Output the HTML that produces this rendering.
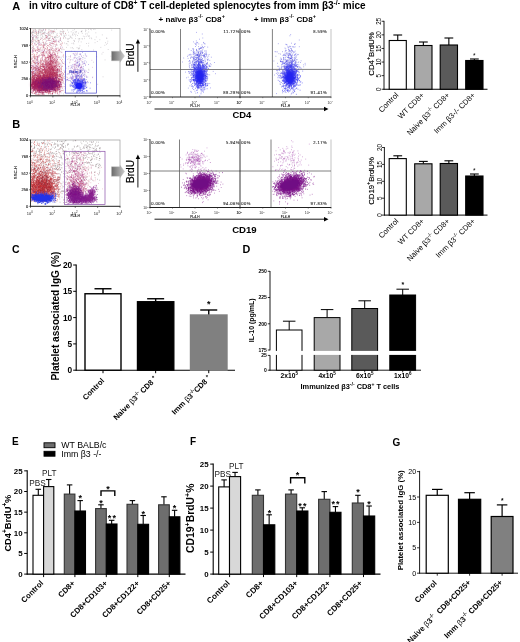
<!DOCTYPE html><html><head><meta charset="utf-8"><title>Figure</title>
<style>html,body{margin:0;padding:0;background:#fff}svg{display:block}text{font-family:'Liberation Sans', Arial, sans-serif}</style></head><body>
<svg width="520" height="642" viewBox="0 0 520 642">
<defs><linearGradient id="ag" x1="0" x2="1" y1="0" y2="0"><stop offset="0" stop-color="#6a6a6a"/><stop offset="1" stop-color="#c8c8c8"/></linearGradient>
<filter id="b1" x="-20%" y="-20%" width="140%" height="140%"><feGaussianBlur stdDeviation="0.4"/></filter>
<filter id="b3" x="-50%" y="-50%" width="200%" height="200%"><feGaussianBlur stdDeviation="0.9"/></filter><filter id="b2" x="-50%" y="-50%" width="200%" height="200%"><feGaussianBlur stdDeviation="1.6"/></filter>
</defs>
<rect width="520" height="642" fill="#fff"/>
<text x="12.20" y="9.60" font-size="11" font-weight="bold" fill="#000">A</text>
<text x="29.00" y="8.80" font-size="10" font-weight="bold" fill="#000">in vitro culture of CD8<tspan font-size="0.68em" dy="-0.62em">+</tspan><tspan dy="0.422em">&#8203;</tspan> T cell-depleted splenocytes from imm β3<tspan font-size="0.68em" dy="-0.62em">-/-</tspan><tspan dy="0.422em">&#8203;</tspan> mice</text>
<text x="158.60" y="21.80" font-size="8.1" font-weight="bold" fill="#000">+ naïve β3<tspan font-size="0.68em" dy="-0.62em">-/-</tspan><tspan dy="0.422em">&#8203;</tspan> CD8<tspan font-size="0.68em" dy="-0.62em">+</tspan><tspan dy="0.422em">&#8203;</tspan></text>
<text x="253.70" y="21.70" font-size="8.1" font-weight="bold" fill="#000">+ imm β3<tspan font-size="0.68em" dy="-0.62em">-/-</tspan><tspan dy="0.422em">&#8203;</tspan> CD8<tspan font-size="0.68em" dy="-0.62em">+</tspan><tspan dy="0.422em">&#8203;</tspan></text>
<text x="12.30" y="127.80" font-size="11" font-weight="bold" fill="#000">B</text>
<text x="12.00" y="253.40" font-size="10.5" font-weight="bold" fill="#000">C</text>
<text x="242.60" y="253.30" font-size="10.8" font-weight="bold" fill="#000">D</text>
<text x="12.00" y="444.60" font-size="10" font-weight="bold" fill="#000">E</text>
<text x="190.00" y="444.60" font-size="10" font-weight="bold" fill="#000">F</text>
<text x="392.50" y="445.60" font-size="10" font-weight="bold" fill="#000">G</text>
<rect x="30.50" y="28.50" width="89.50" height="67.30" fill="#fff" stroke="#9a9a9a" stroke-width="0.7"/>
<line x1="30.50" y1="28.20" x2="30.50" y2="96.10" stroke="#222" stroke-width="0.9"/>
<line x1="30.20" y1="95.80" x2="120.30" y2="95.80" stroke="#222" stroke-width="0.9"/>
<ellipse cx="45" cy="84.5" rx="14" ry="5.5" fill="#a82860" opacity="0.55" filter="url(#b2)"/>
<ellipse cx="48.5" cy="84" rx="7" ry="3.8" fill="#841878" opacity="0.65" filter="url(#b2)"/>
<ellipse cx="50.5" cy="68" rx="5" ry="13" fill="#c04060" opacity="0.25" filter="url(#b2)"/>
<g filter="url(#b1)">
<path transform="scale(.1)" d="m334 291h7m222 1h7m-222 0h7m546 1h7m-514 0h7m28 0h7m511 0h7m-74 1h7m-266 1h7m306 0h7m-201 1h7m163 2h7m-376 1h7m-140 0h7m-32 0h7m464 0h7m-380 0h7m4 0h7m-152 0h7m99 1h7m-31 0h7m-33 1h7m24 0h7m231 0h7m435 0h7m-774 1h7m372 1h7m-407 0h7m178 1h7m338 1h7m-443 2h7m-18 1h7m401 0h7m-461 1h7m148 0h7m0 0h7m-150 1h7m235 1h7m-1 0h7m-39 0h7m32 2h7m168 1h7m-274 0h7m-205 1h7m173 0h7m-147 0h7m25 0h7m-44 1h7m372 0h7m-156 0h7m234 0h7m-52 1h7m-1 0h7m-220 0h7m100 1h7m33 0h7m-402 1h7m165 0h7m-209 1h7m110 0h7m-46 0h7m-91 0h7m560 0h7m-514 1h7m-64 0h7m354 1h7m-362 0h7m71 0h7m40 0h7m23 0h7m-153 0h7m65 1h7m314 1h7m-109 0h7m-199 1h7m106 0h7m-217 1h7m141 1h7m-49 0h7m-122 0h7m421 0h7m-372 0h7m132 0h7m418 1h7m-525 1h7m-123 1h7m52 0h7m243 1h7m-10 0h7m-214 0h7m83 0h7m-201 0h7m57 1h7m-22 0h7m223 0h7m181 0h7m77 1h7m-221 0h7m-54 0h7m206 0h7m-258 1h7m-45 2h7m-104 0h7m-62 0h7m341 0h7m-317 1h7m93 0h7m-32 1h7m-25 0h7m-167 0h7m45 0h7m108 0h7m-42 1h7m-74 0h7m245 0h7m215 1h7m-495 1h7m371 1h7m7 2h7m-198 0h7m40 1h7m-204 1h7m-6 1h7m299 0h7m-251 1h7m-160 0h7m149 1h7m531 0h7m-157 1h7m-373 0h7m-17 1h7m159 0h7m60 1h7m-86 0h7m31 1h7m-308 0h7m220 0h7m-137 1h7m-34 1h7m310 0h7m-405 0h7m74 2h7m-42 0h7m-79 1h7m98 0h7m-59 0h7m-89 0h7m24 0h7m10 0h7m186 0h7m-118 1h7m296 0h7m-117 0h7m241 0h7m-265 0h7m-301 1h7m249 1h7m105 0h7m174 1h7m-14 0h7m-57 0h7m-362 1h7m377 1h7m-223 1h7m-225 1h7m120 1h7m-200 0h7m475 1h7m-346 0h7m38 0h7m145 1h7m-121 0h7m368 1h7m-407 1h7m-188 0h7m41 0h7m269 1h7m-377 0h7m205 0h7m-8 1h7m-8 1h7m-25 0h7m118 0h7m-160 2h7m211 0h7m-399 0h7m120 0h7m113 0h7m-250 1h7m216 1h7m-177 1h7m-14 0h7m25 0h7m497 0h7m149 0h7m-741 2h7m-4 0h7m128 0h7m4 0h7m-163 1h7m563 0h7m-245 1h7m-342 0h7m390 1h7m-33 0h7m-66 1h7m426 0h7m-232 1h7m-95 0h7m32 1h7m-116 0h7m-209 0h7m-120 0h7m118 0h7m317 0h7m91 0h7m-500 1h7m242 0h7m118 0h7m-23 0h7m-463 0h7m157 0h7m327 1h7m-473 0h7m236 0h7m-2 1h7m-83 0h7m-88 1h7m-123 0h7m31 2h7m25 1h7m-87 1h7m9 0h7m603 1h7m42 1h7m-325 0h7m-125 2h7m-56 1h7m270 1h7m-316 0h7m-101 1h7m-81 1h7m285 0h7m-258 0h7m377 1h7m-356 3h7m-13 0h7m-74 1h7m420 0h7m-365 0h7m70 0h7m68 2h7m534 2h7m-495 0h7m-267 1h7m277 1h7m-300 0h7m418 1h7m219 0h7m-302 0h7m-166 0h7m-172 1h7m5 0h7m16 0h7m291 0h7m93 2h7m18 1h7m-505 1h7m274 2h7m-262 1h7m44 1h7m25 1h7m627 2h7m-746 0h7m177 0h7m442 0h7m-457 1h7m229 2h7m-368 0h7m264 0h7m-202 1h7m616 1h7m-194 1h7m-441 0h7m259 1h7m137 1h7m-491 1h7m224 0h7m45 1h7m-234 0h7m227 0h7m62 2h7m-303 3h7m86 0h7m523 1h7m-616 0h7m-103 3h7m191 1h7m10 4h7m97 0h7m362 2h7m-256 5h7m78 1h7m-372 3h7m-195 1h7m218 1h7m-142 5h7m94 2h7m137 3h7m335 0h7m-409 2h7m157 0h7m-53 0h7m-294 0h7m265 2h7m78 1h7m-474 0h7m233 2h7m209 1h7m-473 1h7m407 3h7m53 1h7m-456 1h7m433 1h7m-174 0h7m-121 0h7m10 2h7m-124 1h7m12 1h7m-96 0h7m302 2h7m-261 0h7m688 0h7m-270 1h7m-207 1h7m-123 2h7m424 1h7m-565 2h7m62 4h7m49 3h7m-173 2h7m51 1h7m313 0h7m-165 1h7m-171 1h7m350 0h7m-150 4h7m-204 3h7m156 1h7m453 2h7m-18 16h7m-257 3h7m61 14h7m-91 0h7m-233 5h7m576 0h7m-772 2h7m337 2h7m271 1h7m-465 1h7m149 0h7m-282 2h7m238 2h7m-300 0h7m484 5h7m-230 5h7m-264 6h7m442 3h7m-132 3h7m25 1h7m334 4h7m-682 9h7m-50 0h7m477 2h7m-124 11h7m227 1h7m-316 5h7m-269 4h7m-21 2h7m126 13h7m-48 35h7m67 3h7m366 9h7m-536 1h7m524 7h7m-333 17h7m-2 3h7m69 3h7m-1 24h7m-85 7h7m-46 5h7m105 6h7m378 2h7m-625 8h7m285 64h7m266 3h7m-651 51h7m46 4h7m242 41h7" stroke="#8a8088" stroke-width="7" fill="none" opacity="0.6"/>
<path transform="scale(.1)" d="m316 291h7m131 3h7m-110 6h7m35 2h7m102 2h7m-178 3h7m78 0h7m-88 7h7m197 1h7m81 1h7m-141 2h7m-19 2h7m-125 2h7m12 0h7m-29 2h7m-55 4h7m37 3h7m113 0h7m-137 2h7m297 3h7m-233 1h7m177 0h7m-181 0h7m-41 3h7m196 3h7m-249 4h7m-48 2h7m170 3h7m-9 1h7m70 3h7m-254 1h7m128 0h7m-8 0h7m48 7h7m3 1h7m-173 4h7m-1 0h7m259 7h7m-283 0h7m-41 1h7m128 4h7m-19 7h7m5 3h7m-141 1h7m156 2h7m-58 1h7m-36 0h7m188 4h7m-278 3h7m252 0h7m-268 1h7m13 1h7m31 0h7m103 1h7m-130 1h7m42 1h7m123 5h7m-190 1h7m13 1h7m-69 2h7m201 0h7m40 2h7m-133 5h7m-82 3h7m233 0h7m-237 0h7m35 1h7m101 2h7m-224 2h7m185 3h7m101 2h7m-282 0h7m-35 0h7m81 5h7m19 2h7m-129 1h7m227 1h7m-59 1h7m-7 0h7m98 0h7m-220 1h7m-2 1h7m15 0h7m-101 1h7m90 1h7m-64 0h7m39 1h7m-63 1h7m67 1h7m5 1h7m-8 0h7m5 0h7m159 1h7m-146 0h7m-82 0h7m68 1h7m-33 0h7m-127 3h7m95 2h7m95 0h7m-168 5h7m86 1h7m-36 1h7m51 0h7m-67 1h7m-58 1h7m119 2h7m-183 1h7m98 1h7m-120 1h7m78 1h7m89 3h7m59 3h7m-149 0h7m146 0h7m-256 3h7m33 0h7m-2 0h7m88 0h7m-77 2h7m152 0h7m-117 2h7m-18 1h7m-100 0h7m273 1h7m-167 1h7m-93 2h7m-8 0h7m-66 2h7m41 0h7m-18 2h7m120 1h7m-64 0h7m99 1h7m-135 1h7m-45 0h7m-39 0h7m168 1h7m-195 1h7m194 0h7m-181 0h7m-21 2h7m30 0h7m-25 1h7m166 0h7m18 0h7m-210 2h7m27 0h7m82 2h7m-14 3h7m-124 1h7m30 1h7m39 1h7m-115 0h7m-13 1h7m138 3h7m-33 0h7m171 2h7m-194 0h7m-8 2h7m112 1h7m-191 0h7m44 0h7m125 3h7m-92 1h7m-28 1h7m131 0h7m-79 1h7m-88 0h7m-58 1h7m26 5h7m-78 1h7m139 1h7m-72 0h7m-57 0h7m-48 3h7m179 0h7m-85 1h7m-122 1h7m40 2h7m-29 0h7m284 1h7m-229 1h7m9 0h7m-17 1h7m-108 0h7m66 1h7m19 1h7m9 1h7m-92 0h7m81 0h7m45 0h7m-75 0h7m107 0h7m-197 1h7m226 1h7m-70 1h7m-39 0h7m142 0h7m-231 0h7m99 1h7m-76 1h7m-66 1h7m43 0h7m57 0h7m-59 0h7m57 0h7m-182 1h7m133 1h7m-88 0h7m-34 0h7m105 1h7m15 0h7m-85 1h7m123 1h7m-19 0h7m-101 0h7m-81 1h7m248 0h7m-291 0h7m8 1h7m4 1h7m-5 0h7m154 1h7m-208 1h7m18 0h7m-8 1h7m-40 0h7m17 1h7m143 1h7m-166 1h7m78 0h7m-13 2h7m82 2h7m-171 0h7m114 1h7m-93 0h7m123 1h7m68 0h7m-145 1h7m56 1h7m32 0h7m-133 0h7m-57 2h7m40 0h7m-74 0h7m125 0h7m-34 1h7m-147 1h7m130 0h7m-142 2h7m46 0h7m27 1h7m-67 0h7m66 1h7m-84 1h7m117 2h7m-160 1h7m85 4h7m214 0h7m-60 0h7m-262 0h7m42 0h7m2 0h7m-6 0h7m62 2h7m50 1h7m-99 1h7m142 2h7m-26 1h7m-183 0h7m-44 0h7m212 1h7m-142 1h7m-60 0h7m39 0h7m-72 1h7m94 0h7m-41 1h7m141 0h7m-108 1h7m-82 1h7m25 0h7m85 1h7m62 0h7m-149 0h7m18 0h7m-126 0h7m150 1h7m-173 1h7m217 0h7m-212 0h7m111 0h7m-36 1h7m65 0h7m68 0h7m-236 1h7m22 0h7m-70 1h7m179 0h7m-2 1h7m-21 0h7m-100 1h7m-73 1h7m128 1h7m-98 1h7m94 0h7m-75 0h7m18 1h7m74 1h7m51 0h7m-253 1h7m217 0h7m34 0h7m-269 1h7m235 1h7m-50 2h7m-103 1h7m14 0h7m-121 0h7m20 0h7m-29 0h7m131 0h7m-97 1h7m-90 0h7m-2 1h7m228 0h7m6 1h7m-20 0h7m-77 0h7m-134 1h7m44 0h7m43 1h7m-109 1h7m15 0h7m-35 1h7m95 0h7m141 0h7m-173 0h7m111 0h7m-132 1h7m-121 1h7m88 0h7m16 1h7m41 0h7m-51 2h7m-113 0h7m64 0h7m241 0h7m-308 1h7m50 0h7m-27 0h7m-37 0h7m224 1h7m-111 0h7m-16 1h7m-58 0h7m-20 1h7m-28 1h7m258 0h7m-244 0h7m-3 1h7m70 0h7m1 1h7m16 2h7m-110 0h7m136 0h7m-86 1h7m53 0h7m-115 0h7m-20 0h7m36 1h7m-76 0h7m137 1h7m-66 0h7m-58 1h7m8 1h7m-132 0h7m130 1h7m-84 0h7m2 1h7m-45 0h7m57 1h7m-57 0h7m-12 1h7m280 0h7m-299 0h7m-16 0h7m44 1h7m-74 1h7m143 2h7m21 0h7m92 0h7m-212 0h7m204 0h7m-213 1h7m17 0h7m-5 1h7m75 0h7m-32 0h7m-129 1h7m212 1h7m-277 0h7m138 0h7m28 2h7m-117 0h7m144 1h7m-214 0h7m3 0h7m-18 1h7m-21 2h7m20 1h7m4 0h7m28 2h7m-70 0h7m42 1h7m119 0h7m29 0h7m-18 1h7m22 0h7m-46 1h7m20 0h7m-179 0h7m-42 1h7m21 1h7m152 1h7m-217 0h7m183 0h7m-138 1h7m7 0h7m-63 2h7m7 0h7m34 0h7m-24 0h7m164 1h7m-84 0h7m-110 2h7m54 0h7m-15 1h7m85 0h7m-152 0h7m-34 1h7m260 0h7m-198 0h7m-71 1h7m118 0h7m-91 1h7m117 0h7m-27 1h7m-150 0h7m104 0h7m85 1h7m-169 0h7m-85 1h7m241 0h7m-233 0h7m17 1h7m11 0h7m137 2h7m-21 0h7m33 0h7m-74 1h7m-168 0h7m153 1h7m55 0h7m-29 1h7m-167 0h7m-5 0h7m66 0h7m-51 0h7m201 1h7m-149 0h7m-82 2h7m65 0h7m112 0h7m31 0h7m-95 0h7m-176 1h7m47 2h7m35 1h7m-36 1h7m-50 0h7m-13 0h7m5 1h7m14 0h7m141 0h7m-160 1h7m189 0h7m-12 0h7m-94 1h7m-120 0h7m94 0h7m-100 0h7m19 0h7m-105 1h7m30 0h7m-19 0h7m-26 0h7m137 0h7m-80 1h7m87 0h7m67 0h7m19 1h7m-208 0h7m-77 0h7m-12 0h7m84 1h7m-81 0h7m123 1h7m37 0h7m-102 1h7m41 0h7m-86 1h7m-78 0h7m239 0h7m-189 0h7m255 0h7m-158 0h7m153 1h7m-251 0h7m-46 0h7m47 0h7m-59 0h7m0 1h7m120 1h7m-157 0h7m291 0h7m-206 0h7m-69 0h7m112 0h7m-152 1h7m27 0h7m49 0h7m-145 0h7m72 1h7m21 1h7m-54 0h7m55 0h7m-127 1h7m268 0h7m-132 0h7m11 1h7m9 0h7m-77 0h7m-47 0h7m-47 1h7m12 0h7m-53 0h7m231 1h7m-72 0h7m-150 0h7m71 0h7m79 1h7m126 2h7m-193 0h7m-145 0h7m62 0h7m151 1h7m-239 0h7m46 0h7m13 0h7m107 1h7m6 0h7m-27 1h7m-82 0h7m-42 0h7m-77 2h7m51 0h7m119 1h7m-25 0h7m57 0h7m-218 1h7m285 0h7m-221 0h7m-88 0h7m92 2h7m37 1h7m-80 0h7m-19 0h7m-38 0h7m2 1h7m-40 0h7m-26 1h7m99 0h7m193 0h7m-274 2h7m24 0h7m78 2h7m28 0h7m-82 0h7m114 0h7m-143 1h7m-4 0h7m177 1h7m-290 0h7m142 0h7m-160 0h7m285 0h7m-182 1h7m-100 0h7m99 1h7m-138 0h7m-7 0h7m-6 1h7m23 0h7m67 0h7m-10 1h7m-103 0h7m23 0h7m100 1h7m-40 1h7m-62 1h7m-13 0h7m-38 0h7m107 1h7m49 0h7m-30 1h7m-112 0h7m261 1h7m-255 0h7m146 2h7m-185 0h7m13 0h7m-91 0h7m22 0h7m-27 0h7m22 1h7m-2 0h7m101 0h7m126 0h7m-189 0h7m14 0h7m36 0h7m-81 0h7m-8 1h7m38 0h7m-85 0h7m53 0h7m-96 0h7m1 1h7m20 0h7m180 0h7m-105 0h7m79 0h7m-228 0h7m-12 1h7m134 0h7m-130 0h7m239 1h7m-124 0h7m-155 0h7m-8 0h7m65 1h7m82 0h7m33 1h7m2 0h7m-34 0h7m-143 1h7m22 0h7m184 0h7m-160 0h7m187 1h7m-69 0h7m-215 1h7m290 0h7m-318 0h7m29 0h7m107 1h7m69 0h7m47 0h7m-295 1h7m-18 0h7m-21 1h7m100 0h7m-36 0h7m-26 1h7m46 0h7m-76 0h7m119 0h7m-39 0h7m-61 0h7m53 1h7m-107 0h7m254 0h7m-158 1h7m-111 0h7m179 2h7m-162 0h7m156 0h7m-90 0h7m-60 0h7m41 0h7m-114 1h7m242 0h7m-276 0h7m51 1h7m76 0h7m-69 1h7m-104 0h7m86 0h7m119 0h7m89 0h7m-318 1h7m10 0h7m247 1h7m-75 1h7m-166 0h7m168 0h7m-116 1h7m-102 0h7m180 1h7m-104 0h7m-108 0h7m20 1h7m-50 0h7m81 0h7m-56 0h7m178 1h7m-92 0h7m-108 0h7m58 0h7m194 1h7m-129 1h7m-32 1h7m-167 0h7m-1 0h7m9 1h7m30 0h7m-59 0h7m112 0h7m128 0h7m-235 0h7m74 1h7m151 0h7m-275 0h7m24 0h7m121 0h7m-119 1h7m48 0h7m72 0h7m-13 0h7m31 0h7m-205 0h7m-6 1h7m-20 0h7m135 0h7m-71 0h7m-10 0h7m-26 1h7m140 1h7m-14 0h7m-97 1h7m-40 0h7m-78 1h7m58 0h7m53 0h7m-129 0h7m65 0h7m-80 0h7m184 1h7m-44 1h7m-130 0h7m-34 0h7m28 0h7m-41 1h7m57 0h7m59 0h7m-43 1h7m-63 1h7m47 0h7m83 0h7m-109 1h7m67 0h7m-172 0h7m22 0h7m178 0h7m-116 1h7m-76 0h7m83 1h7m-94 0h7m191 0h7m-89 0h7m-135 0h7m108 1h7m36 0h7m83 0h7m-136 0h7m-16 0h7m-37 0h7m-80 1h7m8 0h7m83 0h7m81 0h7m-4 0h7m-123 1h7m67 1h7m-87 2h7m80 1h7m-58 1h7m160 0h7m-210 0h7m-100 1h7m-17 0h7m82 2h7m13 0h7m-117 0h7m-12 0h7m81 0h7m-86 1h7m5 0h7m144 0h7m-121 1h7m32 0h7m111 0h7m-209 0h7m8 0h7m76 0h7m39 1h7m21 0h7m-187 0h7m69 1h7m-27 0h7m-55 0h7m78 0h7m230 0h7m-76 0h7m-229 1h7m212 0h7m-186 0h7m117 0h7m-94 0h7m-120 1h7m206 0h7m-142 0h7m2 0h7m-37 1h7m-68 0h7m60 0h7m-36 0h7m145 0h7m-9 0h7m-116 1h7m-16 0h7m-80 0h7m153 0h7m-83 1h7m-87 0h7m304 0h7m-247 1h7m59 0h7m-122 0h7m66 0h7m-73 1h7m-5 0h7m-24 0h7m-4 1h7m19 0h7m71 0h7m116 0h7m-27 1h7m-92 0h7m-153 0h7m146 1h7m-48 0h7m16 1h7m29 0h7m16 0h7m-122 1h7m-39 1h7m-29 0h7m45 0h7m-58 0h7m107 0h7m125 1h7m-93 0h7m-111 1h7m50 0h7m-105 2h7m92 0h7m-99 1h7m-17 0h7m21 0h7m50 0h7m88 0h7m-164 0h7m-70 1h7m214 0h7m-24 0h7m-51 0h7m-96 1h7m34 0h7m57 0h7m-149 1h7m89 0h7m-8 0h7m-85 0h7m192 0h7m-198 1h7m233 0h7m-233 0h7m93 1h7m-92 0h7m22 0h7m132 0h7m-228 1h7m11 0h7m-42 0h7m126 0h7m53 1h7m-3 0h7m-147 0h7m60 0h7m-151 1h7m17 0h7m215 1h7m-235 0h7m25 0h7m58 1h7m41 0h7m-50 0h7m-102 1h7m175 0h7m-208 0h7m85 1h7m-93 0h7m44 0h7m52 0h7m36 0h7m-77 1h7m29 0h7m-14 0h7m96 0h7m-4 1h7m-133 0h7m69 0h7m-28 0h7m87 0h7m-98 1h7m-129 0h7m183 1h7m-191 0h7m23 0h7m-4 0h7m-34 0h7m16 0h7m-75 1h7m59 1h7m105 0h7m-56 0h7m-8 1h7m5 0h7m-94 0h7m126 1h7m-53 0h7m-8 0h7m-86 1h7m107 0h7m-184 0h7m213 1h7m-95 0h7m-27 0h7m-109 0h7m147 0h7m-45 0h7m-86 1h7m-54 0h7m113 0h7m65 0h7m-124 0h7m-45 0h7m13 1h7m267 0h7m-227 0h7m142 0h7m-101 1h7m-140 0h7m-22 0h7m79 0h7m-73 1h7m228 0h7m-277 0h7m144 0h7m-99 1h7m188 0h7m-162 1h7m-82 0h7m219 0h7m-25 0h7m-241 1h7m251 0h7m-54 1h7m-190 1h7m84 0h7m-62 1h7m109 0h7m-110 0h7m64 0h7m-68 0h7m167 0h7m-267 1h7m135 0h7m132 0h7m-231 0h7m173 1h7m-209 0h7m-3 0h7m75 1h7m150 0h7m-129 1h7m-119 0h7m155 0h7m-81 0h7m46 1h7m-175 0h7m99 0h7m60 0h7m-177 0h7m250 0h7m-158 1h7m-77 0h7m-68 1h7m201 0h7m-45 1h7m-172 0h7m10 0h7m12 0h7m22 1h7m-25 1h7m-41 0h7m136 1h7m-131 0h7m-6 0h7m119 0h7m3 1h7m-15 0h7m50 0h7m3 0h7m68 1h7m-263 1h7m115 0h7m63 0h7m-156 1h7m-89 0h7m41 0h7m40 1h7m-97 1h7m206 0h7m-195 0h7m-32 1h7m128 0h7m88 1h7m-47 0h7m-192 1h7m-28 0h7m268 0h7m-128 0h7m-93 1h7m155 0h7m-27 0h7m-163 0h7m199 1h7m-270 0h7m127 0h7m-77 0h7m89 0h7m25 1h7m8 0h7m-190 0h7m144 0h7m-26 0h7m-80 1h7m-3 0h7m-38 0h7m93 1h7m-29 0h7m-43 0h7m-72 0h7m37 0h7m-9 1h7m199 0h7m-178 1h7m35 0h7m-88 0h7m-52 0h7m152 0h7m51 1h7m18 1h7m-161 0h7m-77 0h7m-41 0h7m24 2h7m125 0h7m-85 1h7m-82 0h7m225 0h7m53 0h7m-60 1h7m-243 0h7m105 1h7m173 0h7m-319 1h7m52 1h7m144 1h7m-56 0h7m75 1h7m-148 0h7m18 0h7m-64 1h7m50 0h7m46 1h7m2 2h7m-28 1h7m-153 0h7m50 0h7m128 1h7m-172 1h7m163 0h7m-115 1h7m22 0h7m-108 0h7m46 2h7m67 1h7m-124 0h7m229 1h7m-215 0h7m59 0h7m-140 1h7m314 0h7m-106 0h7m-115 0h7m34 1h7m-130 0h7m64 1h7m-50 0h7m-32 0h7m180 1h7m-151 0h7m53 2h7m20 0h7m-151 4h7m154 2h7" stroke="#c84858" stroke-width="7" fill="none" opacity="0.6"/>
<path transform="scale(.1)" d="m428 298h7m16 5h7m-103 11h7m18 6h7m122 1h7m-17 8h7m-46 6h7m-22 6h7m-126 7h7m12 11h7m123 2h7m-170 5h7m15 2h7m23 4h7m-51 2h7m38 5h7m175 11h7m-24 4h7m-215 3h7m233 6h7m30 2h7m-56 0h7m-163 3h7m59 4h7m55 1h7m49 1h7m-2 3h7m-273 1h7m32 4h7m160 4h7m-34 1h7m-112 4h7m7 1h7m-69 2h7m30 1h7m-43 6h7m34 1h7m65 2h7m-68 0h7m-43 1h7m134 4h7m-67 2h7m-67 3h7m41 6h7m-107 2h7m212 1h7m48 4h7m6 2h7m-253 0h7m-12 3h7m1 3h7m242 2h7m-231 0h7m-86 2h7m225 2h7m-223 7h7m45 1h7m49 5h7m46 1h7m76 5h7m-263 1h7m165 0h7m-183 2h7m260 0h7m-178 4h7m-65 1h7m104 0h7m-51 1h7m-35 1h7m-52 0h7m28 1h7m50 0h7m-119 1h7m94 1h7m155 4h7m-272 1h7m115 0h7m-42 2h7m10 0h7m-118 1h7m43 3h7m-6 0h7m235 0h7m-304 1h7m169 2h7m-46 11h7m46 6h7m31 1h7m-38 1h7m-96 2h7m112 1h7m-130 1h7m84 2h7m-127 0h7m20 2h7m83 3h7m-136 1h7m40 4h7m63 0h7m-128 3h7m116 1h7m79 2h7m-169 0h7m-100 2h7m40 0h7m-71 2h7m286 0h7m-40 2h7m-213 0h7m80 1h7m39 2h7m-9 1h7m-140 3h7m193 1h7m-221 0h7m-37 1h7m93 7h7m-61 0h7m-15 3h7m134 0h7m-153 2h7m59 1h7m49 1h7m-38 0h7m-77 1h7m186 0h7m-77 1h7m-181 2h7m39 5h7m161 1h7m-51 0h7m66 1h7m-250 2h7m62 2h7m3 1h7m-45 0h7m62 4h7m204 2h7m-184 3h7m10 0h7m-116 0h7m-25 1h7m0 1h7m170 0h7m-180 2h7m-25 0h7m35 1h7m93 1h7m54 0h7m-135 2h7m188 0h7m-266 1h7m28 2h7m68 3h7m-30 4h7m-109 2h7m141 0h7m105 1h7m-246 2h7m110 1h7m-67 1h7m116 0h7m33 1h7m-257 3h7m255 0h7m-249 0h7m75 1h7m4 0h7m-131 0h7m108 4h7m-136 0h7m-3 0h7m239 0h7m26 4h7m-232 1h7m-60 0h7m37 1h7m-44 0h7m77 1h7m-87 1h7m32 0h7m0 1h7m43 1h7m20 0h7m-41 1h7m-72 0h7m101 1h7m-5 2h7m120 1h7m-138 0h7m-128 2h7m180 0h7m-4 1h7m-40 0h7m-124 1h7m-49 1h7m213 0h7m-178 1h7m-38 2h7m8 1h7m-32 1h7m13 1h7m287 0h7m-299 2h7m6 1h7m18 0h7m-86 3h7m154 1h7m-172 0h7m115 1h7m-52 0h7m74 1h7m-96 2h7m39 0h7m-67 0h7m183 0h7m-125 1h7m-19 3h7m-113 0h7m16 0h7m0 0h7m-28 0h7m75 1h7m-50 0h7m-11 1h7m8 0h7m181 0h7m-131 1h7m-78 1h7m36 1h7m37 1h7m160 1h7m-67 0h7m-260 0h7m55 1h7m-39 0h7m-13 0h7m10 0h7m-26 0h7m124 0h7m-67 2h7m-80 1h7m31 0h7m261 1h7m-156 0h7m-192 0h7m2 1h7m113 0h7m123 1h7m-23 0h7m-169 2h7m90 0h7m98 0h7m-295 1h7m284 0h7m-31 1h7m-274 0h7m191 1h7m-203 0h7m135 1h7m-52 0h7m-25 0h7m-59 1h7m186 0h7m-143 0h7m167 0h7m-113 1h7m29 2h7m-26 1h7m-102 2h7m210 0h7m-267 0h7m-36 0h7m194 1h7m-35 2h7m-59 1h7m24 1h7m-21 0h7m-133 0h7m5 2h7m7 1h7m132 1h7m-49 1h7m-113 0h7m-17 1h7m124 1h7m-160 0h7m9 0h7m186 0h7m-150 1h7m-37 1h7m3 1h7m-1 2h7m115 0h7m101 2h7m-279 1h7m171 1h7m94 2h7m-117 3h7m45 0h7m-106 0h7m-127 1h7m-16 1h7m45 0h7m200 1h7m45 0h7m-231 0h7m14 1h7m-71 0h7m131 0h7m-183 0h7m265 1h7m-220 0h7m-11 0h7m-66 1h7m144 0h7m-93 0h7m58 1h7m-115 0h7m-4 0h7m33 0h7m-23 0h7m-41 1h7m42 0h7m9 1h7m168 1h7m-121 0h7m-91 2h7m11 0h7m-43 1h7m-7 0h7m15 1h7m11 0h7m56 0h7m-46 0h7m-43 0h7m40 1h7m-1 0h7m16 1h7m84 2h7m-36 0h7m-186 1h7m-12 1h7m140 3h7m-21 0h7m-71 0h7m-43 1h7m8 0h7m-46 1h7m-10 0h7m-32 0h7m-4 0h7m81 0h7m-105 1h7m220 0h7m-216 3h7m8 1h7m66 0h7m-9 0h7m-83 1h7m172 0h7m-163 0h7m10 0h7m-55 2h7m131 0h7m-83 1h7m-71 0h7m186 0h7m-64 0h7m-102 2h7m106 0h7m140 2h7m1 0h7m-315 0h7m0 1h7m12 1h7m67 0h7m-44 1h7m199 1h7m-137 0h7m-159 0h7m164 2h7m-146 2h7m100 1h7m-149 0h7m83 0h7m4 0h7m-80 1h7m54 0h7m76 0h7m53 1h7m-108 1h7m205 0h7m-162 0h7m-155 0h7m116 1h7m-160 0h7m126 0h7m-152 3h7m69 1h7m38 1h7m-28 1h7m-17 0h7m80 0h7m-183 0h7m25 1h7m279 0h7m-219 0h7m-97 1h7m320 0h7m-144 1h7m-104 1h7m1 2h7m141 0h7m-178 1h7m123 0h7m-70 2h7m-146 2h7m196 0h7m-79 0h7m-153 2h7m257 0h7m-282 0h7m184 1h7m33 0h7m70 0h7m-149 1h7m-139 0h7m26 0h7m119 1h7m-184 1h7m31 0h7m-60 0h7m63 1h7m92 2h7m-120 1h7m55 1h7m-110 0h7m-16 1h7m140 0h7m-148 0h7m6 1h7m120 0h7m-57 1h7m-32 0h7m35 0h7m-10 0h7m-70 1h7m83 0h7m76 1h7m-217 0h7m14 1h7m281 0h7m-248 0h7m116 1h7m-116 0h7m146 1h7m-216 0h7m193 2h7m-125 1h7m-95 0h7m-13 0h7m134 1h7m-84 1h7m-40 0h7m-38 0h7m74 1h7m-55 0h7m60 0h7m-129 1h7m33 1h7m280 1h7m-303 0h7m132 0h7m118 0h7m-214 0h7m-48 1h7m-6 1h7m-11 0h7m77 0h7m-59 0h7m181 1h7m-247 0h7m74 1h7m166 0h7m48 0h7m-263 0h7m-45 1h7m-5 0h7m12 1h7m111 0h7m-10 3h7m-63 1h7m41 0h7m71 1h7m17 0h7m-268 1h7m32 0h7m14 1h7m1 0h7m111 0h7m-176 1h7m93 1h7m2 0h7m-93 0h7m47 1h7m-106 0h7m92 1h7m129 1h7m-144 1h7m-34 0h7m-12 0h7m241 0h7m-301 0h7m123 1h7m-123 0h7m-41 1h7m264 0h7m-229 1h7m123 0h7m83 0h7m-128 2h7m21 0h7m-86 2h7m-97 1h7m-21 1h7m201 0h7m-15 1h7m-65 0h7m185 1h7m-265 0h7m7 0h7m170 0h7m-195 1h7m152 0h7m38 0h7m19 0h7m-219 1h7m117 0h7m44 0h7m-236 2h7m151 0h7m-113 1h7m-71 0h7m-20 1h7m-12 0h7m48 0h7m144 0h7m-161 1h7m214 1h7m-172 0h7m-59 1h7m257 0h7m-268 1h7m-44 0h7m7 0h7m63 1h7m-58 1h7m18 0h7m22 1h7m-27 0h7m14 1h7m-117 1h7m248 0h7m-103 1h7m-104 0h7m33 0h7m4 0h7m-60 0h7m-55 0h7m-11 2h7m57 0h7m113 0h7m-214 0h7m30 1h7m99 0h7m-36 0h7m-51 0h7m93 1h7m-18 0h7m-122 0h7m125 1h7m91 0h7m-202 0h7m127 0h7m-33 0h7m-72 1h7m-64 1h7m25 0h7m-11 0h7m-29 0h7m41 0h7m-72 1h7m35 1h7m218 0h7m-287 1h7m-26 2h7m146 1h7m-138 0h7m20 0h7m172 1h7m-182 2h7m79 0h7m-94 0h7m75 2h7m-105 0h7m67 0h7m-119 1h7m33 1h7m40 1h7m-75 1h7m-34 0h7m259 0h7m-203 1h7m-23 0h7m-18 3h7m-19 0h7m-46 1h7m54 1h7m-71 1h7m70 1h7m94 4h7m37 2h7m-180 0h7m59 0h7m172 1h7m-256 0h7m76 1h7m-91 2h7m-46 2h7m28 1h7m213 2h7" stroke="#9040a0" stroke-width="7" fill="none" opacity="0.5"/>
<path transform="scale(.1)" d="m431 532h8m34 44h8m43 10h8m-190 2h8m181 8h8m-116 4h8m179 7h8m-165 0h8m-35 0h8m133 9h8m-168 1h8m53 1h8m-27 4h8m23 2h8m-90 1h8m-64 1h8m25 3h8m196 0h8m-132 0h8m76 1h8m0 1h8m-87 1h8m-56 2h8m201 1h8m-256 0h8m104 0h8m89 3h8m-216 0h8m62 3h8m-88 1h8m82 2h8m95 0h8m-120 0h8m-24 0h8m49 1h8m-88 3h8m36 1h8m-41 1h8m23 2h8m89 1h8m-250 0h8m233 5h8m21 1h8m-102 1h8m-95 0h8m91 0h8m-142 2h8m27 0h8m45 0h8m8 0h8m68 2h8m-84 1h8m-40 0h8m-18 0h8m-12 0h8m71 0h8m-81 1h8m-28 0h8m136 0h8m-33 0h8m-149 1h8m83 0h8m33 1h8m42 0h8m-62 0h8m69 0h8m-183 0h8m-26 0h8m-92 2h8m186 0h8m-78 0h8m46 1h8m-59 1h8m67 0h8m-169 1h8m158 1h8m-100 0h8m-11 1h8m-123 0h8m80 0h8m-23 1h8m-41 0h8m-50 1h8m168 0h8m-66 0h8m52 0h8m-39 1h8m-123 1h8m167 0h8m-78 0h8m-78 1h8m17 0h8m62 1h8m130 0h8m-176 0h8m-140 0h8m123 3h8m107 0h8m-210 0h8m44 0h8m-83 3h8m63 0h8m38 1h8m-42 0h8m-62 1h8m136 1h8m-130 1h8m182 1h8m-204 0h8m59 0h8m-100 0h8m146 0h8m-56 1h8m5 0h8m-157 0h8m137 1h8m12 0h8m118 0h8m-235 0h8m-11 0h8m80 1h8m-53 0h8m113 0h8m-159 1h8m84 0h8m30 0h8m-139 1h8m44 0h8m66 1h8m-27 0h8m-73 0h8m13 1h8m-46 0h8m-21 0h8m104 0h8m9 1h8m-59 0h8m96 0h8m-170 0h8m12 0h8m-64 1h8m16 1h8m76 1h8m40 0h8m-125 1h8m59 0h8m54 1h8m-93 0h8m-63 0h8m101 0h8m-161 0h8m66 1h8m106 0h8m-110 1h8m-70 0h8m62 1h8m28 0h8m-48 0h8m-116 0h8m97 0h8m-16 1h8m-18 0h8m-6 0h8m6 1h8m-11 0h8m65 0h8m-104 1h8m34 0h8m-37 0h8m-79 0h8m-18 0h8m155 0h8m-12 1h8m78 1h8m-94 1h8m-114 0h8m55 1h8m-87 0h8m73 0h8m15 2h8m-113 1h8m-73 0h8m113 0h8m-75 0h8m-8 0h8m89 0h8m-163 0h8m108 1h8m-43 0h8m-10 0h8m125 0h8m-100 0h8m-38 1h8m179 0h8m-159 1h8m-88 0h8m-61 0h8m-7 0h8m108 0h8m0 0h8m44 0h8m-134 1h8m63 0h8m-28 1h8m10 0h8m18 0h8m-66 1h8m52 0h8m16 0h8m-140 1h8m94 0h8m-30 0h8m-128 1h8m68 0h8m128 0h8m-9 1h8m-29 0h8m-109 0h8m149 1h8m-49 0h8m-118 0h8m-111 0h8m124 0h8m84 1h8m-43 0h8m-87 1h8m33 0h8m-66 0h8m85 0h8m-163 0h8m135 1h8m75 0h8m-268 0h8m90 0h8m-43 0h8m67 1h8m78 0h8m-171 0h8m136 0h8m-106 0h8m6 1h8m-60 0h8m130 0h8m-79 0h8m-7 0h8m-41 1h8m109 0h8m-70 1h8m-155 0h8m26 0h8m28 0h8m96 0h8m-119 0h8m148 1h8m-68 0h8m-30 0h8m0 0h8m-16 0h8m-145 1h8m58 1h8m99 0h8m-13 0h8m-54 0h8m-25 0h8m-42 0h8m-5 1h8m127 0h8m-60 0h8m-101 0h8m19 0h8m-51 0h8m-38 0h8m277 1h8m-288 0h8m33 0h8m37 1h8m151 0h8m-105 0h8m97 0h8m-84 0h8m-27 1h8m-5 0h8m-86 0h8m16 0h8m123 1h8m-107 0h8m-141 0h8m231 0h8m-72 0h8m-67 0h8m-130 0h8m40 1h8m-24 0h8m163 0h8m-42 0h8m-57 0h8m1 0h8m-5 0h8m-46 0h8m86 0h8m-165 1h8m45 0h8m-95 1h8m-42 0h8m174 0h8m58 0h8m-113 0h8m-88 0h8m82 1h8m36 0h8m22 0h8m-117 0h8m69 1h8m4 0h8m-157 0h8m166 1h8m-119 0h8m-54 0h8m40 0h8m-10 0h8m-52 0h8m-54 0h8m90 1h8m-2 0h8m-2 0h8m56 0h8m-175 0h8m181 0h8m-12 0h8m-213 0h8m72 0h8m64 1h8m44 0h8m-175 0h8m116 0h8m-144 0h8m38 0h8m60 1h8m-130 0h8m121 0h8m-23 0h8m102 0h8m-24 0h8m-135 0h8m22 0h8m64 0h8m6 0h8m45 1h8m-162 0h8m69 0h8m-42 1h8m59 0h8m-174 0h8m179 0h8m-205 0h8m158 1h8m-189 0h8m2 0h8m66 0h8m-26 0h8m-29 0h8m56 1h8m-48 0h8m-116 0h8m57 1h8m51 0h8m-123 0h8m-5 0h8m119 0h8m36 0h8m105 0h8m-110 0h8m-56 0h8m-2 0h8m76 1h8m27 0h8m-126 0h8m-19 0h8m88 0h8m-26 0h8m-213 1h8m124 0h8m-28 0h8m-11 0h8m-25 1h8m64 0h8m-77 0h8m-41 0h8m99 0h8m-26 0h8m-8 1h8m-142 0h8m59 0h8m-51 0h8m78 0h8m-67 0h8m81 0h8m81 1h8m-131 0h8m-47 0h8m-30 0h8m52 1h8m148 0h8m-221 0h8m131 1h8m-50 0h8m22 0h8m-22 0h8m-106 0h8m26 0h8m-29 0h8m163 1h8m-238 0h8m-63 0h8m175 0h8m-72 0h8m-5 0h8m-48 0h8m130 1h8m-218 0h8m103 0h8m35 0h8m-93 0h8m195 0h8m-229 0h8m9 1h8m60 0h8m105 0h8m-154 0h8m-106 0h8m146 0h8m-13 0h8m-38 0h8m42 1h8m-65 0h8m-63 0h8m-18 0h8m24 0h8m-90 0h8m96 0h8m24 0h8m-101 0h8m-1 0h8m81 0h8m6 1h8m-68 0h8m-24 0h8m97 0h8m-39 1h8m-165 0h8m69 0h8m85 0h8m86 0h8m-234 0h8m75 1h8m-137 0h8m158 0h8m69 0h8m-180 0h8m91 0h8m-103 1h8m136 0h8m-150 0h8m29 0h8m0 0h8m32 0h8m-154 1h8m236 0h8m-146 0h8m-1 0h8m-63 0h8m-49 0h8m119 1h8m-82 0h8m-65 0h8m-31 0h8m-8 0h8m91 1h8m-44 0h8m138 0h8m-174 0h8m50 0h8m15 0h8m-2 0h8m-98 0h8m137 1h8m-168 0h8m139 0h8m-93 0h8m95 0h8m38 0h8m-82 0h8m120 1h8m-131 0h8m74 0h8m30 0h8m-249 0h8m71 0h8m39 0h8m1 0h8m-66 0h8m0 0h8m-36 1h8m-20 0h8m33 0h8m-76 0h8m128 0h8m-120 0h8m63 0h8m-54 1h8m-107 0h8m68 0h8m195 0h8m-124 0h8m-47 0h8m-72 0h8m153 0h8m-46 1h8m-133 0h8m-61 0h8m142 0h8m-78 0h8m-37 0h8m31 0h8m-122 0h8m160 0h8m-26 1h8m40 0h8m-135 0h8m-63 0h8m119 0h8m-15 0h8m-63 0h8m77 0h8m-115 0h8m238 1h8m-233 0h8m-13 0h8m15 0h8m34 0h8m-29 0h8m55 0h8m-25 0h8m-103 1h8m17 0h8m47 0h8m-106 0h8m182 0h8m-172 0h8m-37 0h8m52 1h8m88 0h8m-71 0h8m-143 0h8m108 0h8m-56 0h8m-37 1h8m117 0h8m-43 0h8m29 0h8m32 0h8m-64 1h8m5 0h8m1 0h8m-129 0h8m103 0h8m-40 0h8m-48 0h8m-45 1h8m-9 0h8m-47 0h8m211 0h8m-5 0h8m-138 0h8m-59 0h8m95 1h8m-128 0h8m158 0h8m5 0h8m-26 0h8m-42 0h8m-68 0h8m-105 0h8m130 0h8m-52 0h8m-96 1h8m84 0h8m-37 0h8m-69 0h8m37 0h8m-22 0h8m44 1h8m-32 0h8m37 0h8m-54 0h8m-3 0h8m68 0h8m-67 0h8m80 0h8m-172 0h8m30 0h8m52 1h8m53 0h8m-102 0h8m25 0h8m-87 0h8m35 0h8m98 1h8m-99 0h8m-48 0h8m17 0h8m202 0h8m-108 0h8m-209 0h8m144 0h8m-115 0h8m5 0h8m132 0h8m63 1h8m-171 0h8m-10 0h8m14 0h8m65 0h8m26 0h8m-133 1h8m58 0h8m101 0h8m-97 0h8m-102 0h8m-32 0h8m-82 0h8m215 0h8m-118 1h8m61 0h8m-67 0h8m95 0h8m-110 0h8m92 0h8m-147 0h8m87 1h8m-152 0h8m50 0h8m94 0h8m13 1h8m77 0h8m-285 0h8m102 0h8m49 0h8m79 0h8m-154 1h8m34 0h8m-37 0h8m-106 0h8m229 0h8m-156 1h8m-27 0h8m57 0h8m-74 0h8m-125 0h8m100 0h8m-9 0h8m75 0h8m98 0h8m-297 0h8m116 0h8m28 0h8m-112 0h8m-12 1h8m184 0h8m-134 0h8m84 0h8m-51 0h8m113 0h8m-211 0h8m184 0h8m-246 0h8m98 0h8m-10 0h8m-45 0h8m-41 0h8m-42 1h8m118 1h8m73 0h8m-101 0h8m-83 0h8m64 0h8m111 0h8m-75 0h8m-81 0h8m20 1h8m-168 0h8m65 0h8m69 0h8m-113 0h8m29 1h8m97 0h8m-181 0h8m132 0h8m100 0h8m-215 0h8m13 0h8m-23 0h8m128 0h8m34 0h8m-135 0h8m64 0h8m-146 1h8m-39 0h8m127 0h8m83 1h8m49 0h8m-89 0h8m-130 0h8m120 0h8m-220 0h8m92 0h8m57 1h8m-156 0h8m52 0h8m-93 0h8m102 0h8m7 0h8m-114 0h8m49 1h8m120 0h8m-144 0h8m-86 1h8m41 0h8m-37 0h8m180 0h8m-108 0h8m-28 0h8m54 0h8m22 0h8m-85 0h8m9 0h8m115 1h8m-57 0h8m-149 0h8m-50 0h8m49 0h8m37 0h8m-48 1h8m-73 0h8m97 0h8m108 0h8m-27 0h8m-124 0h8m95 0h8m29 0h8m-114 1h8m-62 0h8m89 0h8m6 0h8m-79 0h8m-18 0h8m33 0h8m-136 0h8m21 0h8m212 0h8m-193 1h8m89 0h8m-145 0h8m80 0h8m125 0h8m-126 0h8m124 0h8m-147 0h8m-101 0h8m65 0h8m64 0h8m-73 1h8m88 0h8m-106 0h8m-91 0h8m154 0h8m-171 0h8m154 0h8m-200 0h8m129 0h8m137 1h8m-270 0h8m69 0h8m37 0h8m104 0h8m-61 0h8m-163 0h8m159 0h8m-56 0h8m49 0h8m-2 0h8m-55 1h8m19 0h8m-197 0h8m160 0h8m-35 0h8m76 0h8m-13 0h8m-53 0h8m-33 0h8m38 1h8m-212 0h8m97 0h8m125 0h8m-101 0h8m-70 0h8m180 0h8m-178 0h8m-53 0h8m78 1h8m36 0h8m-207 0h8m248 0h8m-66 0h8m-152 0h8m127 1h8m-162 0h8m221 0h8m-183 0h8m48 0h8m54 0h8m-204 1h8m276 0h8m-90 0h8m41 0h8m-153 1h8m-24 0h8m-93 0h8m105 0h8m-128 0h8m46 0h8m78 1h8m131 0h8m-183 0h8m25 0h8m-103 0h8m2 1h8m81 0h8m-37 0h8m19 0h8m85 0h8m-27 0h8m-87 0h8m-5 0h8m-157 0h8m97 0h8m39 1h8m19 0h8m-163 0h8m139 0h8m-88 0h8m99 0h8m-9 1h8m-135 0h8m160 0h8m-16 0h8m-52 1h8m-53 0h8m15 1h8m-115 0h8m16 1h8m122 0h8m-154 0h8m26 0h8m9 1h8m-52 0h8m222 0h8m-172 0h8m-41 1h8m67 0h8m1 0h8m-6 0h8m-170 0h8m213 0h8m-152 0h8m-49 1h8m82 0h8m104 0h8m-233 0h8m161 0h8m-56 0h8m-39 0h8m-74 0h8m130 1h8m-151 0h8m176 0h8m-189 0h8m64 0h8m-127 0h8m-22 0h8m205 1h8m-87 0h8m-138 0h8m186 0h8m-112 0h8m31 0h8m55 0h8m-12 1h8m-169 0h8m78 0h8m79 0h8m-123 0h8m-76 0h8m102 0h8m33 1h8m63 0h8m-145 0h8m123 1h8m-223 0h8m46 0h8m-62 0h8m175 0h8m-153 0h8m85 1h8m16 0h8m-156 0h8m68 0h8m-96 0h8m145 0h8m-93 0h8m-52 1h8m154 0h8m-80 0h8m34 1h8m-41 0h8m-41 0h8m-68 0h8m24 0h8m114 0h8m47 1h8m-175 0h8m108 0h8m-29 0h8m-16 0h8m-21 0h8m-125 0h8m196 1h8m-208 0h8m114 0h8m-185 0h8m156 0h8m-156 1h8m129 0h8m-21 0h8m-31 0h8m-99 0h8m157 0h8m-171 0h8m45 0h8m93 1h8m-175 0h8m71 0h8m-102 0h8m123 0h8m-38 1h8m34 0h8m-78 0h8m60 0h8m-74 0h8m98 0h8m-93 0h8m89 0h8m-115 1h8m143 0h8m-45 0h8m-166 0h8m106 0h8m-144 0h8m56 0h8m10 0h8m39 0h8m-146 0h8m65 1h8m65 0h8m-4 1h8m-23 0h8m89 0h8m34 0h8m-175 0h8m103 1h8m-91 0h8m-16 0h8m19 0h8m-12 0h8m-96 0h8m164 0h8m-94 0h8m-165 1h8m110 0h8m96 0h8m-161 0h8m-51 1h8m18 0h8m-54 0h8m181 0h8m-132 0h8m58 0h8m-119 0h8m-7 0h8m32 0h8m117 1h8m22 0h8m-153 0h8m-20 1h8m140 0h8m-80 0h8m74 0h8m-55 0h8m-18 0h8m-122 0h8m-47 0h8m-13 0h8m222 0h8m-1 1h8m-181 0h8m87 0h8m14 0h8m-144 1h8m-23 0h8m9 0h8m184 0h8m-220 0h8m89 0h8m7 1h8m-54 0h8m-25 0h8m-92 0h8m185 0h8m37 0h8m-201 1h8m59 0h8m31 0h8m-107 0h8m127 0h8m45 0h8m-99 0h8m-40 0h8m15 0h8m-19 0h8m-44 0h8m47 1h8m-12 0h8m52 0h8m-2 0h8m-141 0h8m161 1h8m-66 0h8m-147 1h8m160 0h8m-76 0h8m-82 0h8m24 1h8m-53 0h8m69 0h8m-69 1h8m100 0h8m-106 0h8m-5 1h8m123 0h8m-199 1h8m32 0h8m158 0h8m-29 0h8m-51 0h8m-10 0h8m35 0h8m-7 1h8m-156 0h8m126 0h8m-182 0h8m30 1h8m31 0h8m-5 0h8m-100 0h8m123 0h8m-34 0h8m173 1h8m-221 0h8m106 0h8m-208 1h8m180 0h8m51 0h8m-240 0h8m186 1h8m-220 0h8m104 0h8m26 0h8m0 0h8m-24 0h8m86 0h8m-123 0h8m41 0h8m122 0h8m-290 1h8m18 0h8m49 0h8m-75 1h8m234 0h8m-200 0h8m116 1h8m-134 0h8m108 0h8m-53 0h8m-46 0h8m100 1h8m-51 0h8m-25 0h8m51 0h8m-74 0h8m38 0h8m-169 1h8m-12 0h8m53 0h8m82 1h8m-9 0h8m-169 0h8m65 0h8m-21 1h8m-2 0h8m179 0h8m-199 0h8m30 0h8m58 0h8m-157 0h8m164 0h8m-41 1h8m15 0h8m-110 0h8m-95 0h8m242 0h8m-160 0h8m5 1h8m-6 0h8m-16 1h8m-74 0h8m31 0h8m123 0h8m-45 1h8m52 0h8m-49 0h8m19 0h8m-217 0h8m196 0h8m-17 0h8m-129 1h8m189 0h8m-251 0h8m-17 0h8m122 1h8m21 0h8m-63 0h8m-53 1h8m-7 0h8m58 0h8m-41 0h8m-68 0h8m-46 1h8m52 0h8m139 0h8m-49 0h8m-4 0h8m3 0h8m-59 1h8m-97 0h8m-47 0h8m122 1h8m-33 0h8m-16 0h8m-33 0h8m49 1h8m-86 0h8m148 0h8m-56 1h8m-5 0h8m-184 0h8m123 0h8m-36 0h8m9 0h8m5 2h8m-35 0h8m-112 0h8m120 0h8m-10 0h8m-21 1h8m-94 0h8m30 1h8m89 1h8m60 2h8m-92 0h8m-25 1h8m-16 0h8m-122 0h8m234 0h8m-40 0h8m-46 0h8m-76 0h8m-8 1h8m-3 1h8m-38 1h8m-66 0h8m120 0h8m40 0h8m-216 0h8m112 0h8m-65 0h8m164 0h8m-151 1h8m19 0h8m-9 0h8m51 0h8m-151 1h8m16 0h8m-74 0h8m91 0h8m-42 1h8m-54 0h8m48 0h8m18 0h8m-35 0h8m-33 1h8m78 0h8m67 0h8m-176 0h8m161 0h8m-7 0h8m-87 0h8m-13 1h8m-126 0h8m54 0h8m57 1h8m-103 0h8m63 0h8m-16 0h8m-38 1h8m-27 0h8m-13 0h8m101 1h8m-97 0h8m-35 1h8m96 0h8m-9 0h8m-65 0h8m185 0h8m-151 0h8m-49 1h8m-64 0h8m80 0h8m-105 0h8m202 1h8m-103 0h8m7 1h8m-47 0h8m-73 1h8m-18 1h8m210 0h8m-39 0h8m-241 1h8m150 1h8m51 0h8m-64 0h8m-133 0h8m174 1h8m8 1h8m-159 0h8m58 0h8m-135 1h8m159 1h8m-36 0h8m-30 1h8m-21 0h8m-15 0h8m70 0h8m-82 1h8m35 0h8m-10 0h8m-19 2h8m57 0h8m-183 1h8m77 1h8m-38 0h8m-123 1h8m247 0h8m-224 1h8m64 0h8m-49 1h8m80 0h8m-85 1h8m-55 3h8m63 0h8m-109 0h8m194 0h8m26 0h8m-134 0h8m-98 1h8m-7 0h8m138 0h8m-8 4h8m28 0h8m41 1h8m-157 1h8m54 1h8m-80 0h8m81 0h8m-129 1h8m133 0h8m-12 1h8m-120 0h8m8 2h8m-73 2h8m4 1h8m4 0h8m3 1h8m39 0h8m141 1h8" stroke="#b83050" stroke-width="8" fill="none" opacity="0.7"/>
<path transform="scale(.1)" d="m530 312h8m-32 4h8m10 5h8m-66 45h8m-14 9h8m-1 4h8m127 1h8m-197 2h8m73 1h8m21 2h8m-2 6h8m0 12h8m-49 2h8m-27 0h8m48 10h8m0 2h8m9 1h8m-18 1h8m-127 3h8m76 10h8m7 3h8m-71 2h8m49 0h8m-32 2h8m100 3h8m-52 0h8m-132 1h8m111 10h8m-59 2h8m-33 3h8m-54 14h8m29 4h8m36 3h8m-76 5h8m69 1h8m66 0h8m-58 5h8m-90 2h8m36 1h8m41 1h8m20 1h8m-104 1h8m-109 1h8m145 3h8m-71 2h8m99 0h8m-155 0h8m140 1h8m-18 2h8m-41 5h8m-27 0h8m-41 1h8m-7 1h8m61 1h8m4 5h8m-99 1h8m-63 1h8m91 1h8m-80 1h8m21 4h8m4 0h8m-84 1h8m96 0h8m-43 5h8m-32 0h8m46 1h8m-35 3h8m43 1h8m17 1h8m-78 3h8m39 0h8m-117 1h8m29 2h8m52 0h8m-38 1h8m25 2h8m-46 1h8m13 0h8m23 0h8m-57 1h8m6 4h8m27 0h8m-118 1h8m115 1h8m-68 1h8m11 3h8m-40 1h8m-7 1h8m-25 0h8m29 1h8m-15 2h8m-27 1h8m4 0h8m-13 0h8m56 0h8m0 2h8m11 2h8m-93 1h8m50 3h8m-46 0h8m-6 0h8m-14 0h8m-45 0h8m44 1h8m-87 0h8m12 0h8m-4 1h8m103 1h8m-101 1h8m-129 1h8m172 1h8m-80 1h8m10 1h8m-45 0h8m28 3h8m35 1h8m-31 1h8m38 3h8m-74 1h8m1 2h8m-33 0h8m-38 0h8m67 1h8m36 1h8m-26 0h8m-114 0h8m87 1h8m48 1h8m-124 2h8m15 4h8m-11 2h8m-42 1h8m86 0h8m-65 0h8m4 0h8m0 1h8m10 1h8m-38 2h8m-60 1h8m42 0h8m-4 1h8m5 1h8m-96 0h8m51 0h8m48 2h8m-51 0h8m-24 1h8m27 0h8m22 1h8m-51 0h8m-69 1h8m151 1h8m-79 1h8m-74 1h8m30 0h8m5 1h8m-89 1h8m66 1h8m-15 0h8m0 0h8m-8 0h8m-34 1h8m-4 0h8m45 2h8m-7 0h8m-99 1h8m30 2h8m-94 2h8m84 0h8m46 0h8m-93 1h8m13 0h8m-39 1h8m49 0h8m-16 1h8m-64 0h8m60 1h8m-29 1h8m7 2h8m-36 0h8m-25 0h8m6 1h8m2 0h8m63 1h8m-22 0h8m13 2h8m-85 0h8m-8 0h8m-26 0h8m5 0h8m-70 1h8m47 0h8m-43 1h8m42 1h8m-25 1h8m14 1h8m-30 1h8m16 0h8m-50 0h8m57 1h8m-80 0h8m-49 1h8m89 1h8m-32 0h8m55 2h8m-38 0h8m-30 0h8m-3 0h8m-38 1h8m6 0h8m61 1h8m-103 1h8m38 1h8m-49 2h8m-55 0h8m65 1h8m32 0h8m24 0h8m-67 0h8m-64 0h8m80 2h8m-27 1h8m83 0h8m-162 0h8m74 1h8m-17 1h8m-112 1h8m147 0h8m-51 0h8m-43 0h8m-79 1h8m42 1h8m58 0h8m-83 2h8m10 0h8m-18 1h8m42 0h8m-26 0h8m32 1h8m-35 0h8m20 0h8m-104 1h8m18 2h8m-37 0h8m48 0h8m-46 1h8m-36 0h8m38 1h8m45 1h8m-80 0h8m119 0h8m-74 1h8m-25 0h8m-44 1h8m25 0h8m-49 0h8m24 1h8m-44 1h8m100 0h8m-82 0h8m0 0h8m-7 0h8m-20 0h8m-29 1h8m0 0h8m-10 0h8m-10 0h8m6 0h8m6 1h8m6 0h8m-56 1h8m-50 0h8m123 0h8m-30 1h8m-21 0h8m50 1h8m-145 1h8m28 0h8m9 0h8m-74 0h8m74 1h8m-31 1h8m20 0h8m-25 0h8m45 0h8m-44 1h8m-76 0h8m28 1h8m22 0h8m38 1h8m-14 0h8m-69 0h8m2 1h8m-98 0h8m4 0h8m46 0h8m34 1h8m-89 0h8m126 0h8m-38 0h8m-50 0h8m-32 0h8m72 1h8m-48 0h8m31 0h8m-56 0h8m-110 0h8m9 1h8m-17 0h8m72 0h8m63 2h8m-58 1h8m32 1h8m-76 0h8m-21 0h8m-53 1h8m61 0h8m46 0h8m-42 0h8m10 1h8m-75 0h8m5 0h8m33 1h8m-65 0h8m63 0h8m-29 1h8m29 1h8m-76 0h8m24 1h8m-30 0h8m71 0h8m-77 1h8m-56 1h8m46 0h8m-14 0h8m16 1h8m23 0h8m-100 0h8m42 1h8m-51 0h8m88 0h8m-70 0h8m-66 1h8m-32 1h8m58 1h8m14 1h8m19 1h8m-75 0h8m4 1h8m-45 0h8m-32 0h8m53 2h8m59 0h8m-118 1h8m81 0h8m21 0h8m-65 1h8m-129 0h8m74 0h8m-40 0h8m43 1h8m37 0h8m5 0h8m-83 1h8m43 0h8m-32 0h8m28 1h8m-70 0h8m-26 0h8m6 0h8m10 1h8m8 0h8m-4 0h8m19 1h8m-69 0h8m-30 0h8m61 1h8m33 0h8m-86 0h8m61 0h8m48 1h8m-56 0h8m-140 1h8m85 0h8m-17 0h8m26 1h8m-33 0h8m7 1h8m6 0h8m-8 1h8m-66 0h8m8 0h8m27 0h8m-53 0h8m-29 0h8m40 0h8m-22 1h8m9 0h8m-12 0h8m14 0h8m-13 0h8m-74 2h8m48 0h8m-81 0h8m131 0h8m-76 1h8m-9 0h8m-69 0h8m23 2h8m0 0h8m28 0h8m-58 1h8m1 0h8m-27 1h8m61 0h8m-77 0h8m-58 0h8m70 0h8m41 1h8m-25 1h8m-13 0h8m-100 0h8m34 0h8m-14 0h8m49 0h8m-119 1h8m63 0h8m8 1h8m1 0h8m-72 0h8m113 1h8m-82 0h8m-14 0h8m5 1h8m-37 0h8m54 0h8m-53 0h8m42 0h8m-2 0h8m-3 0h8m-86 0h8m58 0h8m-4 1h8m-65 0h8m14 0h8m-26 1h8m-55 1h8m27 0h8m-19 0h8m18 0h8m78 1h8m-94 1h8m4 0h8m42 1h8m-86 0h8m-79 0h8m64 1h8m51 0h8m-15 1h8m-23 0h8m-56 0h8m-45 2h8m0 1h8m104 0h8m-104 0h8m37 1h8m0 0h8m13 0h8m-39 0h8m-10 1h8m-61 0h8m67 0h8m-82 0h8m-61 0h8m80 1h8m16 0h8m-90 1h8m77 0h8m-66 0h8m86 1h8m-8 0h8m-86 0h8m54 0h8m38 1h8m-87 0h8m22 0h8m31 1h8m-86 0h8m51 0h8m-56 1h8m-22 0h8m-10 1h8m22 0h8m-43 0h8m3 0h8m13 1h8m-89 1h8m31 0h8m-10 1h8m-67 0h8m112 0h8m-57 1h8m19 0h8m36 0h8m-89 0h8m53 1h8m-32 0h8m20 1h8m-60 1h8m-31 0h8m-13 0h8m20 1h8m-38 0h8m-21 0h8m57 0h8m-2 0h8m-16 1h8m-82 0h8m98 0h8m-76 0h8m54 1h8m-49 0h8m53 0h8m-119 0h8m-12 0h8m-40 0h8m54 0h8m-16 1h8m118 0h8m-121 1h8m-34 1h8m35 1h8m36 0h8m12 0h8m-48 0h8m31 1h8m-49 0h8m-39 0h8m-1 0h8m-11 1h8m46 0h8m-128 0h8m67 0h8m-1 1h8m52 0h8m-132 0h8m10 0h8m25 0h8m-19 1h8m-25 0h8m-5 0h8m15 0h8m-5 1h8m7 0h8m0 1h8m-83 0h8m-22 0h8m140 1h8m-59 1h8m-15 1h8m-47 0h8m4 1h8m83 1h8m-21 1h8m-93 0h8m8 0h8m-18 2h8m-27 0h8m55 0h8m-46 0h8m2 1h8m16 0h8m38 0h8m-127 0h8m-24 1h8m2 0h8m73 0h8m0 1h8m-57 1h8m56 0h8m-49 0h8m25 0h8m-61 1h8m3 1h8m-46 0h8m6 0h8m-14 0h8m17 0h8m-71 0h8m167 0h8m-131 1h8m113 0h8m-86 1h8m-1 0h8m-20 1h8m-28 0h8m-45 1h8m-49 0h8m72 0h8m29 0h8m20 1h8m-96 0h8m19 1h8m-105 1h8m5 3h8m-4 0h8m50 2h8m-6 0h8m0 1h8m-27 0h8m-48 1h8m3 1h8m34 0h8m-3 1h8m5 0h8m-20 0h8m-19 1h8m-21 0h8m25 0h8m-133 0h8m86 3h8m-48 0h8m7 1h8m44 1h8m-7 0h8m-43 1h8m30 1h8m-77 0h8m22 1h8m3 0h8m17 0h8m-69 1h8m5 0h8m31 1h8m-55 0h8m95 1h8m3 0h8m-53 1h8m-58 1h8m36 0h8m48 1h8m-105 1h8m2 4h8m-8 2h8" stroke="#b02c58" stroke-width="8" fill="none" opacity="0.7"/>
<path transform="scale(.1)" d="m417 733h8m82 11h8m-26 4h8m-29 1h8m-18 2h8m50 2h8m-124 1h8m-15 0h8m-38 1h8m57 0h8m-92 1h8m199 1h8m37 2h8m-204 1h8m148 3h8m-178 2h8m33 1h8m-62 1h8m61 2h8m-38 2h8m44 0h8m-2 0h8m-36 2h8m43 0h8m-55 1h8m-6 1h8m17 1h8m-79 0h8m-30 0h8m86 0h8m77 1h8m-84 0h8m-48 0h8m24 1h8m-10 1h8m-20 0h8m-44 1h8m-5 0h8m69 0h8m-63 1h8m-101 0h8m82 1h8m-40 0h8m-44 0h8m118 1h8m6 0h8m-36 0h8m-28 0h8m-13 0h8m-85 1h8m34 0h8m-125 0h8m97 0h8m-58 1h8m205 0h8m-47 0h8m-141 1h8m118 0h8m-129 0h8m-89 1h8m79 0h8m84 0h8m-20 0h8m14 0h8m-43 0h8m-62 1h8m-66 0h8m-23 1h8m154 0h8m-135 0h8m73 0h8m73 1h8m-183 0h8m-50 0h8m83 0h8m31 1h8m-11 0h8m-79 0h8m125 0h8m-160 1h8m-2 1h8m117 0h8m-20 0h8m-35 1h8m-64 0h8m-28 1h8m36 0h8m68 0h8m-64 0h8m-139 0h8m-6 0h8m140 1h8m-116 0h8m150 0h8m-179 0h8m14 0h8m-42 0h8m24 1h8m128 0h8m-98 1h8m41 0h8m-83 0h8m85 0h8m-65 0h8m-5 0h8m2 0h8m-11 1h8m141 0h8m-233 0h8m8 0h8m41 0h8m-24 0h8m21 1h8m44 0h8m-61 0h8m28 0h8m-95 0h8m80 1h8m-63 0h8m-22 0h8m143 0h8m-218 0h8m164 0h8m13 0h8m-80 0h8m-124 0h8m19 0h8m91 1h8m35 0h8m-12 0h8m-24 0h8m-1 0h8m36 0h8m-197 0h8m85 0h8m-59 1h8m-50 0h8m65 0h8m23 0h8m-117 0h8m158 0h8m-84 1h8m-28 0h8m-6 0h8m-116 0h8m39 1h8m23 0h8m44 0h8m-81 0h8m19 0h8m59 0h8m14 0h8m10 1h8m-120 0h8m-40 0h8m75 0h8m-75 0h8m142 0h8m-91 0h8m-79 0h8m-33 0h8m-4 0h8m71 0h8m43 1h8m-146 0h8m184 0h8m-208 0h8m75 0h8m-28 0h8m6 0h8m7 0h8m86 0h8m-83 0h8m-47 1h8m-13 0h8m20 0h8m-9 0h8m132 0h8m-137 0h8m-86 0h8m20 0h8m-56 0h8m96 0h8m-41 1h8m-69 0h8m-19 0h8m80 0h8m22 0h8m-119 0h8m141 0h8m-51 0h8m-33 0h8m-108 0h8m44 0h8m73 0h8m-24 1h8m-114 0h8m132 0h8m-125 0h8m123 0h8m-26 0h8m-68 0h8m-4 0h8m-6 1h8m-113 0h8m97 0h8m-24 0h8m102 0h8m-98 0h8m78 0h8m-157 0h8m7 0h8m122 0h8m-104 0h8m23 0h8m123 0h8m-123 1h8m5 0h8m22 0h8m-138 0h8m22 0h8m13 0h8m45 0h8m-2 0h8m-27 0h8m-80 0h8m-77 0h8m11 0h8m69 0h8m-33 0h8m46 0h8m-22 1h8m83 0h8m-162 0h8m11 0h8m83 0h8m-67 0h8m-71 0h8m53 0h8m25 0h8m-125 1h8m159 0h8m26 0h8m-143 0h8m2 0h8m-54 0h8m89 0h8m-120 0h8m68 0h8m131 0h8m-105 0h8m-36 0h8m-52 0h8m29 1h8m-109 0h8m203 0h8m-67 0h8m2 0h8m-42 0h8m72 0h8m-173 0h8m164 0h8m21 0h8m-172 1h8m-36 0h8m71 0h8m-2 0h8m9 0h8m-125 0h8m98 0h8m72 0h8m-70 1h8m-113 0h8m-78 0h8m86 0h8m41 0h8m74 0h8m-103 0h8m-107 0h8m-42 0h8m179 0h8m-89 0h8m-32 0h8m40 0h8m-2 0h8m-113 0h8m116 0h8m-66 1h8m-91 0h8m134 0h8m-25 0h8m24 0h8m-181 0h8m96 0h8m-17 0h8m-13 0h8m77 0h8m-17 0h8m-61 0h8m24 0h8m-58 0h8m101 0h8m-86 1h8m-148 0h8m117 0h8m-8 0h8m-59 0h8m-47 0h8m56 0h8m-45 0h8m95 0h8m-71 0h8m34 0h8m-42 0h8m80 0h8m30 0h8m-123 0h8m71 1h8m-84 0h8m23 0h8m-146 0h8m6 0h8m47 0h8m89 0h8m-55 0h8m-23 0h8m2 0h8m-60 0h8m-35 0h8m-13 0h8m21 0h8m83 1h8m-83 0h8m17 0h8m148 0h8m-155 0h8m-5 0h8m119 0h8m-44 0h8m-138 0h8m93 0h8m-146 0h8m110 0h8m-143 0h8m107 0h8m60 0h8m-93 0h8m-108 1h8m31 0h8m-24 0h8m107 0h8m90 0h8m-156 0h8m-36 0h8m-6 0h8m12 0h8m6 0h8m3 0h8m19 0h8m71 0h8m-49 0h8m42 0h8m-71 0h8m-43 1h8m-3 0h8m70 0h8m-87 0h8m-32 0h8m37 0h8m61 0h8m-186 0h8m49 0h8m-17 0h8m19 0h8m-86 0h8m113 0h8m-56 0h8m-103 0h8m41 0h8m-67 1h8m61 0h8m32 0h8m53 0h8m-90 0h8m1 0h8m10 0h8m-8 0h8m-40 0h8m-8 0h8m92 0h8m-214 0h8m134 0h8m41 1h8m-19 0h8m-77 0h8m53 0h8m-107 0h8m52 0h8m89 0h8m-99 0h8m124 0h8m-275 0h8m117 0h8m-55 0h8m65 0h8m-105 0h8m81 0h8m-65 0h8m7 0h8m26 0h8m-25 0h8m40 0h8m-99 1h8m-21 0h8m53 0h8m80 0h8m-99 0h8m-112 0h8m155 0h8m-7 0h8m-75 0h8m40 0h8m-85 0h8m66 0h8m-91 1h8m-18 0h8m-79 0h8m106 0h8m80 0h8m-84 0h8m-55 0h8m-25 0h8m96 0h8m-90 0h8m132 0h8m9 0h8m-59 0h8m-133 0h8m79 0h8m-126 1h8m67 0h8m-61 0h8m-47 0h8m105 0h8m-54 0h8m72 0h8m-44 0h8m-22 0h8m-84 0h8m134 0h8m-1 0h8m-116 0h8m-67 0h8m61 0h8m-41 0h8m156 1h8m-163 0h8m-4 0h8m62 0h8m51 0h8m-59 0h8m39 0h8m-183 0h8m117 0h8m79 0h8m-78 0h8m-2 0h8m-19 0h8m-169 0h8m102 0h8m-9 0h8m104 0h8m-94 0h8m-27 0h8m-98 0h8m207 0h8m-216 0h8m91 1h8m-75 0h8m119 0h8m-145 0h8m138 0h8m-60 0h8m57 0h8m-82 0h8m-95 0h8m150 0h8m-61 0h8m13 0h8m-87 0h8m-7 1h8m42 0h8m-91 0h8m139 0h8m-213 0h8m147 0h8m-50 0h8m-82 0h8m96 0h8m-79 0h8m22 0h8m-45 0h8m-5 0h8m-20 0h8m-4 0h8m85 0h8m7 0h8m-100 0h8m6 0h8m20 1h8m-43 0h8m-37 0h8m-39 0h8m21 0h8m-70 0h8m74 0h8m-4 0h8m30 0h8m-112 0h8m107 0h8m36 0h8m-35 0h8m-125 0h8m31 0h8m74 0h8m-115 0h8m-1 0h8m78 0h8m-137 0h8m64 0h8m109 1h8m-53 0h8m-38 0h8m53 0h8m-161 0h8m238 0h8m-259 0h8m-34 0h8m153 0h8m-152 0h8m160 0h8m23 0h8m-25 0h8m-84 0h8m70 0h8m-132 0h8m-62 0h8m113 0h8m-52 0h8m102 0h8m-162 0h8m69 1h8m-151 0h8m111 0h8m72 0h8m-35 0h8m-126 0h8m48 0h8m31 0h8m-74 0h8m122 0h8m-41 0h8m-110 0h8m61 0h8m61 0h8m19 0h8m-164 0h8m99 0h8m6 0h8m15 0h8m-78 1h8m-8 0h8m-48 0h8m-76 0h8m79 0h8m-29 0h8m-95 0h8m186 0h8m-138 0h8m-99 0h8m43 0h8m136 0h8m-160 0h8m136 0h8m-170 0h8m96 0h8m59 0h8m-156 0h8m-52 0h8m137 0h8m50 0h8m-106 0h8m-41 0h8m87 1h8m-53 0h8m-9 0h8m-80 0h8m138 0h8m6 0h8m-18 0h8m-146 0h8m107 0h8m-167 0h8m48 0h8m17 0h8m-45 0h8m113 0h8m-27 0h8m-76 1h8m24 0h8m-23 0h8m64 0h8m-93 0h8m128 0h8m-173 0h8m22 0h8m-28 0h8m-14 0h8m-40 0h8m-11 0h8m-30 0h8m59 0h8m97 0h8m-100 0h8m-59 0h8m8 0h8m-16 0h8m66 0h8m-14 0h8m58 1h8m-129 0h8m22 0h8m100 0h8m-181 0h8m-42 0h8m111 0h8m49 0h8m-133 0h8m-11 0h8m79 0h8m-62 0h8m18 0h8m16 0h8m-124 0h8m142 0h8m-87 0h8m26 0h8m-85 0h8m109 0h8m-53 0h8m40 0h8m-15 0h8m5 0h8m-54 0h8m32 0h8m-130 0h8m64 0h8m50 0h8m-32 0h8m-40 0h8m14 0h8m-111 1h8m80 0h8m-38 0h8m-44 0h8m-39 0h8m121 0h8m-36 0h8m-113 0h8m254 0h8m-146 0h8m-130 0h8m75 0h8m104 0h8m-152 0h8m88 0h8m28 0h8m-83 0h8m-20 0h8m-9 1h8m99 0h8m-95 0h8m52 0h8m-166 0h8m-58 0h8m76 0h8m-53 0h8m61 0h8m152 0h8m-58 0h8m1 0h8m-85 0h8m11 0h8m-96 0h8m171 0h8m-212 0h8m50 0h8m-44 0h8m70 0h8m-65 0h8m-59 0h8m63 0h8m5 0h8m-12 0h8m101 0h8m-8 1h8m18 0h8m-31 0h8m-225 0h8m79 0h8m-87 0h8m-1 0h8m52 0h8m-87 0h8m194 0h8m-148 0h8m19 0h8m38 0h8m-38 0h8m-63 0h8m15 0h8m64 0h8m4 0h8m-58 0h8m26 0h8m-49 0h8m47 0h8m-23 0h8m41 0h8m-174 0h8m105 0h8m12 0h8m-37 0h8m-24 0h8m-69 1h8m97 0h8m75 0h8m-98 0h8m-132 0h8m122 0h8m-59 0h8m86 0h8m-185 0h8m116 0h8m-134 0h8m113 0h8m129 0h8m-135 0h8m-113 0h8m19 0h8m123 0h8m-131 1h8m46 0h8m-101 0h8m104 0h8m-61 0h8m-65 0h8m-43 0h8m163 0h8m24 0h8m-108 0h8m42 0h8m26 0h8m-147 0h8m37 0h8m147 0h8m-42 0h8m-92 0h8m-80 0h8m136 0h8m-116 1h8m150 0h8m-137 0h8m125 0h8m-212 0h8m109 0h8m-54 0h8m1 0h8m-106 0h8m137 0h8m-51 0h8m-161 0h8m27 0h8m113 0h8m20 0h8m-6 0h8m-41 0h8m17 0h8m-71 0h8m-47 0h8m52 0h8m-1 0h8m49 0h8m-214 0h8m197 0h8m-119 1h8m19 0h8m-23 0h8m47 0h8m18 0h8m-16 0h8m-34 0h8m26 0h8m-63 0h8m-6 0h8m32 0h8m-10 0h8m-78 0h8m27 0h8m-46 0h8m-12 0h8m56 0h8m-48 0h8m-32 1h8m2 0h8m75 0h8m-156 0h8m89 0h8m-5 0h8m-149 0h8m160 0h8m-107 0h8m37 0h8m-48 0h8m112 0h8m-55 0h8m-36 0h8m19 0h8m-158 0h8m168 0h8m-150 0h8m38 0h8m73 0h8m-66 0h8m103 0h8m-178 0h8m86 0h8m11 0h8m-81 0h8m48 0h8m-138 0h8m78 0h8m46 1h8m-47 0h8m-33 0h8m66 0h8m-53 0h8m131 0h8m-172 0h8m81 0h8m-71 0h8m-56 0h8m28 0h8m-32 0h8m77 0h8m67 0h8m-74 0h8m-133 0h8m43 0h8m17 1h8m52 0h8m-86 0h8m17 0h8m-33 0h8m-111 0h8m86 0h8m39 0h8m9 0h8m-21 0h8m106 0h8m-172 0h8m47 0h8m-95 0h8m128 0h8m-130 0h8m79 0h8m-33 0h8m98 0h8m-167 0h8m186 0h8m-132 0h8m5 0h8m-67 0h8m59 0h8m0 0h8m-185 1h8m76 0h8m-20 0h8m91 0h8m-133 0h8m85 0h8m-15 0h8m-55 0h8m-71 0h8m143 0h8m-119 0h8m-34 0h8m144 0h8m-24 0h8m-44 0h8m-73 0h8m125 0h8m-222 0h8m131 0h8m26 0h8m9 1h8m-73 0h8m18 0h8m-93 0h8m-76 0h8m151 0h8m36 0h8m-50 0h8m-125 0h8m116 0h8m-55 0h8m95 0h8m-231 0h8m156 0h8m-50 0h8m59 0h8m-42 0h8m-33 0h8m-24 0h8m34 0h8m-39 1h8m54 0h8m99 0h8m-120 0h8m37 0h8m-162 0h8m-6 0h8m110 0h8m-131 0h8m33 0h8m19 0h8m134 0h8m-218 0h8m130 0h8m-189 0h8m209 0h8m-131 0h8m55 0h8m-62 0h8m-106 0h8m103 0h8m-4 0h8m46 0h8m-33 0h8m-58 0h8m18 1h8m-63 0h8m-49 0h8m134 0h8m-17 0h8m-1 0h8m92 0h8m-111 0h8m-82 0h8m-21 0h8m-2 0h8m24 0h8m3 0h8m16 0h8m-63 0h8m15 0h8m-23 0h8m-6 0h8m-47 0h8m10 1h8m42 0h8m2 0h8m-115 0h8m57 0h8m28 0h8m-50 0h8m28 0h8m-24 0h8m-49 0h8m-56 0h8m139 0h8m-159 0h8m162 0h8m-46 0h8m-16 0h8m-155 0h8m21 0h8m82 0h8m42 1h8m-5 0h8m-115 0h8m-2 0h8m-28 0h8m45 0h8m42 0h8m-11 0h8m-108 0h8m23 0h8m91 0h8m-181 0h8m158 0h8m-113 0h8m-21 0h8m95 0h8m-59 0h8m38 0h8m49 0h8m-146 0h8m126 0h8m-111 0h8m31 1h8m99 0h8m-197 0h8m-13 0h8m39 0h8m-102 0h8m-46 0h8m24 0h8m139 0h8m-102 0h8m189 0h8m-287 0h8m100 0h8m-81 0h8m186 0h8m-176 0h8m46 0h8m-46 0h8m17 0h8m100 0h8m-109 0h8m-91 0h8m-7 1h8m185 0h8m-168 0h8m82 0h8m4 0h8m-64 0h8m152 0h8m-210 0h8m12 0h8m-60 0h8m174 0h8m-116 0h8m36 0h8m-73 0h8m101 0h8m-121 0h8m-38 0h8m125 0h8m2 0h8m2 0h8m6 1h8m-185 0h8m172 0h8m-29 0h8m-85 0h8m-11 0h8m-31 0h8m-29 0h8m129 0h8m-148 0h8m41 0h8m133 0h8m-208 0h8m146 0h8m-81 0h8m-59 0h8m-49 1h8m38 0h8m28 0h8m-28 0h8m63 0h8m-7 0h8m-145 0h8m37 0h8m176 0h8m-159 0h8m64 0h8m-169 0h8m13 1h8m73 0h8m-46 0h8m130 0h8m-161 0h8m105 0h8m-178 0h8m81 0h8m-15 0h8m11 0h8m60 0h8m-58 0h8m67 0h8m-74 0h8m-55 0h8m14 0h8m-66 0h8m-19 1h8m46 0h8m130 0h8m-62 0h8m-56 0h8m-141 0h8m120 0h8m-76 0h8m122 0h8m-98 0h8m105 0h8m-63 0h8m4 0h8m-23 0h8m-77 0h8m-63 0h8m160 0h8m-117 1h8m-2 0h8m-11 0h8m-66 0h8m178 0h8m-121 0h8m-65 0h8m11 0h8m15 0h8m153 0h8m-116 0h8m-64 0h8m-8 0h8m-23 0h8m118 0h8m-162 0h8m149 0h8m-90 0h8m1 0h8m-31 0h8m107 1h8m-177 0h8m-51 0h8m148 0h8m-149 0h8m100 0h8m4 0h8m77 0h8m-204 0h8m65 0h8m-47 0h8m39 0h8m44 0h8m-38 0h8m-57 0h8m-68 0h8m178 1h8m-94 0h8m-104 0h8m129 0h8m34 0h8m-42 0h8m-18 0h8m-131 0h8m97 0h8m-72 0h8m-80 0h8m168 0h8m-120 0h8m-64 0h8m58 0h8m17 0h8m-99 0h8m-56 0h8m18 1h8m207 0h8m-183 0h8m21 0h8m-25 0h8m-19 0h8m-41 0h8m145 0h8m-67 0h8m-45 0h8m0 0h8m189 0h8m-63 0h8m12 0h8m-153 0h8m-1 1h8m60 0h8m1 0h8m-192 0h8m116 0h8m-3 0h8m-50 0h8m80 0h8m-3 0h8m-90 0h8m114 0h8m-126 0h8m91 0h8m-99 0h8m-79 0h8m52 0h8m-43 0h8m186 1h8m-2 0h8m-107 0h8m-129 0h8m35 0h8m61 0h8m114 0h8m-153 0h8m-9 0h8m-28 0h8m3 0h8m140 0h8m-113 1h8m-26 0h8m16 0h8m-75 0h8m-117 0h8m55 0h8m-76 0h8m116 0h8m16 0h8m-83 0h8m168 0h8m-149 0h8m29 0h8m-54 0h8m-38 0h8m-14 0h8m93 0h8m-150 0h8m250 1h8m-128 0h8m-11 0h8m-20 0h8m5 0h8m17 0h8m-100 0h8m-44 0h8m131 0h8m-44 0h8m-140 0h8m147 0h8m-139 1h8m46 0h8m54 0h8m-133 0h8m89 0h8m-128 0h8m-11 0h8m100 0h8m-30 0h8m87 0h8m-167 0h8m36 1h8m123 0h8m-105 0h8m-26 0h8m-70 0h8m177 0h8m-28 0h8m-128 0h8m116 0h8m-66 0h8m43 0h8m-72 0h8m-73 0h8m105 0h8m-35 0h8m-37 0h8m52 0h8m-48 1h8m95 0h8m-164 0h8m-40 0h8m112 0h8m-80 0h8m90 0h8m-174 0h8m23 0h8m90 0h8m-138 1h8m166 0h8m-93 0h8m51 0h8m-35 0h8m100 0h8m-159 0h8m2 0h8m-58 0h8m-22 0h8m-24 0h8m164 0h8m-45 0h8m-161 0h8m-15 0h8m101 0h8m81 0h8m-219 1h8m110 0h8m48 0h8m-133 0h8m100 0h8m-165 0h8m51 0h8m131 0h8m-192 0h8m223 0h8m-233 0h8m-22 0h8m44 0h8m18 0h8m1 0h8m-48 0h8m88 0h8m94 0h8m-169 0h8m77 0h8m-69 1h8m74 0h8m-29 0h8m11 0h8m-144 0h8m37 0h8m67 0h8m19 0h8m-47 0h8m-41 0h8m34 0h8m-152 0h8m104 0h8m-113 0h8m141 0h8m-86 0h8m100 0h8m-4 0h8m-82 0h8m-60 0h8m31 0h8m-63 0h8m-40 1h8m91 0h8m-58 0h8m72 0h8m-79 0h8m52 0h8m-111 0h8m16 0h8m14 0h8m5 0h8m20 1h8m0 0h8m-48 0h8m87 0h8m3 0h8m-75 0h8m4 0h8m-113 0h8m-27 0h8m-50 1h8m69 0h8m16 0h8m120 0h8m-128 0h8m-2 0h8m-46 0h8m29 0h8m59 0h8m17 0h8m-147 0h8m57 0h8m14 1h8m-26 0h8m49 0h8m-119 0h8m39 0h8m-66 0h8m54 0h8m12 0h8m44 0h8m-100 0h8m-66 0h8m32 0h8m36 0h8m66 0h8m-88 0h8m-30 0h8m-44 0h8m67 1h8m32 0h8m-153 0h8m60 0h8m51 0h8m-123 0h8m113 0h8m-41 0h8m102 0h8m-116 0h8m46 1h8m-79 0h8m18 0h8m19 0h8m-72 0h8m8 0h8m16 0h8m-48 0h8m59 0h8m-69 1h8m-123 0h8m20 0h8m198 0h8m-231 0h8m60 0h8m-5 0h8m15 0h8m-125 0h8m-17 0h8m104 0h8m-27 0h8m46 0h8m-101 1h8m95 0h8m-158 0h8m48 0h8m106 0h8m-93 0h8m-12 0h8m-72 0h8m60 0h8m-21 0h8m-4 0h8m-66 0h8m116 0h8m-25 0h8m-62 0h8m16 0h8m9 0h8m-6 0h8m-132 1h8m130 0h8m-8 0h8m-77 0h8m42 1h8m-33 0h8m153 0h8m-155 0h8m-9 0h8m-3 0h8m41 0h8m105 0h8m-156 1h8m15 0h8m-116 1h8m-45 0h8m60 0h8m59 0h8m70 1h8m-95 0h8m2 0h8m-32 0h8m-12 0h8m-68 0h8m144 0h8m-58 0h8m-18 0h8m-28 0h8m-87 1h8m39 0h8m-71 0h8m6 0h8m-20 1h8m185 0h8m-108 0h8m-67 0h8m65 0h8m-143 0h8m223 0h8m-118 0h8m9 0h8m-5 0h8m-80 0h8m38 0h8m-65 1h8m-17 0h8m45 0h8m-11 0h8m-2 0h8m144 0h8m-190 0h8m114 0h8m-179 0h8m63 1h8m39 0h8m22 0h8m-31 0h8m-38 0h8m90 0h8m-210 0h8m223 0h8m8 0h8m-184 1h8m111 0h8m-119 0h8m123 0h8m-45 0h8m-152 0h8m56 0h8m-24 1h8m-28 0h8m-54 0h8m149 0h8m-24 0h8m99 0h8m-178 0h8m-54 1h8m107 0h8m-59 0h8m82 0h8m-123 1h8m31 0h8m-9 0h8m59 1h8m-54 0h8m-47 0h8m-27 0h8m87 0h8m-111 0h8m-16 1h8m113 0h8m-142 0h8m44 0h8m103 0h8m-149 1h8m12 1h8m12 0h8m-112 0h8m26 0h8m164 0h8m-124 0h8m-32 1h8m112 0h8m64 0h8m-154 0h8m93 0h8m-161 0h8m171 0h8m-59 0h8m-148 0h8m91 0h8m-34 0h8m-1 1h8m-54 0h8m-65 0h8m74 0h8m-8 0h8m-68 0h8m172 0h8m-149 0h8m4 0h8m-53 1h8m2 0h8m29 0h8m36 0h8m-104 0h8m149 1h8m-126 0h8m31 0h8m-84 0h8m62 0h8m-135 0h8m127 1h8m-25 0h8m-65 1h8m62 0h8m-92 0h8m97 0h8m52 1h8m-7 0h8m-144 0h8m-35 1h8m55 0h8m-63 0h8m23 1h8m109 0h8m-108 0h8m-55 1h8m-54 0h8m71 0h8m-46 0h8m-23 0h8m92 0h8m-83 1h8m-94 0h8m124 0h8m0 2h8m-50 1h8m81 0h8m-60 0h8m140 1h8m-216 1h8m112 0h8m-31 1h8m92 1h8m-97 2h8m-102 2h8m41 0h8m-76 1h8m44 0h8m-44 3h8m12 0h8m-20 1h8m-30 1h8m32 2h8m152 0h8m-176 0h8m91 4h8m-99 9h8" stroke="#a02060" stroke-width="8" fill="none" opacity="0.8"/>
<path transform="scale(.1)" d="m442 754h8m42 6h8m16 3h8m-8 9h8m-65 4h8m-34 0h8m117 1h8m-71 0h8m47 1h8m-4 1h8m-67 0h8m31 0h8m-18 2h8m-52 0h8m-6 0h8m4 0h8m32 2h8m45 2h8m-113 1h8m-1 0h8m-54 1h8m46 0h8m-6 0h8m-46 1h8m66 0h8m-121 0h8m-6 1h8m72 0h8m45 0h8m-59 0h8m11 1h8m3 0h8m-52 0h8m6 2h8m7 0h8m-5 0h8m-83 1h8m7 0h8m60 0h8m-51 0h8m64 1h8m-56 0h8m-71 1h8m48 0h8m-109 1h8m9 0h8m91 0h8m-46 0h8m13 0h8m8 1h8m-98 0h8m31 0h8m1 0h8m21 1h8m-69 0h8m35 0h8m-40 0h8m2 0h8m18 1h8m-27 0h8m-13 0h8m17 0h8m-50 1h8m43 0h8m-4 0h8m-21 0h8m-34 0h8m-2 0h8m-21 0h8m-29 0h8m36 1h8m-1 0h8m-28 0h8m-17 1h8m-27 0h8m30 0h8m-12 1h8m22 0h8m21 0h8m-65 0h8m34 1h8m-60 1h8m-53 0h8m100 0h8m9 0h8m-47 0h8m-2 1h8m37 0h8m-44 1h8m-24 0h8m-39 0h8m-48 0h8m75 0h8m-23 1h8m8 0h8m-7 0h8m-75 0h8m40 0h8m20 0h8m-68 0h8m89 0h8m-177 1h8m17 0h8m60 0h8m-36 0h8m11 0h8m0 0h8m12 1h8m-76 0h8m20 0h8m-62 0h8m104 0h8m-59 1h8m-26 0h8m100 0h8m-113 0h8m44 0h8m5 0h8m7 0h8m23 0h8m-137 0h8m7 0h8m26 1h8m6 0h8m-91 0h8m84 0h8m15 0h8m-13 1h8m-41 0h8m-37 0h8m40 0h8m-98 0h8m15 0h8m83 0h8m-101 0h8m53 0h8m-67 0h8m15 1h8m14 0h8m-63 0h8m-51 0h8m103 0h8m31 0h8m-55 0h8m11 0h8m-17 1h8m-69 0h8m76 0h8m-40 0h8m-45 0h8m102 0h8m-107 0h8m-56 0h8m92 0h8m-1 0h8m-192 0h8m141 0h8m-10 0h8m-64 0h8m63 0h8m33 0h8m-101 0h8m33 0h8m-24 1h8m40 0h8m-111 0h8m92 0h8m-1 0h8m43 0h8m-87 0h8m-80 0h8m3 1h8m82 0h8m-52 0h8m-15 0h8m31 0h8m-93 0h8m34 0h8m-21 0h8m-24 0h8m-33 1h8m1 0h8m56 0h8m30 0h8m-107 0h8m61 0h8m-43 0h8m94 0h8m-90 0h8m35 0h8m-51 0h8m-8 1h8m-41 0h8m14 0h8m39 0h8m-73 0h8m-2 0h8m39 0h8m-22 0h8m5 0h8m21 0h8m-15 0h8m-70 0h8m-7 0h8m-14 0h8m-2 0h8m45 1h8m-90 0h8m33 0h8m14 0h8m9 0h8m-36 0h8m-61 0h8m33 1h8m-127 0h8m149 0h8m-159 0h8m91 0h8m16 0h8m-35 0h8m4 0h8m79 0h8m-171 0h8m33 0h8m108 0h8m-58 0h8m-44 0h8m22 1h8m-65 0h8m-65 0h8m93 0h8m-34 0h8m-19 0h8m33 0h8m-63 0h8m7 0h8m42 0h8m37 0h8m-94 0h8m52 0h8m-13 1h8m-96 0h8m64 0h8m-73 0h8m-1 0h8m61 0h8m4 0h8m-49 0h8m-24 0h8m50 0h8m-25 1h8m28 0h8m-37 0h8m-50 0h8m18 0h8m1 0h8m-33 0h8m29 0h8m-7 0h8m-7 0h8m-86 0h8m-46 0h8m106 0h8m-91 0h8m62 1h8m-19 0h8m12 0h8m-64 0h8m62 0h8m-79 0h8m54 0h8m-94 0h8m-38 0h8m7 0h8m62 1h8m-58 0h8m74 0h8m-29 0h8m-31 0h8m51 0h8m-49 0h8m10 0h8m-8 0h8m-61 0h8m-8 0h8m-39 0h8m151 0h8m-135 0h8m-2 0h8m-54 0h8m67 0h8m-93 0h8m-6 0h8m5 0h8m134 0h8m-98 0h8m0 1h8m-51 0h8m-12 0h8m34 0h8m-11 0h8m36 0h8m-99 0h8m76 0h8m-17 0h8m8 1h8m-46 0h8m-25 0h8m77 0h8m-196 0h8m-4 0h8m57 0h8m10 0h8m21 0h8m-119 0h8m84 0h8m-28 0h8m7 0h8m37 0h8m-57 1h8m-21 0h8m-18 0h8m4 0h8m78 0h8m-17 0h8m-42 0h8m-58 0h8m-1 0h8m-6 0h8m24 0h8m-28 0h8m74 0h8m-63 0h8m-60 1h8m-27 0h8m-37 0h8m19 0h8m65 0h8m23 0h8m-18 0h8m-89 0h8m18 0h8m-10 0h8m39 0h8m-1 0h8m-43 0h8m-27 1h8m44 0h8m-60 0h8m15 0h8m13 0h8m-18 0h8m2 0h8m-85 0h8m46 0h8m-21 0h8m-55 0h8m96 0h8m-58 0h8m109 0h8m-83 0h8m-107 0h8m115 0h8m-60 1h8m-69 0h8m61 0h8m-28 0h8m56 0h8m-54 0h8m-37 0h8m-5 0h8m-24 0h8m0 0h8m47 0h8m-95 1h8m5 0h8m60 0h8m-21 0h8m-42 0h8m60 0h8m-73 0h8m-9 0h8m-29 0h8m-13 0h8m58 0h8m-17 0h8m-78 0h8m8 1h8m64 0h8m-71 0h8m14 0h8m-41 0h8m-33 0h8m11 0h8m28 0h8m-18 0h8m-23 0h8m31 1h8m51 0h8m-41 0h8m56 0h8m-55 0h8m-48 0h8m-6 0h8m-32 0h8m-18 0h8m33 0h8m-42 0h8m33 1h8m-3 0h8m-33 0h8m-28 0h8m13 0h8m5 0h8m34 0h8m-21 0h8m-72 0h8m-11 0h8m16 0h8m32 0h8m-102 0h8m38 0h8m-2 0h8m-39 0h8m-11 0h8m45 0h8m-39 0h8m-81 0h8m50 0h8m5 0h8m83 0h8m-109 0h8m-48 0h8m25 1h8m-15 0h8m86 0h8m-74 0h8m-9 0h8m27 0h8m-14 0h8m11 0h8m-44 0h8m36 0h8m7 0h8m-10 0h8m10 0h8m-51 0h8m-53 0h8m48 1h8m-41 0h8m-20 0h8m-35 0h8m65 0h8m-50 0h8m-15 0h8m-48 0h8m68 0h8m-64 0h8m-24 0h8m-33 0h8m175 1h8m-174 0h8m93 0h8m-77 0h8m-23 0h8m19 0h8m-10 0h8m13 0h8m-85 0h8m-16 0h8m27 0h8m95 0h8m-94 0h8m16 0h8m-62 0h8m68 0h8m-76 1h8m27 0h8m17 0h8m-3 0h8m-44 0h8m34 0h8m-7 0h8m61 0h8m-163 0h8m126 0h8m-31 0h8m-133 0h8m42 0h8m34 0h8m-46 0h8m25 0h8m45 0h8m-66 1h8m10 0h8m-14 0h8m-9 0h8m-50 0h8m-41 0h8m61 0h8m-83 0h8m72 0h8m-101 0h8m127 0h8m-44 0h8m-29 1h8m-7 0h8m6 0h8m-1 0h8m-33 0h8m-30 0h8m64 1h8m-100 0h8m16 0h8m-24 0h8m-36 0h8m42 0h8m-58 1h8m11 0h8m13 0h8m47 0h8m-35 0h8m37 0h8m-120 0h8m36 0h8m-19 0h8m40 0h8m-67 1h8m16 0h8m-16 0h8m75 0h8m-128 0h8m39 0h8m17 0h8m-84 0h8m29 0h8m36 0h8m3 0h8m-10 0h8m-69 0h8m29 0h8m-19 0h8m1 0h8m13 1h8m-87 0h8m20 0h8m-23 0h8m-14 0h8m37 0h8m-12 0h8m23 0h8m-12 0h8m-13 0h8m-53 0h8m34 0h8m11 0h8m2 0h8m-165 1h8m115 0h8m-56 0h8m14 0h8m-28 0h8m54 0h8m-18 0h8m-1 0h8m-20 0h8m-100 0h8m4 0h8m59 1h8m25 0h8m-48 0h8m67 0h8m-64 0h8m-88 0h8m68 0h8m2 0h8m78 0h8m-115 0h8m-12 0h8m37 0h8m-97 0h8m54 0h8m9 0h8m-49 1h8m-13 0h8m-27 0h8m110 0h8m-57 0h8m-53 0h8m52 0h8m-60 0h8m10 0h8m-42 0h8m15 1h8m-60 0h8m42 0h8m24 0h8m-67 0h8m86 0h8m-27 0h8m-89 0h8m-20 0h8m116 1h8m-88 0h8m-9 0h8m-38 0h8m26 0h8m-66 0h8m112 0h8m-63 0h8m-72 0h8m60 0h8m45 1h8m-71 0h8m-50 0h8m11 0h8m46 0h8m-76 0h8m51 0h8m-61 0h8m17 0h8m70 1h8m-50 0h8m-70 0h8m29 0h8m-25 0h8m-17 0h8m115 0h8m-72 0h8m-10 1h8m-81 0h8m48 0h8m-37 0h8m82 0h8m-95 0h8m16 1h8m-32 0h8m-53 0h8m7 0h8m35 1h8m-7 0h8m73 0h8m-60 0h8m-74 0h8m-1 0h8m55 0h8m-52 0h8m-40 0h8m-38 0h8m53 0h8m48 0h8m1 0h8m-114 1h8m72 0h8m-32 0h8m-62 0h8m107 0h8m-80 0h8m-2 0h8m-30 0h8m45 0h8m-46 0h8m66 0h8m11 1h8m-114 0h8m21 0h8m-50 0h8m31 0h8m16 0h8m-5 0h8m-45 0h8m-8 0h8m-10 0h8m30 1h8m-64 0h8m-84 0h8m45 0h8m37 0h8m-28 0h8m69 0h8m-10 0h8m-118 0h8m31 0h8m-78 0h8m47 0h8m37 0h8m-54 0h8m-52 0h8m86 1h8m-116 0h8m111 0h8m-22 0h8m-70 0h8m11 0h8m-9 0h8m-22 0h8m29 0h8m-37 0h8m62 0h8m4 1h8m-58 0h8m2 0h8m-3 0h8m47 0h8m-79 0h8m1 0h8m-61 0h8m34 0h8m5 0h8m-8 0h8m28 0h8m2 1h8m-74 0h8m-9 0h8m48 0h8m-52 0h8m-11 0h8m18 0h8m-129 0h8m115 0h8m-106 0h8m120 0h8m19 0h8m-108 1h8m-9 0h8m-65 0h8m99 0h8m40 0h8m-105 0h8m71 0h8m4 1h8m-154 0h8m65 0h8m9 0h8m-61 0h8m-12 0h8m-45 1h8m57 0h8m81 0h8m-96 0h8m4 0h8m-55 1h8m45 0h8m-47 0h8m35 0h8m-14 0h8m15 0h8m6 1h8m34 0h8m-140 0h8m-11 0h8m24 0h8m34 1h8m-3 0h8m16 0h8m-59 0h8m21 0h8m-57 0h8m24 0h8m0 0h8m-9 0h8m-12 0h8m-26 0h8m-27 1h8m58 0h8m-50 0h8m57 0h8m-29 0h8m-98 0h8m16 0h8m5 1h8m33 0h8m-62 0h8m-12 1h8m-32 0h8m38 0h8m46 0h8m-114 0h8m110 0h8m-40 0h8m-87 0h8m10 0h8m39 0h8m63 1h8m-81 0h8m2 0h8m-69 0h8m73 0h8m-34 0h8m-34 0h8m26 1h8m10 0h8m-32 0h8m-37 0h8m34 0h8m-69 0h8m47 0h8m-35 1h8m-53 0h8m64 0h8m-22 0h8m-25 0h8m-59 0h8m14 0h8m-25 1h8m-60 0h8m107 0h8m-59 0h8m77 0h8m-77 0h8m2 0h8m-85 1h8m84 0h8m17 0h8m-24 0h8m-43 0h8m7 0h8m-59 0h8m84 1h8m-18 0h8m-106 0h8m42 0h8m-24 0h8m70 0h8m-75 1h8m39 0h8m-37 0h8m25 0h8m-84 1h8m-14 0h8m90 0h8m-84 1h8m-14 0h8m64 0h8m-51 0h8m8 0h8m15 0h8m-49 0h8m61 1h8m-116 0h8m54 0h8m-10 0h8m-30 1h8m-21 0h8m14 0h8m70 0h8m-48 1h8m4 0h8m-30 0h8m-32 0h8m-5 0h8m-48 0h8m27 0h8m-3 0h8m-98 1h8m124 0h8m-15 0h8m-64 1h8m20 0h8m0 1h8m-87 0h8m41 0h8m-23 0h8m19 0h8m88 0h8m-107 0h8m-21 0h8m6 1h8m25 0h8m-7 1h8m-15 2h8m-8 0h8m29 1h8m-96 0h8m-26 1h8m65 0h8m3 0h8m-61 0h8m68 1h8m-122 1h8m84 0h8m-44 1h8m14 0h8m-76 1h8m59 1h8m-52 1h8m29 0h8m-38 1h8m-54 1h8m112 1h8m-112 0h8m85 0h8m-79 2h8m48 1h8m-110 2h8m74 5h8m-35 5h8" stroke="#801878" stroke-width="8" fill="none" opacity="0.85"/>
<path transform="scale(.1)" d="m821 525h8m-59 6h8m70 7h8m-53 0h8m-78 0h8m54 4h8m-3 4h8m-64 2h8m13 1h8m79 1h8m-116 8h8m-52 0h8m155 3h8m-60 2h8m-32 2h8m-41 11h8m59 0h8m-54 2h8m-46 3h8m43 1h8m50 0h8m-92 4h8m35 0h8m-18 2h8m-30 9h8m11 1h8m-75 1h8m113 8h8m-98 3h8m6 0h8m12 3h8m23 4h8m-48 2h8m72 1h8m-29 1h8m-30 2h8m-55 0h8m-7 4h8m-11 1h8m-20 2h8m-1 1h8m3 0h8m8 1h8m44 2h8m-16 1h8m2 2h8m-26 2h8m-43 0h8m-4 3h8m-51 1h8m-21 0h8m45 1h8m80 1h8m-166 2h8m52 2h8m0 3h8m-9 0h8m-33 0h8m-13 2h8m82 0h8m-64 1h8m-95 1h8m69 2h8m-66 1h8m49 3h8m39 2h8m-25 3h8m-141 0h8m29 0h8m41 1h8m10 0h8m-13 3h8m25 3h8m-106 0h8m21 2h8m75 5h8m-118 0h8m-26 1h8m91 1h8m1 5h8m17 1h8m-92 1h8m67 0h8m-65 5h8m-19 1h8m20 0h8m3 2h8m2 0h8m-65 1h8m78 1h8m-30 1h8m26 0h8m-118 0h8m-4 0h8m-40 1h8m86 2h8m-91 2h8m95 0h8m16 1h8m-139 3h8m62 1h8m67 0h8m-76 0h8m-98 2h8m48 0h8m12 1h8m-32 0h8m45 1h8m-16 0h8m5 1h8m24 1h8m-142 0h8m16 3h8m-31 0h8m20 1h8m98 0h8m-64 1h8m-23 1h8m-24 1h8m-35 1h8m142 0h8m-61 2h8m-82 2h8m17 1h8m-4 1h8m-22 1h8m-4 1h8m-69 0h8m12 1h8m30 2h8m46 0h8m-138 2h8m92 0h8m-122 2h8m55 1h8m67 0h8m-33 0h8m-77 0h8m115 0h8m-185 1h8m160 0h8m-85 1h8m44 2h8m-108 0h8m30 4h8m81 0h8m-52 1h8m-49 0h8m17 2h8m-6 1h8m-13 0h8m43 1h8m-4 0h8m-69 1h8m-1 0h8m-18 0h8m39 1h8m-63 0h8m11 2h8m19 0h8m-90 0h8m25 1h8m-37 0h8m21 0h8m38 2h8m-66 0h8m-47 1h8m149 0h8m-108 0h8m4 1h8m15 1h8m0 1h8m-58 1h8m-1 1h8m0 0h8m65 0h8m-84 1h8m12 0h8m-6 0h8m17 0h8m-69 0h8m56 1h8m-37 0h8m-31 1h8m101 1h8m42 1h8m-201 2h8m124 0h8m-111 0h8m-55 2h8m90 2h8m-70 0h8m35 1h8m-31 1h8m23 0h8m-43 0h8m38 0h8m-51 1h8m-14 1h8m33 1h8m-97 2h8m112 2h8m-127 0h8m7 1h8m104 1h8m-88 0h8m74 0h8m-78 1h8m-63 1h8m27 1h8m61 1h8m-157 1h8m136 0h8m11 0h8m-48 1h8m58 0h8m-100 0h8m-62 0h8m52 1h8m-112 0h8m71 0h8m62 0h8m7 0h8m-36 0h8m-152 1h8m59 1h8m79 1h8m3 0h8m-63 1h8m-113 0h8m128 0h8m26 1h8m-103 1h8m79 0h8m-61 0h8m-7 0h8m-18 1h8m61 1h8m-157 1h8m132 0h8m-46 0h8m-4 0h8m21 1h8m-149 0h8m67 1h8m25 0h8m-52 0h8m-16 1h8m89 0h8m-84 2h8m33 2h8m-15 1h8m71 3h8m-85 1h8m-56 1h8m74 1h8m-41 0h8m-55 0h8m85 0h8m-140 0h8m59 1h8m17 0h8m39 1h8m-91 1h8m6 0h8m63 0h8m-45 0h8m39 0h8m-47 1h8m-46 0h8m7 1h8m13 0h8m0 0h8m14 1h8m-24 0h8m-73 1h8m60 1h8m-8 0h8m-117 1h8m110 2h8m-109 0h8m28 0h8m-20 1h8m14 0h8m25 0h8m-73 0h8m44 2h8m-44 1h8m-24 1h8m43 0h8m-49 1h8m75 0h8m-97 0h8m-56 1h8m49 1h8m-50 1h8m47 0h8m-1 0h8m43 0h8m11 1h8m-62 1h8m-71 1h8m58 2h8m-18 0h8m-58 3h8m-9 2h8m48 1h8m-5 1h8m-64 1h8m-7 1h8m5 1h8m82 3h8" stroke="#7a60d0" stroke-width="8" fill="none" opacity="0.65"/>
<path transform="scale(.1)" d="m755 531h7m-35 5h7m23 1h7m-25 3h7m46 2h7m10 17h7m42 3h7m-166 6h7m-5 1h7m35 7h7m-12 4h7m53 1h7m-119 6h7m108 5h7m-18 3h7m28 1h7m-50 3h7m-86 1h7m-13 1h7m49 2h7m155 0h7m-118 0h7m-70 12h7m3 1h7m74 4h7m-74 3h7m-79 5h7m51 13h7m62 1h7m-87 2h7m-13 0h7m111 2h7m-113 2h7m24 2h7m25 1h7m-42 3h7m-29 1h7m-16 1h7m18 5h7m-89 1h7m88 0h7m-45 2h7m-15 1h7m72 0h7m-23 5h7m-53 0h7m-48 1h7m43 0h7m38 2h7m107 1h7m-111 0h7m-10 1h7m-17 1h7m-7 0h7m-8 1h7m-71 1h7m17 0h7m-46 7h7m15 3h7m17 1h7m-97 0h7m61 0h7m16 3h7m-41 1h7m64 0h7m-44 3h7m40 4h7m-85 1h7m-9 2h7m-11 2h7m34 0h7m27 6h7m-18 3h7m40 0h7m-117 5h7m5 1h7m-7 3h7m121 1h7m-192 2h7m88 0h7m58 0h7m-37 1h7m-65 2h7m-50 0h7m58 4h7m-61 1h7m7 0h7m50 1h7m-73 1h7m-63 0h7m62 3h7m17 1h7m69 13h7m-94 0h7m27 5h7m56 5h7m-130 2h7m79 2h7m-75 1h7m-27 1h7m-16 3h7m-59 2h7m22 0h7m10 1h7m99 1h7m-122 1h7m207 0h7m-177 0h7m52 4h7m-25 1h7m19 2h7m-40 1h7m-66 1h7m74 1h7m-137 0h7m89 1h7m-75 0h7m72 4h7m-52 1h7m-32 3h7m20 8h7m83 3h7m-118 5h7m142 1h7m-84 8h7m-55 3h7m-10 8h7m52 3h7" stroke="#b050a0" stroke-width="7" fill="none" opacity="0.55"/>
<path transform="scale(.1)" d="m769 740h8m32 11h8m-33 7h8m22 5h8m-103 4h8m32 4h8m29 8h8m-108 2h8m18 0h8m53 3h8m-35 3h8m64 1h8m-75 0h8m69 1h8m-90 3h8m18 2h8m57 0h8m-75 1h8m47 0h8m-103 0h8m2 0h8m29 2h8m13 0h8m-42 1h8m-41 0h8m7 1h8m38 2h8m-5 0h8m-31 1h8m5 0h8m-70 0h8m29 0h8m-6 0h8m-32 0h8m12 1h8m-26 0h8m-7 0h8m56 0h8m-57 2h8m44 0h8m-49 0h8m41 0h8m-110 0h8m114 1h8m-67 1h8m-65 1h8m2 0h8m35 0h8m-7 1h8m23 0h8m-50 0h8m33 1h8m-90 0h8m8 0h8m-54 0h8m80 0h8m-54 1h8m43 0h8m-20 0h8m-11 0h8m32 1h8m-9 0h8m-32 0h8m17 0h8m-56 1h8m69 0h8m-100 1h8m55 0h8m-97 1h8m74 0h8m-50 1h8m26 0h8m-11 1h8m33 0h8m-97 1h8m-16 0h8m65 0h8m2 1h8m-25 0h8m-90 0h8m29 0h8m-14 0h8m3 1h8m15 0h8m-58 1h8m60 0h8m-69 1h8m59 0h8m21 0h8m-58 1h8m-55 0h8m-17 0h8m44 1h8m44 0h8m-91 0h8m-12 1h8m59 0h8m-30 0h8m3 0h8m-1 0h8m-62 0h8m-1 0h8m74 1h8m-126 0h8m129 0h8m-87 0h8m-83 0h8m96 0h8m-77 0h8m-8 0h8m-14 1h8m-50 0h8m100 0h8m-39 0h8m-64 0h8m-20 0h8m104 0h8m-78 1h8m134 0h8m-99 0h8m32 0h8m-96 1h8m-26 0h8m99 0h8m-66 0h8m-35 0h8m44 1h8m-1 1h8m-66 0h8m-31 0h8m72 0h8m-62 0h8m-30 1h8m87 0h8m-30 0h8m-24 0h8m-73 1h8m6 0h8m-8 0h8m-13 0h8m20 1h8m-64 0h8m69 0h8m-55 0h8m70 1h8m-55 0h8m-26 0h8m37 1h8m-19 0h8m-3 0h8m-91 0h8m90 0h8m-41 0h8m9 1h8m40 0h8m-14 0h8m-33 1h8m-81 0h8m24 1h8m29 1h8m-32 0h8m-58 0h8m-31 0h8m64 1h8m-12 0h8m7 0h8m-9 0h8m-4 1h8m-4 0h8m-4 0h8m-60 0h8m13 0h8m-35 1h8m51 0h8m-14 0h8m-35 0h8m14 0h8m-1 0h8m19 1h8m-100 0h8m2 1h8m45 0h8m20 0h8m-36 1h8m-76 0h8m72 0h8m-34 0h8m1 1h8m39 0h8m-111 0h8m15 0h8m36 0h8m-28 1h8m-42 0h8m40 0h8m-28 0h8m16 0h8m-40 0h8m34 0h8m-23 0h8m-23 0h8m24 1h8m-5 0h8m-57 0h8m-40 0h8m-57 0h8m82 0h8m-43 0h8m14 0h8m-6 1h8m17 0h8m25 1h8m-58 0h8m-58 0h8m41 0h8m-29 0h8m31 0h8m-31 0h8m-75 1h8m63 0h8m20 0h8m-3 1h8m-46 0h8m-8 0h8m-4 1h8m-6 0h8m-69 0h8m74 0h8m-79 0h8m37 1h8m-6 0h8m-15 0h8m-34 0h8m52 0h8m-79 0h8m22 0h8m21 1h8m19 0h8m-55 0h8m-33 0h8m9 0h8m58 0h8m-54 0h8m-31 1h8m76 0h8m-80 0h8m-71 1h8m83 0h8m-54 0h8m26 0h8m38 0h8m-43 1h8m-54 0h8m64 0h8m-71 0h8m18 1h8m-8 0h8m-98 0h8m-13 0h8m134 0h8m-51 0h8m-23 0h8m24 1h8m-18 0h8m31 0h8m-64 0h8m27 1h8m-59 0h8m-52 0h8m98 0h8m-12 0h8m-78 0h8m49 1h8m-32 0h8m12 0h8m-34 1h8m29 1h8m-63 0h8m78 0h8m-46 0h8m-83 0h8m56 0h8m-10 0h8m-87 0h8m65 0h8m-5 1h8m10 0h8m-57 0h8m3 1h8m-12 0h8m-46 0h8m52 0h8m17 0h8m-66 1h8m61 0h8m-115 0h8m100 0h8m-50 1h8m-2 0h8m14 0h8m-16 0h8m-22 0h8m-56 1h8m1 0h8m27 0h8m-43 0h8m-33 0h8m37 1h8m-21 0h8m-20 1h8m103 0h8m-143 0h8m102 0h8m-104 1h8m57 1h8m6 0h8m-60 0h8m25 0h8m-39 0h8m-9 1h8m81 0h8m-69 1h8m-60 1h8m76 0h8m-50 0h8m60 1h8m-41 0h8m-95 1h8m19 0h8m-5 0h8m27 0h8m-3 0h8m9 0h8m-87 0h8m-5 1h8m24 0h8m41 0h8m-55 1h8m-2 0h8m-28 0h8m28 1h8m-55 0h8m52 0h8m-21 0h8m-31 0h8m107 0h8m-99 0h8m-1 0h8m10 0h8m9 1h8m-103 0h8m30 1h8m-40 0h8m28 0h8m-52 0h8m81 0h8m-102 1h8m72 0h8m-32 0h8m-54 1h8m42 0h8m15 1h8m-54 0h8m9 0h8m-14 1h8m40 1h8m-64 0h8m30 0h8m-39 1h8m-22 1h8m13 0h8m-20 0h8m-42 0h8m70 0h8m-38 1h8m-22 0h8m-1 1h8m30 1h8m-107 1h8m2 0h8m64 1h8m-108 1h8m48 1h8m17 1h8m-28 1h8m-48 1h8m74 0h8m-35 0h8m15 1h8m-6 1h8m38 2h8m-78 1h8m-24 0h8m14 1h8m0 0h8m-99 1h8m55 0h8m33 0h8m37 0h8m-87 1h8m7 1h8m-35 0h8m21 1h8m-81 1h8m128 0h8m-113 0h8m67 2h8m-69 2h8m42 1h8m4 1h8m-53 3h8m18 3h8m-61 1h8m-7 1h8" stroke="#4040f0" stroke-width="8" fill="none" opacity="0.8"/>
</g>
<ellipse cx="78.8" cy="85.8" rx="3.4" ry="3.1" fill="#1c1cf8" filter="url(#b1)"/>
<rect x="65.50" y="51.30" width="30.90" height="41.80" fill="none" stroke="#4a4ac8" stroke-width="0.7"/>
<text x="68.80" y="73.40" font-size="4.2" font-weight="bold" fill="#2828b8">Gate 2</text>
<text x="28.30" y="29.90" font-size="4.0" text-anchor="end" fill="#222" stroke="#222" stroke-width="0.12">1024</text>
<line x1="29.10" y1="28.50" x2="30.50" y2="28.50" stroke="#222" stroke-width="0.6"/>
<text x="28.30" y="46.73" font-size="4.0" text-anchor="end" fill="#222" stroke="#222" stroke-width="0.12">768</text>
<line x1="29.10" y1="45.33" x2="30.50" y2="45.33" stroke="#222" stroke-width="0.6"/>
<text x="28.30" y="63.55" font-size="4.0" text-anchor="end" fill="#222" stroke="#222" stroke-width="0.12">512</text>
<line x1="29.10" y1="62.15" x2="30.50" y2="62.15" stroke="#222" stroke-width="0.6"/>
<text x="28.30" y="80.38" font-size="4.0" text-anchor="end" fill="#222" stroke="#222" stroke-width="0.12">256</text>
<line x1="29.10" y1="78.97" x2="30.50" y2="78.97" stroke="#222" stroke-width="0.6"/>
<text x="28.30" y="97.20" font-size="4.0" text-anchor="end" fill="#222" stroke="#222" stroke-width="0.12">0</text>
<line x1="29.10" y1="95.80" x2="30.50" y2="95.80" stroke="#222" stroke-width="0.6"/>
<text x="29.70" y="104.00" font-size="4.0" text-anchor="middle" fill="#222">10<tspan font-size="0.7em" dy="-0.5em">0</tspan><tspan dy="0.350em">&#8203;</tspan></text>
<line x1="30.50" y1="95.80" x2="30.50" y2="97.40" stroke="#222" stroke-width="0.6"/>
<text x="52.08" y="104.00" font-size="4.0" text-anchor="middle" fill="#222">10<tspan font-size="0.7em" dy="-0.5em">1</tspan><tspan dy="0.350em">&#8203;</tspan></text>
<line x1="52.88" y1="95.80" x2="52.88" y2="97.40" stroke="#222" stroke-width="0.6"/>
<text x="74.45" y="104.00" font-size="4.0" text-anchor="middle" fill="#222">10<tspan font-size="0.7em" dy="-0.5em">2</tspan><tspan dy="0.350em">&#8203;</tspan></text>
<line x1="75.25" y1="95.80" x2="75.25" y2="97.40" stroke="#222" stroke-width="0.6"/>
<text x="96.83" y="104.00" font-size="4.0" text-anchor="middle" fill="#222">10<tspan font-size="0.7em" dy="-0.5em">3</tspan><tspan dy="0.350em">&#8203;</tspan></text>
<line x1="97.62" y1="95.80" x2="97.62" y2="97.40" stroke="#222" stroke-width="0.6"/>
<text x="119.20" y="104.00" font-size="4.0" text-anchor="middle" fill="#222">10<tspan font-size="0.7em" dy="-0.5em">4</tspan><tspan dy="0.350em">&#8203;</tspan></text>
<line x1="120.00" y1="95.80" x2="120.00" y2="97.40" stroke="#222" stroke-width="0.6"/>
<text x="75.25" y="106.40" font-size="3.4" font-weight="bold" text-anchor="middle" fill="#222">FL1-H</text>
<text transform="translate(17.30,61.65) rotate(-90)" font-size="4.2" text-anchor="middle" fill="#222" stroke="#222" stroke-width="0.12">SSC-H</text>
<rect x="30.50" y="140.00" width="89.50" height="66.30" fill="#fff" stroke="#9a9a9a" stroke-width="0.7"/>
<line x1="30.50" y1="139.70" x2="30.50" y2="206.60" stroke="#222" stroke-width="0.9"/>
<line x1="30.20" y1="206.30" x2="120.30" y2="206.30" stroke="#222" stroke-width="0.9"/>
<ellipse cx="43" cy="190" rx="11" ry="9" fill="#c03030" opacity="0.35" filter="url(#b2)"/>
<ellipse cx="76" cy="195" rx="7" ry="6" fill="#801880" opacity="0.45" filter="url(#b2)"/>
<ellipse cx="83" cy="198.5" rx="9" ry="3" fill="#801880" opacity="0.4" filter="url(#b2)"/>
<g filter="url(#b1)">
<path transform="scale(.1)" d="m351 1405h7m78 1h7m305 0h7m-106 1h7m0 0h7m91 0h7m-187 2h7m147 1h7m-292 0h7m382 3h7m-223 1h7m-27 1h7m11 0h7m293 1h7m-64 0h7m68 0h7m-369 0h7m319 1h7m-262 2h7m-22 0h7m173 2h7m151 0h7m11 1h7m-620 0h7m-51 0h7m594 2h7m-23 1h7m-399 0h7m-215 2h7m96 0h7m17 0h7m-28 1h7m58 2h7m52 0h7m325 1h7m-411 0h7m-47 0h7m5 2h7m-58 1h7m236 1h7m-92 1h7m80 1h7m-146 0h7m313 0h7m131 2h7m-282 1h7m-64 0h7m-72 1h7m109 1h7m-106 1h7m99 0h7m236 1h7m-384 0h7m50 0h7m287 1h7m-434 0h7m139 1h7m-86 1h7m304 1h7m33 0h7m-309 0h7m-151 1h7m25 1h7m379 1h7m40 0h7m-404 0h7m157 2h7m-57 0h7m352 0h7m-417 2h7m-194 0h7m561 1h7m-598 0h7m404 0h7m-168 1h7m-108 1h7m132 0h7m211 0h7m-559 1h7m259 0h7m385 0h7m-136 0h7m-66 1h7m87 1h7m79 1h7m-356 0h7m-313 0h7m256 1h7m158 0h7m-352 0h7m56 1h7m306 1h7m93 1h7m-251 0h7m-291 1h7m543 1h7m-346 0h7m387 0h7m-191 0h7m-141 1h7m-2 0h7m192 1h7m-390 1h7m285 0h7m112 0h7m-215 1h7m-214 0h7m73 0h7m100 1h7m-89 0h7m277 0h7m-502 0h7m-3 0h7m508 1h7m34 0h7m-302 2h7m255 0h7m20 0h7m-299 1h7m188 0h7m191 1h7m-4 0h7m-87 2h7m-589 2h7m499 0h7m-309 1h7m-140 0h7m-74 0h7m261 0h7m322 0h7m-569 1h7m548 1h7m57 0h7m-174 0h7m126 0h7m-345 2h7m239 1h7m-365 1h7m479 0h7m-275 0h7m-50 1h7m107 1h7m-212 1h7m117 0h7m170 0h7m-482 0h7m78 1h7m444 1h7m-156 1h7m-190 2h7m-235 0h7m96 0h7m76 0h7m-22 0h7m-183 2h7m559 0h7m-650 1h7m563 2h7m48 0h7m8 1h7m-541 1h7m-105 0h7m632 1h7m-485 0h7m156 1h7m94 3h7m-365 0h7m481 0h7m-562 0h7m33 0h7m355 1h7m194 0h7m-274 1h7m327 0h7m-124 1h7m60 0h7m-555 0h7m568 2h7m-593 0h7m542 0h7m-163 1h7m-156 0h7m-228 1h7m61 0h7m-160 0h7m-15 1h7m461 0h7m-431 0h7m423 2h7m-53 1h7m-356 0h7m352 1h7m-177 0h7m68 1h7m-300 0h7m627 0h7m-505 1h7m298 0h7m-92 1h7m-33 1h7m183 0h7m-158 1h7m198 0h7m-352 0h7m-198 0h7m111 1h7m394 0h7m-401 3h7m-17 0h7m-193 1h7m11 1h7m442 0h7m-316 0h7m391 0h7m-122 1h7m-37 0h7m-204 0h7m82 1h7m258 0h7m-173 0h7m106 1h7m63 1h7m-294 0h7m110 1h7m-191 0h7m-59 0h7m370 0h7m-549 0h7m114 1h7m58 1h7m239 0h7m-341 0h7m35 0h7m204 1h7m221 0h7m49 1h7m-5 2h7m-596 1h7m545 0h7m-457 1h7m368 0h7m-239 1h7m-238 2h7m-4 0h7m20 0h7m220 2h7m22 0h7m268 1h7m-140 1h7m93 2h7m-206 1h7m105 0h7m-524 0h7m11 1h7m71 0h7m172 1h7m250 1h7m-512 0h7m-49 1h7m172 2h7m-103 1h7m155 0h7m-116 0h7m474 1h7m53 0h7m-54 1h7m-414 1h7m-128 0h7m486 1h7m-379 2h7m61 0h7m-149 2h7m175 3h7m149 1h7m22 0h7m128 1h7m-365 0h7m-89 0h7m56 1h7m288 0h7m67 1h7m-590 0h7m471 0h7m-253 2h7m94 1h7m201 1h7m-92 0h7m-104 0h7m107 1h7m137 2h7m-273 0h7m47 1h7m207 0h7m-491 1h7m481 0h7m-169 0h7m-376 1h7m169 3h7m22 0h7m266 0h7m-159 0h7m-241 1h7m96 0h7m-261 1h7m549 0h7m-637 0h7m375 1h7m195 1h7m-55 0h7m-112 0h7m139 1h7m-514 0h7m-34 1h7m67 0h7m217 2h7m107 0h7m-322 0h7m171 1h7m248 0h7m-263 0h7m32 0h7m205 5h7m79 0h7m-501 1h7m405 1h7m-334 1h7m-48 0h7m-161 0h7m-18 1h7m210 3h7m-101 1h7m262 2h7m-285 5h7m-28 1h7m-49 1h7m4 0h7m381 1h7m-339 0h7m380 1h7m-552 1h7m513 1h7m-541 0h7m13 0h7m235 0h7m323 0h7m-79 1h7m-512 1h7m554 1h7m-28 1h7m-264 0h7m64 0h7m197 0h7m-22 1h7m-17 0h7m-81 2h7m174 6h7m-271 0h7m-12 1h7m-295 0h7m15 0h7m541 1h7m-320 1h7m-226 0h7m164 0h7m121 1h7m202 1h7m-133 0h7m-389 1h7m495 1h7m27 1h7m-409 0h7m303 1h7m-427 0h7m216 1h7m-186 1h7m387 1h7m-209 1h7m46 2h7m-166 0h7m384 0h7m-451 0h7m363 0h7m22 1h7m-568 1h7m194 1h7m-172 1h7m545 0h7m-675 1h7m218 0h7m-68 0h7m-161 1h7m424 2h7m-216 0h7m265 0h7m170 1h7m-46 1h7m-8 3h7m-185 2h7m43 4h7m-473 0h7m147 0h7m49 2h7m-239 0h7m634 1h7m-659 1h7m380 1h7m-114 1h7m363 1h7m-151 0h7m-316 1h7m268 2h7m-247 2h7m204 1h7m-439 1h7m411 1h7m76 1h7m-45 1h7m-363 2h7m312 3h7m111 0h7m-319 1h7m-54 2h7m49 1h7m-251 2h7m415 1h7m-52 4h7m-27 1h7m-320 0h7m264 1h7m87 1h7m242 2h7m-54 9h7m-42 2h7m23 3h7m-256 0h7m-275 1h7m255 0h7m31 0h7m260 1h7m-545 0h7m-75 3h7m49 2h7m184 5h7m349 2h7m-652 1h7m112 1h7m130 4h7m-91 3h7m457 1h7m-577 4h7m528 2h7m-417 1h7m-80 3h7m168 10h7m211 2h7m4 1h7m-90 1h7m-81 4h7m-186 0h7m270 1h7m-362 4h7m373 9h7m-2 1h7m126 2h7m-388 0h7m-226 2h7m213 0h7m75 0h7m182 1h7m-118 1h7m-190 1h7m322 1h7m-81 2h7m165 1h7m-77 0h7m-534 3h7m423 2h7m-521 1h7m44 11h7m334 0h7m42 1h7m-333 4h7m-40 1h7m413 3h7m-378 1h7m410 3h7m-137 3h7m-123 1h7m-61 3h7m3 16h7m143 7h7m-44 4h7m151 0h7m-98 1h7m210 13h7m-456 10h7m-24 0h7m18 5h7m443 0h7m-21 2h7m-132 3h7m-515 1h7m12 6h7m612 6h7m-57 2h7m-313 1h7m-174 9h7m165 11h7m296 14h7m-332 10h7m15 12h7m258 10h7m82 13h7" stroke="#5a4a50" stroke-width="7" fill="none" opacity="0.65"/>
<path transform="scale(.1)" d="m633 1507h7m-13 2h7m-78 7h7m66 4h7m-69 18h7m-22 6h7m17 22h7m28 3h7m-73 13h7m64 6h7m-38 42h7m66 6h7m-114 1h7m-15 2h7m48 6h7m-22 3h7m-39 8h7m12 0h7m2 7h7m-16 2h7m79 1h7m-108 0h7m-10 13h7m57 0h7m-63 1h7m-6 7h7m19 1h7m-49 1h7m23 6h7m16 0h7m-2 0h7m-59 0h7m38 9h7m31 8h7m16 5h7m-49 1h7m-11 4h7m39 13h7m-97 0h7m17 3h7m46 6h7m-51 14h7m-12 6h7m52 5h7m-77 9h7m-8 18h7m-16 5h7m47 19h7m24 1h7m-13 2h7m-15 17h7m-69 6h7m18 4h7m-74 5h7m72 6h7m-79 4h7m76 2h7m-55 2h7m28 10h7m-30 13h7m-17 3h7m-51 0h7m32 5h7m28 7h7m5 1h7m-13 4h7m2 0h7m1 0h7m-48 3h7m23 1h7m16 0h7m-109 3h7m25 2h7m-37 14h7m9 3h7m12 6h7m-15 2h7m-33 18h7m-15 5h7m39 4h7m46 3h7m-55 14h7m37 3h7m-6 4h7m-16 4h7m-77 7h7m30 14h7m-50 2h7m92 1h7m-27 1h7" stroke="#6a4050" stroke-width="7" fill="none" opacity="0.6"/>
<path transform="scale(.1)" d="m474 1408h8m12 0h8m-162 8h8m-7 9h8m80 1h8m-12 7h8m-100 1h8m80 3h8m-54 2h8m69 0h8m-90 1h8m118 1h8m-162 5h8m160 1h8m-127 2h8m-55 1h8m26 4h8m93 12h8m-75 0h8m-109 2h8m120 3h8m-48 12h8m-80 3h8m261 2h8m-196 2h8m68 0h8m-59 0h8m-65 1h8m74 0h8m-144 9h8m75 4h8m45 4h8m-44 1h8m12 1h8m-117 0h8m-25 5h8m-14 1h8m-1 1h8m178 2h8m-167 1h8m58 5h8m24 1h8m-59 5h8m70 4h8m-127 3h8m239 1h8m-168 1h8m2 7h8m-82 0h8m25 2h8m-69 0h8m-19 1h8m175 2h8m-85 0h8m-60 2h8m135 1h8m-191 0h8m29 2h8m-81 2h8m51 5h8m29 1h8m18 0h8m26 0h8m42 2h8m-185 2h8m173 0h8m3 1h8m-54 1h8m-47 1h8m-120 0h8m31 1h8m-18 2h8m24 0h8m71 1h8m-67 1h8m64 1h8m-61 2h8m-43 3h8m-1 4h8m-43 2h8m-65 0h8m94 2h8m-17 0h8m-25 0h8m31 2h8m-39 1h8m-6 1h8m79 2h8m-33 0h8m-88 1h8m75 1h8m-17 1h8m-67 1h8m110 1h8m-173 1h8m-18 1h8m133 0h8m-179 0h8m272 1h8m-174 2h8m91 0h8m-168 2h8m47 0h8m30 2h8m9 3h8m-26 1h8m-42 0h8m-72 1h8m168 0h8m-162 1h8m42 1h8m-123 1h8m-13 2h8m268 0h8m-183 1h8m19 1h8m-60 0h8m-27 1h8m74 1h8m-8 1h8m-139 0h8m34 2h8m173 0h8m-223 1h8m238 0h8m-235 2h8m62 0h8m-73 1h8m72 0h8m62 1h8m-108 1h8m-88 1h8m15 0h8m-14 1h8m139 1h8m-179 4h8m161 2h8m1 0h8m-125 1h8m-57 1h8m31 2h8m201 0h8m-243 0h8m133 0h8m-143 1h8m38 0h8m-88 1h8m19 1h8m65 0h8m38 1h8m-74 2h8m129 1h8m-175 1h8m62 1h8m-60 1h8m17 0h8m-96 1h8m20 0h8m-26 0h8m9 1h8m8 1h8m102 0h8m50 1h8m-197 1h8m168 0h8m-168 1h8m-5 1h8m-10 0h8m34 2h8m100 2h8m-130 4h8m-70 1h8m133 1h8m-2 2h8m-165 1h8m117 2h8m-97 0h8m-16 0h8m38 1h8m8 0h8m22 1h8m-37 0h8m-27 2h8m57 1h8m-145 1h8m224 1h8m33 0h8m-215 1h8m-43 1h8m104 1h8m-36 1h8m-92 0h8m-5 0h8m-7 1h8m57 0h8m-40 1h8m-45 0h8m20 1h8m-63 0h8m102 2h8m-43 1h8m-31 0h8m125 0h8m-193 1h8m-9 0h8m11 1h8m95 0h8m21 2h8m-41 0h8m-38 1h8m74 1h8m-148 1h8m123 0h8m-133 0h8m130 1h8m-140 1h8m45 1h8m11 1h8m-106 0h8m18 0h8m-8 2h8m-16 1h8m-41 1h8m68 1h8m7 0h8m-103 0h8m35 1h8m126 0h8m-159 2h8m131 0h8m-82 0h8m-77 1h8m61 0h8m5 1h8m-93 0h8m20 0h8m13 3h8m51 0h8m-39 1h8m-58 1h8m105 0h8m-131 2h8m67 0h8m47 0h8m20 0h8m-100 0h8m-71 0h8m-8 2h8m-15 2h8m-12 0h8m134 1h8m-97 1h8m-64 0h8m79 1h8m-65 0h8m121 0h8m-63 0h8m-51 1h8m-20 0h8m128 0h8m-190 0h8m106 1h8m7 1h8m-22 1h8m-53 1h8m-90 0h8m-8 1h8m-18 0h8m136 0h8m-42 0h8m-22 0h8m-50 1h8m16 1h8m-58 0h8m-29 0h8m148 0h8m-55 0h8m-99 1h8m66 0h8m-47 0h8m8 1h8m53 1h8m-65 1h8m47 0h8m-90 2h8m-55 1h8m74 0h8m-11 0h8m10 3h8m-26 1h8m43 0h8m-137 0h8m83 0h8m-2 1h8m-101 0h8m19 1h8m86 1h8m-103 0h8m167 0h8m-79 1h8m-58 1h8m-12 1h8m-14 0h8m-66 1h8m-1 0h8m102 1h8m-6 0h8m-72 0h8m82 1h8m-42 0h8m-75 0h8m-79 0h8m33 1h8m81 0h8m-30 0h8m-25 1h8m2 1h8m67 0h8m-183 0h8m16 1h8m48 0h8m-74 1h8m184 0h8m-137 1h8m92 0h8m-132 1h8m-51 1h8m61 0h8m-61 1h8m26 0h8m37 1h8m-85 0h8m-29 0h8m-16 1h8m148 0h8m-4 1h8m-104 0h8m73 0h8m-155 1h8m100 0h8m-8 1h8m-89 0h8m131 1h8m94 0h8m-188 1h8m-65 0h8m-16 1h8m63 0h8m-32 1h8m60 1h8m-121 0h8m71 1h8m-76 0h8m-35 1h8m171 0h8m-91 1h8m19 0h8m43 1h8m-174 1h8m26 2h8m132 0h8m-104 1h8m-78 0h8m-25 1h8m32 0h8m165 1h8m-84 0h8m36 0h8m68 1h8m-250 0h8m43 0h8m-69 0h8m108 0h8m-60 0h8m-75 1h8m119 1h8m-87 0h8m-53 0h8m169 1h8m-137 0h8m-70 1h8m125 0h8m102 1h8m-242 0h8m38 0h8m47 0h8m114 1h8m-12 0h8m-169 0h8m-16 1h8m44 0h8m-62 0h8m123 1h8m-49 0h8m-140 0h8m110 1h8m9 0h8m-138 0h8m106 0h8m-50 0h8m-88 1h8m49 1h8m-25 1h8m117 0h8m17 0h8m-208 1h8m67 0h8m-39 0h8m-20 0h8m13 0h8m132 0h8m-34 1h8m-19 1h8m-95 0h8m89 1h8m-99 0h8m44 0h8m117 1h8m-111 0h8m-114 0h8m46 0h8m28 0h8m-60 0h8m-33 1h8m-59 0h8m-1 1h8m154 1h8m-134 1h8m-10 0h8m46 0h8m108 0h8m33 1h8m-151 0h8m4 0h8m-88 1h8m-5 0h8m51 1h8m-15 0h8m-107 0h8m174 2h8m-46 0h8m-35 0h8m-80 1h8m89 0h8m-74 0h8m-37 0h8m173 0h8m-85 1h8m-123 0h8m19 0h8m-54 0h8m77 1h8m-114 0h8m40 1h8m126 0h8m-65 0h8m-97 2h8m-25 1h8m-7 0h8m52 0h8m-27 0h8m-62 0h8m7 0h8m8 1h8m28 0h8m-77 1h8m21 0h8m-40 1h8m40 0h8m188 1h8m-100 0h8m-69 0h8m178 0h8m-165 1h8m-118 0h8m49 0h8m-45 1h8m60 0h8m-41 1h8m-72 0h8m29 1h8m28 0h8m64 0h8m-155 1h8m138 0h8m73 0h8m-183 0h8m-23 0h8m60 1h8m-64 1h8m-30 0h8m93 0h8m25 0h8m-131 0h8m-32 0h8m68 0h8m10 2h8m-47 0h8m-18 1h8m117 0h8m-164 1h8m177 0h8m-199 1h8m64 0h8m-44 0h8m38 0h8m20 1h8m-118 0h8m77 0h8m19 1h8m-79 0h8m-49 0h8m43 0h8m-44 1h8m70 0h8m44 0h8m-105 1h8m-6 1h8m-6 0h8m-81 0h8m24 0h8m155 0h8m-71 0h8m-1 1h8m20 0h8m-174 0h8m86 1h8m-76 0h8m-7 0h8m15 0h8m-54 0h8m242 0h8m-67 1h8m-152 0h8m-54 2h8m98 0h8m-102 0h8m27 0h8m-35 1h8m93 0h8m-47 1h8m81 0h8m51 1h8m-138 0h8m-95 0h8m96 0h8m-95 0h8m-25 0h8m-28 1h8m45 0h8m37 0h8m45 1h8m-66 0h8m-92 0h8m76 0h8m-17 0h8m-38 1h8m-48 0h8m186 0h8m-87 0h8m-1 0h8m-22 0h8m-123 0h8m7 0h8m37 0h8m-40 1h8m43 1h8m-91 0h8m246 1h8m-257 0h8m74 0h8m-31 1h8m60 0h8m-141 0h8m81 0h8m37 0h8m-53 0h8m-61 0h8m-23 1h8m2 0h8m158 0h8m-145 0h8m34 1h8m-84 0h8m139 0h8m-34 0h8m-126 0h8m223 1h8m-127 0h8m-114 0h8m54 0h8m-57 1h8m-49 0h8m73 1h8m-6 0h8m27 0h8m65 1h8m-135 0h8m-53 1h8m7 0h8m-15 0h8m-38 0h8m85 1h8m72 0h8m-66 0h8m-125 0h8m-11 1h8m108 0h8m-49 0h8m-84 1h8m23 0h8m149 0h8m-184 0h8m63 0h8m75 0h8m-145 1h8m-12 0h8m189 0h8m-206 1h8m-20 0h8m156 0h8m-97 1h8m-83 0h8m116 1h8m-101 1h8m33 0h8m-48 0h8m85 0h8m-19 1h8m84 0h8m-110 0h8m-103 1h8m130 0h8m-86 1h8m26 0h8m10 0h8m21 0h8m-127 0h8m-9 0h8m41 1h8m95 0h8m-123 0h8m-77 1h8m55 0h8m-60 0h8m223 0h8m-191 1h8m52 0h8m-90 1h8m-20 0h8m89 0h8m83 0h8m-207 0h8m3 0h8m142 0h8m-5 0h8m-92 0h8m42 0h8m-143 0h8m75 1h8m150 1h8m-243 0h8m76 0h8m-115 0h8m23 0h8m76 1h8m104 1h8m-42 1h8m-199 0h8m253 0h8m-215 0h8m-11 1h8m-37 1h8m14 0h8m102 1h8m21 0h8m-103 1h8m-97 1h8m62 0h8m-67 0h8m84 1h8m50 0h8m-25 0h8m-51 1h8m-109 0h8m71 0h8m-7 0h8m-57 1h8m-20 0h8m79 0h8m69 0h8m-145 1h8m22 0h8m-10 1h8m157 0h8m-133 0h8m6 1h8m18 0h8m-151 1h8m102 0h8m-131 0h8m84 0h8m-28 0h8m134 1h8m-85 0h8m-71 0h8m-82 1h8m28 0h8m183 1h8m-174 1h8m-39 0h8m-14 0h8m74 0h8m-104 0h8m186 0h8m-48 1h8m-154 0h8m75 0h8m66 0h8m-105 1h8m73 0h8m-45 0h8m-29 1h8m-73 0h8m83 0h8m27 0h8m-75 0h8m6 1h8m-107 0h8m107 0h8m25 0h8m-101 1h8m103 0h8m-100 0h8m-39 1h8m-43 0h8m73 1h8m75 0h8m-143 0h8m-30 0h8m109 1h8m-89 0h8m-23 0h8m-28 0h8m45 0h8m66 1h8m68 1h8m-167 0h8m-18 0h8m-57 1h8m-2 0h8m61 0h8m-20 0h8m-50 1h8m-39 0h8m85 1h8m-87 0h8m1 0h8m172 0h8m-69 0h8m74 0h8m-232 0h8m168 0h8m-116 1h8m-37 0h8m67 0h8m-2 0h8m-95 1h8m46 1h8m-64 0h8m85 0h8m-80 0h8m-42 0h8m190 0h8m-217 0h8m139 1h8m-127 0h8m2 1h8m144 0h8m-124 0h8m40 0h8m-101 0h8m71 0h8m-102 1h8m80 0h8m102 0h8m-50 1h8m-57 0h8m-19 0h8m-97 0h8m11 0h8m-29 1h8m20 0h8m50 0h8m62 0h8m-120 0h8m24 0h8m-41 0h8m-53 0h8m-7 1h8m6 0h8m184 0h8m-152 0h8m-31 0h8m73 1h8m-71 0h8m-68 0h8m-21 0h8m9 0h8m62 0h8m-50 1h8m22 0h8m3 0h8m91 0h8m-124 0h8m119 0h8m-200 1h8m189 0h8m-129 0h8m-17 0h8m-87 1h8m66 0h8m202 0h8m-207 0h8m-77 0h8m135 0h8m-17 1h8m-159 1h8m25 0h8m59 0h8m-23 0h8m-52 1h8m18 0h8m-24 0h8m-10 0h8m-19 1h8m2 0h8m57 1h8m-113 0h8m111 0h8m101 0h8m-245 1h8m105 0h8m0 0h8m-28 0h8m153 0h8m-138 0h8m-30 0h8m-3 1h8m-123 0h8m35 0h8m47 0h8m-32 1h8m-18 0h8m-16 0h8m69 0h8m-84 0h8m83 0h8m10 1h8m-115 0h8m-5 0h8m-1 1h8m151 1h8m-216 0h8m12 0h8m12 0h8m4 1h8m-36 0h8m49 0h8m-107 0h8m106 1h8m-113 0h8m-10 0h8m131 2h8m-9 0h8m-128 0h8m244 0h8m-270 1h8m132 0h8m-131 1h8m194 1h8m-114 0h8m-82 0h8m9 0h8m-74 0h8m231 0h8m-136 0h8m-7 1h8m-73 0h8m214 0h8m-110 1h8m-138 0h8m82 0h8m-15 0h8m-136 1h8m96 0h8m-63 0h8m60 0h8m13 1h8m-101 1h8m23 0h8m-31 0h8m35 0h8m-67 0h8m57 1h8m-51 0h8m69 0h8m77 0h8m-180 0h8m-2 0h8m73 0h8m-3 1h8m17 0h8m61 0h8m-226 1h8m33 0h8m75 0h8m-68 0h8m-40 1h8m174 0h8m-139 0h8m-76 0h8m16 0h8m1 0h8m-27 2h8m-47 0h8m145 0h8m-61 0h8m34 0h8m-153 1h8m131 0h8m-27 0h8m16 0h8m-134 1h8m239 0h8m-254 0h8m169 0h8m-52 0h8m-130 0h8m102 0h8m-68 1h8m95 0h8m-193 0h8m85 0h8m-26 1h8m-78 0h8m26 0h8m55 0h8m-39 0h8m1 0h8m-68 1h8m-18 0h8m-2 0h8m250 1h8m-247 0h8m30 0h8m-64 0h8m72 0h8m-88 1h8m30 0h8m69 0h8m-139 1h8m45 0h8m-15 0h8m115 0h8m-68 1h8m-85 0h8m95 0h8m33 0h8m-56 1h8m-135 0h8m83 1h8m13 0h8m-71 1h8m47 0h8m-90 0h8m72 0h8m-48 0h8m-56 0h8m61 0h8m117 0h8m8 1h8m-116 1h8m143 0h8m-274 0h8m223 0h8m-116 1h8m-133 0h8m108 1h8m-123 0h8m-6 1h8m19 0h8m-30 2h8m35 0h8m-23 0h8m-45 0h8m40 0h8m-10 0h8m133 2h8m-59 1h8m-65 0h8m-57 1h8m88 0h8m-4 0h8m-60 1h8m13 0h8m-75 0h8m54 0h8m57 0h8m-156 0h8m17 0h8m31 1h8m-5 0h8m-37 1h8m101 0h8m-41 0h8m-117 1h8m12 1h8m-36 0h8m226 1h8m-204 0h8m174 0h8m-226 0h8m16 1h8m51 0h8m-61 0h8m141 0h8m-118 1h8m151 0h8m-213 0h8m153 0h8m-121 0h8m-30 1h8m64 0h8m-136 1h8m83 0h8m-96 0h8m-1 1h8m-9 0h8m-16 0h8m29 0h8m94 0h8m-86 0h8m47 2h8m-35 0h8m-91 0h8m-12 1h8m159 0h8m-176 0h8m8 0h8m66 1h8m-54 0h8m-13 0h8m206 0h8m-264 1h8m45 0h8m-19 0h8m68 1h8m-82 0h8m-31 0h8m-15 0h8m133 1h8m-38 0h8m11 1h8m-72 0h8m-37 1h8m-35 0h8m109 0h8m-108 1h8m69 0h8m57 1h8m-77 0h8m-55 1h8m-14 0h8m-47 1h8m209 0h8m-182 1h8m-50 0h8m99 0h8m-13 1h8m41 0h8m-103 0h8m-23 1h8m-40 0h8m25 0h8m-72 1h8m104 0h8m51 1h8m-96 0h8m34 0h8m-71 0h8m-6 1h8m180 0h8m-198 1h8m28 1h8m119 0h8m-18 0h8m-181 0h8m71 1h8m-132 0h8m88 0h8m-87 0h8m93 1h8m1 1h8m55 1h8m-37 3h8m-53 0h8m-51 2h8m-45 0h8" stroke="#c83838" stroke-width="8" fill="none" opacity="0.65"/>
<path transform="scale(.1)" d="m480 1531h8m46 107h8m50 4h8m-204 2h8m95 6h8m-68 13h8m-25 6h8m-60 1h8m63 3h8m18 1h8m-73 1h8m-33 10h8m55 3h8m72 1h8m-199 6h8m156 1h8m-89 2h8m-62 1h8m80 1h8m45 0h8m-164 0h8m217 0h8m-141 1h8m34 1h8m-119 2h8m-57 2h8m134 0h8m53 1h8m-158 0h8m63 4h8m76 2h8m-78 1h8m66 0h8m-139 1h8m1 4h8m133 0h8m-38 1h8m-36 2h8m-45 1h8m-41 1h8m119 1h8m-51 1h8m-60 0h8m2 1h8m-33 0h8m93 3h8m-68 1h8m45 1h8m-15 0h8m-8 0h8m-158 1h8m157 0h8m-33 0h8m-37 1h8m-162 1h8m213 0h8m-2 1h8m-184 0h8m-79 1h8m184 1h8m-117 1h8m172 1h8m-242 1h8m129 1h8m-19 2h8m-56 1h8m-37 1h8m112 0h8m4 0h8m5 1h8m-62 0h8m27 0h8m-137 1h8m-9 1h8m69 0h8m-25 1h8m-17 0h8m-99 1h8m87 1h8m22 2h8m67 0h8m-102 0h8m-23 1h8m-1 1h8m15 1h8m-144 1h8m131 0h8m-34 1h8m31 1h8m-146 0h8m152 2h8m-126 0h8m-15 1h8m-50 1h8m120 0h8m-76 0h8m58 0h8m-50 0h8m-59 1h8m-50 1h8m98 0h8m25 0h8m-25 2h8m-79 1h8m43 0h8m-1 0h8m105 0h8m-168 0h8m180 1h8m-154 0h8m136 0h8m-235 0h8m110 0h8m27 0h8m-133 1h8m-61 0h8m122 0h8m-109 0h8m56 1h8m-7 0h8m-56 0h8m-63 0h8m250 1h8m-213 1h8m-8 0h8m-7 0h8m159 0h8m-120 1h8m0 0h8m34 0h8m65 0h8m-181 0h8m102 1h8m-11 0h8m-88 1h8m104 0h8m-127 0h8m13 1h8m172 0h8m-165 0h8m-78 0h8m101 1h8m-17 0h8m-107 1h8m-48 0h8m89 0h8m-73 1h8m127 0h8m-119 0h8m28 0h8m34 0h8m-59 1h8m-6 1h8m87 0h8m6 0h8m-55 1h8m111 0h8m-286 1h8m89 0h8m-32 1h8m57 0h8m108 0h8m-119 0h8m42 1h8m-137 1h8m-35 0h8m43 0h8m43 0h8m50 0h8m-82 0h8m11 1h8m-29 1h8m-11 0h8m-117 0h8m169 0h8m5 0h8m-18 0h8m-82 1h8m79 0h8m-21 0h8m-96 0h8m-64 1h8m136 1h8m-21 1h8m-88 0h8m86 0h8m-125 1h8m21 0h8m-117 0h8m54 1h8m93 0h8m-43 0h8m18 1h8m-28 0h8m142 0h8m-209 1h8m149 0h8m-52 1h8m-88 0h8m32 0h8m-55 0h8m99 0h8m-83 0h8m124 1h8m-85 0h8m-118 0h8m-10 0h8m164 0h8m-18 1h8m17 0h8m-130 0h8m-32 0h8m-112 0h8m195 0h8m-122 1h8m50 0h8m-48 0h8m3 0h8m22 1h8m-111 0h8m69 0h8m-32 0h8m16 1h8m-2 0h8m23 1h8m-115 0h8m-50 0h8m-32 0h8m62 0h8m28 1h8m-22 0h8m62 0h8m-49 0h8m32 1h8m-69 0h8m102 0h8m-30 0h8m-158 0h8m16 0h8m107 1h8m-85 0h8m-43 0h8m36 0h8m-63 0h8m-5 0h8m28 1h8m-44 0h8m45 0h8m57 0h8m-92 0h8m46 1h8m-12 0h8m-86 0h8m-12 0h8m106 0h8m-174 0h8m46 1h8m141 0h8m-103 0h8m-95 0h8m132 1h8m-42 0h8m95 0h8m-97 0h8m32 0h8m-24 0h8m-8 1h8m-85 0h8m110 0h8m-110 0h8m77 0h8m-22 1h8m-53 0h8m102 0h8m-157 0h8m-91 1h8m45 0h8m-58 0h8m90 1h8m-45 0h8m11 0h8m19 0h8m14 0h8m-96 0h8m-73 0h8m146 0h8m116 1h8m-186 0h8m-43 0h8m104 1h8m3 0h8m-99 0h8m-14 0h8m72 1h8m-61 0h8m-70 1h8m67 0h8m-61 0h8m35 0h8m9 1h8m-7 0h8m78 0h8m-164 0h8m90 0h8m-98 0h8m-1 0h8m18 1h8m25 0h8m-22 0h8m54 0h8m-86 0h8m-106 1h8m20 0h8m94 0h8m25 0h8m-91 0h8m-40 0h8m99 0h8m-126 1h8m138 0h8m-183 0h8m117 0h8m-84 0h8m57 1h8m-24 0h8m10 0h8m-16 0h8m129 0h8m-63 1h8m-38 0h8m-177 0h8m179 0h8m-130 0h8m-30 0h8m76 0h8m58 0h8m-89 0h8m51 1h8m-168 0h8m53 0h8m-43 0h8m12 0h8m53 1h8m-64 0h8m8 1h8m40 0h8m-149 1h8m162 0h8m-100 0h8m145 0h8m-158 0h8m7 1h8m80 0h8m-109 0h8m-21 0h8m112 0h8m-156 0h8m45 0h8m162 0h8m-96 0h8m-125 0h8m122 0h8m15 0h8m-76 1h8m136 0h8m-185 0h8m17 0h8m80 1h8m-59 0h8m-84 0h8m-31 0h8m33 0h8m-14 0h8m-4 0h8m-31 0h8m-32 0h8m86 0h8m-39 0h8m62 0h8m-71 0h8m58 0h8m-121 1h8m71 1h8m3 0h8m-100 0h8m67 0h8m33 0h8m-135 0h8m135 0h8m-74 0h8m39 1h8m29 0h8m-211 0h8m211 0h8m-158 1h8m-16 0h8m110 1h8m-83 0h8m3 0h8m11 0h8m-159 0h8m204 1h8m-101 0h8m18 0h8m-120 0h8m210 0h8m-138 0h8m-100 0h8m-37 0h8m-23 0h8m136 1h8m60 0h8m-222 0h8m209 0h8m-114 0h8m-52 1h8m-53 0h8m111 0h8m-46 0h8m48 0h8m-20 0h8m25 0h8m-8 1h8m-28 0h8m-69 0h8m-105 0h8m176 0h8m-122 0h8m22 0h8m73 1h8m-82 0h8m3 0h8m-51 0h8m165 0h8m-85 1h8m27 0h8m-81 0h8m58 0h8m-62 0h8m-102 0h8m61 0h8m32 1h8m-157 0h8m129 0h8m2 0h8m-137 0h8m-24 0h8m240 1h8m-88 0h8m-117 0h8m-33 0h8m119 0h8m-122 0h8m55 0h8m72 1h8m-166 0h8m-24 0h8m60 0h8m-62 0h8m74 1h8m52 0h8m-169 0h8m58 0h8m58 0h8m-6 0h8m-69 0h8m-9 0h8m-79 0h8m65 1h8m132 0h8m-163 0h8m-64 0h8m92 0h8m57 1h8m-57 0h8m-59 0h8m-24 0h8m42 1h8m-37 0h8m-98 0h8m129 0h8m1 0h8m13 0h8m-47 1h8m-54 0h8m-17 0h8m21 0h8m-65 0h8m119 0h8m-168 0h8m157 0h8m-131 0h8m60 1h8m-52 0h8m-33 1h8m89 0h8m76 0h8m-80 1h8m-45 0h8m-51 0h8m-19 0h8m-3 0h8m158 0h8m-112 0h8m-39 0h8m83 0h8m-194 1h8m119 0h8m39 0h8m-158 0h8m95 1h8m-43 0h8m-24 0h8m27 0h8m-1 0h8m-71 0h8m175 1h8m-141 0h8m127 0h8m-97 0h8m60 0h8m-121 0h8m1 0h8m-27 0h8m70 0h8m-145 1h8m-32 0h8m-5 0h8m63 0h8m-76 1h8m-45 0h8m115 0h8m56 0h8m7 0h8m-99 0h8m-3 0h8m-91 1h8m130 0h8m-73 0h8m-43 0h8m-44 0h8m158 0h8m-123 0h8m-43 1h8m44 0h8m6 0h8m105 0h8m-166 0h8m69 0h8m-147 0h8m105 0h8m-57 1h8m167 0h8m-112 0h8m-146 0h8m49 1h8m29 0h8m130 0h8m-2 0h8m-245 0h8m174 0h8m-84 0h8m24 0h8m51 0h8m-37 0h8m20 0h8m-59 1h8m-70 0h8m102 0h8m-88 0h8m-35 0h8m119 0h8m-140 0h8m20 1h8m-101 0h8m164 0h8m-47 0h8m-116 0h8m20 0h8m20 0h8m52 0h8m-151 0h8m140 1h8m0 0h8m97 0h8m-124 0h8m-61 0h8m-73 0h8m39 0h8m17 0h8m2 1h8m16 0h8m-161 0h8m125 0h8m-10 0h8m-25 0h8m52 0h8m-118 0h8m-7 0h8m-12 0h8m64 0h8m-60 1h8m29 0h8m15 0h8m-11 0h8m-142 0h8m69 0h8m20 0h8m82 0h8m-40 1h8m-3 0h8m-18 0h8m-103 0h8m-6 0h8m115 1h8m-20 0h8m76 0h8m-176 0h8m37 0h8m23 1h8m-113 0h8m92 0h8m5 0h8m64 0h8m-211 0h8m33 1h8m66 0h8m18 0h8m-75 0h8m29 0h8m-165 0h8m129 0h8m-112 0h8m-44 0h8m47 1h8m71 0h8m-81 0h8m9 0h8m-19 0h8m139 1h8m-70 0h8m-93 0h8m127 0h8m-163 0h8m103 1h8m-26 0h8m26 0h8m-37 0h8m31 0h8m-126 0h8m41 0h8m-78 0h8m74 0h8m53 0h8m-158 1h8m59 0h8m-5 0h8m10 0h8m-102 0h8m142 1h8m62 0h8m-86 0h8m-14 0h8m30 0h8m-5 0h8m-35 0h8m-114 0h8m-17 0h8m120 0h8m-90 1h8m19 0h8m-69 0h8m34 0h8m-40 1h8m34 0h8m48 0h8m-48 0h8m-36 0h8m47 1h8m-19 0h8m-59 0h8m-83 0h8m-20 0h8m52 0h8m16 1h8m-9 0h8m-30 0h8m76 0h8m-30 0h8m-74 0h8m15 1h8m-18 0h8m83 0h8m-83 0h8m9 0h8m-14 0h8m-28 0h8m91 0h8m-147 1h8m44 0h8m71 0h8m-144 0h8m108 0h8m-184 0h8m236 0h8m-107 0h8m-46 0h8m97 1h8m-120 0h8m4 0h8m-101 0h8m119 0h8m-47 1h8m-30 0h8m134 0h8m-71 0h8m39 1h8m-205 0h8m-8 0h8m83 0h8m43 0h8m-164 1h8m95 0h8m51 0h8m-102 0h8m175 0h8m22 1h8m-106 0h8m-24 0h8m-96 0h8m8 1h8m-99 0h8m25 0h8m191 0h8m-117 0h8m-2 0h8m17 1h8m77 0h8m-56 0h8m-48 0h8m106 0h8m-196 0h8m172 1h8m-123 0h8m-90 0h8m-63 0h8m171 0h8m2 0h8m-184 0h8m12 1h8m69 0h8m61 0h8m-157 0h8m84 0h8m44 1h8m-192 0h8m101 0h8m-89 0h8m94 0h8m31 1h8m-128 0h8m54 0h8m-24 0h8m0 0h8m-44 0h8m89 0h8m-145 0h8m191 1h8m-145 0h8m-8 0h8m-14 0h8m106 0h8m-84 0h8m103 0h8m-52 0h8m-138 1h8m-13 0h8m17 0h8m99 0h8m-140 0h8m13 0h8m128 1h8m-94 0h8m37 0h8m96 0h8m-154 0h8m-125 0h8m143 0h8m-64 0h8m-67 1h8m110 0h8m-134 0h8m203 0h8m-94 0h8m48 0h8m-49 1h8m-60 0h8m-6 0h8m-61 0h8m12 2h8m-51 0h8m120 0h8m-79 0h8m-16 0h8m-27 0h8m20 1h8m-29 0h8m-83 0h8m202 1h8m-44 0h8m-101 0h8m-18 0h8m130 0h8m-44 0h8m-108 0h8m-72 1h8m96 0h8m-68 0h8m12 0h8m12 0h8m-32 0h8m12 0h8m70 1h8m-101 0h8m39 0h8m-135 0h8m104 0h8m66 0h8m-165 1h8m-45 0h8m124 0h8m-30 0h8m54 0h8m-33 0h8m-87 1h8m38 1h8m77 0h8m-143 0h8m-9 0h8m198 0h8m-167 0h8m-30 0h8m62 0h8m-45 0h8m-74 1h8m9 0h8m96 0h8m-119 0h8m63 1h8m-14 0h8m-117 0h8m167 1h8m-104 0h8m-7 1h8m-84 0h8m124 0h8m-24 0h8m55 0h8m4 0h8m-157 0h8m-44 1h8m161 0h8m54 0h8m-238 0h8m98 0h8m-4 0h8m34 1h8m18 0h8m-136 0h8m142 0h8m-132 1h8m54 0h8m-65 0h8m46 0h8m-22 0h8m57 0h8m-93 0h8m1 1h8m-47 0h8m10 0h8m-95 0h8m93 0h8m-91 0h8m106 1h8m-101 0h8m-49 0h8m86 0h8m36 1h8m-84 0h8m102 0h8m-124 0h8m-14 0h8m-69 0h8m95 1h8m-18 0h8m-98 1h8m11 0h8m114 0h8m-44 1h8m-19 0h8m72 0h8m-118 0h8m96 0h8m-108 0h8m-57 1h8m13 0h8m-28 0h8m104 0h8m-78 0h8m-62 0h8m32 0h8m186 0h8m-166 0h8m-6 0h8m15 0h8m-4 1h8m59 0h8m-144 0h8m33 1h8m73 0h8m27 0h8m-16 0h8m-113 0h8m-9 1h8m-10 0h8m-12 0h8m-60 0h8m70 0h8m74 0h8m-221 1h8m23 0h8m-23 0h8m135 1h8m-129 0h8m173 0h8m-197 0h8m84 1h8m-113 0h8m81 0h8m59 1h8m-16 0h8m-25 0h8m-93 0h8m65 1h8m-36 0h8m84 0h8m6 0h8m-99 1h8m94 0h8m-147 0h8m-28 0h8m58 1h8m-34 0h8m58 1h8m-33 0h8m-9 0h8m55 1h8m-137 0h8m120 0h8m-64 0h8m-91 1h8m43 0h8m-68 0h8m-68 0h8m47 1h8m-30 0h8m85 0h8m79 0h8m-89 0h8m-85 1h8m132 0h8m13 0h8m-167 1h8m112 1h8m-185 0h8m123 0h8m-100 1h8m65 0h8m-73 0h8m170 0h8m3 0h8m-42 1h8m-26 0h8m-103 0h8m-48 0h8m165 0h8m-75 1h8m95 0h8m-133 0h8m-88 0h8m107 0h8m-116 1h8m32 0h8m21 0h8m10 1h8m-13 0h8m39 0h8m2 0h8m-119 1h8m-2 0h8m-8 1h8m-27 0h8m100 0h8m-164 1h8m107 0h8m-119 0h8m169 0h8m-18 1h8m-204 0h8m69 1h8m46 0h8m-42 0h8m69 0h8m-98 1h8m-86 0h8m73 0h8m-55 0h8m53 1h8m19 0h8m-37 0h8m-44 1h8m27 0h8m55 0h8m-10 0h8m18 1h8m28 0h8m-130 0h8m26 0h8m12 1h8m21 0h8m-153 0h8m59 0h8m-48 0h8m-21 0h8m-36 1h8m2 0h8m61 1h8m-95 0h8m152 0h8m-19 0h8m-4 0h8m-59 0h8m-21 0h8m-92 1h8m116 0h8m-131 1h8m95 1h8m19 0h8m-15 0h8m-52 0h8m-45 1h8m-38 0h8m136 1h8m-34 0h8m-16 0h8m17 0h8m-69 1h8m48 0h8m-66 0h8m79 1h8m-78 0h8m-50 0h8m171 0h8m-129 1h8m79 0h8m-95 1h8m-53 1h8m121 0h8m-72 0h8m-52 0h8m47 0h8m-163 0h8m62 1h8m-74 0h8m122 1h8m-80 0h8m40 0h8m52 0h8m-19 0h8m-98 1h8m2 0h8" stroke="#c02c34" stroke-width="8" fill="none" opacity="0.7"/>
<path transform="scale(.1)" d="m460 1483h7m93 32h7m-70 23h7m-142 1h7m8 7h7m-50 10h7m157 3h7m53 2h7m-113 3h7m-42 1h7m-72 2h7m58 5h7m-36 19h7m17 3h7m113 2h7m-183 1h7m123 4h7m-166 0h7m191 0h7m-165 1h7m23 4h7m162 5h7m-68 0h7m-140 1h7m20 1h7m23 6h7m-61 0h7m29 7h7m-75 5h7m55 2h7m145 2h7m-82 1h7m29 0h7m-93 6h7m24 3h7m-89 4h7m-36 1h7m119 0h7m-70 2h7m-45 5h7m66 6h7m-28 0h7m-7 6h7m156 2h7m-235 0h7m45 1h7m170 2h7m-198 1h7m49 0h7m42 0h7m-130 1h7m27 2h7m50 1h7m-114 0h7m-21 1h7m120 0h7m-14 0h7m-103 0h7m39 0h7m3 1h7m-22 0h7m62 0h7m6 2h7m-169 0h7m8 2h7m166 0h7m-200 1h7m50 1h7m-59 2h7m49 0h7m-32 3h7m-3 1h7m-33 0h7m-24 0h7m-17 1h7m164 0h7m59 0h7m-29 4h7m-70 1h7m18 1h7m-69 1h7m70 1h7m-206 0h7m140 3h7m19 0h7m-27 1h7m-91 2h7m118 0h7m-156 2h7m82 0h7m-125 0h7m22 1h7m-12 0h7m44 1h7m13 1h7m44 1h7m-35 1h7m84 1h7m-89 0h7m-62 1h7m62 1h7m-63 0h7m-5 0h7m2 1h7m-2 1h7m-75 1h7m66 0h7m-87 1h7m159 0h7m-84 0h7m-65 2h7m-1 0h7m28 4h7m32 0h7m18 0h7m7 1h7m-192 0h7m187 3h7m-86 1h7m-52 1h7m-10 0h7m70 1h7m109 1h7m-119 1h7m33 0h7m-180 1h7m67 0h7m142 1h7m-151 2h7m-57 0h7m-9 1h7m79 0h7m-23 0h7m-57 0h7m62 2h7m-57 6h7m21 1h7m1 1h7m-49 1h7m-24 0h7m-32 0h7m41 1h7m8 2h7m-94 0h7m29 1h7m144 0h7m0 0h7m-170 1h7m140 2h7m-76 0h7m-29 1h7m112 1h7m-18 0h7m-148 1h7m67 0h7m-48 0h7m47 1h7m-28 0h7m-27 2h7m-94 1h7m114 1h7m14 0h7m-71 0h7m28 2h7m-2 0h7m-138 1h7m125 0h7m65 0h7m-205 1h7m243 0h7m-170 1h7m-113 1h7m272 0h7m-238 1h7m218 0h7m-139 1h7m6 0h7m-4 0h7m-39 1h7m52 0h7m-114 3h7m12 0h7m39 0h7m-88 0h7m-17 0h7m54 0h7m-15 1h7m-28 3h7m-2 0h7m-24 1h7m75 1h7m-30 1h7m-59 1h7m9 1h7m-77 0h7m80 0h7m-34 0h7m-65 0h7m74 0h7m127 1h7m-150 1h7m155 0h7m-112 1h7m-6 0h7m-60 0h7m-35 1h7m-37 1h7m89 0h7m29 1h7m66 1h7m3 1h7m-100 1h7m46 0h7m-42 1h7m-71 0h7m19 0h7m67 1h7m-206 0h7m-12 0h7m122 1h7m97 1h7m-106 2h7m-66 2h7m10 0h7m143 0h7m-118 1h7m-107 1h7m15 0h7m-62 1h7m157 0h7m33 0h7m-123 1h7m33 1h7m95 0h7m-30 0h7m-189 0h7m-38 1h7m183 0h7m-56 0h7m-2 1h7m-97 1h7m162 1h7m-160 1h7m6 2h7m3 0h7m-69 0h7m38 1h7m10 0h7m83 1h7m62 1h7m-166 0h7m36 0h7m50 0h7m-137 1h7m105 2h7m-99 0h7m-91 0h7m63 2h7m167 0h7m-4 1h7m-215 1h7m146 0h7m15 1h7m-43 0h7m-46 0h7m-28 2h7m-16 0h7m0 0h7m9 1h7m-34 0h7m-81 1h7m114 0h7m-98 1h7m95 0h7m-30 0h7m-2 0h7m-69 1h7m105 3h7m-115 1h7m-26 0h7m39 1h7m40 1h7m-120 2h7m-40 1h7m45 0h7m68 1h7m-29 0h7m-18 0h7m-31 0h7m-40 1h7m101 0h7m-64 1h7m-60 1h7m71 0h7m-39 3h7m73 1h7m-48 4h7m7 0h7m-32 1h7m38 1h7m-188 0h7m108 1h7m61 0h7m-175 0h7m128 0h7m42 1h7m-200 2h7m46 2h7m152 2h7m-214 1h7m225 1h7m-171 0h7m-46 0h7m24 1h7m5 0h7m140 0h7m-106 0h7m9 0h7m36 2h7m-8 0h7m-10 0h7m-140 0h7m99 0h7m11 2h7m-79 2h7m-5 1h7m29 1h7m74 0h7m-34 1h7m-112 0h7m-48 1h7m-20 0h7m123 0h7m-134 1h7m48 0h7m26 0h7m-118 0h7m190 1h7m-9 2h7m-73 1h7m-108 3h7m58 1h7m15 1h7m-40 0h7m44 1h7m-44 1h7m59 0h7m-27 4h7m-147 0h7m-25 2h7m105 1h7m38 0h7m-3 1h7m-63 0h7m-45 1h7m113 0h7m-77 0h7m28 1h7m-77 1h7m86 0h7m-12 0h7m-91 1h7m-28 3h7m20 2h7m58 0h7m-107 0h7m-7 2h7m60 0h7m98 0h7m-145 1h7m158 0h7m-183 1h7m-54 0h7m75 1h7m73 1h7m-56 0h7m-101 0h7m95 1h7m-160 1h7m162 1h7m-136 3h7m66 2h7m-78 1h7m139 1h7m-13 2h7m68 2h7m-58 1h7m33 1h7m-19 1h7m-152 4h7m84 0h7m-121 1h7m70 3h7m-66 1h7m138 1h7m-184 1h7m81 3h7m-117 2h7m140 0h7m-108 2h7m176 2h7m-204 0h7m81 1h7m-30 0h7m-139 3h7m196 2h7m-50 0h7m-79 3h7m-25 0h7m40 1h7m-73 1h7m85 0h7m-148 1h7m102 1h7m77 0h7m-84 4h7m79 1h7" stroke="#70283c" stroke-width="7" fill="none" opacity="0.55"/>
<path transform="scale(.1)" d="m332 1913h8m99 6h8m-32 1h8m37 1h8m-73 0h8m-40 0h8m164 1h8m-181 2h8m151 0h8m-144 3h8m73 2h8m-67 1h8m30 1h8m-6 1h8m-34 0h8m-76 4h8m83 0h8m-45 0h8m95 0h8m-161 1h8m40 0h8m87 0h8m-47 0h8m66 1h8m-90 0h8m91 0h8m-96 1h8m-32 0h8m-21 1h8m-56 0h8m85 2h8m-77 0h8m66 0h8m72 0h8m-252 0h8m104 0h8m-45 0h8m-37 0h8m34 1h8m-43 1h8m21 0h8m56 0h8m-11 1h8m-62 0h8m-12 0h8m-58 0h8m73 0h8m-18 0h8m-8 0h8m-81 1h8m65 0h8m-48 0h8m-61 0h8m79 1h8m-2 0h8m-50 0h8m62 0h8m-59 0h8m-77 1h8m143 0h8m-157 0h8m189 0h8m-210 0h8m17 1h8m59 0h8m100 0h8m-171 0h8m141 0h8m-90 1h8m-2 0h8m-61 0h8m5 0h8m-20 0h8m85 0h8m-62 0h8m-20 0h8m-34 1h8m125 0h8m-115 0h8m-95 0h8m47 0h8m-38 0h8m44 0h8m-93 0h8m126 0h8m-51 0h8m-31 0h8m43 0h8m-64 1h8m-67 0h8m103 0h8m-95 0h8m17 0h8m-7 0h8m-24 0h8m132 0h8m-120 1h8m-27 0h8m-25 0h8m104 0h8m-109 0h8m188 1h8m-71 0h8m-147 0h8m141 0h8m15 0h8m-168 0h8m82 0h8m-47 1h8m-7 0h8m2 0h8m1 0h8m-109 0h8m38 0h8m109 0h8m-119 0h8m105 0h8m24 0h8m-80 0h8m8 0h8m-22 0h8m-80 0h8m-18 1h8m50 0h8m-79 0h8m33 0h8m-46 0h8m41 0h8m-102 0h8m100 0h8m19 0h8m-123 1h8m43 0h8m-44 0h8m11 0h8m95 0h8m-140 0h8m66 0h8m-13 0h8m-35 0h8m31 0h8m85 0h8m-60 0h8m-46 0h8m-9 0h8m31 0h8m25 0h8m-158 1h8m-1 0h8m15 0h8m94 0h8m65 0h8m-144 0h8m-18 0h8m26 0h8m23 0h8m-24 0h8m-83 0h8m22 0h8m31 1h8m-44 0h8m84 0h8m-159 0h8m99 0h8m-70 0h8m-56 0h8m186 0h8m-31 1h8m-91 0h8m-113 0h8m133 0h8m-156 0h8m140 0h8m-12 0h8m-18 0h8m14 0h8m-155 0h8m44 0h8m52 0h8m67 0h8m-73 1h8m-55 0h8m-51 0h8m35 0h8m59 0h8m-163 0h8m181 0h8m-128 0h8m-50 0h8m-14 1h8m30 0h8m28 0h8m-41 0h8m-40 0h8m114 0h8m-54 0h8m-95 0h8m130 0h8m-8 0h8m-103 0h8m18 1h8m30 0h8m-117 0h8m100 0h8m97 0h8m-107 0h8m-49 0h8m-8 1h8m-101 0h8m69 0h8m-31 0h8m-21 0h8m-16 0h8m117 0h8m-131 0h8m108 0h8m-27 0h8m-25 0h8m61 0h8m-60 0h8m-8 0h8m56 0h8m-43 0h8m21 0h8m-124 0h8m-48 1h8m92 0h8m-50 0h8m104 0h8m-102 0h8m-7 0h8m-79 0h8m69 0h8m2 0h8m-59 0h8m-32 0h8m90 0h8m-47 0h8m-49 0h8m24 0h8m-15 0h8m85 0h8m-127 0h8m97 0h8m-12 0h8m-68 0h8m-62 0h8m30 0h8m48 1h8m13 0h8m-45 0h8m-17 0h8m-34 0h8m-4 0h8m25 0h8m49 0h8m-130 0h8m29 0h8m12 0h8m-20 0h8m68 0h8m-124 0h8m52 0h8m49 0h8m-32 0h8m-104 0h8m53 0h8m-65 0h8m-74 1h8m58 0h8m-65 0h8m9 0h8m38 0h8m-42 0h8m78 0h8m-64 0h8m-99 0h8m117 0h8m-126 0h8m119 0h8m20 0h8m-104 0h8m69 0h8m-78 1h8m-9 0h8m11 0h8m-40 0h8m49 0h8m-70 0h8m0 0h8m10 0h8m7 0h8m-28 0h8m3 1h8m-26 0h8m123 0h8m-108 0h8m-19 0h8m51 0h8m-48 0h8m46 0h8m-39 0h8m-113 0h8m57 0h8m46 0h8m-98 0h8m72 0h8m8 0h8m-88 0h8m28 0h8m-23 0h8m-12 0h8m90 0h8m-47 0h8m-83 0h8m-30 1h8m-46 0h8m168 0h8m-34 0h8m-17 0h8m-96 0h8m87 0h8m-45 0h8m-34 0h8m-29 0h8m-24 0h8m30 0h8m-62 0h8m-3 0h8m77 0h8m-37 0h8m55 1h8m-72 0h8m48 0h8m16 0h8m-129 0h8m93 0h8m-119 0h8m142 0h8m-201 0h8m124 0h8m-23 0h8m-88 0h8m-55 0h8m121 0h8m-6 0h8m10 0h8m66 0h8m-76 0h8m-103 0h8m36 0h8m6 0h8m-78 0h8m148 0h8m-102 1h8m17 0h8m-49 0h8m-47 0h8m40 0h8m-44 0h8m12 0h8m13 0h8m-78 0h8m66 0h8m-1 0h8m23 0h8m-52 0h8m32 0h8m-80 0h8m42 0h8m-47 0h8m113 0h8m-115 1h8m19 0h8m-41 0h8m-35 0h8m6 0h8m-6 0h8m38 0h8m15 0h8m-44 0h8m6 0h8m-71 0h8m85 1h8m-112 0h8m-34 0h8m2 0h8m22 0h8m161 0h8m-95 0h8m-18 0h8m-83 0h8m-17 0h8m139 0h8m-145 0h8m87 0h8m9 0h8m-93 0h8m-4 0h8m66 0h8m-97 0h8m53 0h8m-111 0h8m42 1h8m59 0h8m-91 0h8m116 0h8m-49 0h8m-41 0h8m-36 0h8m34 0h8m-41 0h8m-69 0h8m15 0h8m9 0h8m35 0h8m-86 0h8m47 0h8m-21 0h8m28 0h8m-117 0h8m102 0h8m-46 0h8m75 0h8m-102 0h8m50 0h8m2 0h8m12 0h8m0 1h8m-109 0h8m90 0h8m-13 0h8m-18 0h8m-161 0h8m64 0h8m23 0h8m32 0h8m-20 0h8m-119 0h8m69 0h8m-14 0h8m69 0h8m38 0h8m-82 0h8m-80 0h8m13 0h8m48 0h8m-97 0h8m36 0h8m-37 1h8m78 0h8m-63 0h8m-1 0h8m84 0h8m-147 0h8m75 0h8m1 0h8m-168 0h8m142 0h8m-45 0h8m-110 0h8m78 0h8m-85 0h8m69 0h8m5 0h8m83 0h8m-68 0h8m25 0h8m-1 0h8m-70 0h8m-12 0h8m-11 0h8m-62 0h8m43 0h8m-15 0h8m-33 0h8m101 1h8m-76 0h8m-72 0h8m-21 0h8m-17 0h8m60 0h8m-93 0h8m98 0h8m-19 0h8m-92 0h8m-14 0h8m52 0h8m32 0h8m-61 0h8m17 0h8m-40 0h8m27 0h8m-16 0h8m-3 0h8m-88 0h8m87 0h8m32 0h8m-59 0h8m13 1h8m48 0h8m-133 0h8m46 0h8m48 0h8m-55 0h8m-15 0h8m109 0h8m-135 0h8m42 0h8m-61 0h8m-28 0h8m37 0h8m-27 0h8m-54 0h8m-17 0h8m51 0h8m71 0h8m-121 0h8m-10 0h8m30 0h8m-30 0h8m-4 0h8m-91 0h8m209 0h8m-74 0h8m-123 0h8m132 1h8m-99 0h8m22 0h8m-40 0h8m62 0h8m-8 0h8m-92 0h8m-7 0h8m-1 0h8m48 0h8m-119 0h8m23 0h8m18 0h8m-28 0h8m87 0h8m-109 0h8m-32 0h8m100 0h8m-27 0h8m-59 0h8m79 0h8m-81 0h8m-4 0h8m19 1h8m-61 0h8m-38 0h8m54 0h8m-22 0h8m23 0h8m-45 0h8m-57 0h8m-9 0h8m165 0h8m-35 0h8m-52 0h8m-86 0h8m123 0h8m-27 0h8m-99 0h8m86 0h8m-85 0h8m114 0h8m-184 0h8m56 0h8m-61 0h8m-27 0h8m108 1h8m62 0h8m-116 0h8m23 0h8m-100 0h8m52 0h8m53 0h8m-85 0h8m91 0h8m-26 0h8m-87 0h8m31 0h8m8 0h8m-54 0h8m-44 0h8m50 1h8m-22 0h8m-20 0h8m137 0h8m-45 0h8m-180 0h8m105 0h8m-47 0h8m-96 0h8m180 0h8m-146 0h8m-4 0h8m-8 0h8m91 0h8m-164 0h8m101 0h8m11 0h8m-75 0h8m50 1h8m54 0h8m-109 0h8m33 0h8m-85 0h8m181 0h8m-164 0h8m20 0h8m13 0h8m-35 0h8m96 0h8m-152 0h8m35 0h8m53 0h8m-101 0h8m-58 0h8m82 0h8m9 0h8m-53 0h8m76 0h8m-112 0h8m45 1h8m-56 0h8m-14 0h8m8 0h8m13 0h8m-9 0h8m23 0h8m-122 0h8m104 0h8m40 0h8m-107 0h8m64 0h8m-15 0h8m-54 0h8m9 0h8m63 0h8m-125 0h8m4 0h8m5 0h8m8 0h8m8 1h8m-62 0h8m96 0h8m-41 0h8m-75 0h8m86 0h8m-53 0h8m-124 0h8m177 0h8m-184 0h8m53 0h8m55 0h8m11 0h8m-28 0h8m-38 0h8m28 0h8m13 1h8m-16 0h8m-153 0h8m0 0h8m50 0h8m-45 0h8m-38 0h8m129 0h8m-101 0h8m14 0h8m58 0h8m35 0h8m-45 0h8m-57 0h8m-9 0h8m-85 0h8m65 0h8m69 0h8m-95 0h8m-29 0h8m-3 0h8m43 0h8m-10 0h8m60 0h8m-42 0h8m-151 0h8m41 0h8m30 0h8m-72 1h8m126 0h8m-79 0h8m-75 0h8m9 0h8m-42 0h8m39 0h8m69 0h8m63 0h8m-27 0h8m-48 0h8m7 0h8m-87 0h8m-45 0h8m70 0h8m14 0h8m-48 0h8m7 0h8m-36 0h8m-24 0h8m34 0h8m89 0h8m-179 0h8m84 0h8m41 1h8m-131 0h8m58 0h8m-41 0h8m74 0h8m-103 0h8m-24 0h8m40 0h8m-98 0h8m33 0h8m21 0h8m1 0h8m80 0h8m-40 0h8m-177 0h8m44 0h8m-45 0h8m50 0h8m48 0h8m-45 0h8m-73 0h8m75 0h8m104 1h8m-178 0h8m-51 0h8m95 0h8m-11 0h8m92 0h8m-47 0h8m-19 0h8m-33 0h8m15 0h8m44 0h8m-147 0h8m14 0h8m140 0h8m-142 0h8m69 1h8m-32 0h8m-34 0h8m40 0h8m-34 0h8m-69 0h8m58 0h8m-52 0h8m-7 0h8m-21 0h8m1 0h8m-31 0h8m7 0h8m22 0h8m-33 0h8m-1 0h8m-4 0h8m-52 1h8m-54 0h8m102 0h8m-6 0h8m-76 0h8m15 0h8m57 0h8m-23 0h8m-149 0h8m89 0h8m-53 0h8m102 0h8m-148 0h8m-5 0h8m117 0h8m-55 0h8m29 0h8m-54 0h8m52 0h8m-79 0h8m53 0h8m-20 1h8m-58 0h8m-43 0h8m65 0h8m-71 0h8m-17 0h8m70 0h8m4 0h8m-44 0h8m23 1h8m15 0h8m27 0h8m-168 0h8m39 0h8m-23 0h8m-10 0h8m57 0h8m-114 0h8m134 0h8m-61 0h8m-84 0h8m95 0h8m-23 0h8m95 0h8m-187 0h8m41 0h8m-45 0h8m-41 0h8m36 0h8m72 0h8m-14 0h8m-109 1h8m-2 0h8m-15 0h8m110 0h8m-19 0h8m-93 0h8m98 0h8m-33 0h8m-102 0h8m33 0h8m-66 0h8m17 0h8m12 0h8m-40 1h8m-29 0h8m10 0h8m56 0h8m16 0h8m3 0h8m-49 0h8m-67 0h8m54 0h8m1 0h8m-44 0h8m48 0h8m41 0h8m-24 0h8m-22 0h8m-100 1h8m-5 0h8m72 0h8m-55 0h8m3 0h8m-36 0h8m73 0h8m-80 0h8m-38 0h8m53 0h8m-42 0h8m-81 0h8m111 1h8m-14 0h8m-42 0h8m-92 0h8m117 0h8m-14 0h8m74 0h8m-110 0h8m-7 0h8m-53 0h8m27 0h8m-77 0h8m116 1h8m-58 0h8m29 0h8m-10 0h8m-26 0h8m7 0h8m-45 0h8m-33 0h8m109 0h8m-31 0h8m3 1h8m-135 0h8m49 0h8m28 0h8m-70 0h8m-43 0h8m7 0h8m5 0h8m61 0h8m-44 0h8m-24 0h8m66 0h8m-153 0h8m56 0h8m93 1h8m-5 0h8m-41 0h8m-27 0h8m-16 0h8m58 0h8m-170 0h8m16 0h8m48 0h8m-25 0h8m53 0h8m-34 1h8m47 0h8m-145 0h8m60 0h8m27 0h8m-102 0h8m86 0h8m-61 0h8m-9 0h8m27 0h8m-116 0h8m146 1h8m-14 0h8m-90 0h8m35 0h8m-24 0h8m6 0h8m-9 0h8m1 0h8m54 0h8m-69 0h8m-126 0h8m12 1h8m54 0h8m-29 0h8m144 0h8m-70 0h8m-54 0h8m50 0h8m-69 0h8m-17 0h8m10 0h8m26 0h8m-8 1h8m-74 0h8m35 0h8m62 0h8m-94 0h8m52 0h8m-82 0h8m-48 0h8m62 1h8m-144 0h8m155 0h8m-38 0h8m-46 0h8m-114 0h8m143 1h8m-51 0h8m-20 0h8m-28 0h8m112 0h8m31 0h8m-140 0h8m-50 0h8m58 0h8m59 0h8m-129 0h8m16 0h8m-58 0h8m40 0h8m42 1h8m-3 0h8m22 0h8m-122 0h8m-37 1h8m152 0h8m-81 0h8m17 0h8m-83 1h8m149 0h8m-132 0h8m25 0h8m24 0h8m-42 0h8m-20 1h8m-28 0h8m-76 0h8m15 0h8m119 0h8m-98 0h8m-79 0h8m112 0h8m-77 1h8m-39 0h8m87 0h8m-23 0h8m-12 0h8m-42 0h8m55 1h8m-53 0h8m79 0h8m-22 0h8m-80 0h8m-54 0h8m-41 0h8m12 0h8m38 0h8m54 1h8m-78 0h8m-41 0h8m90 0h8m-126 0h8m51 1h8m-10 0h8m-14 0h8m45 1h8m-35 0h8m27 0h8m-37 0h8m20 1h8m0 0h8m-19 0h8m-80 1h8m95 1h8m-87 0h8m109 0h8m-50 0h8m-12 0h8m11 1h8m-91 0h8m-40 0h8m-12 1h8m16 0h8m-19 0h8m79 1h8m-15 0h8m-46 0h8m-73 1h8m17 0h8m73 0h8m-86 1h8m65 0h8m-86 0h8m139 0h8m-175 0h8m8 2h8m33 1h8m49 0h8m-72 1h8m-50 1h8m77 0h8m-58 4h8m-12 1h8m53 0h8m-26 1h8m-13 0h8m-82 2h8m73 4h8m-20 0h8m1 4h8" stroke="#2838e8" stroke-width="8" fill="none" opacity="0.9"/>
<path transform="scale(.1)" d="m756 1522h8m-6 2h8m44 0h8m18 1h8m-43 1h8m-2 4h8m-49 2h8m-16 1h8m13 1h8m68 5h8m-117 3h8m37 5h8m12 1h8m-52 5h8m3 2h8m-5 2h8m-33 0h8m73 2h8m-29 4h8m-101 3h8m29 3h8m0 0h8m89 2h8m-80 6h8m-25 1h8m-24 1h8m-92 3h8m61 0h8m-26 1h8m-21 0h8m-49 3h8m-3 1h8m75 3h8m31 0h8m-39 1h8m28 6h8m-93 2h8m-9 6h8m10 3h8m2 0h8m-37 4h8m-15 0h8m43 1h8m-47 0h8m-17 2h8m1 2h8m-37 1h8m-27 1h8m23 0h8m91 0h8m-77 1h8m-89 1h8m59 1h8m40 3h8m-65 2h8m101 0h8m-67 4h8m-96 0h8m141 3h8m-12 1h8m-121 0h8m38 0h8m-53 0h8m39 2h8m-16 1h8m-15 2h8m65 5h8m-17 1h8m-34 1h8m-26 0h8m-93 0h8m18 2h8m83 0h8m-54 3h8m-72 3h8m117 1h8m-37 2h8m-117 1h8m7 0h8m19 1h8m80 1h8m-62 1h8m18 1h8m-1 1h8m0 1h8m-90 1h8m9 0h8m-41 1h8m94 0h8m-104 4h8m23 0h8m176 1h8m-147 5h8m84 2h8m-122 0h8m0 0h8m-26 0h8m-62 1h8m3 4h8m17 1h8m21 0h8m40 0h8m-19 3h8m-22 3h8m-78 1h8m-7 3h8m7 0h8m44 1h8m54 0h8m-50 0h8m17 4h8m-130 3h8m62 1h8m-66 1h8m142 1h8m-132 0h8m2 0h8m-31 1h8m6 0h8m47 1h8m-38 1h8m-28 1h8m3 0h8m-25 1h8m-59 1h8m67 0h8m-8 0h8m-99 0h8m25 0h8m21 1h8m33 0h8m54 2h8m-105 0h8m-3 0h8m62 1h8m-70 1h8m-9 1h8m-12 0h8m-50 1h8m65 0h8m-63 1h8m50 0h8m34 1h8m-125 1h8m110 2h8m-82 3h8m38 1h8m27 0h8m-159 1h8m103 0h8m-15 2h8m-38 1h8m8 0h8m-99 1h8m73 3h8m-15 0h8m13 1h8m69 0h8m-49 1h8m12 0h8m41 0h8m-103 2h8m-35 3h8m35 0h8m20 0h8m-81 2h8m-9 0h8m78 1h8m-62 1h8m49 1h8m-76 0h8m43 0h8m-113 1h8m87 0h8m-19 1h8m-95 0h8m97 1h8m-95 0h8m25 0h8m32 1h8m14 0h8m-16 1h8m-99 0h8m91 0h8m-65 2h8m-108 0h8m121 0h8m-24 2h8m-21 3h8m34 1h8m-68 1h8m57 0h8m-110 0h8m31 1h8m-88 0h8m93 1h8m-1 0h8m-85 1h8m-28 0h8m128 1h8m7 0h8m-72 3h8m-63 0h8m95 0h8m-91 1h8m49 0h8m-62 0h8m88 2h8m-91 1h8m-48 0h8m118 1h8m-9 0h8m-148 0h8m33 0h8m-37 1h8m85 1h8m-95 0h8m-41 1h8m45 1h8m-36 1h8m-22 0h8m122 1h8m-168 0h8m113 0h8m61 2h8m-125 2h8m-71 0h8m45 1h8m64 0h8m-6 0h8m25 0h8m-64 2h8m-24 1h8m143 1h8m-145 0h8m-24 0h8m-13 3h8m97 0h8m-197 0h8m60 1h8m-10 0h8m43 0h8m-13 2h8m-15 0h8m23 1h8m-79 0h8m16 0h8m49 0h8m-127 0h8m138 1h8m-134 1h8m61 1h8m-125 0h8m30 1h8m-11 0h8m127 1h8m-132 0h8m89 0h8m-68 1h8m52 0h8m20 0h8m-40 0h8m-118 1h8m40 0h8m93 1h8m-42 1h8m-57 1h8m-55 0h8m87 1h8m-61 0h8m-7 0h8m-39 1h8m-7 0h8m74 0h8m-55 1h8m38 0h8m-59 1h8m27 1h8m-91 1h8m4 0h8m72 1h8m13 0h8m-93 1h8m-16 1h8m62 0h8m-102 0h8m46 0h8m-33 2h8m68 0h8m-27 1h8m-72 1h8m-21 0h8m42 1h8m26 0h8m-64 1h8m-4 1h8m12 0h8m-30 0h8m63 0h8m-28 1h8m-68 0h8m-10 0h8m-25 1h8m52 0h8m-45 0h8m23 1h8m-8 0h8m-88 0h8m129 0h8m-115 0h8m41 1h8m-102 1h8m114 1h8m-58 2h8m18 0h8m64 0h8m-38 1h8m-89 0h8m119 0h8m-70 0h8m-27 1h8m-66 0h8m76 1h8m-58 0h8m30 0h8m-50 1h8m18 0h8m-63 0h8m52 1h8m32 0h8m-147 0h8m73 0h8m-104 1h8m17 1h8m111 0h8m28 1h8m-70 0h8m-73 1h8m-1 0h8m-4 0h8m-28 1h8m-3 1h8m93 1h8m-89 1h8m83 0h8m-111 0h8m-82 0h8m15 1h8m173 0h8m-119 0h8m93 1h8m-126 0h8m-32 0h8m86 0h8m-16 1h8m-47 0h8m50 0h8m-99 0h8m0 1h8m20 0h8m83 1h8m-75 0h8m-68 0h8m-13 1h8m-57 0h8m50 1h8m100 0h8m-151 0h8m97 1h8m-18 0h8m-53 0h8m13 1h8m-1 1h8m-50 0h8m-4 0h8m50 0h8m42 0h8m-44 1h8m-17 0h8m7 2h8m-92 0h8m25 0h8m-81 0h8m42 0h8m7 1h8m-16 0h8m-4 0h8m3 1h8m-59 1h8m-13 0h8m52 0h8m-9 1h8m-19 0h8m15 0h8m-41 0h8m7 1h8m-13 0h8m-57 1h8m102 0h8m-85 2h8m-23 0h8m4 0h8m19 1h8m18 0h8m-13 1h8m-111 0h8m116 1h8m-55 0h8m-24 1h8m41 0h8m10 1h8m-105 0h8m70 0h8m-52 0h8m49 0h8m-48 0h8m-11 3h8m32 0h8m-37 1h8m-37 1h8m-11 0h8m41 0h8m-88 1h8m17 0h8m-20 1h8m41 0h8m-12 0h8m-34 1h8m98 0h8m-108 0h8m89 1h8m-116 0h8m44 0h8m-95 0h8m113 2h8m-93 1h8m-3 0h8m2 0h8m46 0h8m-61 1h8m-36 0h8m-9 0h8m82 1h8m-81 0h8m13 1h8m24 0h8m-35 1h8m12 0h8m-27 0h8m-96 0h8m113 0h8m35 0h8m-118 0h8m7 1h8m-2 0h8m7 1h8m-34 0h8m107 0h8m-130 0h8m126 1h8m-181 0h8m83 0h8m-12 0h8m-29 0h8m-64 1h8m92 1h8m4 0h8m-28 0h8m-78 1h8m100 0h8m-45 0h8m-53 0h8m3 0h8m-103 0h8m100 1h8m20 0h8m-114 0h8m33 0h8m-12 0h8m43 0h8m61 1h8m-144 0h8m-8 0h8m102 2h8m-41 0h8m-83 0h8m110 0h8m-102 1h8m-12 0h8m-20 0h8m21 0h8m-2 0h8m-8 0h8m-22 0h8m-22 1h8m3 1h8m-13 0h8m-18 1h8m9 0h8m37 0h8m-116 0h8m120 0h8m-16 0h8m-60 1h8m-100 1h8m77 0h8m-54 1h8m135 0h8m-123 0h8m50 1h8m-19 0h8m-69 0h8m12 0h8m38 1h8m-3 0h8m-57 1h8m68 0h8m-93 0h8m-10 0h8m69 3h8m9 0h8m-12 0h8m-9 0h8m5 0h8m-44 1h8m-48 1h8m2 0h8m-50 0h8m29 0h8m11 1h8m56 0h8m-145 0h8m30 1h8m-1 0h8m64 0h8m-115 1h8m53 0h8m-55 0h8m117 0h8m26 0h8m-149 1h8m0 0h8m-84 1h8m102 0h8m-25 2h8m20 0h8m10 0h8m-60 0h8m-56 0h8m91 1h8m-88 0h8m52 0h8m-72 1h8m23 1h8m-26 0h8m82 0h8m-115 0h8m55 0h8m7 0h8m-37 0h8m48 1h8m-52 0h8m-22 1h8m110 0h8m-113 0h8m-5 1h8m41 0h8m-120 0h8m91 0h8m-10 1h8m-32 0h8m-14 0h8m-47 0h8m5 1h8m-85 1h8m216 0h8m-177 0h8m-35 0h8m-5 1h8m-42 1h8m37 0h8m33 1h8m21 0h8m-48 1h8m35 0h8m-6 0h8m-31 1h8m-32 0h8m-85 0h8m70 0h8m-32 0h8m15 1h8m92 0h8m-105 0h8m-41 1h8m158 1h8m-132 0h8m76 2h8m-128 0h8m-46 0h8m75 0h8m-24 1h8m0 1h8m-8 0h8m-7 0h8m22 1h8m-92 1h8m102 0h8m-19 1h8m-100 0h8m27 0h8m-32 1h8m-12 0h8m-42 0h8m56 1h8m22 0h8m-42 0h8m29 1h8m-23 0h8m-68 1h8m-23 0h8m32 1h8m34 0h8m-59 0h8m-8 1h8m-72 0h8m-22 1h8m120 0h8m-34 0h8m-9 0h8m-108 0h8m132 0h8m-46 1h8m-61 0h8m-50 0h8m64 2h8m41 0h8m-69 1h8m-22 0h8m42 0h8m-22 0h8m6 1h8m-11 0h8m-68 3h8m98 0h8m-46 0h8m-57 2h8m50 0h8m61 0h8m-39 0h8m-73 1h8m59 0h8m-102 0h8m-9 1h8m30 1h8m-81 1h8m72 0h8m80 2h8m-146 0h8m78 1h8m69 1h8m-17 1h8m-67 0h8m-30 0h8m-22 1h8m16 0h8m-30 2h8m-49 0h8m-78 0h8m57 4h8m52 3h8" stroke="#a83880" stroke-width="8" fill="none" opacity="0.65"/>
<path transform="scale(.1)" d="m849 1527h7m-142 2h7m175 10h7m-185 1h7m109 1h7m-21 4h7m-95 7h7m5 1h7m80 0h7m-40 8h7m-137 1h7m50 1h7m-6 10h7m161 5h7m-79 2h7m95 4h7m-265 1h7m121 0h7m-2 2h7m27 9h7m-7 3h7m-31 3h7m3 0h7m-21 3h7m-46 1h7m59 2h7m24 8h7m-138 1h7m5 1h7m129 4h7m-137 2h7m73 3h7m22 1h7m-123 5h7m56 0h7m-61 3h7m31 4h7m-106 9h7m4 0h7m11 2h7m201 5h7m-27 0h7m-79 4h7m37 3h7m-38 2h7m-127 0h7m59 1h7m-71 3h7m103 2h7m-28 2h7m42 0h7m134 1h7m-221 1h7m-71 1h7m95 0h7m-63 3h7m19 0h7m42 1h7m37 0h7m-20 0h7m-67 1h7m164 0h7m-92 2h7m-214 3h7m-55 2h7m206 1h7m-62 1h7m26 4h7m-12 1h7m-74 1h7m-63 2h7m17 2h7m101 1h7m-33 1h7m24 0h7m17 1h7m-33 2h7m-14 1h7m-94 5h7m-27 0h7m71 6h7m-43 2h7m85 1h7m-22 0h7m46 2h7m-242 1h7m263 1h7m-287 1h7m107 0h7m103 4h7m-180 1h7m185 0h7m-153 1h7m-85 1h7m91 2h7m21 1h7m-28 1h7m173 0h7m-63 1h7m-54 4h7m-117 2h7m179 4h7m-240 2h7m70 1h7m-41 1h7m17 0h7m-26 0h7m-74 1h7m155 6h7m-124 0h7m145 2h7m15 2h7m-56 0h7m-159 2h7m124 0h7m-73 0h7m89 2h7m-144 1h7m55 1h7m-111 0h7m136 1h7m-25 1h7m-27 1h7m-37 1h7m137 1h7m-124 1h7m-80 0h7m130 0h7m84 1h7m-128 0h7m-62 4h7m-37 1h7m-50 0h7m-40 2h7m227 0h7m-104 0h7m-85 2h7m31 1h7m24 2h7m1 0h7m-23 2h7m-69 0h7m-7 1h7m221 1h7m-281 1h7m8 1h7m38 1h7m164 0h7m-182 7h7m141 1h7m-106 2h7m-86 1h7m164 1h7m-117 1h7m46 1h7m108 0h7m-125 0h7m125 0h7m-101 1h7m-157 0h7m87 1h7m-97 1h7m80 3h7m-59 0h7m41 0h7m21 2h7m8 0h7m42 2h7m-205 0h7m131 0h7m59 0h7m-131 1h7m-34 0h7m-35 4h7m150 2h7m-196 2h7m221 0h7m-135 0h7m-95 2h7m111 0h7m-134 0h7m-1 4h7m2 0h7m120 1h7m-23 0h7m57 1h7m-53 0h7m-26 0h7m171 0h7m-166 1h7m-47 0h7m-5 0h7m11 2h7m17 0h7m-45 1h7m41 0h7m1 0h7m-41 1h7m-4 0h7m59 1h7m-60 2h7m-40 1h7m-13 1h7m42 1h7m-153 3h7m92 0h7m71 1h7m-83 1h7m24 0h7m8 0h7m111 0h7m-165 1h7m-75 0h7m6 2h7m131 0h7m-70 1h7m10 0h7m-55 1h7m-67 1h7m89 2h7m-50 1h7m23 0h7m36 0h7m-10 1h7m-67 0h7m94 4h7m-109 2h7m14 0h7m1 1h7m-57 0h7m48 1h7m12 1h7m-100 1h7m116 1h7m-67 1h7m-59 4h7m18 0h7m36 1h7m8 3h7m-94 0h7m62 1h7m-24 0h7m-50 0h7m53 0h7m6 1h7m-142 1h7m49 1h7m89 1h7m-13 1h7m1 0h7m-188 2h7m40 0h7m289 0h7m-362 1h7m100 2h7m-112 1h7m90 2h7m11 0h7m-27 2h7m90 1h7m-140 0h7m42 1h7m49 0h7m92 1h7m-51 0h7m-163 0h7m94 0h7m-12 1h7m36 1h7m-121 0h7m103 1h7m26 0h7m-120 0h7m35 0h7m-69 0h7m33 2h7m97 1h7m-113 0h7m55 1h7m-160 0h7m111 2h7m-121 0h7m49 1h7m-93 0h7m210 1h7m-54 0h7m20 2h7m-99 4h7m-55 1h7m-46 1h7m66 2h7m45 2h7m29 2h7m-222 0h7m120 1h7m-40 4h7m23 0h7m132 1h7m-211 3h7m105 1h7m-3 1h7m70 0h7m-204 2h7m73 2h7m-53 0h7m116 4h7m78 6h7" stroke="#c84868" stroke-width="7" fill="none" opacity="0.55"/>
<path transform="scale(.1)" d="m829 1830h8m-105 5h8m-3 4h8m-5 1h8m27 3h8m-61 3h8m-6 2h8m-38 5h8m104 0h8m-64 5h8m-20 1h8m-10 3h8m26 1h8m-34 0h8m-46 1h8m-22 1h8m117 0h8m-60 0h8m-8 1h8m-32 0h8m-16 2h8m51 1h8m-75 1h8m44 0h8m-28 1h8m-71 3h8m17 0h8m55 0h8m-7 2h8m-34 0h8m-52 0h8m-15 0h8m-29 1h8m122 1h8m-72 0h8m-17 1h8m18 0h8m-102 2h8m17 0h8m11 0h8m37 1h8m20 0h8m-26 1h8m-18 0h8m-25 0h8m-15 1h8m10 1h8m9 0h8m2 2h8m-56 0h8m29 0h8m-2 0h8m16 1h8m-77 0h8m-22 0h8m-20 0h8m25 1h8m-12 0h8m14 0h8m21 0h8m-43 1h8m8 1h8m-59 0h8m52 1h8m17 0h8m-46 0h8m-58 0h8m53 0h8m-32 0h8m-41 0h8m3 1h8m49 1h8m-41 0h8m-23 1h8m6 1h8m-65 0h8m62 0h8m-3 0h8m-66 0h8m37 0h8m-65 1h8m75 0h8m-126 1h8m117 1h8m-51 0h8m-82 0h8m0 1h8m67 0h8m-1 0h8m33 1h8m-11 0h8m-58 0h8m-93 0h8m57 1h8m-17 0h8m4 0h8m-29 0h8m55 0h8m-66 0h8m23 1h8m8 0h8m-33 0h8m36 0h8m-57 0h8m-76 1h8m105 0h8m-122 0h8m20 0h8m95 1h8m1 0h8m-115 0h8m14 1h8m23 0h8m-63 0h8m0 1h8m1 0h8m27 0h8m-85 1h8m115 0h8m-79 0h8m1 0h8m40 0h8m-82 1h8m-26 0h8m23 0h8m-23 0h8m85 1h8m-46 0h8m-18 0h8m-4 0h8m-7 0h8m-36 1h8m-39 0h8m-2 0h8m-11 0h8m-34 0h8m109 0h8m-83 0h8m30 0h8m-66 1h8m71 0h8m-60 0h8m51 1h8m-47 0h8m3 0h8m-34 0h8m113 0h8m-97 0h8m3 0h8m4 0h8m-101 1h8m63 0h8m-4 0h8m-25 0h8m-13 0h8m2 1h8m4 0h8m-17 0h8m13 0h8m-26 1h8m-107 0h8m113 0h8m-69 0h8m-25 0h8m-6 0h8m28 0h8m-19 0h8m69 1h8m-48 0h8m-50 1h8m38 0h8m-60 0h8m-22 1h8m15 0h8m25 0h8m-34 1h8m2 0h8m-3 0h8m7 0h8m-15 1h8m-30 0h8m-28 0h8m48 0h8m-58 0h8m85 0h8m-34 0h8m-62 1h8m-8 0h8m-31 0h8m35 1h8m-20 0h8m44 0h8m-118 0h8m23 0h8m15 1h8m47 0h8m-123 0h8m62 0h8m51 0h8m-80 0h8m0 0h8m-47 1h8m-14 0h8m39 0h8m47 0h8m-73 0h8m-31 0h8m9 0h8m20 0h8m-46 0h8m37 0h8m6 1h8m-1 0h8m-8 0h8m-38 0h8m16 0h8m10 0h8m-57 0h8m3 0h8m-53 0h8m-27 0h8m40 1h8m9 0h8m-19 0h8m-17 0h8m-3 0h8m19 0h8m37 1h8m-2 0h8m-89 0h8m22 0h8m-71 0h8m15 0h8m-64 0h8m-6 1h8m6 0h8m79 0h8m-79 0h8m56 1h8m29 0h8m-60 0h8m-74 0h8m83 0h8m-22 0h8m-4 0h8m-68 1h8m80 0h8m-97 0h8m76 0h8m-104 0h8m80 0h8m-49 0h8m-51 0h8m29 0h8m-45 1h8m22 0h8m-23 0h8m-14 0h8m62 0h8m18 1h8m-79 0h8m1 0h8m10 0h8m13 0h8m-78 0h8m60 1h8m-94 0h8m3 0h8m-14 0h8m-9 0h8m-34 1h8m85 0h8m-48 0h8m43 0h8m-66 0h8m-55 0h8m102 1h8m-74 0h8m33 0h8m-40 0h8m1 0h8m-23 0h8m-25 1h8m-11 0h8m31 0h8m12 0h8m23 0h8m-82 0h8m138 0h8m-188 0h8m76 1h8m-26 0h8m-1 0h8m-47 0h8m58 0h8m-66 0h8m-18 0h8m55 0h8m-36 0h8m-6 0h8m-10 0h8m-42 1h8m-30 0h8m78 0h8m-129 0h8m12 0h8m76 0h8m-52 0h8m5 0h8m-44 0h8m-3 1h8m49 0h8m-29 0h8m-52 0h8m50 1h8m-24 0h8m-38 0h8m48 0h8m-13 0h8m-38 0h8m-55 0h8m58 0h8m19 1h8m-60 0h8m20 0h8m29 0h8m3 0h8m-60 0h8m-50 0h8m83 0h8m-129 1h8m12 0h8m94 0h8m25 0h8m-63 0h8m-39 0h8m-12 0h8m1 0h8m-13 0h8m52 1h8m-17 0h8m-16 0h8m-94 0h8m54 0h8m-76 0h8m46 0h8m-76 0h8m22 1h8m19 0h8m45 0h8m-19 0h8m-13 0h8m30 0h8m-50 0h8m-24 1h8m-40 0h8m55 0h8m-40 0h8m-12 0h8m29 0h8m-122 0h8m82 1h8m-17 0h8m-66 0h8m-3 0h8m77 0h8m-21 0h8m-69 0h8m-14 0h8m70 1h8m-106 0h8m11 0h8m88 0h8m-61 0h8m-15 0h8m-42 1h8m30 0h8m-18 0h8m15 0h8m-17 0h8m65 0h8m-76 0h8m-33 0h8m-1 1h8m-16 0h8m-1 0h8m-47 0h8m51 0h8m-47 0h8m7 1h8m-11 0h8m44 0h8m-115 0h8m66 0h8m-57 1h8m-12 0h8m-4 0h8m41 0h8m-38 0h8m-5 0h8m21 0h8m29 0h8m87 1h8m-166 0h8m32 0h8m10 0h8m4 0h8m-88 0h8m47 1h8m3 0h8m-73 0h8m17 0h8m-79 0h8m-2 0h8m88 1h8m-48 0h8m55 0h8m-60 0h8m-8 0h8m32 0h8m-42 0h8m-21 0h8m44 1h8m-111 0h8m92 0h8m-79 0h8m30 0h8m28 0h8m-7 0h8m-76 0h8m30 1h8m-30 0h8m-57 0h8m35 0h8m39 1h8m-56 0h8m-9 0h8m88 0h8m-60 1h8m-21 1h8m-69 0h8m-2 0h8m127 0h8m-69 0h8m-15 0h8m27 1h8m-58 0h8m-66 0h8m5 0h8m-36 0h8m23 0h8m33 0h8m-81 1h8m73 0h8m30 0h8m-65 0h8m4 0h8m1 0h8m-19 0h8m-12 0h8m-1 1h8m-41 0h8m-14 0h8m-29 0h8m44 0h8m-23 1h8m62 0h8m-36 0h8m-27 0h8m-18 0h8m35 0h8m-110 0h8m122 1h8m4 0h8m-116 0h8m-47 0h8m41 0h8m86 0h8m-30 0h8m-94 0h8m52 0h8m-3 0h8m-25 0h8m5 0h8m-15 0h8m-72 1h8m22 0h8m38 0h8m-20 0h8m-27 0h8m28 0h8m-61 0h8m-22 1h8m13 0h8m-49 0h8m23 1h8m-5 0h8m62 0h8m-47 0h8m-67 0h8m-8 0h8m56 1h8m-47 0h8m41 0h8m-109 0h8m52 0h8m-26 1h8m13 0h8m16 0h8m-74 0h8m-18 0h8m46 1h8m9 0h8m-40 0h8m45 0h8m-94 1h8m20 0h8m45 0h8m-36 1h8m-14 0h8m-17 0h8m-23 0h8m118 0h8m-107 0h8m16 0h8m-84 0h8m-17 1h8m26 0h8m16 0h8m-5 0h8m25 1h8m-18 0h8m7 0h8m-47 1h8m-27 0h8m32 0h8m-25 0h8m-46 0h8m27 0h8m2 0h8m-37 1h8m-5 0h8m-33 0h8m-8 0h8m107 0h8m-81 0h8m-8 0h8m12 0h8m-44 1h8m-35 0h8m-31 0h8m-12 0h8m-21 0h8m152 0h8m-68 0h8m-21 1h8m-16 0h8m-18 0h8m23 0h8m-37 0h8m29 1h8m2 0h8m-56 0h8m35 0h8m-16 0h8m-74 1h8m39 0h8m12 0h8m-36 0h8m-52 0h8m80 0h8m-5 0h8m-3 0h8m-28 0h8m-89 0h8m62 0h8m21 0h8m-95 0h8m8 1h8m-20 0h8m19 0h8m-61 0h8m54 0h8m-66 1h8m61 1h8m18 0h8m-48 0h8m75 0h8m-1 0h8m-92 0h8m3 0h8m-8 0h8m16 1h8m-49 0h8m31 0h8m37 0h8m-83 0h8m22 0h8m-109 0h8m82 0h8m-95 0h8m59 0h8m-8 1h8m22 0h8m-54 0h8m21 0h8m10 0h8m-72 0h8m-2 1h8m17 0h8m-30 0h8m39 0h8m-64 0h8m-5 0h8m17 0h8m88 0h8m-115 0h8m51 0h8m-3 0h8m-54 0h8m-21 1h8m1 0h8m7 2h8m-44 0h8m-37 0h8m37 0h8m-25 1h8m65 0h8m-38 0h8m26 1h8m-93 0h8m-28 0h8m3 0h8m86 0h8m-67 0h8m-37 1h8m60 0h8m-54 0h8m-19 0h8m11 0h8m-28 0h8m68 0h8m-7 0h8m-100 1h8m36 0h8m-22 0h8m-78 0h8m103 1h8m-26 0h8m-6 0h8m-47 0h8m-44 0h8m9 0h8m25 0h8m62 0h8m-80 1h8m15 0h8m-38 0h8m11 1h8m-67 0h8m77 0h8m-32 0h8m-8 0h8m-65 0h8m5 0h8m43 1h8m-5 1h8m54 0h8m-39 1h8m-43 0h8m-12 0h8m-26 1h8m45 0h8m-66 0h8m-31 0h8m11 0h8m16 0h8m-33 1h8m-41 0h8m15 0h8m21 0h8m-16 0h8m-1 0h8m-3 0h8m46 1h8m-12 0h8m-72 1h8m-27 0h8m8 0h8m68 0h8m-11 0h8m-84 1h8m-29 0h8m17 0h8m18 0h8m-10 1h8m11 0h8m-23 0h8m-5 0h8m-15 1h8m-37 0h8m6 0h8m-36 1h8m41 0h8m2 0h8m-101 1h8m39 0h8m-43 0h8m-13 0h8m32 1h8m-52 0h8m124 1h8m-59 0h8m-14 0h8m-22 1h8m58 0h8m-37 0h8m-88 0h8m12 0h8m-32 1h8m2 0h8m27 0h8m-44 1h8m79 0h8m-71 0h8m7 1h8m-15 0h8m-27 0h8m39 0h8m-32 0h8m10 1h8m14 0h8m-48 1h8m8 0h8m-34 0h8m2 0h8m37 0h8m-114 1h8m55 1h8m5 0h8m-42 0h8m39 1h8m-45 0h8m-30 0h8m-28 1h8m4 0h8m31 0h8m-14 1h8m-46 0h8m39 0h8m-18 1h8m9 0h8m-19 0h8m13 1h8m-8 0h8m-32 0h8m8 1h8m27 0h8m-64 1h8m6 0h8m23 1h8m-83 0h8m25 1h8m42 0h8m-19 0h8m-63 0h8m48 0h8m-57 1h8m-44 1h8m23 0h8m36 1h8m4 1h8m-20 1h8m-39 1h8m4 1h8m61 0h8m-68 4h8m-89 0h8" stroke="#801888" stroke-width="8" fill="none" opacity="0.85"/>
<path transform="scale(.1)" d="m909 1930h8m-10 3h8m6 1h8m-103 1h8m32 1h8m18 2h8m3 3h8m-92 1h8m-10 0h8m-21 3h8m158 0h8m-112 1h8m-76 1h8m50 0h8m-47 1h8m-19 0h8m93 0h8m-63 0h8m21 1h8m-100 1h8m93 0h8m-73 1h8m-89 0h8m12 1h8m-90 0h8m269 0h8m-174 0h8m-34 1h8m-6 0h8m-54 1h8m172 0h8m-46 0h8m-17 1h8m-12 0h8m-55 0h8m86 0h8m-141 1h8m50 0h8m3 0h8m31 0h8m19 1h8m-145 1h8m-20 0h8m100 0h8m48 1h8m-58 0h8m-60 0h8m-16 0h8m71 1h8m-45 0h8m-80 0h8m18 0h8m-32 0h8m36 1h8m-20 0h8m69 0h8m-106 0h8m109 0h8m-45 0h8m9 0h8m-131 1h8m82 0h8m-66 0h8m83 0h8m-95 0h8m11 0h8m-27 0h8m44 1h8m-3 0h8m-130 0h8m33 0h8m110 0h8m-142 1h8m90 0h8m-84 0h8m52 0h8m34 0h8m-142 1h8m148 0h8m-145 0h8m53 0h8m23 0h8m58 0h8m-122 0h8m57 1h8m-108 0h8m40 0h8m-17 0h8m-26 0h8m-111 1h8m84 0h8m91 0h8m-44 0h8m89 0h8m-162 1h8m49 0h8m67 0h8m-119 0h8m-9 0h8m-21 1h8m98 0h8m-6 0h8m-147 0h8m60 0h8m-6 1h8m-102 0h8m204 0h8m-129 0h8m-57 0h8m118 0h8m-56 0h8m-108 0h8m-9 0h8m71 0h8m69 0h8m-144 0h8m-40 0h8m180 0h8m-105 0h8m35 1h8m13 0h8m-157 0h8m194 0h8m-202 0h8m58 0h8m-85 0h8m-1 0h8m6 1h8m-46 0h8m-30 0h8m202 0h8m-114 0h8m13 0h8m-99 0h8m137 0h8m-57 0h8m-43 0h8m57 0h8m-47 0h8m-119 1h8m7 0h8m119 0h8m21 0h8m-37 0h8m-60 0h8m51 0h8m-62 1h8m79 0h8m39 0h8m-168 0h8m-8 0h8m55 0h8m-29 0h8m94 0h8m-134 0h8m12 0h8m71 0h8m-142 1h8m64 0h8m-104 0h8m54 0h8m38 0h8m-133 0h8m128 0h8m-35 0h8m-16 0h8m-81 1h8m8 0h8m178 0h8m-151 0h8m-74 0h8m62 0h8m-11 0h8m5 0h8m-35 1h8m-28 0h8m19 0h8m46 0h8m80 0h8m-128 0h8m13 0h8m-39 0h8m-24 0h8m86 0h8m-172 0h8m81 0h8m-139 0h8m79 0h8m79 0h8m-51 0h8m75 0h8m-21 0h8m-79 1h8m-5 0h8m7 0h8m-97 0h8m119 0h8m-47 0h8m50 0h8m-62 0h8m-47 0h8m135 1h8m-158 0h8m73 0h8m-85 0h8m-38 0h8m54 0h8m-46 0h8m45 0h8m69 0h8m-108 0h8m-12 0h8m19 0h8m-95 0h8m130 1h8m-67 0h8m69 0h8m-115 0h8m52 0h8m-101 0h8m131 0h8m-2 0h8m-145 0h8m-44 0h8m143 0h8m-100 0h8m0 0h8m-49 0h8m143 0h8m-6 0h8m-82 0h8m-153 0h8m9 0h8m141 0h8m-115 0h8m-21 0h8m170 0h8m-37 1h8m-129 0h8m124 0h8m-58 0h8m59 0h8m-26 0h8m-143 0h8m35 0h8m-20 0h8m17 0h8m-27 0h8m22 0h8m18 0h8m-75 0h8m70 0h8m-32 0h8m-58 0h8m-79 1h8m29 0h8m57 0h8m-58 0h8m21 0h8m-11 0h8m-65 0h8m-18 0h8m15 0h8m-15 0h8m88 0h8m-18 0h8m-26 0h8m-177 0h8m85 0h8m35 0h8m103 0h8m-109 0h8m-50 0h8m53 0h8m-152 0h8m146 0h8m23 1h8m-59 0h8m93 0h8m-161 0h8m73 0h8m-14 0h8m-52 0h8m6 0h8m-47 0h8m30 0h8m43 1h8m-27 0h8m-59 0h8m51 0h8m3 0h8m-11 0h8m-132 0h8m122 0h8m-51 0h8m84 0h8m14 0h8m-244 0h8m94 0h8m66 0h8m-31 1h8m-166 0h8m153 0h8m-35 0h8m-45 0h8m-56 0h8m32 0h8m-49 0h8m130 0h8m-66 0h8m71 0h8m-87 0h8m-36 0h8m-57 0h8m140 0h8m-80 0h8m45 1h8m-83 0h8m-35 0h8m-2 0h8m17 0h8m-39 0h8m86 0h8m-106 0h8m53 0h8m19 0h8m-74 0h8m-17 0h8m-25 0h8m-1 0h8m79 0h8m-100 0h8m136 1h8m-162 0h8m47 0h8m-17 0h8m-42 0h8m19 0h8m45 0h8m-7 0h8m18 0h8m-14 0h8m-17 0h8m-79 0h8m23 0h8m18 0h8m-59 0h8m-36 0h8m53 0h8m86 0h8m-119 1h8m-34 0h8m-41 0h8m17 0h8m29 0h8m-1 0h8m78 0h8m-116 0h8m67 0h8m-79 0h8m45 0h8m-72 0h8m-74 1h8m-27 0h8m231 0h8m-145 0h8m-83 0h8m105 0h8m50 0h8m27 0h8m-120 0h8m85 0h8m-134 0h8m21 0h8m0 0h8m40 0h8m42 0h8m-150 1h8m83 0h8m27 0h8m-57 0h8m-134 0h8m-31 0h8m188 0h8m-155 0h8m98 0h8m-110 0h8m-34 0h8m-53 0h8m88 0h8m-18 0h8m106 1h8m-17 0h8m-196 0h8m160 0h8m49 0h8m-185 0h8m149 0h8m-24 0h8m-195 0h8m45 0h8m109 0h8m-17 0h8m18 0h8m-80 1h8m-38 0h8m-4 0h8m35 0h8m15 0h8m-20 0h8m-89 0h8m105 0h8m-20 0h8m-110 0h8m-19 0h8m25 0h8m41 0h8m23 0h8m39 0h8m-267 0h8m118 0h8m4 0h8m23 1h8m44 0h8m44 0h8m-164 0h8m32 0h8m30 0h8m-102 0h8m-12 0h8m92 0h8m-101 1h8m23 0h8m43 0h8m-115 0h8m-24 0h8m18 0h8m135 0h8m-148 0h8m34 0h8m58 0h8m-115 0h8m65 0h8m-46 0h8m90 1h8m-16 0h8m-25 0h8m45 0h8m-5 0h8m-90 0h8m30 0h8m-11 0h8m-74 0h8m-23 0h8m97 0h8m-72 0h8m-30 1h8m125 0h8m-142 0h8m86 0h8m41 0h8m-136 0h8m85 0h8m-118 0h8m-18 0h8m-31 0h8m16 0h8m-45 0h8m83 0h8m-92 1h8m79 0h8m-48 0h8m29 0h8m-61 0h8m91 0h8m-160 0h8m16 0h8m18 0h8m151 0h8m-188 0h8m180 0h8m-129 0h8m35 0h8m-6 0h8m-27 0h8m24 0h8m-17 1h8m-55 0h8m15 0h8m-15 0h8m-59 0h8m4 0h8m-4 0h8m97 0h8m-51 0h8m-23 0h8m-37 0h8m6 0h8m-126 0h8m19 0h8m57 0h8m6 0h8m-102 0h8m159 0h8m-221 0h8m87 0h8m65 0h8m7 1h8m-127 0h8m57 0h8m-32 0h8m-82 0h8m72 0h8m-30 0h8m115 0h8m-25 0h8m-76 0h8m36 0h8m-97 0h8m84 0h8m-133 0h8m111 0h8m23 1h8m-39 0h8m-19 0h8m6 0h8m-34 0h8m-99 0h8m41 0h8m77 0h8m-65 0h8m-1 0h8m-58 0h8m54 0h8m-28 0h8m-86 0h8m93 0h8m-5 0h8m-152 0h8m182 0h8m-117 0h8m27 0h8m-103 0h8m93 1h8m-17 0h8m31 0h8m-94 0h8m-106 0h8m96 0h8m89 0h8m-45 0h8m20 0h8m-182 0h8m70 0h8m29 0h8m-11 1h8m37 0h8m25 0h8m-23 0h8m-91 0h8m135 0h8m-97 0h8m-50 1h8m-111 0h8m189 0h8m-223 0h8m170 0h8m75 0h8m-163 0h8m-8 0h8m82 0h8m-222 0h8m93 0h8m-28 1h8m147 0h8m-43 0h8m43 0h8m-90 0h8m23 0h8m61 0h8m-114 0h8m-95 0h8m-40 0h8m98 0h8m-111 0h8m137 0h8m-127 0h8m11 0h8m-66 1h8m59 0h8m105 0h8m0 0h8m-84 0h8m90 0h8m-60 0h8m54 0h8m-140 0h8m60 1h8m43 0h8m-101 0h8m60 0h8m-200 0h8m113 0h8m72 0h8m-54 0h8m28 0h8m-17 0h8m62 1h8m-78 0h8m-86 0h8m3 0h8m73 0h8m-52 0h8m-28 0h8m12 0h8m-52 1h8m53 0h8m-155 0h8m89 0h8m-75 0h8m82 0h8m6 0h8m-22 1h8m-39 0h8m-20 0h8m-52 0h8m44 0h8m-33 0h8m-126 0h8m164 0h8m1 1h8m-55 0h8m-48 0h8m200 0h8m-94 0h8m-105 0h8m137 1h8m-84 0h8m-34 0h8m0 0h8m-27 0h8m-53 0h8m35 0h8m117 0h8m-136 0h8m13 1h8m-117 0h8m134 0h8m10 0h8m-85 0h8m68 0h8m-51 0h8m-53 0h8m46 0h8m58 0h8m-84 0h8m-75 0h8m22 0h8m85 1h8m-74 0h8m-37 0h8m55 0h8m66 0h8m-86 1h8m-32 0h8m18 0h8m-13 1h8m8 0h8m-28 0h8m68 0h8m-148 1h8m6 0h8m-46 0h8m17 0h8m97 0h8m45 0h8m-145 0h8m10 1h8m31 0h8m-103 0h8m84 0h8m-72 1h8m3 0h8m87 0h8m-18 0h8m-170 1h8m171 0h8m-157 0h8m128 0h8m-72 0h8m-169 0h8m242 0h8m-121 0h8m-80 1h8m223 0h8m-116 0h8m7 0h8m-81 0h8m42 0h8m-20 0h8m2 1h8m46 0h8m-120 0h8m11 0h8m84 0h8m-96 1h8m-54 0h8m85 0h8m19 0h8m-60 0h8m-56 0h8m41 1h8m-78 0h8m128 1h8m-47 0h8m-208 0h8m124 0h8m19 1h8m80 0h8m-67 0h8m-82 1h8m29 0h8m111 0h8m-108 0h8m-49 1h8m72 0h8m-168 0h8m103 0h8m-98 3h8m97 0h8m2 0h8m27 1h8m-30 2h8m42 0h8m-50 2h8m-57 0h8m-41 1h8m6 0h8m3 1h8m-138 0h8m120 1h8" stroke="#842090" stroke-width="8" fill="none" opacity="0.8"/>
<path transform="scale(.1)" d="m960 1856h8m-22 2h8m-57 10h8m25 0h8m21 1h8m-34 1h8m-10 3h8m-33 1h8m24 1h8m5 1h8m-35 2h8m22 8h8m-48 1h8m7 0h8m-11 3h8m-22 1h8m-6 0h8m-6 0h8m-3 2h8m30 1h8m-32 0h8m21 2h8m-87 3h8m32 0h8m-27 0h8m31 0h8m-48 1h8m-13 0h8m12 0h8m-3 0h8m-40 1h8m-26 0h8m17 1h8m32 1h8m-3 0h8m-59 2h8m34 0h8m-49 0h8m6 0h8m6 1h8m3 0h8m-24 1h8m-21 1h8m-15 0h8m17 0h8m-9 0h8m-16 1h8m-36 1h8m37 0h8m-59 0h8m14 1h8m23 0h8m-65 0h8m34 1h8m-49 0h8m21 0h8m-26 1h8m24 0h8m-34 1h8m40 1h8m1 0h8m-19 0h8m-31 0h8m-23 1h8m8 1h8m-28 0h8m21 0h8m-17 1h8m-13 0h8m-41 1h8m45 0h8m-16 1h8m14 0h8m-57 0h8m10 0h8m2 1h8m-22 0h8m-5 0h8m-21 0h8m28 1h8m-33 0h8m-1 0h8m-76 1h8m38 0h8m8 1h8m-2 0h8m-6 0h8m-52 0h8m31 0h8m16 1h8m-58 1h8m-16 0h8m55 1h8m-53 0h8m-12 0h8m12 1h8m-24 0h8m22 0h8m-28 0h8m-29 0h8m47 1h8m-26 0h8m-23 1h8m-10 0h8m19 0h8m-25 1h8m-11 0h8m-16 0h8m17 1h8m-42 0h8m10 1h8m-4 0h8m-20 0h8m-8 0h8m-11 0h8m-12 0h8m-2 1h8m-10 1h8m-13 0h8m-25 1h8m21 0h8m-13 0h8m6 0h8m-31 0h8m17 0h8m-22 0h8m-7 0h8m-18 0h8m16 0h8m-8 2h8m-36 0h8m10 0h8m-34 0h8m-66 1h8m54 0h8m5 0h8m-10 0h8m7 0h8m-20 1h8m-14 0h8m6 0h8m-31 1h8m-12 0h8m42 0h8m1 0h8m-29 0h8m-8 0h8m-42 0h8m7 1h8m1 0h8m14 1h8m-27 0h8m-10 0h8m-34 0h8m13 0h8m-51 0h8m26 1h8m18 0h8m-29 0h8m-19 0h8m-14 0h8m11 0h8m15 2h8m-34 0h8m6 0h8m-22 0h8m-5 0h8m4 1h8m-24 0h8m-32 1h8m27 0h8m-52 1h8m25 0h8m-10 0h8m-16 0h8m-16 0h8m7 0h8m-8 1h8m-3 0h8m-20 0h8m-62 0h8m76 0h8m-5 0h8m-26 1h8m-20 0h8m14 0h8m-38 1h8m17 0h8m-9 0h8m-13 0h8m6 0h8m-34 1h8m-7 0h8m-56 1h8m-2 0h8m23 0h8m-6 0h8m14 1h8m-46 0h8m52 0h8m-14 0h8m-50 0h8m23 0h8m-76 1h8m38 0h8m9 0h8m-10 1h8m-7 0h8m-35 0h8m38 0h8m-27 1h8m-38 0h8m-8 0h8m19 0h8m-48 0h8m16 0h8m-12 1h8m9 0h8m-5 0h8m-3 1h8m-42 0h8m-1 0h8m23 0h8m-49 0h8m31 0h8m-34 2h8m-13 0h8m-3 0h8m30 0h8m-31 0h8m-4 0h8m-41 1h8m4 0h8m3 0h8m16 0h8m-54 0h8m60 0h8m-58 0h8m-11 1h8m-39 0h8m52 1h8m-37 0h8m-9 0h8m-12 1h8m-11 1h8m13 0h8m-5 1h8m-11 0h8m-38 0h8m7 1h8m2 0h8m-19 0h8m-12 1h8m15 0h8m-15 1h8m-14 0h8m-35 0h8m21 0h8m10 0h8m-19 0h8m7 1h8m-16 0h8m1 0h8m-35 1h8m16 0h8m-18 0h8m0 1h8m-32 0h8m10 0h8m-20 0h8m-1 1h8m-23 0h8m31 0h8m-40 0h8m-18 2h8m3 0h8m14 0h8m-12 0h8m-32 1h8m13 0h8m-14 0h8m-21 0h8m-38 0h8m-4 0h8m44 0h8m-61 1h8m45 1h8m-29 0h8m-19 0h8m-40 1h8m49 0h8m11 0h8m-52 0h8m-27 0h8m15 1h8m-29 0h8m3 1h8m19 0h8m-22 0h8m-15 0h8m18 0h8m-18 1h8m6 0h8m-27 0h8m23 0h8m-51 0h8m0 0h8m-9 2h8m-6 0h8m4 0h8m-54 1h8m60 1h8m-10 0h8m-33 0h8m-30 1h8m21 0h8m-45 1h8m14 0h8m-29 0h8m27 0h8m-30 2h8m-8 0h8m-25 2h8m65 1h8m-50 1h8m-63 2h8m41 0h8m3 1h8m-18 0h8m8 2h8m-37 0h8m-24 1h8m13 0h8m2 3h8m-8 2h8m-46 0h8m32 2h8m-18 1h8m-25 1h8m29 4h8m-24 1h8m-4 3h8m-26 2h8m-4 1h8m30 0h8m-81 5h8m-3 4h8m33 8h8" stroke="#8a2490" stroke-width="8" fill="none" opacity="0.8"/>
</g>
<ellipse cx="42" cy="198.2" rx="9.5" ry="2.8" fill="#2030ea" filter="url(#b1)"/>
<rect x="64.50" y="151.30" width="40.50" height="53.20" fill="none" stroke="#8a50a8" stroke-width="0.7"/>
<text x="28.30" y="141.40" font-size="4.0" text-anchor="end" fill="#222" stroke="#222" stroke-width="0.12">1024</text>
<line x1="29.10" y1="140.00" x2="30.50" y2="140.00" stroke="#222" stroke-width="0.6"/>
<text x="28.30" y="157.97" font-size="4.0" text-anchor="end" fill="#222" stroke="#222" stroke-width="0.12">768</text>
<line x1="29.10" y1="156.57" x2="30.50" y2="156.57" stroke="#222" stroke-width="0.6"/>
<text x="28.30" y="174.55" font-size="4.0" text-anchor="end" fill="#222" stroke="#222" stroke-width="0.12">512</text>
<line x1="29.10" y1="173.15" x2="30.50" y2="173.15" stroke="#222" stroke-width="0.6"/>
<text x="28.30" y="191.13" font-size="4.0" text-anchor="end" fill="#222" stroke="#222" stroke-width="0.12">256</text>
<line x1="29.10" y1="189.73" x2="30.50" y2="189.73" stroke="#222" stroke-width="0.6"/>
<text x="28.30" y="207.70" font-size="4.0" text-anchor="end" fill="#222" stroke="#222" stroke-width="0.12">0</text>
<line x1="29.10" y1="206.30" x2="30.50" y2="206.30" stroke="#222" stroke-width="0.6"/>
<text x="29.70" y="214.50" font-size="4.0" text-anchor="middle" fill="#222">10<tspan font-size="0.7em" dy="-0.5em">0</tspan><tspan dy="0.350em">&#8203;</tspan></text>
<line x1="30.50" y1="206.30" x2="30.50" y2="207.90" stroke="#222" stroke-width="0.6"/>
<text x="52.08" y="214.50" font-size="4.0" text-anchor="middle" fill="#222">10<tspan font-size="0.7em" dy="-0.5em">1</tspan><tspan dy="0.350em">&#8203;</tspan></text>
<line x1="52.88" y1="206.30" x2="52.88" y2="207.90" stroke="#222" stroke-width="0.6"/>
<text x="74.45" y="214.50" font-size="4.0" text-anchor="middle" fill="#222">10<tspan font-size="0.7em" dy="-0.5em">2</tspan><tspan dy="0.350em">&#8203;</tspan></text>
<line x1="75.25" y1="206.30" x2="75.25" y2="207.90" stroke="#222" stroke-width="0.6"/>
<text x="96.83" y="214.50" font-size="4.0" text-anchor="middle" fill="#222">10<tspan font-size="0.7em" dy="-0.5em">3</tspan><tspan dy="0.350em">&#8203;</tspan></text>
<line x1="97.62" y1="206.30" x2="97.62" y2="207.90" stroke="#222" stroke-width="0.6"/>
<text x="119.20" y="214.50" font-size="4.0" text-anchor="middle" fill="#222">10<tspan font-size="0.7em" dy="-0.5em">4</tspan><tspan dy="0.350em">&#8203;</tspan></text>
<line x1="120.00" y1="206.30" x2="120.00" y2="207.90" stroke="#222" stroke-width="0.6"/>
<text x="75.25" y="216.90" font-size="3.4" font-weight="bold" text-anchor="middle" fill="#222">FL4-H</text>
<text transform="translate(17.30,172.65) rotate(-90)" font-size="4.2" text-anchor="middle" fill="#222" stroke="#222" stroke-width="0.12">SSC-H</text>
<path d="M111.5 51.25H120.0V49.75L124.5 56L120.0 62.25V60.75H111.5Z" fill="url(#ag)" stroke="#b8b8b8" stroke-width="0.4"/>
<path d="M111.5 166.75H120.0V165.25L124.5 171.5L120.0 177.75V176.25H111.5Z" fill="url(#ag)" stroke="#b8b8b8" stroke-width="0.4"/>
<rect x="150.00" y="29.00" width="90.00" height="68.00" fill="#fff" stroke="none" stroke-width="0"/>
<line x1="180.50" y1="29.00" x2="180.50" y2="97.00" stroke="#555" stroke-width="0.75"/>
<line x1="150.00" y1="69.50" x2="240.00" y2="69.50" stroke="#555" stroke-width="0.75"/>
<line x1="150.00" y1="28.70" x2="150.00" y2="97.30" stroke="#222" stroke-width="0.9"/>
<line x1="149.70" y1="97.00" x2="240.30" y2="97.00" stroke="#222" stroke-width="1.0"/>
<text x="151.30" y="33.30" font-size="4.1" fill="#222" letter-spacing="0.45" stroke="#222" stroke-width="0.1">0.00%</text>
<text x="239.80" y="33.30" font-size="4.1" text-anchor="end" fill="#222" letter-spacing="0.45" stroke="#222" stroke-width="0.1">11.72%</text>
<text x="151.30" y="94.40" font-size="4.1" fill="#222" letter-spacing="0.45" stroke="#222" stroke-width="0.1">0.00%</text>
<text x="239.80" y="94.40" font-size="4.1" text-anchor="end" fill="#222" letter-spacing="0.45" stroke="#222" stroke-width="0.1">88.28%</text>
<g filter="url(#b1)">
<path transform="scale(.1)" d="m1960 324h8m51 16h8m-3 40h8m-42 12h8m-39 17h8m-36 10h8m94 5h8m-76 0h8m0 2h8m49 3h8m-74 1h8m-26 3h8m89 3h8m-95 2h8m20 1h8m54 1h8m-103 4h8m56 5h8m-63 1h8m76 15h8m-100 0h8m22 1h8m32 1h8m-10 4h8m45 0h8m-82 2h8m3 1h8m15 1h8m-33 2h8m13 1h8m-33 6h8m-13 0h8m-19 1h8m1 0h8m4 1h8m-85 1h8m-19 1h8m62 2h8m-17 0h8m-107 0h8m133 3h8m-71 1h8m-36 1h8m49 2h8m-38 1h8m-5 5h8m-41 2h8m-30 0h8m140 1h8m-46 0h8m-63 2h8m32 0h8m-45 2h8m68 0h8m-39 1h8m-35 1h8m-17 1h8m34 4h8m-98 0h8m-2 0h8m57 0h8m-20 1h8m62 1h8m-121 0h8m106 3h8m-64 1h8m9 0h8m-92 2h8m-10 0h8m39 0h8m38 0h8m-57 1h8m30 1h8m0 1h8m-72 0h8m16 1h8m-9 1h8m29 2h8m-23 0h8m-67 0h8m48 1h8m-9 1h8m-73 0h8m-4 0h8m110 2h8m-45 0h8m-78 2h8m85 1h8m-4 0h8m7 0h8m-84 1h8m-16 1h8m11 0h8m-78 1h8m64 0h8m-27 0h8m-22 0h8m-75 1h8m62 0h8m13 2h8m67 0h8m15 0h8m-41 0h8m-19 1h8m-79 1h8m-6 0h8m-51 0h8m6 0h8m17 0h8m-88 1h8m10 0h8m54 0h8m31 0h8m-60 1h8m66 0h8m-42 1h8m-108 1h8m55 0h8m-7 0h8m-91 1h8m89 0h8m76 0h8m-96 1h8m27 0h8m-65 1h8m35 0h8m-34 1h8m48 0h8m10 1h8m-13 0h8m-1 0h8m-44 0h8m14 0h8m-51 1h8m-12 0h8m-42 1h8m37 1h8m31 0h8m-48 1h8m-12 0h8m88 0h8m-48 0h8m-18 1h8m22 0h8m-83 1h8m-125 2h8m103 1h8m-51 0h8m96 0h8m-3 2h8m-50 0h8m-85 1h8m43 2h8m47 0h8m-127 0h8m-13 0h8m58 0h8m-48 1h8m46 0h8m110 1h8m-162 0h8m86 0h8m-92 0h8m100 0h8m-181 1h8m102 1h8m-46 0h8m-61 2h8m47 1h8m22 0h8m-80 0h8m26 0h8m-26 1h8m86 1h8m-111 0h8m-114 1h8m141 2h8m-60 1h8m24 0h8m-68 1h8m-33 0h8m48 0h8m23 0h8m26 1h8m-15 2h8m22 0h8m-10 1h8m-52 1h8m72 0h8m-132 1h8m138 0h8m-99 0h8m-34 3h8m45 0h8m-7 1h8m-76 0h8m-3 1h8m53 0h8m-62 0h8m109 1h8m-98 0h8m78 0h8m-141 1h8m-17 0h8m45 0h8m-38 1h8m30 0h8m45 2h8m-106 0h8m50 1h8m-38 1h8m15 0h8m18 1h8m64 1h8m-126 0h8m18 1h8m-117 0h8m127 0h8m-4 0h8m34 1h8m-147 0h8m-50 1h8m69 0h8m-33 0h8m-28 1h8m49 0h8m61 2h8m-44 0h8m-54 1h8m28 0h8m6 0h8m-62 0h8m-13 0h8m8 1h8m28 0h8m-96 1h8m31 0h8m33 0h8m-17 1h8m-117 1h8m66 1h8m33 0h8m-4 0h8m-88 1h8m64 0h8m43 1h8m-158 1h8m-85 1h8m189 0h8m-105 1h8m45 0h8m-6 1h8m3 0h8m2 0h8m-60 0h8m53 1h8m-71 0h8m8 0h8m-26 1h8m61 0h8m-22 0h8m136 1h8m-79 0h8m-60 0h8m-30 0h8m-19 0h8m-38 1h8m51 1h8m-62 1h8m64 0h8m-36 0h8m-58 0h8m-43 0h8m17 1h8m75 0h8m36 0h8m-65 1h8m-64 1h8m-67 0h8m108 1h8m-38 1h8m-97 0h8m122 0h8m-48 1h8m69 0h8m-106 0h8m127 1h8m-35 1h8m-99 0h8m-61 2h8m12 0h8m29 1h8m69 0h8m-23 0h8m-61 0h8m58 1h8m-70 0h8m-21 0h8m-106 1h8m49 1h8m110 0h8m0 0h8m-149 0h8m-15 0h8m65 1h8m36 1h8m-5 0h8m-61 0h8m25 1h8m-50 0h8m37 0h8m-93 1h8m38 0h8m-12 0h8m-57 0h8m45 1h8m54 0h8m-122 0h8m44 0h8m3 0h8m102 0h8m-168 0h8m-45 0h8m113 1h8m-68 0h8m107 1h8m-157 1h8m28 1h8m46 1h8m-51 0h8m-16 0h8m-75 1h8m117 1h8m8 0h8m-140 1h8m66 0h8m0 0h8m44 2h8m-76 0h8m-15 1h8m-93 0h8m40 1h8m36 0h8m-17 0h8m-54 1h8m14 0h8m20 1h8m101 1h8m-111 0h8m-105 0h8m140 1h8m-22 0h8m73 0h8m-133 0h8m29 0h8m-37 1h8m72 2h8m-143 0h8m62 0h8m10 1h8m12 1h8m-14 0h8m-60 0h8m14 1h8m28 0h8m-134 0h8m21 1h8m98 0h8m-84 0h8m-59 1h8m34 0h8m25 0h8m-68 0h8m35 1h8m-12 0h8m90 0h8m-89 1h8m22 0h8m-21 0h8m19 1h8m-74 1h8m-40 0h8m60 0h8m-34 0h8m44 0h8m-14 1h8m-143 0h8m32 0h8m-23 0h8m-7 0h8m75 0h8m51 1h8m-89 0h8m-34 1h8m34 1h8m-28 0h8m-54 0h8m46 1h8m-13 0h8m82 0h8m-105 1h8m51 1h8m24 0h8m-85 0h8m-21 0h8m87 0h8m-98 0h8m43 1h8m-91 0h8m-9 0h8m86 1h8m-58 0h8m9 0h8m-25 0h8m-30 1h8m42 0h8m-27 1h8m-23 1h8m-5 0h8m8 0h8m-4 1h8m-69 1h8m24 0h8m60 0h8m-35 0h8m-73 1h8m13 0h8m-33 0h8m87 0h8m-117 1h8m59 0h8m-104 0h8m42 0h8m1 0h8m51 1h8m-44 0h8m-65 0h8m60 0h8m-101 0h8m-24 1h8m68 0h8m16 0h8m65 0h8m-58 3h8m-22 1h8m-76 0h8m73 0h8m-21 0h8m-13 1h8m-10 0h8m35 0h8m-82 0h8m-55 1h8m36 0h8m-21 0h8m-11 0h8m44 1h8m-26 0h8m80 0h8m-133 0h8m50 1h8m-3 0h8m-30 1h8m29 0h8m-61 1h8m82 1h8m-46 2h8m32 1h8m-22 0h8m-69 0h8m83 1h8m-91 0h8m-45 1h8m10 0h8m-6 0h8m58 1h8m-136 0h8m46 0h8m88 1h8m-120 0h8m12 1h8m63 0h8m-43 0h8m-42 0h8m-53 0h8m83 1h8m0 0h8m13 0h8m-123 0h8m102 0h8m82 1h8m-176 0h8m-22 0h8m34 0h8m-65 0h8m-55 1h8m24 0h8m86 0h8m-123 1h8m132 1h8m-20 0h8m-150 1h8m102 0h8m38 1h8m-118 0h8m37 0h8m56 2h8m-192 0h8m100 1h8m95 0h8m-67 1h8m-13 0h8m-37 1h8m-79 0h8m77 0h8m-38 0h8m96 1h8m-84 0h8m-4 1h8m-64 0h8m62 0h8m-69 1h8m59 0h8m11 0h8m-56 1h8m-32 1h8m45 0h8m-57 1h8m18 0h8m-101 0h8m10 0h8m85 2h8m-48 0h8m-56 1h8m66 1h8m-107 0h8m89 1h8m-70 1h8m55 0h8m7 1h8m143 0h8m-114 0h8m-39 1h8m42 1h8m-109 0h8m12 0h8m-36 0h8m9 0h8m58 1h8m-11 0h8m-109 0h8m67 2h8m-2 1h8m-39 0h8m-76 0h8m19 0h8m75 1h8m-24 0h8m-61 0h8m100 1h8m-124 0h8m31 0h8m80 1h8m-50 1h8m-50 0h8m13 0h8m-2 0h8m5 1h8m52 0h8m-46 1h8m-76 1h8m-7 1h8m-90 0h8m110 1h8m-29 0h8m-11 1h8m-4 0h8m-85 0h8m89 3h8m-68 1h8m73 0h8m-19 0h8m-123 1h8m26 0h8m51 2h8m-88 0h8m68 2h8m-86 1h8m31 1h8m33 2h8m-54 1h8m31 0h8m15 1h8m-47 1h8m5 1h8m-19 1h8m-119 1h8m105 0h8m-59 1h8m50 1h8m-2 0h8m-89 0h8m70 2h8m-54 0h8m-40 0h8m117 0h8m-75 0h8m6 1h8m-141 1h8m74 2h8m13 1h8m-63 1h8m156 0h8m-44 0h8m-65 1h8m50 2h8m-28 1h8m-27 1h8m-99 0h8m36 0h8m106 3h8m-74 0h8m17 1h8m-12 1h8m-51 0h8m10 1h8m35 1h8m-4 0h8m-111 1h8m33 0h8m-58 0h8m-23 3h8m-16 0h8m22 1h8m57 8h8m-84 0h8m73 1h8m2 2h8m32 0h8m-63 1h8m-111 3h8m104 1h8m-108 0h8m89 2h8m-46 3h8m47 2h8m5 0h8m-36 2h8m-35 2h8m13 0h8m-55 1h8m87 0h8m-75 1h8m-33 0h8m-33 2h8m85 1h8m-83 1h8m105 1h8m-55 1h8m65 1h8m-52 0h8m-2 1h8m-84 0h8m1 0h8m-32 0h8m106 1h8m-104 0h8m-12 1h8m-42 3h8m-42 5h8m100 1h8m-51 6h8m89 1h8m-101 1h8m-68 2h8m69 0h8m-110 1h8m114 7h8m-39 5h8m3 1h8m-42 1h8m5 4h8m54 0h8m-69 1h8m116 2h8m-113 2h8m-125 0h8m132 0h8m-105 3h8m66 1h8m41 10h8m-11 3h8m-105 14h8m-49 2h8m106 0h8m-18 7h8m-62 10h8" stroke="#5a58e0" stroke-width="8" fill="none" opacity="0.7"/>
<path transform="scale(.1)" d="m1973 556h8m7 13h8m-40 5h8m14 4h8m-48 9h8m33 0h8m-2 8h8m8 1h8m-22 3h8m16 11h8m-53 2h8m8 1h8m-38 3h8m52 1h8m-36 1h8m-8 2h8m0 0h8m34 1h8m-32 2h8m-17 5h8m11 1h8m-48 1h8m-52 0h8m48 1h8m-18 6h8m-6 0h8m-10 2h8m-33 4h8m-25 1h8m-11 1h8m20 1h8m14 0h8m-9 1h8m-16 0h8m35 3h8m-81 0h8m-18 1h8m78 1h8m-32 0h8m-31 0h8m9 1h8m3 0h8m-68 0h8m18 0h8m11 0h8m27 1h8m-10 0h8m-73 0h8m62 1h8m52 3h8m-46 0h8m-91 1h8m-45 0h8m103 1h8m-43 0h8m-67 0h8m108 0h8m-74 0h8m28 1h8m-25 0h8m14 0h8m-62 1h8m5 1h8m-26 0h8m-32 1h8m68 0h8m-13 0h8m60 0h8m-116 2h8m69 0h8m-73 0h8m10 2h8m-55 0h8m-19 1h8m60 0h8m-52 0h8m-6 0h8m70 0h8m-87 1h8m-58 0h8m22 1h8m-14 1h8m74 0h8m-48 0h8m-20 1h8m-49 1h8m-17 1h8m59 0h8m44 0h8m-97 1h8m15 0h8m-18 0h8m-7 0h8m22 0h8m-58 0h8m29 1h8m15 0h8m-88 2h8m7 1h8m31 0h8m30 0h8m-43 0h8m17 1h8m8 0h8m-47 0h8m9 0h8m26 2h8m-76 0h8m-35 0h8m73 1h8m-16 0h8m-92 0h8m128 1h8m-150 0h8m49 2h8m-57 0h8m32 0h8m22 0h8m-29 0h8m-48 0h8m40 1h8m-9 0h8m40 0h8m-106 1h8m43 0h8m-58 0h8m31 0h8m14 0h8m-14 0h8m-43 0h8m-5 1h8m14 0h8m0 0h8m-41 0h8m77 0h8m-96 1h8m46 0h8m-93 1h8m12 1h8m0 0h8m35 0h8m-37 2h8m-12 0h8m-39 0h8m6 1h8m48 0h8m-110 0h8m56 1h8m3 0h8m-9 0h8m14 1h8m-77 1h8m52 0h8m-12 0h8m-33 1h8m18 0h8m47 0h8m-40 1h8m-65 0h8m16 1h8m-14 0h8m-32 0h8m19 0h8m36 1h8m-26 0h8m-14 0h8m53 0h8m-67 0h8m-85 1h8m83 0h8m-24 0h8m-59 0h8m75 0h8m-13 1h8m-40 0h8m32 0h8m-62 1h8m10 0h8m-4 0h8m-12 0h8m1 1h8m-10 0h8m-76 0h8m53 1h8m29 0h8m-109 1h8m47 0h8m-56 0h8m21 1h8m22 0h8m-36 0h8m25 1h8m-32 0h8m-26 0h8m38 0h8m11 0h8m-59 0h8m-35 0h8m53 0h8m41 1h8m-110 0h8m-37 0h8m35 0h8m73 0h8m-99 1h8m5 1h8m3 1h8m22 0h8m-56 0h8m66 0h8m-10 0h8m-108 0h8m29 0h8m-18 0h8m17 1h8m-16 0h8m32 0h8m-31 0h8m-53 0h8m55 0h8m-29 0h8m-43 1h8m63 0h8m-29 0h8m-31 0h8m8 0h8m-48 0h8m43 0h8m-17 1h8m-47 0h8m23 0h8m-49 0h8m0 0h8m56 0h8m-110 0h8m50 0h8m13 0h8m-74 0h8m68 1h8m-61 0h8m21 0h8m32 0h8m5 0h8m-133 0h8m42 0h8m-72 0h8m131 1h8m-97 0h8m-19 0h8m26 0h8m-24 0h8m44 1h8m-30 0h8m-37 0h8m74 0h8m-47 1h8m-12 0h8m-7 0h8m-93 0h8m53 0h8m-2 0h8m-43 1h8m5 1h8m-6 0h8m2 0h8m6 0h8m-13 0h8m-21 0h8m-38 1h8m38 0h8m-5 0h8m-43 0h8m33 0h8m-15 1h8m11 0h8m3 0h8m-36 0h8m-48 0h8m41 0h8m-13 0h8m15 0h8m-48 1h8m-26 0h8m16 0h8m-48 1h8m-6 0h8m-9 0h8m50 0h8m-59 0h8m72 1h8m-40 0h8m-44 0h8m23 0h8m-18 1h8m21 0h8m-38 0h8m41 0h8m-60 0h8m41 0h8m-25 0h8m-48 0h8m-3 1h8m-9 0h8m-51 0h8m50 0h8m27 1h8m-74 0h8m81 0h8m-42 0h8m-58 1h8m-25 0h8m-3 0h8m-8 1h8m23 1h8m-2 0h8m-24 0h8m35 0h8m-52 0h8m6 1h8m-73 0h8m56 0h8m13 1h8m-42 0h8m-13 0h8m21 0h8m-85 1h8m61 0h8m59 0h8m-82 0h8m-24 0h8m-3 0h8m19 0h8m11 0h8m14 1h8m-143 0h8m95 0h8m-37 0h8m56 0h8m-58 0h8m-33 0h8m6 0h8m-15 1h8m35 0h8m-84 0h8m14 0h8m30 0h8m22 0h8m-78 0h8m1 0h8m4 1h8m-1 0h8m-45 1h8m-46 0h8m71 0h8m-71 0h8m41 1h8m50 0h8m-79 0h8m10 1h8m-76 0h8m62 0h8m-4 0h8m22 1h8m-4 1h8m-17 0h8m-59 1h8m32 0h8m-39 0h8m-8 0h8m73 0h8m-50 0h8m-42 0h8m-14 0h8m-7 1h8m8 0h8m16 0h8m-73 0h8m2 0h8m-3 1h8m13 0h8m-44 0h8m49 0h8m-8 0h8m-84 1h8m77 0h8m-26 0h8m-12 0h8m-3 0h8m-43 0h8m47 0h8m-10 0h8m-45 1h8m-50 0h8m12 0h8m16 0h8m-13 0h8m47 0h8m-40 0h8m0 0h8m3 0h8m-130 1h8m50 0h8m26 0h8m-35 0h8m19 0h8m19 0h8m-67 0h8m29 0h8m-81 1h8m103 0h8m-33 0h8m-58 0h8m2 0h8m-27 0h8m-10 0h8m34 1h8m-26 0h8m14 0h8m-65 0h8m43 0h8m46 0h8m-34 0h8m-13 0h8m22 1h8m-3 0h8m-34 0h8m-70 0h8m-44 0h8m82 0h8m-4 1h8m-19 0h8m-90 0h8m86 0h8m-99 1h8m58 0h8m5 0h8m27 0h8m-4 0h8m-54 0h8m-11 0h8m-32 0h8m6 1h8m27 0h8m-68 0h8m11 0h8m-20 0h8m28 1h8m-15 0h8m-28 0h8m-19 0h8m13 0h8m16 1h8m-10 0h8m-61 0h8m65 0h8m-46 0h8m55 0h8m-85 0h8m-40 0h8m-16 1h8m46 0h8m39 0h8m-26 0h8m-53 0h8m14 0h8m2 1h8m8 0h8m17 0h8m11 0h8m-87 0h8m10 0h8m-55 1h8m62 0h8m-75 0h8m44 0h8m-44 0h8m19 0h8m-33 0h8m-16 0h8m2 0h8m18 1h8m-86 0h8m36 0h8m74 0h8m-42 0h8m-86 0h8m23 0h8m-36 0h8m40 0h8m-20 1h8m-17 0h8m17 0h8m51 0h8m-57 0h8m-44 0h8m31 0h8m-54 1h8m26 0h8m0 0h8m-55 0h8m-48 1h8m63 0h8m3 0h8m-9 0h8m-36 0h8m26 0h8m-35 0h8m52 1h8m4 0h8m-105 0h8m86 0h8m-37 0h8m-81 1h8m60 0h8m-46 0h8m-14 0h8m-32 1h8m89 0h8m-75 0h8m52 0h8m-16 0h8m-25 1h8m-51 0h8m39 0h8m-66 0h8m5 1h8m-47 0h8m55 0h8m-6 0h8m-21 1h8m-8 0h8m9 0h8m-33 0h8m66 0h8m-137 0h8m135 0h8m-119 1h8m-3 0h8m23 0h8m12 0h8m-47 0h8m27 1h8m-108 0h8m77 0h8m1 0h8m-6 0h8m-37 1h8m-8 0h8m-56 0h8m34 0h8m40 0h8m-31 0h8m-3 0h8m8 1h8m-21 0h8m-32 0h8m63 0h8m-83 0h8m41 1h8m-30 0h8m-12 0h8m-39 1h8m14 0h8m-26 0h8m63 0h8m-35 0h8m-39 0h8m-16 0h8m32 1h8m-70 0h8m36 0h8m-57 0h8m36 0h8m27 0h8m-68 1h8m-32 0h8m29 0h8m-9 0h8m5 0h8m-23 1h8m8 0h8m-19 0h8m-24 1h8m29 0h8m10 0h8m-80 0h8m-8 0h8m30 0h8m-9 0h8m-18 1h8m3 0h8m29 1h8m31 0h8m-77 0h8m-57 0h8m57 0h8m-38 0h8m36 0h8m-76 1h8m90 0h8m-60 0h8m-51 0h8m78 1h8m-94 0h8m33 0h8m12 0h8m-52 1h8m-13 0h8m35 0h8m-23 0h8m-33 0h8m62 0h8m-39 0h8m-17 0h8m37 1h8m-33 0h8m-39 1h8m-6 0h8m0 0h8m9 0h8m-101 0h8m85 0h8m-35 0h8m-10 0h8m-54 1h8m42 0h8m3 0h8m3 1h8m-1 0h8m-35 0h8m47 0h8m-53 1h8m-43 0h8m26 1h8m-32 0h8m-28 0h8m-55 0h8m16 0h8m20 1h8m-12 0h8m-1 0h8m26 0h8m-7 1h8m13 0h8m-106 0h8m11 0h8m-29 0h8m-9 0h8m-36 1h8m135 0h8m-39 0h8m-52 1h8m42 0h8m-11 0h8m1 0h8m-61 0h8m28 0h8m-41 1h8m-95 0h8m130 0h8m-56 0h8m31 0h8m-25 0h8m-34 1h8m88 0h8m-129 0h8m7 0h8m12 0h8m13 0h8m-43 0h8m55 1h8m-111 0h8m4 0h8m43 1h8m-50 0h8m61 0h8m-23 0h8m-4 0h8m-20 0h8m-20 0h8m-28 0h8m9 1h8m58 0h8m-81 0h8m-11 1h8m42 0h8m-97 0h8m62 0h8m-15 0h8m-90 0h8m128 1h8m-95 0h8m-17 0h8m-29 0h8m111 1h8m-103 0h8m50 1h8m-22 0h8m-8 0h8m-10 0h8m37 1h8m8 0h8m-134 1h8m96 0h8m-92 0h8m-3 0h8m33 0h8m-68 1h8m9 0h8m66 0h8m-16 0h8m-59 1h8m8 0h8m-58 0h8m55 0h8m-37 0h8m-38 1h8m6 0h8m47 0h8m-31 0h8m-100 1h8m91 0h8m-1 0h8m0 0h8m-33 0h8m-31 1h8m12 0h8m64 0h8m-52 0h8m-46 1h8m-14 0h8m26 0h8m9 1h8m-64 0h8m58 0h8m16 0h8m-40 0h8m-28 1h8m-32 1h8m31 0h8m-50 0h8m-11 0h8m-6 0h8m16 0h8m38 1h8m-84 0h8m57 0h8m-25 0h8m1 0h8m-48 2h8m-28 1h8m32 1h8m-48 0h8m-69 0h8m107 0h8m-53 1h8m20 0h8m-18 0h8m-58 2h8m68 0h8m14 1h8m-59 0h8m14 1h8m-21 0h8m-26 0h8m16 0h8m-10 1h8m1 0h8m-18 1h8m-8 0h8m29 0h8m-40 1h8m3 0h8m-18 1h8m6 1h8m-77 0h8m67 0h8m-36 0h8m-28 1h8m-25 0h8m43 0h8m-13 0h8m38 1h8m-71 0h8m7 0h8m4 0h8m-37 0h8m24 0h8m-22 0h8m-92 0h8m65 1h8m-62 0h8m101 0h8m-31 1h8m-46 0h8m11 0h8m-9 0h8m14 0h8m-52 1h8m12 0h8m-50 0h8m0 1h8m5 0h8m11 0h8m-31 0h8m81 0h8m-88 1h8m-43 1h8m5 1h8m3 1h8m14 0h8m-20 1h8m-37 1h8m84 0h8m-90 0h8m-27 1h8m12 1h8m64 0h8m-21 0h8m17 1h8m-59 1h8m16 0h8m-49 0h8m39 0h8m-16 1h8m-14 0h8m1 0h8m14 1h8m-32 0h8m39 0h8m-83 1h8m18 0h8m-84 0h8m75 0h8m-22 1h8m35 0h8m-67 1h8m-5 0h8m3 0h8m13 0h8m-99 0h8m19 1h8m76 1h8m-71 0h8m30 0h8m-76 0h8m101 1h8m-83 0h8m23 1h8m-60 0h8m-11 0h8m26 0h8m-22 1h8m-16 0h8m-19 1h8m2 1h8m18 0h8m-4 0h8m-46 0h8m-70 1h8m136 0h8m-103 0h8m13 4h8m-68 1h8m77 0h8m31 0h8m-96 1h8m10 0h8m-54 1h8m65 1h8m-40 1h8m31 1h8m-36 0h8m40 0h8m-66 0h8m13 1h8m-18 3h8m-17 2h8m56 1h8m-31 1h8m-52 0h8m66 1h8m-70 0h8m-41 2h8m109 4h8m-99 0h8m47 4h8m-105 4h8m73 2h8m-19 0h8m-4 3h8m0 0h8m-52 1h8m-18 2h8m57 4h8m-5 14h8m-129 1h8m55 5h8m26 11h8m-21 22h8" stroke="#3838f0" stroke-width="8" fill="none" opacity="0.8"/>
</g>
<ellipse cx="199.8" cy="76.5" rx="4.4" ry="6.6" fill="#2424f0" filter="url(#b3)"/>
<text x="149.20" y="103.60" font-size="3.5" text-anchor="middle" fill="#333">10<tspan font-size="0.7em" dy="-0.5em">0</tspan><tspan dy="0.350em">&#8203;</tspan></text>
<line x1="150.00" y1="97.00" x2="150.00" y2="98.20" stroke="#333" stroke-width="0.5"/>
<text x="148.40" y="98.60" font-size="3.5" text-anchor="end" fill="#333">10<tspan font-size="0.7em" dy="-0.5em">0</tspan><tspan dy="0.350em">&#8203;</tspan></text>
<line x1="148.80" y1="97.00" x2="150.00" y2="97.00" stroke="#333" stroke-width="0.5"/>
<text x="171.70" y="103.60" font-size="3.5" text-anchor="middle" fill="#333">10<tspan font-size="0.7em" dy="-0.5em">1</tspan><tspan dy="0.350em">&#8203;</tspan></text>
<line x1="172.50" y1="97.00" x2="172.50" y2="98.20" stroke="#333" stroke-width="0.5"/>
<text x="148.40" y="81.60" font-size="3.5" text-anchor="end" fill="#333">10<tspan font-size="0.7em" dy="-0.5em">1</tspan><tspan dy="0.350em">&#8203;</tspan></text>
<line x1="148.80" y1="80.00" x2="150.00" y2="80.00" stroke="#333" stroke-width="0.5"/>
<text x="194.20" y="103.60" font-size="3.5" text-anchor="middle" fill="#333">10<tspan font-size="0.7em" dy="-0.5em">2</tspan><tspan dy="0.350em">&#8203;</tspan></text>
<line x1="195.00" y1="97.00" x2="195.00" y2="98.20" stroke="#333" stroke-width="0.5"/>
<text x="148.40" y="64.60" font-size="3.5" text-anchor="end" fill="#333">10<tspan font-size="0.7em" dy="-0.5em">2</tspan><tspan dy="0.350em">&#8203;</tspan></text>
<line x1="148.80" y1="63.00" x2="150.00" y2="63.00" stroke="#333" stroke-width="0.5"/>
<text x="216.70" y="103.60" font-size="3.5" text-anchor="middle" fill="#333">10<tspan font-size="0.7em" dy="-0.5em">3</tspan><tspan dy="0.350em">&#8203;</tspan></text>
<line x1="217.50" y1="97.00" x2="217.50" y2="98.20" stroke="#333" stroke-width="0.5"/>
<text x="148.40" y="47.60" font-size="3.5" text-anchor="end" fill="#333">10<tspan font-size="0.7em" dy="-0.5em">3</tspan><tspan dy="0.350em">&#8203;</tspan></text>
<line x1="148.80" y1="46.00" x2="150.00" y2="46.00" stroke="#333" stroke-width="0.5"/>
<text x="239.20" y="103.60" font-size="3.5" text-anchor="middle" fill="#333">10<tspan font-size="0.7em" dy="-0.5em">4</tspan><tspan dy="0.350em">&#8203;</tspan></text>
<line x1="240.00" y1="97.00" x2="240.00" y2="98.20" stroke="#333" stroke-width="0.5"/>
<text x="148.40" y="30.60" font-size="3.5" text-anchor="end" fill="#333">10<tspan font-size="0.7em" dy="-0.5em">4</tspan><tspan dy="0.350em">&#8203;</tspan></text>
<line x1="148.80" y1="29.00" x2="150.00" y2="29.00" stroke="#333" stroke-width="0.5"/>
<text x="195.00" y="107.00" font-size="3.3" font-weight="bold" text-anchor="middle" fill="#222">FL1-H</text>
<rect x="240.00" y="29.00" width="91.00" height="68.00" fill="#fff" stroke="none" stroke-width="0"/>
<line x1="331.00" y1="29.00" x2="331.00" y2="97.00" stroke="#aaa" stroke-width="0.7"/>
<line x1="272.40" y1="29.00" x2="272.40" y2="97.00" stroke="#555" stroke-width="0.75"/>
<line x1="240.00" y1="69.40" x2="331.00" y2="69.40" stroke="#555" stroke-width="0.75"/>
<line x1="240.00" y1="28.70" x2="240.00" y2="97.30" stroke="#222" stroke-width="0.9"/>
<line x1="239.70" y1="97.00" x2="331.30" y2="97.00" stroke="#222" stroke-width="1.0"/>
<text x="241.30" y="33.30" font-size="4.1" fill="#222" letter-spacing="0.45" stroke="#222" stroke-width="0.1">00%</text>
<text x="327.00" y="33.30" font-size="4.1" text-anchor="end" fill="#222" letter-spacing="0.45" stroke="#222" stroke-width="0.1">8.59%</text>
<text x="241.30" y="94.40" font-size="4.1" fill="#222" letter-spacing="0.45" stroke="#222" stroke-width="0.1">00%</text>
<text x="327.00" y="94.40" font-size="4.1" text-anchor="end" fill="#222" letter-spacing="0.45" stroke="#222" stroke-width="0.1">91.41%</text>
<g filter="url(#b1)">
<path transform="scale(.1)" d="m2903 346h8m-16 12h8m86 42h8m-86 32h8m-140 5h8m161 0h8m-12 4h8m-98 2h8m-1 2h8m71 0h8m-81 5h8m20 13h8m-8 1h8m-27 1h8m45 2h8m-33 0h8m77 0h8m-76 1h8m18 0h8m-19 5h8m-59 3h8m-16 0h8m-39 5h8m48 3h8m1 2h8m-65 3h8m19 3h8m22 3h8m-35 1h8m-1 6h8m17 2h8m-13 1h8m-69 0h8m1 1h8m52 0h8m-37 0h8m4 4h8m-30 1h8m60 0h8m-60 1h8m17 2h8m-81 0h8m-109 2h8m139 0h8m-81 1h8m-73 1h8m5 1h8m154 0h8m-28 1h8m17 1h8m-6 0h8m-82 5h8m35 2h8m-39 2h8m-38 1h8m72 1h8m-41 0h8m54 2h8m-99 1h8m-87 1h8m96 0h8m-12 0h8m10 4h8m-13 1h8m-105 0h8m65 1h8m-17 0h8m-20 0h8m115 2h8m-97 0h8m-60 0h8m104 1h8m21 1h8m-85 0h8m-13 1h8m-65 0h8m74 2h8m-42 2h8m12 0h8m6 1h8m-44 0h8m-48 0h8m113 1h8m-34 1h8m-50 0h8m-71 0h8m41 2h8m-42 0h8m-30 0h8m15 0h8m54 0h8m26 1h8m-78 1h8m20 0h8m-1 3h8m-60 0h8m17 1h8m-136 1h8m148 2h8m-3 2h8m32 0h8m-59 4h8m44 2h8m-89 0h8m-7 1h8m53 0h8m-66 0h8m-7 0h8m5 1h8m-33 0h8m-28 0h8m-25 1h8m79 0h8m19 1h8m-122 1h8m70 1h8m-3 0h8m-28 0h8m9 0h8m-84 1h8m-41 1h8m75 1h8m11 2h8m-11 1h8m-2 0h8m34 1h8m-56 0h8m-13 1h8m32 2h8m-115 0h8m47 1h8m2 0h8m-92 1h8m122 0h8m-27 1h8m-80 0h8m-46 1h8m16 1h8m123 2h8m-16 1h8m-138 0h8m86 0h8m-22 2h8m-48 0h8m-79 0h8m88 1h8m41 0h8m-85 0h8m-20 0h8m56 1h8m-80 0h8m93 0h8m-71 1h8m31 1h8m-14 0h8m17 0h8m-47 2h8m-43 1h8m-13 1h8m71 0h8m-73 0h8m122 1h8m-118 1h8m-170 1h8m119 0h8m45 0h8m-4 1h8m3 0h8m-5 0h8m-66 0h8m-54 0h8m94 0h8m-74 0h8m-13 1h8m58 0h8m20 0h8m-56 1h8m-6 0h8m-109 0h8m141 0h8m-105 1h8m-49 0h8m-26 1h8m16 0h8m86 1h8m-114 0h8m-18 0h8m51 1h8m-16 0h8m27 0h8m-24 1h8m-19 0h8m80 0h8m27 1h8m-177 1h8m76 0h8m2 0h8m-70 1h8m51 1h8m-32 0h8m-66 0h8m-9 2h8m56 0h8m-8 0h8m106 1h8m-117 0h8m3 0h8m42 0h8m16 1h8m-117 0h8m30 0h8m-78 1h8m78 0h8m16 1h8m5 0h8m-122 2h8m-23 0h8m115 2h8m-75 1h8m31 0h8m-86 0h8m-84 0h8m127 1h8m133 0h8m-215 0h8m14 1h8m-50 0h8m63 0h8m-15 1h8m15 2h8m8 1h8m18 0h8m-92 1h8m18 1h8m10 1h8m-5 0h8m-70 1h8m12 0h8m-66 1h8m45 1h8m20 0h8m6 1h8m-68 0h8m78 0h8m-59 1h8m-3 1h8m138 0h8m-164 0h8m-25 0h8m181 1h8m-138 0h8m57 0h8m-31 1h8m-26 0h8m-46 1h8m-14 0h8m27 1h8m-33 0h8m40 0h8m-87 0h8m1 0h8m18 2h8m-35 1h8m56 0h8m-119 1h8m63 0h8m-13 1h8m-58 0h8m43 1h8m-15 1h8m-40 1h8m31 0h8m-48 1h8m37 0h8m-109 0h8m74 0h8m-64 0h8m31 1h8m2 0h8m-39 1h8m54 0h8m-151 0h8m101 1h8m-34 0h8m-47 0h8m-41 0h8m99 0h8m52 1h8m-99 0h8m68 0h8m-37 0h8m-29 0h8m-11 1h8m36 0h8m36 0h8m-13 0h8m-62 1h8m54 0h8m-135 0h8m69 0h8m-68 0h8m-33 1h8m-5 0h8m-24 0h8m76 0h8m-80 0h8m44 0h8m135 0h8m-123 1h8m-26 1h8m-72 0h8m24 0h8m27 0h8m-57 0h8m34 1h8m10 0h8m-61 0h8m105 0h8m-74 1h8m-27 1h8m-50 1h8m85 0h8m-26 1h8m-40 1h8m13 0h8m16 1h8m-130 0h8m20 0h8m-4 2h8m-44 0h8m107 0h8m9 1h8m-25 0h8m-85 0h8m-67 1h8m152 0h8m40 0h8m-155 0h8m-11 0h8m-2 1h8m20 1h8m120 0h8m-145 0h8m2 1h8m3 0h8m-42 0h8m-71 0h8m113 0h8m-16 1h8m-22 2h8m-42 1h8m73 0h8m-16 0h8m14 1h8m-125 0h8m-35 0h8m72 1h8m-36 1h8m84 0h8m-19 0h8m-26 0h8m-15 0h8m-61 1h8m-20 0h8m51 1h8m1 1h8m-25 0h8m-15 0h8m-29 0h8m61 0h8m-69 2h8m87 0h8m-85 1h8m-63 0h8m14 0h8m-5 2h8m87 0h8m-120 0h8m106 0h8m-99 1h8m-61 0h8m-11 0h8m1 0h8m19 1h8m43 1h8m-23 0h8m15 0h8m-74 0h8m-99 2h8m98 0h8m85 1h8m-198 0h8m114 2h8m44 0h8m-89 0h8m15 0h8m66 1h8m-53 0h8m-44 1h8m79 0h8m-80 0h8m19 2h8m-82 0h8m109 0h8m-59 1h8m-36 1h8m43 1h8m-82 0h8m75 1h8m-49 0h8m9 0h8m52 0h8m-94 2h8m-48 0h8m22 0h8m-32 0h8m15 1h8m-48 0h8m21 2h8m17 1h8m-101 0h8m-45 0h8m98 1h8m-43 1h8m117 1h8m-36 0h8m-115 1h8m107 0h8m-134 0h8m129 0h8m-14 1h8m-87 0h8m-10 1h8m-7 0h8m33 1h8m-78 1h8m75 0h8m17 0h8m-72 0h8m91 0h8m-87 0h8m-14 1h8m-121 1h8m156 0h8m-180 0h8m34 0h8m4 1h8m8 1h8m101 0h8m-137 2h8m-76 0h8m53 1h8m62 0h8m-98 0h8m31 0h8m-44 1h8m94 1h8m40 0h8m-43 0h8m16 0h8m-68 0h8m-9 1h8m31 0h8m-11 2h8m-43 0h8m-11 1h8m-11 0h8m23 1h8m-142 1h8m154 0h8m-101 0h8m-22 0h8m156 0h8m-102 1h8m-29 1h8m16 1h8m3 0h8m-102 1h8m95 0h8m1 0h8m-92 2h8m-112 0h8m106 0h8m-69 0h8m33 1h8m42 1h8m-46 0h8m22 1h8m55 0h8m16 1h8m-3 1h8m17 0h8m-101 1h8m53 0h8m-109 1h8m27 0h8m1 0h8m40 1h8m-124 0h8m32 1h8m-1 0h8m12 0h8m-41 1h8m7 1h8m-88 0h8m0 0h8m62 1h8m-23 0h8m19 0h8m56 3h8m-139 0h8m63 1h8m-22 1h8m-34 0h8m-32 0h8m54 0h8m1 1h8m-59 0h8m-2 1h8m-14 1h8m-46 0h8m86 1h8m-103 0h8m16 0h8m11 0h8m74 1h8m-124 2h8m17 0h8m-48 0h8m-28 0h8m93 0h8m-50 1h8m-25 2h8m18 1h8m29 0h8m-90 0h8m-20 0h8m73 1h8m-64 0h8m40 2h8m-9 0h8m31 0h8m-85 1h8m56 0h8m-19 1h8m-101 0h8m45 1h8m1 0h8m21 1h8m31 1h8m51 0h8m-119 0h8m-31 1h8m-19 0h8m19 0h8m47 0h8m-44 1h8m-35 0h8m95 1h8m9 0h8m-76 2h8m-25 0h8m-27 1h8m77 1h8m-131 3h8m99 1h8m-5 1h8m-60 0h8m-86 0h8m60 0h8m-29 0h8m-16 1h8m14 3h8m37 1h8m-86 1h8m86 0h8m-80 0h8m-9 1h8m64 1h8m-86 1h8m8 2h8m67 2h8m-81 1h8m-20 0h8m22 0h8m38 1h8m-57 0h8m-41 2h8m-27 4h8m63 2h8m-122 0h8m89 3h8m-92 1h8m30 0h8m1 1h8m23 2h8m5 4h8m7 4h8m-89 0h8m44 3h8m-13 0h8m-95 0h8m84 1h8m-40 0h8m40 0h8m12 3h8m-73 0h8m-69 2h8m107 0h8m9 2h8m6 0h8m-100 2h8m85 2h8m-125 0h8m103 1h8m-36 0h8m-10 0h8m-37 3h8m-1 0h8m-38 1h8m-25 0h8m34 0h8m-29 3h8m-38 7h8m43 1h8m-16 1h8m-34 0h8m33 0h8m-86 2h8m114 2h8m-35 2h8m-36 1h8m-38 5h8m54 4h8m9 2h8m-109 4h8m54 13h8m-47 6h8m31 5h8m47 2h8m-28 2h8m-50 3h8m-34 4h8m68 0h8m-120 3h8m82 4h8m-157 4h8m139 5h8m-18 23h8" stroke="#5a58e0" stroke-width="8" fill="none" opacity="0.7"/>
<path transform="scale(.1)" d="m2947 546h8m-49 39h8m-112 25h8m107 6h8m-71 9h8m53 0h8m-5 5h8m19 1h8m-41 0h8m-50 2h8m35 2h8m-81 1h8m-18 1h8m27 2h8m76 2h8m-137 1h8m57 1h8m44 1h8m-20 0h8m-27 3h8m56 0h8m-56 0h8m-16 2h8m-21 0h8m-41 2h8m84 0h8m-28 0h8m-7 0h8m0 1h8m-86 2h8m8 1h8m30 0h8m-18 2h8m-13 0h8m-22 1h8m-4 0h8m48 0h8m-70 1h8m-17 1h8m5 1h8m-9 0h8m3 1h8m-80 0h8m13 1h8m94 0h8m-92 2h8m62 0h8m-42 0h8m4 0h8m0 2h8m47 0h8m-125 1h8m-7 0h8m20 1h8m-4 1h8m59 0h8m-111 0h8m61 0h8m-62 0h8m16 1h8m-12 1h8m87 1h8m-139 0h8m-11 0h8m29 0h8m22 1h8m-73 0h8m55 1h8m-67 0h8m33 1h8m-35 1h8m3 0h8m-28 0h8m31 1h8m-58 1h8m23 1h8m-20 1h8m-33 1h8m36 0h8m-32 1h8m33 1h8m-46 0h8m-39 2h8m79 0h8m12 1h8m-53 0h8m-52 0h8m45 0h8m-80 1h8m84 0h8m-82 1h8m62 0h8m-60 0h8m-14 1h8m-46 1h8m135 0h8m-81 0h8m-12 1h8m-33 1h8m16 1h8m-14 1h8m-46 0h8m37 1h8m-7 0h8m-55 0h8m72 0h8m-42 1h8m33 0h8m-78 0h8m32 0h8m-51 0h8m17 1h8m48 0h8m-57 1h8m3 0h8m-78 1h8m88 0h8m-17 0h8m-24 0h8m2 1h8m-21 0h8m-2 0h8m-59 0h8m-89 0h8m-8 0h8m70 1h8m46 0h8m-42 0h8m-31 1h8m52 0h8m20 1h8m-82 0h8m-22 0h8m6 0h8m11 0h8m-36 1h8m19 0h8m5 0h8m-45 1h8m14 0h8m-17 0h8m-25 0h8m84 1h8m-38 0h8m-52 0h8m-37 0h8m56 0h8m-16 0h8m-48 0h8m85 1h8m-93 0h8m-64 0h8m14 0h8m82 1h8m-33 0h8m-23 0h8m-12 1h8m6 0h8m71 1h8m-112 0h8m21 0h8m47 0h8m50 0h8m-77 0h8m-27 1h8m-61 0h8m-3 0h8m-69 0h8m124 1h8m-76 0h8m3 0h8m56 0h8m-58 1h8m7 0h8m31 0h8m-144 0h8m36 0h8m39 0h8m15 1h8m-26 0h8m-55 0h8m50 0h8m-79 0h8m77 0h8m-28 0h8m-65 0h8m-21 0h8m-48 1h8m53 0h8m50 0h8m-80 0h8m46 1h8m-10 0h8m-39 0h8m31 1h8m-19 0h8m-46 0h8m15 0h8m2 1h8m-37 0h8m-31 1h8m61 0h8m-98 0h8m77 0h8m-35 0h8m-3 0h8m-26 0h8m-6 0h8m62 0h8m-98 1h8m2 1h8m57 0h8m-84 0h8m75 0h8m-37 1h8m-51 0h8m30 0h8m11 0h8m-41 1h8m-28 0h8m9 0h8m19 0h8m-75 1h8m-4 0h8m36 1h8m-100 0h8m111 0h8m45 0h8m-49 0h8m-64 0h8m24 0h8m6 0h8m-72 0h8m80 1h8m-105 0h8m46 1h8m-52 0h8m-27 0h8m64 0h8m-27 0h8m1 0h8m-77 0h8m71 0h8m-57 0h8m35 1h8m-95 0h8m-2 0h8m-32 0h8m112 0h8m-69 0h8m31 0h8m-50 0h8m-32 1h8m31 0h8m37 0h8m-28 0h8m-48 1h8m53 0h8m-33 0h8m-85 0h8m34 1h8m34 0h8m-37 0h8m48 0h8m-31 0h8m-14 0h8m-45 0h8m38 1h8m-81 0h8m45 1h8m-100 1h8m82 0h8m-47 0h8m59 0h8m16 1h8m-46 0h8m6 0h8m-98 0h8m84 1h8m-116 0h8m65 0h8m54 0h8m-127 0h8m92 0h8m-71 0h8m67 0h8m-95 1h8m41 1h8m-5 0h8m-18 0h8m0 0h8m30 1h8m-65 0h8m38 0h8m-12 0h8m-8 0h8m-7 0h8m-15 1h8m-54 0h8m-21 0h8m20 0h8m-12 0h8m42 0h8m-66 0h8m19 0h8m-42 0h8m27 1h8m-54 0h8m-5 0h8m-50 0h8m75 0h8m-18 0h8m56 1h8m-30 0h8m-30 0h8m-45 0h8m-7 0h8m-57 0h8m-2 1h8m44 0h8m11 0h8m-28 0h8m-46 1h8m61 0h8m-30 0h8m-6 0h8m-20 0h8m-21 1h8m85 0h8m-45 0h8m-26 0h8m-4 0h8m-77 1h8m58 0h8m-26 0h8m-2 1h8m-43 0h8m-32 0h8m32 0h8m59 0h8m-51 1h8m49 0h8m-48 0h8m41 0h8m-70 1h8m-52 0h8m8 0h8m75 0h8m-109 0h8m76 0h8m-91 1h8m19 0h8m31 0h8m-44 0h8m-90 0h8m125 1h8m-51 0h8m1 0h8m-89 0h8m46 0h8m15 0h8m4 1h8m-29 0h8m-10 0h8m-51 0h8m-21 0h8m45 0h8m-26 0h8m57 0h8m-78 0h8m58 0h8m-17 1h8m-98 0h8m19 0h8m61 1h8m-49 0h8m-121 0h8m53 0h8m25 1h8m-5 0h8m13 0h8m-61 0h8m51 0h8m-69 0h8m38 1h8m72 0h8m-73 0h8m-33 0h8m14 1h8m-115 0h8m61 0h8m-22 1h8m-36 0h8m40 0h8m-10 0h8m7 0h8m-17 1h8m0 0h8m-31 0h8m-94 0h8m215 0h8m-128 0h8m-13 0h8m28 1h8m-123 0h8m122 0h8m-7 0h8m-89 1h8m51 0h8m-25 0h8m104 0h8m-139 0h8m73 1h8m-61 0h8m-12 1h8m14 0h8m-23 1h8m-50 0h8m28 0h8m20 1h8m40 0h8m-29 0h8m-108 0h8m30 0h8m-27 1h8m-12 0h8m-17 0h8m88 0h8m-13 1h8m-35 0h8m-65 0h8m-38 0h8m-15 0h8m38 0h8m19 1h8m-24 0h8m-2 0h8m12 0h8m-4 0h8m-13 0h8m-80 0h8m46 0h8m-69 0h8m85 0h8m-42 0h8m-69 1h8m80 0h8m-24 0h8m-8 0h8m-3 0h8m-69 0h8m35 0h8m-7 1h8m6 0h8m33 0h8m-40 0h8m16 0h8m6 1h8m-45 0h8m-58 0h8m27 0h8m-57 0h8m114 0h8m18 0h8m-93 0h8m-50 1h8m58 0h8m-72 0h8m-58 0h8m26 0h8m107 1h8m-23 0h8m-73 0h8m-50 0h8m8 0h8m23 0h8m63 0h8m-119 0h8m60 0h8m-1 0h8m-7 1h8m-24 0h8m-54 0h8m6 0h8m61 0h8m-117 0h8m86 0h8m-2 0h8m-22 1h8m-91 0h8m32 0h8m-24 0h8m-7 0h8m69 0h8m-49 1h8m-43 0h8m-104 0h8m107 0h8m94 0h8m-111 0h8m-27 0h8m-30 0h8m22 1h8m-70 1h8m50 0h8m84 0h8m-83 0h8m16 0h8m-27 0h8m-36 0h8m16 0h8m5 0h8m-3 0h8m-9 0h8m-62 0h8m42 1h8m-30 0h8m24 0h8m44 0h8m-71 0h8m-11 0h8m43 0h8m-22 0h8m-59 1h8m83 0h8m-101 0h8m44 0h8m-137 1h8m135 0h8m-83 0h8m55 0h8m-108 0h8m93 1h8m-20 0h8m-17 0h8m13 0h8m-7 1h8m-115 0h8m15 0h8m43 0h8m1 0h8m-41 0h8m-21 1h8m-32 0h8m45 0h8m-55 0h8m79 0h8m-89 0h8m53 0h8m14 0h8m-34 1h8m45 0h8m-117 0h8m6 0h8m65 0h8m-48 0h8m-7 1h8m-51 0h8m8 0h8m42 0h8m-5 0h8m-71 1h8m8 1h8m-7 0h8m32 0h8m-69 0h8m41 0h8m-21 0h8m-13 0h8m-23 0h8m28 0h8m-33 0h8m-10 1h8m-39 0h8m10 0h8m7 0h8m-50 0h8m27 0h8m9 1h8m11 0h8m-26 0h8m22 0h8m-65 0h8m18 0h8m64 0h8m-111 0h8m52 1h8m41 0h8m-88 0h8m-78 0h8m84 1h8m-62 0h8m-26 0h8m65 0h8m-15 0h8m-44 1h8m-18 0h8m-8 1h8m-7 0h8m-25 0h8m51 0h8m-16 0h8m49 1h8m-127 0h8m44 0h8m62 0h8m-24 1h8m9 0h8m-17 1h8m-101 0h8m69 0h8m-30 1h8m-28 0h8m-45 0h8m42 0h8m-23 0h8m-76 0h8m42 0h8m-35 1h8m-36 0h8m33 0h8m85 0h8m-93 0h8m48 1h8m-38 0h8m37 0h8m-54 0h8m-65 1h8m71 0h8m-49 0h8m-27 0h8m104 0h8m-66 1h8m-64 0h8m66 0h8m-55 0h8m12 0h8m-49 0h8m-97 0h8m147 0h8m-48 0h8m-54 1h8m68 0h8m43 0h8m-103 1h8m104 0h8m-80 0h8m-65 0h8m-4 1h8m63 0h8m-57 0h8m-57 0h8m-28 0h8m143 0h8m-51 1h8m-42 0h8m-67 0h8m88 0h8m-10 1h8m52 0h8m-83 0h8m-34 0h8m-63 1h8m-19 0h8m44 0h8m20 0h8m-75 0h8m21 1h8m25 0h8m-80 0h8m73 0h8m-34 0h8m39 0h8m-48 1h8m19 0h8m49 0h8m-31 0h8m-27 0h8m-8 1h8m-69 0h8m-9 0h8m20 0h8m17 0h8m-65 0h8m65 1h8m-107 0h8m-53 0h8m72 1h8m125 0h8m-65 0h8m-108 0h8m30 0h8m5 0h8m-56 0h8m49 1h8m-54 0h8m-22 0h8m63 0h8m10 1h8m-79 0h8m21 0h8m-6 0h8m-35 0h8m64 1h8m-115 0h8m25 0h8m50 0h8m-58 0h8m34 1h8m-42 0h8m22 0h8m1 0h8m-15 1h8m-3 0h8m43 0h8m-107 0h8m59 0h8m0 1h8m-12 0h8m-68 0h8m5 0h8m52 0h8m-58 1h8m-65 0h8m-16 0h8m66 0h8m-44 1h8m27 0h8m27 1h8m11 0h8m-90 0h8m-45 0h8m141 0h8m-154 0h8m50 1h8m0 0h8m-66 0h8m27 1h8m-52 0h8m56 0h8m-36 0h8m54 0h8m-55 1h8m-29 1h8m18 0h8m-8 1h8m18 0h8m-59 0h8m22 1h8m41 0h8m-56 0h8m12 0h8m77 0h8m-147 0h8m8 0h8m-66 0h8m11 1h8m42 0h8m23 0h8m-21 1h8m-90 0h8m42 0h8m-18 0h8m-8 0h8m38 0h8m-33 1h8m-71 0h8m87 0h8m-62 0h8m65 1h8m2 0h8m-53 0h8m12 0h8m-66 0h8m-8 0h8m-21 1h8m58 0h8m-32 0h8m-25 0h8m-57 0h8m19 0h8m33 0h8m-21 1h8m-82 0h8m104 0h8m-40 1h8m14 1h8m-55 0h8m24 1h8m-35 0h8m4 0h8m-39 1h8m-10 0h8m50 0h8m2 0h8m-22 0h8m-29 1h8m60 0h8m-73 0h8m-42 1h8m-15 0h8m24 0h8m8 1h8m-50 0h8m0 0h8m54 0h8m-41 2h8m-34 1h8m80 1h8m-71 0h8m14 1h8m-27 1h8m75 1h8m6 0h8m-56 1h8m6 1h8m-101 0h8m81 0h8m-54 0h8m-34 0h8m-41 0h8m-37 0h8m38 1h8m9 1h8m-5 0h8m45 1h8m-26 0h8m-27 0h8m-63 0h8m31 1h8m5 0h8m69 0h8m-96 1h8m31 1h8m-93 1h8m79 1h8m-113 0h8m18 1h8m33 0h8m-15 1h8m-83 0h8m68 1h8m50 1h8m-22 0h8m-1 1h8m-44 0h8m-9 0h8m-97 0h8m103 1h8m-49 1h8m12 1h8m-31 1h8m40 0h8m-63 2h8m0 0h8m-61 0h8m94 1h8m-88 0h8m8 2h8m44 0h8m-42 1h8m17 1h8m-47 5h8m80 1h8m-51 2h8m-84 0h8m58 0h8m42 0h8m-116 1h8m29 1h8m-56 0h8m13 2h8m35 2h8m-62 1h8m89 0h8m-33 0h8m44 2h8m-136 0h8m20 1h8m19 4h8m-37 1h8m46 1h8m4 2h8m49 1h8m-144 0h8m66 0h8m-67 0h8m-62 1h8m12 1h8m24 1h8m-9 2h8m16 1h8m-29 1h8m-63 1h8m44 3h8m61 1h8m-117 2h8m6 2h8m71 12h8m25 13h8" stroke="#3838f0" stroke-width="8" fill="none" opacity="0.8"/>
</g>
<ellipse cx="289.8" cy="77.5" rx="5" ry="6.4" fill="#2424f0" filter="url(#b3)"/>
<text x="239.20" y="103.60" font-size="3.5" text-anchor="middle" fill="#333">10<tspan font-size="0.7em" dy="-0.5em">0</tspan><tspan dy="0.350em">&#8203;</tspan></text>
<line x1="240.00" y1="97.00" x2="240.00" y2="98.20" stroke="#333" stroke-width="0.5"/>
<text x="261.95" y="103.60" font-size="3.5" text-anchor="middle" fill="#333">10<tspan font-size="0.7em" dy="-0.5em">1</tspan><tspan dy="0.350em">&#8203;</tspan></text>
<line x1="262.75" y1="97.00" x2="262.75" y2="98.20" stroke="#333" stroke-width="0.5"/>
<text x="284.70" y="103.60" font-size="3.5" text-anchor="middle" fill="#333">10<tspan font-size="0.7em" dy="-0.5em">2</tspan><tspan dy="0.350em">&#8203;</tspan></text>
<line x1="285.50" y1="97.00" x2="285.50" y2="98.20" stroke="#333" stroke-width="0.5"/>
<text x="307.45" y="103.60" font-size="3.5" text-anchor="middle" fill="#333">10<tspan font-size="0.7em" dy="-0.5em">3</tspan><tspan dy="0.350em">&#8203;</tspan></text>
<line x1="308.25" y1="97.00" x2="308.25" y2="98.20" stroke="#333" stroke-width="0.5"/>
<text x="330.20" y="103.60" font-size="3.5" text-anchor="middle" fill="#333">10<tspan font-size="0.7em" dy="-0.5em">4</tspan><tspan dy="0.350em">&#8203;</tspan></text>
<line x1="331.00" y1="97.00" x2="331.00" y2="98.20" stroke="#333" stroke-width="0.5"/>
<text x="285.50" y="107.00" font-size="3.3" font-weight="bold" text-anchor="middle" fill="#222">FL1-H</text>
<rect x="150.00" y="139.50" width="90.00" height="68.00" fill="#fff" stroke="none" stroke-width="0"/>
<line x1="179.50" y1="139.50" x2="179.50" y2="207.50" stroke="#555" stroke-width="0.75"/>
<line x1="150.00" y1="171.00" x2="240.00" y2="171.00" stroke="#555" stroke-width="0.75"/>
<line x1="150.00" y1="139.20" x2="150.00" y2="207.80" stroke="#222" stroke-width="0.9"/>
<line x1="149.70" y1="207.50" x2="240.30" y2="207.50" stroke="#222" stroke-width="1.0"/>
<text x="151.30" y="143.80" font-size="4.1" fill="#222" letter-spacing="0.45" stroke="#222" stroke-width="0.1">0.00%</text>
<text x="239.80" y="143.80" font-size="4.1" text-anchor="end" fill="#222" letter-spacing="0.45" stroke="#222" stroke-width="0.1">5.94%</text>
<text x="151.30" y="204.90" font-size="4.1" fill="#222" letter-spacing="0.45" stroke="#222" stroke-width="0.1">0.00%</text>
<text x="239.80" y="204.90" font-size="4.1" text-anchor="end" fill="#222" letter-spacing="0.45" stroke="#222" stroke-width="0.1">94.06%</text>
<g filter="url(#b1)">
<path transform="scale(.1)" d="m2066 1479h8m-150 16h8m16 6h8m-16 0h8m17 2h8m6 3h8m-31 6h8m78 0h8m-89 1h8m-29 1h8m23 1h8m-62 4h8m-54 3h8m54 2h8m-9 2h8m-69 1h8m32 1h8m-13 1h8m101 2h8m-88 3h8m-47 0h8m-36 1h8m139 0h8m-11 0h8m-46 2h8m-34 4h8m48 0h8m-91 0h8m20 3h8m3 0h8m-55 0h8m101 2h8m-94 0h8m-60 1h8m-3 0h8m7 0h8m-55 2h8m103 0h8m60 1h8m-119 1h8m100 0h8m-67 1h8m-98 0h8m65 1h8m20 1h8m7 3h8m-24 0h8m-65 1h8m79 0h8m-49 0h8m-35 1h8m112 3h8m-37 3h8m-98 0h8m6 1h8m-51 0h8m67 0h8m-18 1h8m-5 1h8m-62 2h8m-57 0h8m67 0h8m-50 0h8m3 0h8m-16 1h8m50 0h8m-94 0h8m46 1h8m-57 0h8m-14 0h8m-23 1h8m24 0h8m5 0h8m120 0h8m-95 1h8m-168 0h8m191 0h8m-66 0h8m-42 0h8m21 1h8m68 2h8m2 0h8m-58 1h8m-56 0h8m-12 0h8m-18 2h8m26 0h8m23 1h8m-96 0h8m-30 1h8m80 0h8m16 0h8m18 1h8m-33 0h8m-53 2h8m-17 3h8m-45 0h8m98 0h8m-28 1h8m9 0h8m-26 0h8m-17 0h8m-39 1h8m-124 0h8m167 0h8m-16 2h8m-90 0h8m47 0h8m-59 1h8m-33 0h8m-9 0h8m87 0h8m104 1h8m-204 0h8m43 1h8m-72 0h8m76 1h8m-111 0h8m69 0h8m38 0h8m-25 1h8m-23 0h8m-73 1h8m16 1h8m-27 0h8m-7 0h8m3 0h8m-46 0h8m130 0h8m-44 1h8m-39 0h8m37 0h8m62 1h8m-50 0h8m-44 0h8m-84 0h8m46 0h8m-71 1h8m41 1h8m-84 0h8m184 1h8m-162 0h8m164 2h8m-136 0h8m20 0h8m-24 1h8m7 0h8m-13 1h8m-3 0h8m10 0h8m-18 0h8m-22 1h8m-55 0h8m69 0h8m42 0h8m-116 0h8m59 1h8m-32 0h8m-97 0h8m12 1h8m5 1h8m-1 2h8m-2 0h8m49 0h8m-89 0h8m67 1h8m-42 1h8m63 0h8m-37 0h8m-36 1h8m-64 0h8m-33 0h8m15 0h8m107 1h8m3 1h8m-127 2h8m1 0h8m49 0h8m-105 1h8m104 1h8m-83 0h8m17 1h8m-6 0h8m-25 2h8m-85 0h8m19 1h8m18 1h8m-49 0h8m61 1h8m-70 1h8m24 0h8m24 0h8m-45 0h8m115 1h8m-78 2h8m-84 0h8m90 1h8m-81 1h8m76 2h8m3 0h8m-19 0h8m-142 0h8m12 0h8m47 0h8m93 2h8m-203 1h8m102 1h8m25 0h8m-27 1h8m-22 0h8m-13 3h8m31 0h8m-182 3h8m133 1h8m46 2h8m-87 0h8m-95 3h8m67 1h8m19 0h8m-67 3h8m68 1h8m-40 2h8m79 0h8m-55 3h8m-64 2h8m-20 2h8m-93 2h8m125 1h8m-48 2h8m14 1h8m26 0h8m22 2h8m62 1h8m-115 0h8m-8 3h8m-128 9h8m75 1h8m3 8h8" stroke="#a040a8" stroke-width="8" fill="none" opacity="0.6"/>
<path transform="scale(.1)" d="m2099 1625h8m-117 17h8m27 35h8m-119 12h8m85 1h8m29 1h8m-73 3h8m10 2h8m77 1h8m-56 2h8m-144 2h8m203 3h8m-105 2h8m-45 2h8m174 2h8m-192 2h8m16 3h8m69 0h8m-168 1h8m200 2h8m-133 5h8m83 1h8m-50 0h8m-32 1h8m159 2h8m-76 2h8m-275 3h8m181 0h8m-23 1h8m-28 0h8m-39 3h8m26 0h8m27 1h8m-194 1h8m177 0h8m58 1h8m-190 0h8m149 1h8m-79 0h8m134 2h8m-76 1h8m-48 1h8m-55 1h8m10 1h8m-19 0h8m19 1h8m-34 1h8m-45 3h8m84 1h8m-66 0h8m-30 0h8m72 1h8m-78 2h8m90 1h8m5 1h8m-17 0h8m-103 0h8m-53 1h8m57 0h8m-68 2h8m-36 1h8m129 0h8m110 0h8m-5 1h8m-215 2h8m103 0h8m-122 2h8m95 0h8m-152 1h8m203 0h8m-81 0h8m-109 1h8m-31 0h8m24 2h8m-1 0h8m-15 0h8m37 1h8m-27 1h8m-48 0h8m114 1h8m-130 1h8m194 0h8m-49 1h8m-138 0h8m-15 0h8m-18 0h8m58 1h8m59 0h8m-261 1h8m13 1h8m146 0h8m-68 0h8m95 0h8m-67 1h8m-131 0h8m39 1h8m-18 0h8m143 1h8m-176 0h8m126 0h8m59 1h8m-41 0h8m-106 1h8m134 0h8m-27 1h8m-176 0h8m28 0h8m119 1h8m-14 0h8m-68 1h8m-66 0h8m-89 1h8m12 0h8m81 0h8m-30 1h8m150 0h8m-200 1h8m-6 0h8m68 1h8m60 1h8m-203 0h8m89 1h8m20 0h8m82 0h8m-59 1h8m-176 0h8m110 0h8m-3 0h8m-37 0h8m-91 1h8m-7 0h8m-98 1h8m214 0h8m-132 1h8m-13 0h8m132 0h8m-87 0h8m-69 1h8m63 0h8m-14 0h8m-38 0h8m125 0h8m-24 1h8m-61 0h8m-84 0h8m79 1h8m-52 0h8m99 1h8m-8 0h8m-63 1h8m4 0h8m44 1h8m-135 0h8m168 0h8m-135 0h8m-16 1h8m-12 0h8m23 0h8m32 0h8m-30 0h8m-70 0h8m-23 0h8m-25 0h8m153 0h8m-170 1h8m-58 0h8m242 0h8m-107 0h8m-19 0h8m45 1h8m-49 0h8m-100 1h8m84 0h8m12 0h8m-25 0h8m1 1h8m-72 0h8m120 0h8m-146 0h8m21 1h8m-90 0h8m-26 1h8m75 0h8m-14 0h8m-119 1h8m208 0h8m-44 0h8m-113 1h8m127 0h8m-173 0h8m134 1h8m-120 0h8m150 0h8m-211 0h8m25 0h8m-17 1h8m49 0h8m-86 0h8m98 1h8m84 0h8m-43 0h8m1 0h8m-257 0h8m15 0h8m150 0h8m-111 1h8m-34 0h8m124 0h8m-52 0h8m94 1h8m-49 0h8m-101 0h8m88 1h8m-210 0h8m55 0h8m6 1h8m-78 0h8m187 1h8m-149 0h8m58 0h8m3 0h8m-21 0h8m173 1h8m-248 0h8m9 1h8m28 0h8m24 0h8m188 0h8m-191 0h8m13 0h8m-125 1h8m74 0h8m-14 0h8m-149 0h8m165 2h8m-72 0h8m12 0h8m-17 1h8m67 0h8m-64 1h8m-60 0h8m-16 1h8m31 0h8m146 0h8m-101 0h8m35 0h8m-40 0h8m5 1h8m-115 0h8m58 1h8m-77 0h8m24 0h8m119 0h8m-302 0h8m233 2h8m90 0h8m-129 0h8m-113 0h8m223 0h8m-127 0h8m43 0h8m-23 0h8m-140 1h8m31 0h8m31 1h8m-120 0h8m38 1h8m26 0h8m172 0h8m-241 1h8m95 0h8m-115 0h8m45 0h8m147 1h8m-206 0h8m-45 0h8m149 1h8m-72 0h8m-38 0h8m45 1h8m58 0h8m-139 0h8m-80 0h8m67 0h8m146 1h8m-67 0h8m-28 1h8m82 0h8m-64 0h8m-116 0h8m2 0h8m37 1h8m36 0h8m151 0h8m-251 0h8m-13 0h8m4 1h8m53 0h8m-158 0h8m27 0h8m41 1h8m-151 0h8m212 0h8m5 0h8m-178 0h8m-26 1h8m87 0h8m32 0h8m23 0h8m17 0h8m-127 0h8m155 1h8m-128 0h8m45 0h8m-192 0h8m157 0h8m27 1h8m-103 0h8m47 1h8m5 0h8m150 1h8m-281 0h8m138 0h8m-18 0h8m-33 0h8m24 1h8m-35 1h8m-53 0h8m-71 0h8m177 1h8m-136 0h8m122 0h8m-58 1h8m-120 1h8m-8 0h8m8 0h8m102 0h8m-83 0h8m-6 1h8m-72 0h8m145 1h8m-153 0h8m13 0h8m-112 0h8m164 0h8m-160 0h8m79 1h8m13 0h8m68 0h8m-116 0h8m-140 0h8m208 0h8m-155 1h8m175 0h8m-199 0h8m50 1h8m137 1h8m-154 0h8m67 1h8m-2 0h8m6 0h8m-17 1h8m-96 1h8m85 0h8m-66 0h8m15 0h8m142 0h8m-300 0h8m210 0h8m28 0h8m-108 1h8m-30 0h8m-61 1h8m121 0h8m49 0h8m-111 1h8m-122 0h8m149 0h8m-208 1h8m166 1h8m-67 0h8m-29 1h8m46 0h8m110 0h8m-44 1h8m-230 0h8m68 0h8m83 1h8m-200 0h8m151 0h8m55 0h8m15 1h8m-54 0h8m60 0h8m-195 0h8m17 0h8m44 0h8m-91 1h8m22 0h8m53 0h8m-45 1h8m-51 0h8m116 1h8m-86 0h8m-29 0h8m-23 0h8m148 0h8m90 1h8m-217 0h8m-1 1h8m20 0h8m0 1h8m-99 0h8m-77 1h8m80 0h8m62 0h8m3 0h8m11 1h8m-118 0h8m-86 0h8m143 0h8m-49 1h8m-16 0h8m7 0h8m57 1h8m-48 0h8m-131 1h8m88 0h8m67 1h8m-164 0h8m29 1h8m90 0h8m-137 0h8m-67 0h8m190 1h8m-12 1h8m-118 0h8m122 0h8m-84 0h8m-47 1h8m107 0h8m-28 0h8m-33 1h8m-183 0h8m70 0h8m76 1h8m-54 2h8m7 1h8m116 0h8m-148 0h8m-53 0h8m-1 1h8m22 1h8m211 0h8m-62 0h8m-147 0h8m-118 0h8m72 1h8m-85 0h8m117 0h8m-10 0h8m-7 0h8m61 0h8m26 1h8m-26 0h8m-197 0h8m151 0h8m26 1h8m14 0h8m-190 0h8m11 1h8m70 0h8m-137 0h8m47 1h8m-41 0h8m83 0h8m46 1h8m-76 0h8m2 1h8m118 0h8m-124 0h8m11 0h8m14 2h8m23 0h8m50 1h8m-259 0h8m85 1h8m-91 0h8m114 1h8m43 0h8m-159 0h8m31 1h8m-99 0h8m122 0h8m-1 2h8m-19 1h8m-7 0h8m-126 1h8m28 0h8m-7 0h8m13 1h8m-34 1h8m137 0h8m113 1h8m-173 0h8m17 1h8m-127 0h8m-20 0h8m111 1h8m-71 0h8m61 0h8m-121 1h8m33 0h8m-40 0h8m82 0h8m72 0h8m-126 0h8m93 1h8m-61 0h8m-153 0h8m211 2h8m-122 0h8m27 1h8m-85 1h8m-40 0h8m-75 0h8m34 1h8m118 1h8m60 0h8m-40 0h8m-67 0h8m6 1h8m-88 2h8m65 0h8m9 0h8m13 0h8m-44 0h8m-146 0h8m214 1h8m-97 0h8m11 0h8m-155 0h8m101 1h8m43 0h8m-91 1h8m116 0h8m-109 0h8m153 1h8m-134 0h8m-3 0h8m-29 0h8m-123 0h8m109 1h8m-5 1h8m-63 0h8m-69 1h8m66 2h8m-25 1h8m95 1h8m-122 1h8m112 1h8m-73 3h8m76 0h8m-53 2h8m0 1h8m-54 0h8m-98 0h8m160 0h8m-134 1h8m99 0h8m-29 1h8m-108 3h8m-4 1h8m133 1h8m-91 0h8m85 0h8m-92 1h8m7 1h8m-158 1h8m150 0h8m62 1h8m-95 1h8m-123 3h8m33 1h8m115 4h8m-3 0h8m-13 4h8m-96 3h8m95 1h8m-64 2h8m9 2h8m-105 1h8m14 1h8m100 2h8m-89 5h8m35 2h8m45 9h8m-57 18h8m-14 10h8" stroke="#903098" stroke-width="8" fill="none" opacity="0.75"/>
<path transform="scale(.1)" d="m2058 1703h8m14 11h8m-18 5h8m-85 4h8m219 3h8m-260 1h8m26 1h8m19 2h8m62 1h8m22 0h8m-24 2h8m-132 1h8m1 1h8m59 1h8m-87 2h8m40 1h8m-2 0h8m81 0h8m-39 1h8m-45 0h8m-67 1h8m-26 1h8m40 1h8m-17 1h8m-17 0h8m23 1h8m-35 1h8m103 0h8m-47 0h8m-62 0h8m0 0h8m103 1h8m-108 0h8m-14 0h8m74 1h8m-43 0h8m43 0h8m-11 0h8m-79 1h8m-3 0h8m-98 1h8m69 0h8m11 1h8m-88 0h8m17 0h8m-53 0h8m7 1h8m132 0h8m-53 1h8m-92 0h8m35 0h8m45 1h8m-149 1h8m126 0h8m-58 0h8m-5 0h8m-94 0h8m31 0h8m54 1h8m100 0h8m-254 0h8m54 0h8m-17 1h8m17 0h8m73 0h8m-87 0h8m-25 0h8m112 1h8m0 0h8m-61 0h8m-8 1h8m-18 0h8m31 0h8m-75 0h8m20 1h8m-47 0h8m20 0h8m93 1h8m-93 0h8m-27 0h8m-58 0h8m27 0h8m-37 0h8m33 1h8m-54 0h8m34 0h8m-56 0h8m12 0h8m-39 0h8m98 0h8m0 1h8m8 0h8m-93 0h8m7 0h8m23 0h8m-37 0h8m-34 1h8m123 0h8m-86 0h8m-45 0h8m54 0h8m-68 0h8m-13 1h8m-6 0h8m43 0h8m-41 0h8m54 0h8m-105 0h8m54 1h8m-11 0h8m-111 0h8m10 0h8m80 0h8m-84 0h8m7 0h8m-17 1h8m58 0h8m68 0h8m-107 0h8m64 1h8m-54 0h8m3 0h8m-34 0h8m20 0h8m-87 0h8m-61 0h8m95 0h8m-25 1h8m-79 0h8m14 0h8m-72 0h8m61 0h8m103 0h8m-47 0h8m-69 1h8m73 0h8m-111 0h8m-11 0h8m45 0h8m18 0h8m-131 1h8m82 0h8m69 0h8m-98 0h8m-2 0h8m-28 0h8m48 1h8m-64 0h8m-59 0h8m70 0h8m-82 0h8m107 0h8m-63 1h8m39 0h8m-71 0h8m-25 0h8m-4 0h8m43 0h8m33 0h8m-62 0h8m-3 0h8m0 0h8m-7 0h8m-16 1h8m40 0h8m-39 0h8m4 0h8m-89 1h8m103 0h8m-50 0h8m-62 0h8m17 0h8m-19 0h8m7 0h8m6 0h8m-6 0h8m-2 0h8m-28 1h8m22 0h8m-25 0h8m-73 0h8m117 0h8m-146 0h8m21 0h8m-3 0h8m32 0h8m-18 0h8m-62 1h8m25 0h8m71 0h8m-152 0h8m46 0h8m78 0h8m-20 0h8m-14 1h8m3 0h8m-129 0h8m72 0h8m-11 0h8m-31 0h8m23 0h8m-25 0h8m2 0h8m56 0h8m-40 1h8m-124 0h8m91 0h8m-31 0h8m59 0h8m-123 0h8m-14 0h8m32 1h8m16 0h8m-52 0h8m47 0h8m-35 0h8m100 0h8m-67 0h8m-65 0h8m17 0h8m-88 0h8m79 1h8m-21 0h8m-9 0h8m37 0h8m6 0h8m8 0h8m-34 0h8m-75 0h8m164 0h8m-145 0h8m-94 0h8m73 0h8m65 1h8m-104 0h8m3 0h8m-90 0h8m209 0h8m-131 0h8m-66 0h8m-111 0h8m164 0h8m-37 0h8m-122 0h8m228 0h8m-97 1h8m31 0h8m-92 0h8m-68 0h8m40 1h8m38 0h8m-5 0h8m10 0h8m-121 0h8m47 0h8m-30 0h8m-94 0h8m176 0h8m8 0h8m-26 0h8m-39 1h8m-44 0h8m52 0h8m-77 0h8m41 0h8m-56 0h8m108 0h8m-137 1h8m42 0h8m-10 0h8m5 0h8m-30 0h8m22 0h8m-5 0h8m-28 1h8m-86 0h8m67 0h8m-69 0h8m-3 0h8m-10 0h8m15 0h8m8 0h8m126 0h8m-74 0h8m-90 0h8m62 1h8m-6 0h8m-30 0h8m32 0h8m-103 0h8m1 0h8m73 0h8m-83 0h8m122 0h8m-107 0h8m31 1h8m-84 0h8m39 0h8m-2 0h8m43 0h8m-101 0h8m91 0h8m-107 0h8m-62 0h8m-1 0h8m-80 0h8m22 0h8m59 0h8m37 0h8m-96 1h8m110 0h8m-101 0h8m96 0h8m-134 0h8m9 0h8m29 0h8m57 0h8m-34 0h8m-20 0h8m16 0h8m-31 0h8m-84 1h8m18 0h8m53 0h8m9 0h8m53 0h8m-104 0h8m-22 0h8m-18 0h8m70 0h8m-30 0h8m-94 0h8m75 0h8m-26 0h8m30 0h8m-27 0h8m22 0h8m14 1h8m-55 0h8m-101 0h8m104 0h8m-76 0h8m23 0h8m-80 0h8m32 0h8m-50 0h8m37 0h8m31 0h8m-143 1h8m167 0h8m-82 0h8m-41 0h8m63 0h8m-98 0h8m87 0h8m-55 0h8m91 0h8m-126 0h8m7 0h8m63 0h8m-78 0h8m14 0h8m48 0h8m-57 0h8m-86 0h8m-30 1h8m-43 0h8m73 0h8m16 0h8m-59 0h8m36 0h8m16 0h8m31 0h8m-82 0h8m-61 0h8m85 0h8m-3 1h8m-108 0h8m54 0h8m69 0h8m-102 0h8m80 0h8m-93 0h8m13 1h8m2 0h8m-69 0h8m68 0h8m-36 0h8m-24 0h8m68 0h8m-31 0h8m-34 0h8m124 0h8m-135 0h8m-61 0h8m149 0h8m-147 1h8m10 0h8m-10 0h8m71 0h8m-54 0h8m41 0h8m-135 0h8m42 0h8m53 0h8m-82 0h8m25 0h8m-91 0h8m132 0h8m-99 0h8m77 1h8m-99 0h8m20 0h8m28 0h8m-36 0h8m-44 0h8m-30 0h8m50 0h8m25 0h8m-7 0h8m-15 0h8m29 0h8m-59 0h8m37 0h8m-41 0h8m5 0h8m12 0h8m-84 0h8m-34 1h8m49 0h8m63 0h8m-147 0h8m126 0h8m-99 0h8m8 0h8m65 0h8m-116 0h8m-46 0h8m53 0h8m8 0h8m-48 1h8m2 0h8m-7 0h8m-74 0h8m102 0h8m-85 0h8m11 0h8m89 0h8m-33 0h8m-53 0h8m-29 0h8m67 0h8m-1 0h8m-43 1h8m-72 0h8m78 0h8m-37 0h8m-62 0h8m-6 0h8m-10 0h8m2 0h8m7 0h8m12 0h8m-36 0h8m101 0h8m-15 0h8m-65 0h8m-5 0h8m58 0h8m-53 0h8m-26 0h8m16 1h8m-74 0h8m-19 0h8m-23 0h8m30 0h8m-10 0h8m5 0h8m-57 0h8m-52 0h8m32 0h8m112 0h8m-102 0h8m34 0h8m-132 0h8m55 0h8m61 0h8m-24 0h8m-57 0h8m0 0h8m3 1h8m-3 0h8m-45 0h8m97 0h8m-46 0h8m-10 0h8m-17 0h8m53 0h8m-88 0h8m-83 0h8m37 0h8m43 0h8m-37 0h8m14 0h8m4 0h8m-13 0h8m-73 0h8m70 0h8m-28 1h8m-57 0h8m-12 0h8m98 0h8m18 0h8m-187 0h8m1 0h8m98 0h8m-49 0h8m89 0h8m-14 0h8m-140 0h8m-32 0h8m76 0h8m0 0h8m-135 0h8m31 0h8m140 0h8m-105 0h8m9 0h8m-99 0h8m-38 1h8m58 0h8m64 0h8m33 0h8m-4 0h8m-87 0h8m-15 0h8m40 0h8m-97 0h8m124 0h8m-135 0h8m37 0h8m43 0h8m-12 0h8m-74 0h8m47 0h8m88 0h8m-221 1h8m102 0h8m-14 0h8m-9 0h8m71 0h8m-102 0h8m15 0h8m-20 0h8m35 0h8m-49 0h8m-26 0h8m38 0h8m-4 0h8m-58 0h8m60 0h8m-131 0h8m-19 0h8m0 0h8m75 0h8m56 0h8m-127 0h8m133 0h8m-128 0h8m12 0h8m15 0h8m-46 0h8m21 0h8m66 0h8m-181 0h8m87 0h8m3 0h8m19 0h8m10 0h8m-101 1h8m21 0h8m46 0h8m-102 0h8m-24 0h8m58 0h8m5 0h8m7 0h8m-27 0h8m-75 0h8m-51 0h8m116 0h8m52 0h8m-96 0h8m-58 0h8m-15 0h8m110 1h8m56 0h8m-132 0h8m0 0h8m-115 0h8m25 0h8m25 0h8m64 0h8m-1 0h8m-84 0h8m-10 0h8m4 0h8m66 0h8m-124 0h8m-42 0h8m94 0h8m124 0h8m-90 0h8m-59 1h8m-53 0h8m-33 0h8m32 0h8m-41 0h8m8 0h8m-47 0h8m68 0h8m-23 0h8m19 0h8m11 0h8m-14 0h8m-5 0h8m13 0h8m-113 0h8m120 1h8m-155 0h8m150 0h8m-81 0h8m-35 0h8m58 0h8m21 0h8m-193 0h8m68 0h8m188 0h8m-170 0h8m41 0h8m-38 0h8m-28 0h8m18 0h8m-51 0h8m24 0h8m-21 0h8m22 0h8m-55 0h8m71 0h8m-100 0h8m51 1h8m19 0h8m-4 0h8m-114 0h8m16 0h8m-2 0h8m-37 0h8m70 0h8m-13 0h8m12 0h8m-65 0h8m42 0h8m-99 0h8m56 0h8m48 0h8m22 0h8m-190 0h8m-13 0h8m104 0h8m-183 0h8m81 0h8m61 0h8m-37 0h8m39 0h8m33 0h8m13 0h8m-119 0h8m38 0h8m-9 1h8m-32 0h8m-8 0h8m18 0h8m-1 0h8m-45 0h8m-18 0h8m-98 0h8m89 0h8m-9 0h8m-58 0h8m114 0h8m-48 1h8m-48 0h8m-30 0h8m149 0h8m-192 0h8m72 0h8m87 0h8m-88 0h8m4 0h8m-9 0h8m-65 0h8m-9 0h8m58 0h8m-76 0h8m-29 0h8m6 0h8m48 1h8m30 0h8m-152 0h8m61 0h8m25 0h8m64 0h8m-37 0h8m-19 0h8m69 0h8m-132 0h8m-40 0h8m-38 0h8m116 1h8m-91 0h8m-21 0h8m-33 0h8m94 0h8m-57 0h8m-16 0h8m-23 0h8m-24 0h8m-43 0h8m59 0h8m-12 0h8m23 0h8m66 0h8m25 0h8m-139 0h8m34 0h8m-28 0h8m33 0h8m-136 0h8m52 0h8m19 0h8m122 1h8m-92 0h8m14 0h8m-96 0h8m-61 0h8m25 0h8m-3 0h8m44 0h8m-114 0h8m108 0h8m-45 0h8m-59 0h8m-54 0h8m62 0h8m79 0h8m-87 0h8m-7 0h8m-67 0h8m36 0h8m34 0h8m-37 1h8m-76 0h8m186 0h8m-153 0h8m40 0h8m-116 0h8m66 0h8m12 0h8m-51 0h8m-5 0h8m91 0h8m-54 0h8m-16 0h8m-36 0h8m128 0h8m-141 0h8m-3 0h8m55 1h8m-6 0h8m-27 0h8m-89 0h8m3 0h8m42 0h8m-41 0h8m84 0h8m-85 0h8m44 0h8m-73 0h8m-40 0h8m-75 0h8m73 0h8m-3 0h8m64 0h8m-125 0h8m14 0h8m64 0h8m40 1h8m-74 0h8m-19 0h8m-7 0h8m-17 0h8m80 0h8m4 0h8m-129 0h8m-90 0h8m134 0h8m-160 0h8m61 0h8m7 1h8m163 0h8m-78 0h8m-5 0h8m-89 0h8m61 0h8m-53 0h8m-7 0h8m-34 0h8m96 0h8m-59 0h8m-71 0h8m34 0h8m-55 0h8m41 0h8m20 0h8m-33 1h8m-47 0h8m109 0h8m-111 0h8m16 0h8m-87 0h8m40 0h8m-17 0h8m-30 0h8m110 0h8m-103 0h8m67 0h8m-13 0h8m-107 0h8m36 0h8m31 0h8m-11 0h8m-167 1h8m52 0h8m59 0h8m-11 0h8m43 0h8m56 0h8m-85 0h8m46 0h8m-62 0h8m-33 0h8m-77 0h8m21 0h8m35 0h8m-106 0h8m90 0h8m-19 0h8m0 0h8m-39 0h8m-87 0h8m106 1h8m22 0h8m-78 0h8m10 0h8m11 0h8m28 0h8m-12 0h8m-70 0h8m143 0h8m-131 0h8m129 0h8m-85 0h8m-42 0h8m-95 0h8m90 0h8m-72 0h8m-11 0h8m-25 0h8m35 0h8m-95 0h8m29 0h8m-25 0h8m33 1h8m74 0h8m-17 0h8m26 0h8m-85 0h8m25 0h8m3 0h8m-39 0h8m89 0h8m-178 0h8m51 0h8m3 0h8m72 0h8m-147 0h8m84 0h8m-78 0h8m-9 0h8m97 1h8m-126 0h8m106 0h8m-73 0h8m1 0h8m7 0h8m-146 0h8m39 0h8m38 0h8m40 0h8m19 0h8m-28 0h8m-93 0h8m-30 0h8m51 0h8m5 0h8m0 0h8m4 1h8m-58 0h8m17 0h8m-90 0h8m89 0h8m-110 0h8m86 0h8m21 0h8m-134 0h8m106 0h8m31 0h8m-120 0h8m-6 0h8m21 0h8m83 1h8m-96 0h8m32 0h8m-48 0h8m-26 0h8m28 0h8m-51 0h8m89 0h8m-112 0h8m32 0h8m36 0h8m-29 0h8m-38 0h8m13 0h8m-47 0h8m-14 1h8m4 0h8m104 0h8m-135 0h8m17 0h8m4 0h8m-82 0h8m93 0h8m-69 0h8m106 0h8m-79 0h8m41 0h8m-69 0h8m19 0h8m-17 0h8m-90 0h8m36 0h8m42 0h8m-54 0h8m46 0h8m1 0h8m-45 0h8m-71 0h8m69 0h8m-52 1h8m-16 0h8m8 0h8m-168 0h8m129 0h8m-45 0h8m5 0h8m105 0h8m17 0h8m-123 0h8m11 0h8m29 0h8m-2 0h8m-8 0h8m-106 0h8m-47 0h8m149 0h8m37 0h8m-116 0h8m46 0h8m10 0h8m-63 0h8m-9 0h8m32 0h8m-26 0h8m-17 1h8m-31 0h8m45 0h8m8 0h8m-120 0h8m-12 0h8m136 0h8m-200 0h8m116 0h8m82 0h8m-149 0h8m-11 0h8m84 0h8m-45 0h8m-101 0h8m108 0h8m-75 0h8m8 0h8m-33 0h8m112 0h8m-85 0h8m54 0h8m-2 0h8m-60 0h8m7 1h8m-53 0h8m145 0h8m-172 0h8m72 0h8m-123 0h8m137 0h8m-93 0h8m-79 0h8m39 0h8m95 0h8m-82 0h8m32 0h8m-105 0h8m67 0h8m-109 0h8m108 0h8m-84 0h8m23 0h8m18 0h8m-8 0h8m-66 0h8m72 0h8m-31 0h8m14 1h8m-27 0h8m-39 0h8m-59 0h8m61 0h8m-56 0h8m3 0h8m100 0h8m-97 0h8m-3 0h8m-93 0h8m46 0h8m-14 0h8m9 0h8m-18 0h8m51 0h8m19 0h8m-146 0h8m-14 0h8m26 0h8m143 1h8m12 0h8m12 0h8m-86 0h8m-72 0h8m-23 0h8m-8 0h8m68 0h8m-98 0h8m67 0h8m42 0h8m-174 0h8m46 0h8m55 0h8m36 0h8m-95 0h8m-45 0h8m64 0h8m-15 0h8m-9 0h8m-36 0h8m40 0h8m-39 0h8m-33 0h8m-10 0h8m-66 0h8m66 0h8m-37 0h8m104 0h8m-210 0h8m31 0h8m9 0h8m-12 1h8m76 0h8m11 0h8m-74 0h8m-47 0h8m91 0h8m12 0h8m-28 0h8m-65 0h8m-34 0h8m83 0h8m-83 0h8m10 0h8m33 0h8m-114 0h8m-21 0h8m11 0h8m70 0h8m36 0h8m-53 0h8m-66 0h8m75 0h8m-51 0h8m47 1h8m-17 0h8m-14 0h8m-32 0h8m-48 0h8m-75 0h8m188 0h8m-180 0h8m122 0h8m-2 0h8m-127 0h8m44 0h8m55 0h8m42 0h8m-86 0h8m-48 0h8m-16 0h8m38 0h8m-35 0h8m-32 0h8m39 0h8m13 0h8m-90 0h8m59 1h8m-32 0h8m36 0h8m-159 0h8m112 0h8m26 0h8m-54 0h8m-24 0h8m-13 0h8m-43 0h8m38 0h8m30 0h8m-12 0h8m-49 0h8m54 0h8m-18 0h8m-84 0h8m51 0h8m-11 1h8m24 0h8m-8 0h8m-28 0h8m-58 0h8m15 0h8m45 0h8m-21 0h8m-79 0h8m52 0h8m-108 0h8m72 0h8m12 0h8m39 0h8m-99 0h8m36 0h8m-57 0h8m10 0h8m5 0h8m-111 0h8m188 0h8m-131 0h8m10 0h8m-18 1h8m43 0h8m-42 0h8m-87 0h8m-8 0h8m57 0h8m9 0h8m-106 0h8m-2 0h8m111 0h8m-179 0h8m198 0h8m-113 0h8m-73 0h8m52 0h8m58 1h8m33 0h8m-89 0h8m90 0h8m-93 0h8m-1 0h8m-58 0h8m-3 0h8m144 0h8m-119 0h8m-43 0h8m6 0h8m58 0h8m25 0h8m-81 0h8m19 0h8m-76 0h8m16 0h8m21 1h8m-76 0h8m29 0h8m21 0h8m4 0h8m-14 0h8m-53 0h8m30 0h8m-32 0h8m-97 0h8m120 0h8m-8 0h8m-13 0h8m-7 0h8m-62 0h8m-47 0h8m-3 0h8m44 0h8m54 0h8m-75 0h8m50 1h8m-48 0h8m-36 0h8m1 0h8m31 0h8m-12 0h8m-48 0h8m37 0h8m-22 0h8m-77 0h8m50 0h8m37 0h8m-4 0h8m-66 0h8m-18 0h8m-121 0h8m152 0h8m-56 0h8m-62 0h8m25 0h8m51 1h8m10 0h8m-80 0h8m51 0h8m39 0h8m-20 0h8m6 0h8m-44 0h8m-28 0h8m-80 0h8m32 0h8m20 0h8m26 0h8m-9 0h8m-128 0h8m84 0h8m-19 0h8m-52 0h8m-60 0h8m30 0h8m75 0h8m-89 1h8m-64 0h8m114 0h8m-23 0h8m-14 0h8m-24 0h8m-42 0h8m10 0h8m-48 0h8m7 0h8m9 0h8m8 0h8m-51 0h8m161 0h8m-20 0h8m-154 0h8m48 0h8m-32 0h8m-24 0h8m53 0h8m32 0h8m-50 0h8m1 0h8m-24 1h8m-62 0h8m18 0h8m-15 0h8m-16 0h8m-6 0h8m71 0h8m-18 0h8m-35 0h8m20 0h8m-40 0h8m-28 0h8m19 0h8m54 0h8m-194 0h8m66 0h8m63 0h8m4 0h8m-95 0h8m86 1h8m-90 0h8m21 0h8m-85 0h8m34 0h8m67 0h8m-10 0h8m8 0h8m-74 0h8m-87 0h8m-4 0h8m106 0h8m-26 0h8m-47 0h8m22 0h8m-109 0h8m80 0h8m9 0h8m27 0h8m-16 0h8m-49 0h8m-73 0h8m54 0h8m18 0h8m31 0h8m-86 0h8m-23 1h8m33 0h8m-22 0h8m76 0h8m-72 0h8m-39 0h8m14 0h8m-74 0h8m-17 0h8m48 0h8m-140 0h8m195 0h8m-57 0h8m-123 0h8m154 0h8m5 0h8m-80 0h8m-45 0h8m39 0h8m-68 0h8m96 0h8m-5 0h8m-69 1h8m-1 0h8m35 0h8m-7 0h8m-48 0h8m-42 0h8m-17 0h8m33 0h8m-39 0h8m-76 0h8m42 0h8m-2 0h8m-13 0h8m-36 0h8m-20 0h8m42 0h8m-32 0h8m-8 0h8m175 0h8m-170 0h8m-68 0h8m109 0h8m12 0h8m-77 0h8m22 0h8m9 0h8m54 1h8m-76 0h8m39 0h8m-136 0h8m54 0h8m96 0h8m-108 0h8m73 0h8m-75 0h8m-73 0h8m80 0h8m-73 0h8m7 0h8m50 0h8m-17 0h8m-41 1h8m88 0h8m-39 0h8m-73 0h8m-72 0h8m43 0h8m-12 0h8m32 0h8m40 0h8m18 0h8m-113 0h8m-19 0h8m-54 0h8m17 0h8m74 0h8m-84 0h8m9 0h8m65 0h8m-196 1h8m15 0h8m222 0h8m-134 0h8m-29 0h8m128 0h8m-129 0h8m18 0h8m-104 0h8m-54 0h8m146 0h8m-9 0h8m-57 0h8m37 0h8m18 0h8m-35 0h8m-47 0h8m-47 0h8m42 0h8m60 0h8m-92 0h8m26 1h8m23 0h8m77 0h8m-85 0h8m-70 0h8m-36 0h8m49 0h8m-17 0h8m76 0h8m35 0h8m-202 0h8m74 0h8m-65 0h8m-33 0h8m44 0h8m-7 0h8m44 0h8m-71 0h8m-69 0h8m39 0h8m-34 0h8m120 0h8m-47 0h8m-18 0h8m-38 0h8m-4 0h8m67 0h8m-164 1h8m-5 0h8m64 0h8m104 0h8m-134 0h8m-77 0h8m135 0h8m-4 0h8m-71 0h8m100 0h8m-68 0h8m-48 0h8m19 0h8m-116 0h8m66 0h8m-173 0h8m134 0h8m105 1h8m-101 0h8m69 0h8m-103 0h8m-53 0h8m30 0h8m52 0h8m-39 0h8m-13 0h8m32 0h8m-75 0h8m18 0h8m31 0h8m17 0h8m-56 0h8m30 0h8m-118 0h8m90 0h8m-46 0h8m20 0h8m24 0h8m-104 0h8m-9 0h8m75 1h8m38 0h8m-108 0h8m-118 0h8m103 0h8m-43 0h8m-25 0h8m106 0h8m-126 0h8m124 0h8m-112 0h8m-30 0h8m136 0h8m14 0h8m-108 0h8m-23 0h8m-46 0h8m124 1h8m-94 0h8m25 0h8m34 0h8m-153 0h8m-21 0h8m51 0h8m-5 0h8m80 0h8m6 0h8m-41 0h8m-111 0h8m85 0h8m-39 0h8m90 0h8m-36 1h8m-83 0h8m-10 0h8m-69 0h8m25 0h8m6 0h8m9 0h8m11 0h8m-43 0h8m57 0h8m-47 0h8m-38 0h8m33 0h8m-74 0h8m35 0h8m-16 0h8m100 0h8m-144 1h8m144 0h8m-21 0h8m-116 0h8m-148 0h8m51 0h8m136 0h8m-46 0h8m15 0h8m44 0h8m-148 0h8m61 0h8m-41 0h8m3 0h8m-51 0h8m-23 0h8m119 0h8m-135 0h8m42 1h8m0 0h8m15 0h8m-102 0h8m7 0h8m20 0h8m-11 0h8m95 0h8m-84 0h8m72 0h8m-93 0h8m70 0h8m-89 0h8m-46 0h8m28 0h8m-1 0h8m99 0h8m-108 0h8m-33 0h8m97 0h8m-72 1h8m-54 0h8m-22 0h8m9 0h8m-56 0h8m66 0h8m47 0h8m-63 0h8m-62 0h8m-11 0h8m-14 0h8m83 0h8m-22 0h8m-59 0h8m73 0h8m-21 0h8m-14 0h8m-13 0h8m-1 0h8m-16 0h8m-69 1h8m74 0h8m-67 0h8m16 0h8m19 0h8m-27 0h8m-9 0h8m-2 0h8m45 0h8m-67 0h8m-33 0h8m9 0h8m38 0h8m5 0h8m-78 0h8m-19 0h8m3 0h8m21 0h8m-7 0h8m-49 0h8m-35 1h8m5 0h8m18 0h8m-9 0h8m-59 0h8m15 0h8m89 0h8m8 0h8m-45 0h8m36 0h8m-58 0h8m-128 0h8m82 0h8m27 0h8m-18 0h8m-39 1h8m25 0h8m-2 0h8m-125 0h8m73 0h8m63 0h8m-63 0h8m66 0h8m-51 0h8m-71 0h8m58 0h8m-22 0h8m-65 0h8m52 0h8m-36 0h8m2 0h8m-77 0h8m-24 1h8m50 0h8m-41 0h8m77 0h8m-121 0h8m62 0h8m-105 0h8m55 0h8m38 0h8m-56 0h8m79 0h8m-95 0h8m-12 0h8m1 0h8m57 0h8m-124 0h8m-2 0h8m74 0h8m-6 0h8m-26 1h8m-7 0h8m35 0h8m21 0h8m-115 0h8m-16 0h8m68 0h8m19 0h8m-127 0h8m100 0h8m-77 0h8m54 0h8m-9 0h8m-20 1h8m-1 0h8m8 0h8m-48 0h8m-88 0h8m121 0h8m-53 0h8m-6 0h8m-48 0h8m-9 0h8m9 0h8m49 0h8m-36 0h8m-9 0h8m23 0h8m-59 0h8m6 0h8m10 0h8m-34 0h8m-70 0h8m23 1h8m148 0h8m-113 0h8m-9 0h8m21 0h8m-31 0h8m-87 0h8m52 0h8m-111 0h8m125 0h8m-76 0h8m127 0h8m-84 0h8m33 0h8m-24 0h8m-154 0h8m178 0h8m-30 0h8m-31 0h8m-141 1h8m149 0h8m-52 0h8m-22 0h8m29 0h8m8 0h8m-80 0h8m-71 0h8m40 0h8m63 0h8m-73 0h8m-64 0h8m117 0h8m-53 0h8m-42 0h8m60 0h8m-21 0h8m-13 0h8m32 0h8m-124 1h8m28 0h8m-32 0h8m3 0h8m86 0h8m-146 0h8m68 0h8m-56 0h8m89 0h8m6 0h8m-20 0h8m-109 0h8m150 0h8m-121 0h8m48 0h8m-118 0h8m35 0h8m-77 0h8m141 1h8m-31 0h8m-85 0h8m27 0h8m-105 0h8m86 0h8m41 0h8m-167 0h8m145 0h8m12 0h8m-30 0h8m-120 0h8m73 0h8m-67 0h8m-4 0h8m-13 0h8m102 0h8m-102 0h8m10 1h8m17 0h8m19 0h8m-92 0h8m39 0h8m-46 0h8m112 0h8m-238 0h8m202 0h8m-90 0h8m1 0h8m-40 1h8m97 0h8m-130 0h8m-1 0h8m-57 0h8m91 0h8m-57 0h8m34 0h8m-44 0h8m2 0h8m28 0h8m60 0h8m-43 0h8m-12 0h8m-127 0h8m145 0h8m-63 0h8m-42 0h8m-9 0h8m-56 1h8m102 0h8m-232 0h8m119 0h8m172 0h8m-202 0h8m6 0h8m-18 0h8m-27 0h8m161 0h8m-84 0h8m1 0h8m-37 0h8m-4 0h8m31 0h8m-10 0h8m-40 0h8m36 0h8m-70 0h8m25 1h8m-54 0h8m80 0h8m-23 0h8m-66 0h8m-7 0h8m-37 0h8m-56 0h8m31 0h8m112 0h8m32 0h8m-20 0h8m-118 0h8m90 0h8m-97 0h8m-57 0h8m61 1h8m-25 0h8m63 0h8m-183 0h8m-47 0h8m128 0h8m-8 0h8m68 0h8m-126 0h8m56 0h8m-71 0h8m68 0h8m9 0h8m-160 1h8m81 0h8m46 0h8m9 0h8m-80 0h8m92 0h8m-138 0h8m44 0h8m-38 0h8m13 0h8m25 0h8m-26 0h8m-30 0h8m7 0h8m-21 0h8m16 0h8m-90 0h8m-26 1h8m132 0h8m-143 0h8m72 0h8m4 0h8m-59 0h8m73 0h8m-2 0h8m55 0h8m-80 0h8m-31 0h8m6 0h8m-77 0h8m49 0h8m-75 0h8m111 0h8m-110 1h8m97 0h8m-70 0h8m-26 0h8m71 0h8m-10 0h8m-60 0h8m-149 0h8m196 0h8m-79 0h8m1 0h8m35 1h8m-103 0h8m-40 0h8m72 0h8m34 0h8m-74 0h8m36 0h8m-41 0h8m-95 0h8m-17 0h8m99 0h8m78 0h8m-40 0h8m-54 0h8m97 0h8m-135 1h8m82 0h8m-151 0h8m-34 0h8m-25 0h8m82 0h8m-38 0h8m105 0h8m-136 0h8m108 1h8m-93 0h8m-30 0h8m28 0h8m61 0h8m-22 0h8m-29 0h8m8 0h8m-21 0h8m33 0h8m-54 0h8m6 0h8m-54 0h8m-15 0h8m2 0h8m49 1h8m-94 0h8m-80 0h8m156 0h8m-67 0h8m127 0h8m-165 0h8m7 0h8m-29 0h8m80 0h8m-136 0h8m96 0h8m-20 0h8m-77 0h8m52 0h8m-49 1h8m2 0h8m38 0h8m18 0h8m-44 1h8m-106 0h8m33 0h8m-29 0h8m-98 0h8m77 0h8m92 0h8m-27 0h8m49 0h8m-96 1h8m-25 0h8m-29 0h8m147 0h8m-218 0h8m33 0h8m50 0h8m-111 0h8m162 0h8m-35 0h8m95 0h8m-159 1h8m-47 0h8m105 0h8m1 0h8m-53 0h8m-20 0h8m33 0h8m-21 0h8m-36 0h8m-95 1h8m133 0h8m-56 0h8m-39 0h8m-21 0h8m63 0h8m24 0h8m-119 0h8m-1 0h8m-1 0h8m94 0h8m-78 0h8m11 0h8m-83 0h8m-21 0h8m-31 0h8m34 0h8m33 0h8m5 0h8m-33 0h8m-98 1h8m32 0h8m146 0h8m-34 0h8m-70 0h8m-3 0h8m2 0h8m2 1h8m-19 0h8m-36 0h8m106 0h8m-1 0h8m-52 0h8m16 0h8m-70 0h8m-39 0h8m62 0h8m-24 0h8m-109 0h8m76 0h8m-7 0h8m-40 1h8m14 0h8m-57 0h8m55 0h8m-23 0h8m-123 0h8m123 0h8m-178 0h8m235 0h8m-236 1h8m101 0h8m65 0h8m-13 0h8m-137 0h8m60 0h8m-35 0h8m83 0h8m-89 0h8m-6 1h8m26 0h8m1 0h8m37 0h8m-50 0h8m14 0h8m10 0h8m-115 0h8m78 0h8m-99 1h8m23 0h8m7 0h8m-85 0h8m7 0h8m55 0h8m96 0h8m-182 0h8m12 1h8m28 0h8m-35 0h8m-29 0h8m25 0h8m22 0h8m4 1h8m-86 0h8m-53 0h8m21 0h8m79 0h8m-6 0h8m11 0h8m-72 0h8m37 0h8m-22 0h8m3 1h8m-50 0h8m2 0h8m51 0h8m-21 1h8m23 0h8m-8 0h8m-96 0h8m-29 0h8m15 0h8m3 0h8m-53 0h8m86 0h8m4 0h8m-111 0h8m12 0h8m129 1h8m-141 0h8m40 0h8m-86 0h8m36 0h8m37 1h8m-37 0h8m77 0h8m-93 0h8m44 0h8m-36 0h8m-9 0h8m-133 0h8m112 0h8m48 0h8m22 1h8m-152 0h8m22 0h8m-10 0h8m-19 0h8m18 0h8m130 0h8m-100 0h8m-52 0h8m52 1h8m-114 0h8m59 0h8m-5 0h8m-12 0h8m70 0h8m-29 0h8m-87 0h8m31 0h8m76 1h8m-123 0h8m-30 0h8m93 0h8m-45 1h8m-99 0h8m4 0h8m3 0h8m-49 0h8m46 0h8m-16 0h8m-29 0h8m76 0h8m-144 0h8m22 1h8m-35 0h8m127 0h8m-121 0h8m110 0h8m-64 0h8m-33 0h8m104 0h8m-66 0h8m-34 1h8m15 0h8m45 0h8m-87 0h8m7 0h8m-44 0h8m30 0h8m26 0h8m-134 1h8m-9 0h8m69 0h8m-85 0h8m55 0h8m144 0h8m-89 0h8m-150 1h8m162 0h8m-211 0h8m91 0h8m68 0h8m-126 0h8m143 0h8m-109 0h8m-71 0h8m42 1h8m-43 0h8m116 0h8m-134 0h8m24 1h8m-33 0h8m-7 0h8m-26 0h8m127 0h8m-70 1h8m-40 0h8m-49 0h8m18 0h8m-68 0h8m38 0h8m15 0h8m25 1h8m35 0h8m-151 0h8m119 1h8m38 0h8m-59 0h8m-22 0h8m-87 1h8m52 1h8m-79 0h8m113 0h8m2 0h8m9 0h8m-68 1h8m-141 0h8m76 0h8m-32 0h8m96 0h8m-63 0h8m43 0h8m-25 0h8m56 1h8m-100 0h8m9 0h8m20 1h8m-88 0h8m36 0h8m-46 0h8m22 0h8m28 0h8m-34 1h8m31 0h8m-31 0h8m-35 0h8m-11 0h8m77 0h8m-59 1h8m-89 0h8m37 0h8m-74 1h8m20 0h8m122 0h8m-100 0h8m74 1h8m-120 0h8m-71 1h8m59 1h8m-12 0h8m12 1h8m33 1h8m-80 1h8m63 0h8m-26 1h8m-83 0h8m39 0h8m-113 0h8m116 1h8m18 0h8m-61 0h8m-1 1h8m-41 0h8m67 0h8m-117 0h8m22 1h8m83 0h8m-66 1h8m-42 0h8m7 0h8m118 1h8m-29 1h8m-102 1h8m-35 1h8m-7 0h8m108 1h8m-37 1h8m-61 0h8m14 1h8m-81 1h8m84 1h8m-83 1h8m84 0h8m-23 2h8m95 1h8m-57 1h8m46 3h8m-140 2h8m99 2h8m-113 4h8m-5 8h8m-75 1h8" stroke="#7a1488" stroke-width="8" fill="none" opacity="0.9"/>
</g>
<ellipse cx="200.5" cy="183.8" rx="8.5" ry="4.6" fill="#700c84" filter="url(#b1)" transform="rotate(-10 200.5 183.8)"/>
<text x="149.20" y="214.10" font-size="3.5" text-anchor="middle" fill="#333">10<tspan font-size="0.7em" dy="-0.5em">0</tspan><tspan dy="0.350em">&#8203;</tspan></text>
<line x1="150.00" y1="207.50" x2="150.00" y2="208.70" stroke="#333" stroke-width="0.5"/>
<text x="148.40" y="209.10" font-size="3.5" text-anchor="end" fill="#333">10<tspan font-size="0.7em" dy="-0.5em">0</tspan><tspan dy="0.350em">&#8203;</tspan></text>
<line x1="148.80" y1="207.50" x2="150.00" y2="207.50" stroke="#333" stroke-width="0.5"/>
<text x="171.70" y="214.10" font-size="3.5" text-anchor="middle" fill="#333">10<tspan font-size="0.7em" dy="-0.5em">1</tspan><tspan dy="0.350em">&#8203;</tspan></text>
<line x1="172.50" y1="207.50" x2="172.50" y2="208.70" stroke="#333" stroke-width="0.5"/>
<text x="148.40" y="192.10" font-size="3.5" text-anchor="end" fill="#333">10<tspan font-size="0.7em" dy="-0.5em">1</tspan><tspan dy="0.350em">&#8203;</tspan></text>
<line x1="148.80" y1="190.50" x2="150.00" y2="190.50" stroke="#333" stroke-width="0.5"/>
<text x="194.20" y="214.10" font-size="3.5" text-anchor="middle" fill="#333">10<tspan font-size="0.7em" dy="-0.5em">2</tspan><tspan dy="0.350em">&#8203;</tspan></text>
<line x1="195.00" y1="207.50" x2="195.00" y2="208.70" stroke="#333" stroke-width="0.5"/>
<text x="148.40" y="175.10" font-size="3.5" text-anchor="end" fill="#333">10<tspan font-size="0.7em" dy="-0.5em">2</tspan><tspan dy="0.350em">&#8203;</tspan></text>
<line x1="148.80" y1="173.50" x2="150.00" y2="173.50" stroke="#333" stroke-width="0.5"/>
<text x="216.70" y="214.10" font-size="3.5" text-anchor="middle" fill="#333">10<tspan font-size="0.7em" dy="-0.5em">3</tspan><tspan dy="0.350em">&#8203;</tspan></text>
<line x1="217.50" y1="207.50" x2="217.50" y2="208.70" stroke="#333" stroke-width="0.5"/>
<text x="148.40" y="158.10" font-size="3.5" text-anchor="end" fill="#333">10<tspan font-size="0.7em" dy="-0.5em">3</tspan><tspan dy="0.350em">&#8203;</tspan></text>
<line x1="148.80" y1="156.50" x2="150.00" y2="156.50" stroke="#333" stroke-width="0.5"/>
<text x="239.20" y="214.10" font-size="3.5" text-anchor="middle" fill="#333">10<tspan font-size="0.7em" dy="-0.5em">4</tspan><tspan dy="0.350em">&#8203;</tspan></text>
<line x1="240.00" y1="207.50" x2="240.00" y2="208.70" stroke="#333" stroke-width="0.5"/>
<text x="148.40" y="141.10" font-size="3.5" text-anchor="end" fill="#333">10<tspan font-size="0.7em" dy="-0.5em">4</tspan><tspan dy="0.350em">&#8203;</tspan></text>
<line x1="148.80" y1="139.50" x2="150.00" y2="139.50" stroke="#333" stroke-width="0.5"/>
<text x="195.00" y="217.50" font-size="3.3" font-weight="bold" text-anchor="middle" fill="#222">FL4-H</text>
<rect x="240.00" y="139.50" width="91.00" height="68.00" fill="#fff" stroke="none" stroke-width="0"/>
<line x1="331.00" y1="139.50" x2="331.00" y2="207.50" stroke="#aaa" stroke-width="0.7"/>
<line x1="271.00" y1="139.50" x2="271.00" y2="207.50" stroke="#555" stroke-width="0.75"/>
<line x1="240.00" y1="171.00" x2="331.00" y2="171.00" stroke="#555" stroke-width="0.75"/>
<line x1="240.00" y1="139.20" x2="240.00" y2="207.80" stroke="#222" stroke-width="0.9"/>
<line x1="239.70" y1="207.50" x2="331.30" y2="207.50" stroke="#222" stroke-width="1.0"/>
<text x="241.30" y="143.80" font-size="4.1" fill="#222" letter-spacing="0.45" stroke="#222" stroke-width="0.1">00%</text>
<text x="327.00" y="143.80" font-size="4.1" text-anchor="end" fill="#222" letter-spacing="0.45" stroke="#222" stroke-width="0.1">2.17%</text>
<text x="241.30" y="204.90" font-size="4.1" fill="#222" letter-spacing="0.45" stroke="#222" stroke-width="0.1">00%</text>
<text x="327.00" y="204.90" font-size="4.1" text-anchor="end" fill="#222" letter-spacing="0.45" stroke="#222" stroke-width="0.1">97.83%</text>
<g filter="url(#b1)">
<path transform="scale(.1)" d="m2911 1407h8m6 12h8m156 22h8m-183 20h8m-58 5h8m45 9h8m-142 1h8m83 7h8m-58 1h8m26 6h8m46 7h8m-122 1h8m25 2h8m-83 8h8m173 0h8m-111 1h8m133 0h8m-146 1h8m-5 3h8m80 0h8m-106 1h8m59 5h8m23 4h8m-39 3h8m17 1h8m-92 0h8m31 0h8m-70 1h8m28 0h8m64 1h8m49 4h8m-164 0h8m-16 3h8m65 0h8m-64 2h8m92 4h8m6 0h8m-195 2h8m21 1h8m118 2h8m-139 1h8m9 1h8m188 0h8m-265 1h8m173 0h8m-132 4h8m133 1h8m-58 2h8m27 1h8m51 4h8m-85 1h8m-47 2h8m-59 1h8m-7 2h8m198 0h8m-108 0h8m-83 1h8m-39 3h8m-30 1h8m75 0h8m-14 0h8m66 5h8m-148 3h8m26 0h8m129 0h8m-86 1h8m9 1h8m-167 0h8m159 1h8m-98 2h8m-33 0h8m18 0h8m-54 1h8m80 0h8m-42 1h8m-4 1h8m127 1h8m64 1h8m-302 1h8m94 0h8m-88 4h8m95 0h8m-115 1h8m38 1h8m70 1h8m30 0h8m-17 1h8m-107 0h8m169 1h8m-97 0h8m54 2h8m-229 0h8m168 1h8m-88 1h8m45 0h8m11 3h8m-195 4h8m106 1h8m133 2h8m-201 3h8m95 0h8m23 1h8m-112 0h8m130 3h8m-4 0h8m-203 1h8m174 1h8m-47 2h8m6 2h8m-121 1h8m166 1h8m-43 9h8m-55 1h8m-52 1h8m61 2h8m-57 1h8m-6 3h8m85 2h8m13 0h8m67 2h8m-205 0h8m-122 1h8m35 1h8m-6 0h8m-22 3h8m111 3h8m-129 1h8m165 2h8m-124 4h8m-141 1h8m205 1h8m-35 7h8m-45 4h8m-86 4h8m139 1h8m-15 0h8m-120 7h8m71 2h8m-66 1h8m-64 1h8m130 1h8m-85 0h8m-46 1h8m-55 0h8m63 8h8m-95 0h8m25 2h8m67 21h8m17 11h8m18 3h8m-74 3h8m-14 1h8m20 21h8m-87 0h8m-23 9h8m58 8h8" stroke="#a040a8" stroke-width="8" fill="none" opacity="0.6"/>
<path transform="scale(.1)" d="m2940 1655h8m-37 43h8m-168 2h8m284 3h8m-78 6h8m-138 1h8m69 4h8m76 0h8m-3 1h8m-97 2h8m67 2h8m-47 5h8m-28 2h8m-84 0h8m221 2h8m-76 2h8m-24 1h8m-133 0h8m47 1h8m4 1h8m-104 0h8m76 3h8m128 1h8m33 3h8m-309 1h8m47 2h8m168 0h8m-224 0h8m188 1h8m-123 2h8m9 0h8m-142 4h8m83 1h8m84 1h8m-158 0h8m94 3h8m-84 0h8m96 2h8m-28 0h8m52 1h8m-62 1h8m-11 1h8m6 1h8m-75 2h8m-58 0h8m135 1h8m-93 0h8m240 0h8m-120 1h8m-176 0h8m142 0h8m-78 1h8m18 0h8m-60 1h8m-17 0h8m44 1h8m51 0h8m-67 0h8m-145 1h8m73 0h8m-56 1h8m107 1h8m-20 0h8m-155 2h8m125 0h8m-4 1h8m-18 1h8m-25 0h8m152 1h8m2 0h8m-147 1h8m-11 0h8m43 0h8m-50 1h8m-53 2h8m92 0h8m-38 0h8m-61 0h8m28 0h8m-29 0h8m-14 1h8m-51 0h8m-30 2h8m42 0h8m-70 0h8m88 1h8m28 0h8m-96 1h8m8 0h8m81 0h8m-35 1h8m-7 0h8m-127 0h8m29 0h8m89 1h8m-188 0h8m79 1h8m28 0h8m-169 0h8m210 0h8m-49 1h8m53 1h8m-188 0h8m92 0h8m-74 1h8m24 0h8m-63 0h8m61 0h8m-44 2h8m165 1h8m-82 0h8m-101 0h8m-101 0h8m228 1h8m42 0h8m-209 0h8m-47 1h8m159 0h8m-90 1h8m-108 0h8m160 0h8m-178 0h8m138 1h8m124 0h8m-167 0h8m18 0h8m-109 0h8m61 0h8m-29 0h8m-50 1h8m82 0h8m37 2h8m-105 0h8m-25 0h8m87 0h8m-153 0h8m-3 1h8m54 1h8m-38 0h8m84 1h8m39 1h8m-171 0h8m136 0h8m-45 0h8m-102 0h8m75 0h8m-184 0h8m219 1h8m-236 1h8m223 0h8m-134 1h8m99 0h8m-66 1h8m-71 0h8m155 0h8m-119 0h8m-1 0h8m-76 0h8m-7 1h8m146 0h8m-90 0h8m1 1h8m-98 0h8m-45 0h8m119 1h8m-49 0h8m20 0h8m-61 0h8m-18 1h8m7 0h8m99 0h8m-125 0h8m25 0h8m37 0h8m-94 0h8m14 1h8m-43 1h8m35 0h8m11 0h8m-101 1h8m153 0h8m-11 0h8m-114 0h8m20 0h8m41 0h8m17 2h8m-163 0h8m68 0h8m-175 0h8m227 1h8m-125 1h8m181 0h8m-157 0h8m-65 0h8m81 1h8m-135 0h8m225 0h8m-188 0h8m9 0h8m207 0h8m-194 1h8m129 0h8m19 0h8m7 0h8m-239 0h8m19 1h8m-107 0h8m92 0h8m69 1h8m-46 0h8m-32 1h8m-143 0h8m98 1h8m132 0h8m-116 2h8m112 0h8m-96 1h8m57 0h8m-102 0h8m87 0h8m142 1h8m-192 0h8m-94 0h8m61 0h8m5 0h8m-125 0h8m121 0h8m-27 1h8m-123 0h8m125 0h8m37 1h8m-161 0h8m87 0h8m-59 0h8m-17 0h8m126 1h8m-200 0h8m144 1h8m-37 0h8m-118 0h8m55 1h8m-8 0h8m76 0h8m-52 1h8m-61 0h8m113 0h8m-86 1h8m-94 0h8m32 0h8m87 0h8m-185 0h8m137 1h8m35 0h8m128 0h8m-356 1h8m147 1h8m-21 0h8m7 0h8m20 0h8m-23 0h8m-14 0h8m-134 0h8m222 0h8m-214 1h8m-19 1h8m70 0h8m33 0h8m-199 1h8m214 0h8m-120 0h8m-95 0h8m69 1h8m12 0h8m-122 0h8m15 0h8m23 1h8m311 0h8m-66 0h8m-318 0h8m36 0h8m108 1h8m-10 0h8m-38 1h8m75 0h8m-113 0h8m26 0h8m-6 0h8m44 1h8m-99 0h8m97 0h8m-81 0h8m-22 0h8m38 0h8m-66 1h8m14 0h8m-110 0h8m87 1h8m38 0h8m-127 0h8m-36 1h8m99 0h8m14 0h8m32 0h8m-126 0h8m26 1h8m4 0h8m-125 0h8m-11 0h8m105 0h8m-27 1h8m69 0h8m-134 1h8m114 0h8m2 0h8m-2 1h8m26 1h8m-94 1h8m-19 0h8m-27 0h8m-117 0h8m0 0h8m37 1h8m-9 0h8m55 1h8m71 0h8m-27 1h8m-13 1h8m24 0h8m-113 1h8m-52 0h8m104 0h8m-67 1h8m64 0h8m-11 1h8m-111 0h8m207 0h8m-56 0h8m-154 0h8m-28 1h8m60 0h8m-75 0h8m152 0h8m-146 0h8m151 0h8m38 0h8m-152 0h8m-139 0h8m116 2h8m-44 0h8m14 0h8m-127 0h8m87 0h8m-107 1h8m118 0h8m-77 1h8m-30 0h8m-17 0h8m-50 0h8m164 1h8m-16 0h8m-64 1h8m-39 1h8m90 0h8m-38 1h8m94 0h8m-1 0h8m-125 0h8m43 0h8m-33 0h8m-142 0h8m202 1h8m-118 0h8m71 0h8m-99 1h8m-10 0h8m-66 0h8m54 0h8m-1 0h8m84 1h8m-76 0h8m-8 0h8m-28 0h8m-20 1h8m22 0h8m63 0h8m-41 2h8m20 0h8m-163 0h8m-78 1h8m193 0h8m66 0h8m-123 0h8m-126 1h8m45 0h8m104 1h8m-80 0h8m10 0h8m-17 1h8m32 0h8m118 0h8m-111 0h8m-10 0h8m-128 0h8m-34 1h8m-12 0h8m203 0h8m-100 0h8m38 0h8m-72 0h8m-44 0h8m15 0h8m11 0h8m-75 1h8m-1 0h8m68 0h8m-14 0h8m100 0h8m-38 1h8m-64 0h8m-35 1h8m87 0h8m-155 0h8m41 1h8m34 0h8m-72 0h8m19 1h8m65 0h8m-160 0h8m123 0h8m-114 1h8m124 1h8m-103 0h8m-93 0h8m156 0h8m-118 1h8m86 0h8m-55 1h8m35 0h8m-92 0h8m-142 0h8m250 0h8m-45 1h8m-176 0h8m273 0h8m-294 1h8m12 0h8m241 0h8m-135 0h8m90 0h8m-104 0h8m40 1h8m-41 0h8m-70 1h8m82 0h8m-178 0h8m25 0h8m36 0h8m91 1h8m-132 0h8m58 1h8m31 0h8m-57 0h8m59 0h8m8 0h8m-179 1h8m102 0h8m-73 0h8m6 0h8m-118 0h8m222 1h8m-18 0h8m-143 0h8m-12 0h8m101 1h8m-124 0h8m137 0h8m-62 0h8m-9 1h8m-60 0h8m-61 0h8m52 1h8m-19 0h8m-80 0h8m-18 1h8m54 0h8m11 0h8m10 0h8m-12 1h8m-28 1h8m73 0h8m-168 2h8m101 1h8m-186 2h8m14 1h8m24 0h8m131 1h8m-92 1h8m81 0h8m44 0h8m-94 2h8m-140 0h8m-22 1h8m89 0h8m124 0h8m-200 1h8m100 0h8m-57 2h8m49 0h8m113 1h8m-181 0h8m50 0h8m9 1h8m-159 0h8m92 1h8m147 0h8m-230 1h8m121 2h8m-36 0h8m-15 1h8m-58 0h8m41 0h8m-56 1h8m-48 0h8m60 0h8m-5 0h8m-55 0h8m-28 1h8m-10 1h8m-24 1h8m201 0h8m-49 2h8m21 0h8m12 1h8m-225 0h8m96 0h8m-104 0h8m31 1h8m3 0h8m31 0h8m139 2h8m-181 0h8m-104 3h8m40 0h8m-84 1h8m181 0h8m184 1h8m-117 0h8m-158 0h8m-11 1h8m51 0h8m-195 1h8m66 1h8m-30 0h8m91 0h8m56 1h8m-143 1h8m179 2h8m-188 0h8m273 1h8m-214 1h8m-34 1h8m-17 1h8m44 1h8m-13 2h8m-66 0h8m161 0h8m-128 2h8m-1 0h8m-35 2h8m-56 1h8m50 0h8m-8 2h8m56 0h8m-107 1h8m-13 1h8m46 1h8m3 1h8m-16 1h8m-59 6h8m-64 1h8m-3 1h8m211 1h8m-121 0h8m-79 3h8m30 5h8m20 2h8m64 14h8m-43 0h8m-210 7h8m51 8h8m50 1h8m-67 2h8m74 13h8m-92 8h8m73 0h8" stroke="#903098" stroke-width="8" fill="none" opacity="0.75"/>
<path transform="scale(.1)" d="m3001 1707h8m61 6h8m-71 0h8m-51 4h8m-38 2h8m89 2h8m-206 4h8m65 2h8m76 0h8m-50 2h8m83 0h8m-169 6h8m128 0h8m-7 1h8m-136 0h8m-21 1h8m80 2h8m-11 1h8m-36 1h8m103 2h8m-87 1h8m-92 0h8m120 0h8m-119 1h8m44 1h8m-130 1h8m67 0h8m65 0h8m-114 1h8m-18 0h8m73 1h8m36 0h8m-23 0h8m14 1h8m16 0h8m-67 1h8m23 0h8m29 0h8m-36 0h8m-147 1h8m53 0h8m-39 1h8m68 1h8m52 0h8m-61 0h8m-82 0h8m-7 0h8m66 1h8m58 0h8m-19 1h8m-89 0h8m1 1h8m-68 0h8m81 0h8m-162 0h8m112 0h8m47 1h8m-103 1h8m-60 0h8m108 0h8m-34 0h8m-66 1h8m2 0h8m0 1h8m74 0h8m-36 0h8m-100 0h8m8 1h8m12 0h8m-3 0h8m65 0h8m-13 1h8m-50 0h8m-10 0h8m3 0h8m41 1h8m-89 1h8m-22 0h8m-2 0h8m62 0h8m-68 0h8m-67 1h8m39 0h8m-25 0h8m134 0h8m-247 1h8m164 0h8m-55 0h8m22 0h8m-5 1h8m-54 0h8m41 0h8m-86 0h8m52 1h8m196 0h8m-243 1h8m-33 1h8m84 0h8m-9 0h8m95 0h8m-169 0h8m67 1h8m-63 0h8m3 1h8m63 0h8m-112 0h8m-72 1h8m38 0h8m2 0h8m16 0h8m70 0h8m-111 0h8m23 1h8m-120 0h8m49 0h8m-65 0h8m15 0h8m101 0h8m-100 1h8m95 0h8m-79 0h8m49 0h8m-42 0h8m-42 0h8m18 0h8m-60 0h8m119 0h8m18 0h8m-37 1h8m-54 0h8m-23 0h8m-55 0h8m140 0h8m-122 0h8m-53 0h8m45 0h8m105 1h8m-101 0h8m-44 0h8m3 0h8m72 0h8m-73 0h8m-3 0h8m-72 1h8m92 0h8m-65 0h8m42 0h8m-13 0h8m-53 0h8m54 0h8m66 0h8m-105 0h8m81 0h8m-130 1h8m95 0h8m-4 0h8m-34 1h8m-37 0h8m57 0h8m-163 0h8m75 0h8m0 0h8m-97 0h8m102 0h8m-96 0h8m4 0h8m17 1h8m-13 0h8m107 0h8m-179 0h8m212 0h8m-193 1h8m60 0h8m-42 0h8m-51 0h8m71 0h8m-94 1h8m74 0h8m-101 0h8m12 0h8m-102 0h8m91 0h8m69 0h8m12 1h8m-170 0h8m201 0h8m-98 0h8m0 0h8m30 0h8m-50 0h8m30 1h8m-72 0h8m100 0h8m-147 0h8m-61 0h8m127 0h8m67 0h8m-192 0h8m102 0h8m-73 1h8m-52 0h8m70 0h8m-22 0h8m-61 0h8m26 0h8m35 0h8m-82 0h8m-34 0h8m120 0h8m-108 0h8m56 0h8m-20 0h8m8 1h8m-40 0h8m6 0h8m81 0h8m-122 0h8m25 0h8m97 0h8m-56 1h8m-24 0h8m-74 0h8m1 0h8m63 0h8m-143 0h8m26 0h8m-42 0h8m126 0h8m-112 0h8m41 0h8m-43 1h8m8 0h8m18 0h8m81 0h8m-159 0h8m36 0h8m1 0h8m96 1h8m-194 0h8m-12 0h8m82 0h8m-66 0h8m13 0h8m-57 0h8m-2 1h8m90 0h8m-94 0h8m105 0h8m-91 0h8m-6 0h8m18 0h8m-58 0h8m7 0h8m-8 0h8m-6 0h8m112 0h8m-118 1h8m3 0h8m18 0h8m-42 0h8m87 0h8m-164 1h8m-38 0h8m76 0h8m35 0h8m-42 0h8m-4 0h8m-20 0h8m-46 0h8m131 0h8m-83 0h8m-25 0h8m-60 0h8m-36 0h8m76 1h8m50 0h8m-49 0h8m9 0h8m-161 0h8m90 0h8m73 0h8m-182 1h8m117 0h8m-76 0h8m24 0h8m96 0h8m-126 0h8m28 0h8m-52 0h8m137 0h8m-107 0h8m33 0h8m-55 0h8m0 0h8m-20 0h8m-42 0h8m37 1h8m5 0h8m-2 0h8m-101 0h8m39 0h8m-29 0h8m25 0h8m-54 0h8m89 0h8m-116 0h8m69 0h8m-38 0h8m68 0h8m-65 1h8m34 0h8m-8 0h8m-48 0h8m-128 0h8m104 0h8m67 0h8m-103 0h8m-6 0h8m133 0h8m-122 0h8m43 0h8m-123 0h8m73 0h8m-80 0h8m18 0h8m-3 0h8m43 0h8m69 0h8m-193 1h8m96 0h8m-30 0h8m-44 0h8m13 0h8m-39 0h8m77 0h8m-41 0h8m-42 0h8m3 0h8m5 1h8m-8 0h8m-58 0h8m226 0h8m-183 0h8m-63 0h8m13 0h8m76 0h8m-149 0h8m35 0h8m72 0h8m17 0h8m-45 0h8m-5 0h8m-110 1h8m72 0h8m-45 0h8m-59 0h8m84 0h8m85 0h8m-131 0h8m48 0h8m-112 0h8m14 0h8m63 1h8m-96 0h8m43 0h8m-40 0h8m-33 0h8m71 0h8m-65 0h8m73 0h8m-51 0h8m44 0h8m14 0h8m-62 0h8m-13 1h8m-38 0h8m57 0h8m-61 0h8m-12 0h8m-62 0h8m103 0h8m-77 0h8m45 0h8m-87 0h8m-31 1h8m-20 0h8m76 0h8m81 0h8m-95 0h8m-12 0h8m45 0h8m57 1h8m-223 0h8m123 0h8m-84 0h8m71 0h8m-35 0h8m-57 0h8m53 0h8m-49 0h8m8 0h8m9 0h8m32 0h8m-3 0h8m-87 0h8m31 0h8m11 0h8m11 1h8m-56 0h8m-1 0h8m36 0h8m-111 0h8m-13 0h8m91 0h8m-6 0h8m-41 0h8m-134 0h8m59 0h8m91 0h8m-45 0h8m15 0h8m-98 0h8m75 1h8m-34 0h8m-49 0h8m-28 0h8m144 0h8m-34 0h8m11 0h8m-80 0h8m-105 0h8m32 0h8m-6 0h8m86 0h8m-40 0h8m96 0h8m-83 0h8m-103 1h8m131 0h8m-178 0h8m118 0h8m-105 0h8m104 0h8m-136 0h8m111 0h8m-40 0h8m-154 0h8m115 0h8m3 0h8m7 0h8m-74 0h8m63 0h8m-161 0h8m105 0h8m6 1h8m-27 0h8m-40 0h8m11 0h8m-41 0h8m77 0h8m-101 0h8m20 0h8m-5 0h8m-66 0h8m80 0h8m11 0h8m-18 0h8m-7 0h8m-57 0h8m-142 0h8m175 0h8m-147 1h8m202 0h8m-123 0h8m41 0h8m-108 0h8m7 0h8m81 0h8m-72 0h8m76 0h8m-101 0h8m38 0h8m-131 0h8m115 0h8m-130 0h8m74 0h8m25 1h8m-39 0h8m63 0h8m7 0h8m-23 0h8m95 0h8m-26 0h8m-134 0h8m-16 0h8m28 0h8m-87 0h8m130 0h8m-99 1h8m50 0h8m1 0h8m-10 0h8m-90 0h8m-53 0h8m98 0h8m-23 0h8m17 0h8m1 0h8m-58 0h8m-113 1h8m-16 0h8m119 0h8m-120 0h8m209 0h8m-89 0h8m-106 0h8m101 0h8m-25 0h8m48 0h8m-57 0h8m-129 0h8m159 0h8m-171 0h8m78 0h8m-134 0h8m150 0h8m-16 0h8m-85 0h8m66 0h8m49 0h8m-220 1h8m116 0h8m104 0h8m-80 0h8m-61 0h8m-72 0h8m168 0h8m-144 0h8m44 0h8m-56 0h8m63 0h8m-119 0h8m77 0h8m60 0h8m-43 0h8m-105 1h8m72 0h8m27 0h8m-59 0h8m-6 0h8m-66 0h8m-24 0h8m17 0h8m84 0h8m-52 0h8m-69 0h8m15 0h8m37 0h8m-56 0h8m-50 0h8m96 0h8m-43 0h8m-75 0h8m40 0h8m72 0h8m41 0h8m-94 0h8m-49 0h8m23 0h8m33 0h8m-112 0h8m-48 1h8m37 0h8m66 0h8m-117 0h8m118 0h8m-79 0h8m14 0h8m-27 0h8m28 0h8m9 0h8m-108 0h8m33 0h8m-21 0h8m19 0h8m29 0h8m-56 0h8m42 0h8m-63 0h8m-17 0h8m-43 1h8m76 0h8m-3 0h8m-12 0h8m-52 0h8m27 0h8m12 0h8m-3 0h8m-39 0h8m44 0h8m-96 0h8m36 0h8m83 0h8m-46 0h8m12 0h8m51 0h8m-87 0h8m-30 0h8m-189 0h8m127 0h8m12 0h8m-27 1h8m67 0h8m-2 0h8m-31 0h8m-12 0h8m10 0h8m-91 0h8m-27 0h8m129 0h8m-217 0h8m182 0h8m-96 0h8m85 0h8m-149 0h8m114 0h8m-94 0h8m-103 0h8m69 0h8m86 0h8m-53 1h8m-40 0h8m25 0h8m-65 0h8m70 0h8m-45 0h8m-95 0h8m8 0h8m102 0h8m-35 0h8m9 0h8m-79 0h8m91 0h8m-127 0h8m20 1h8m9 0h8m14 0h8m-2 0h8m89 0h8m-114 0h8m-155 0h8m94 0h8m20 0h8m4 0h8m-89 0h8m169 0h8m-222 0h8m122 0h8m49 0h8m-77 1h8m103 0h8m-119 0h8m-62 0h8m-12 0h8m62 0h8m22 0h8m-51 0h8m73 0h8m-129 0h8m118 0h8m-134 0h8m-19 0h8m69 0h8m-2 0h8m-30 0h8m43 1h8m-90 0h8m91 0h8m-110 0h8m33 0h8m-49 0h8m-21 0h8m17 0h8m67 0h8m-79 0h8m8 0h8m-84 0h8m-62 0h8m85 0h8m2 0h8m87 0h8m-136 0h8m-71 0h8m101 0h8m32 0h8m2 0h8m-4 0h8m-59 0h8m52 1h8m-97 0h8m53 0h8m7 0h8m-59 0h8m9 0h8m169 0h8m-203 0h8m8 0h8m11 0h8m-41 0h8m119 0h8m-148 0h8m73 0h8m-128 0h8m6 0h8m5 0h8m-33 0h8m6 0h8m43 1h8m-38 0h8m1 0h8m43 0h8m-5 0h8m-13 0h8m115 0h8m-179 0h8m-89 0h8m141 0h8m-4 0h8m16 0h8m-150 0h8m-46 0h8m43 1h8m-37 0h8m69 0h8m-38 0h8m34 0h8m1 0h8m23 0h8m47 0h8m-86 0h8m-12 0h8m21 0h8m-147 0h8m106 0h8m-31 1h8m-73 0h8m13 0h8m100 0h8m-95 0h8m15 0h8m56 0h8m16 0h8m-125 0h8m-88 0h8m72 0h8m37 0h8m-77 0h8m40 0h8m29 0h8m-25 0h8m-99 0h8m119 0h8m-102 0h8m-51 0h8m68 0h8m62 0h8m26 0h8m-56 0h8m-76 1h8m-34 0h8m71 0h8m-34 0h8m17 0h8m-18 0h8m-34 0h8m22 0h8m-90 0h8m-64 0h8m17 0h8m34 0h8m66 0h8m-42 0h8m37 0h8m1 0h8m-123 0h8m117 0h8m-123 0h8m70 0h8m-10 0h8m24 0h8m-106 0h8m19 0h8m43 1h8m-66 0h8m41 0h8m39 0h8m-140 0h8m-12 0h8m-29 0h8m100 0h8m12 0h8m-50 0h8m16 0h8m49 0h8m6 0h8m-95 0h8m19 0h8m33 0h8m-130 0h8m52 0h8m14 0h8m-136 0h8m89 0h8m-33 0h8m-125 0h8m63 1h8m137 0h8m-211 0h8m109 0h8m6 0h8m17 0h8m-85 0h8m85 0h8m-79 0h8m14 0h8m-41 0h8m-1 0h8m-1 0h8m13 0h8m-75 0h8m64 0h8m-20 0h8m122 0h8m-211 1h8m103 0h8m-56 0h8m60 0h8m-66 0h8m-3 0h8m-19 0h8m-40 0h8m139 0h8m-85 0h8m101 0h8m-181 0h8m103 0h8m-47 0h8m26 0h8m-72 0h8m-15 0h8m54 0h8m1 0h8m-26 1h8m-33 0h8m-48 0h8m-96 0h8m58 0h8m79 0h8m35 0h8m-158 0h8m-21 0h8m-14 0h8m-26 0h8m91 0h8m49 0h8m-115 0h8m149 0h8m-269 0h8m130 0h8m8 0h8m-78 0h8m37 0h8m97 0h8m-162 0h8m93 0h8m-39 0h8m6 0h8m-149 0h8m93 1h8m82 0h8m-98 0h8m22 0h8m-5 0h8m-55 0h8m-105 0h8m169 0h8m-94 0h8m94 0h8m-58 0h8m27 0h8m-111 0h8m59 0h8m-86 0h8m-48 0h8m64 0h8m95 0h8m-54 0h8m-31 0h8m1 1h8m-32 0h8m-19 0h8m9 0h8m52 0h8m-102 0h8m88 0h8m27 0h8m-248 0h8m76 0h8m62 0h8m-21 0h8m44 0h8m-52 0h8m-45 0h8m39 0h8m-13 0h8m-19 0h8m7 0h8m-71 0h8m55 0h8m43 0h8m-129 0h8m-12 0h8m104 0h8m24 0h8m-128 0h8m65 1h8m-15 0h8m-2 0h8m-21 0h8m-34 0h8m-73 0h8m5 0h8m-69 0h8m-61 0h8m179 0h8m-125 0h8m108 0h8m48 0h8m-83 0h8m49 0h8m40 0h8m-132 0h8m14 0h8m61 0h8m-149 0h8m33 0h8m50 0h8m-109 0h8m80 0h8m-156 0h8m102 0h8m142 0h8m-201 0h8m145 0h8m-70 0h8m32 1h8m-96 0h8m42 0h8m-60 0h8m134 0h8m-128 0h8m-3 0h8m-18 0h8m138 0h8m-176 0h8m8 0h8m35 0h8m-42 0h8m20 0h8m-136 0h8m208 0h8m-138 0h8m50 0h8m-100 0h8m68 0h8m-26 0h8m0 0h8m162 0h8m-242 0h8m73 0h8m-101 1h8m44 0h8m42 0h8m-48 0h8m-29 0h8m72 0h8m-64 0h8m-3 0h8m78 0h8m-120 0h8m51 0h8m-46 0h8m-96 0h8m82 0h8m-78 0h8m80 0h8m54 0h8m-26 1h8m-78 0h8m23 0h8m-49 0h8m-94 0h8m162 0h8m-52 0h8m-12 0h8m-96 0h8m33 0h8m-144 0h8m161 0h8m96 0h8m-103 0h8m-10 0h8m-124 0h8m104 0h8m-43 0h8m-75 0h8m136 0h8m-100 0h8m111 0h8m-81 0h8m6 0h8m-45 1h8m70 0h8m-39 0h8m50 0h8m-87 0h8m24 0h8m-27 0h8m25 0h8m-135 0h8m-66 0h8m79 0h8m24 0h8m69 0h8m-8 0h8m-135 0h8m6 0h8m56 0h8m-103 0h8m133 0h8m-192 0h8m200 0h8m-112 0h8m-6 0h8m98 0h8m-192 0h8m113 0h8m-195 1h8m20 0h8m67 0h8m23 0h8m21 0h8m13 0h8m26 0h8m-131 0h8m120 0h8m20 0h8m-79 0h8m28 0h8m-24 0h8m7 0h8m-161 0h8m102 0h8m44 0h8m-103 0h8m-52 0h8m188 0h8m-136 0h8m32 1h8m-43 0h8m-51 0h8m-41 0h8m52 0h8m104 0h8m-154 0h8m105 0h8m-148 0h8m57 0h8m-9 0h8m32 0h8m-110 0h8m0 0h8m6 0h8m47 0h8m-50 0h8m98 1h8m-168 0h8m51 0h8m36 0h8m-82 0h8m-26 0h8m46 0h8m86 0h8m-32 0h8m-60 0h8m-34 0h8m-18 0h8m-45 0h8m108 0h8m-70 0h8m-46 0h8m51 0h8m34 0h8m105 0h8m-240 0h8m-43 0h8m98 0h8m-32 1h8m9 0h8m-28 0h8m-5 0h8m70 0h8m-85 0h8m16 0h8m99 0h8m-99 0h8m-8 0h8m-99 0h8m42 0h8m131 0h8m-140 0h8m-8 0h8m64 0h8m80 0h8m-112 0h8m-125 0h8m80 0h8m13 0h8m-13 0h8m120 0h8m-102 0h8m-128 0h8m2 1h8m6 0h8m92 0h8m-54 0h8m41 0h8m-112 0h8m139 0h8m-60 0h8m-42 0h8m-103 0h8m167 0h8m-50 0h8m26 0h8m1 0h8m-73 0h8m-88 0h8m15 0h8m56 0h8m1 0h8m-125 0h8m15 0h8m115 0h8m-150 0h8m176 1h8m-187 0h8m45 0h8m33 0h8m-131 0h8m24 0h8m1 0h8m20 0h8m110 0h8m-140 0h8m143 0h8m-79 0h8m-43 0h8m50 0h8m-79 0h8m-93 0h8m9 0h8m-76 0h8m102 0h8m20 0h8m64 0h8m-70 0h8m19 0h8m-37 0h8m-39 0h8m5 1h8m25 0h8m-46 0h8m26 0h8m-8 0h8m-78 0h8m-4 0h8m104 0h8m-89 0h8m-35 0h8m-23 0h8m102 0h8m114 0h8m-133 0h8m-135 0h8m172 0h8m-31 0h8m-49 0h8m-103 0h8m3 0h8m81 0h8m-65 0h8m49 1h8m-105 0h8m62 0h8m-30 0h8m-14 0h8m15 0h8m-8 0h8m-65 0h8m102 0h8m-184 0h8m203 0h8m-51 0h8m-23 0h8m25 0h8m-91 0h8m-24 0h8m11 0h8m-62 0h8m206 0h8m-90 0h8m-50 0h8m-36 1h8m19 0h8m28 0h8m-71 0h8m-22 0h8m-32 0h8m92 0h8m6 0h8m-69 0h8m25 0h8m-19 0h8m15 0h8m-50 0h8m-4 0h8m-10 0h8m-45 0h8m-5 0h8m31 0h8m-71 0h8m77 1h8m-19 0h8m-102 0h8m85 0h8m-49 0h8m93 0h8m-126 0h8m-53 0h8m78 0h8m32 0h8m-111 0h8m98 0h8m-182 0h8m133 0h8m-7 0h8m14 0h8m-84 0h8m39 0h8m-113 0h8m60 0h8m-55 0h8m171 1h8m-170 0h8m49 0h8m-28 0h8m-29 0h8m34 0h8m41 0h8m-101 0h8m41 0h8m130 0h8m-221 0h8m19 0h8m-48 0h8m116 0h8m-35 0h8m129 0h8m-164 0h8m-13 0h8m56 0h8m-20 0h8m-18 0h8m-54 0h8m46 0h8m49 1h8m-224 0h8m156 0h8m-127 0h8m185 0h8m-119 0h8m-79 0h8m75 0h8m20 0h8m-68 0h8m72 0h8m-14 0h8m51 0h8m-160 0h8m-28 0h8m90 0h8m-76 0h8m-59 0h8m-45 0h8m74 0h8m-67 0h8m93 0h8m-23 0h8m119 1h8m-68 0h8m-68 0h8m-14 0h8m-66 0h8m47 0h8m5 0h8m-23 0h8m-103 0h8m50 0h8m-69 0h8m125 0h8m101 0h8m-218 0h8m109 0h8m-46 0h8m-100 0h8m140 0h8m-27 0h8m-110 0h8m-67 0h8m-2 1h8m58 0h8m73 0h8m-46 0h8m-86 0h8m-10 0h8m64 0h8m-31 0h8m-29 0h8m113 0h8m-169 0h8m65 0h8m-7 0h8m-4 0h8m-23 0h8m-77 0h8m274 0h8m-230 0h8m18 0h8m-17 0h8m12 0h8m48 0h8m-52 0h8m-73 0h8m5 0h8m58 0h8m53 0h8m-109 0h8m35 1h8m-161 0h8m24 0h8m67 0h8m-48 0h8m49 0h8m-6 0h8m3 0h8m4 0h8m-75 0h8m8 0h8m58 0h8m-2 0h8m-35 0h8m-29 0h8m-8 0h8m-56 0h8m75 0h8m-62 1h8m6 0h8m62 0h8m-48 0h8m-62 0h8m46 0h8m-35 0h8m-17 0h8m163 0h8m-173 0h8m-6 0h8m24 0h8m23 0h8m-62 0h8m-66 0h8m58 0h8m-107 0h8m20 0h8m74 0h8m3 0h8m-83 0h8m63 0h8m49 0h8m-252 1h8m129 0h8m26 0h8m-84 0h8m61 0h8m-24 0h8m32 0h8m-31 0h8m-1 0h8m-57 0h8m53 0h8m-85 0h8m-56 0h8m174 0h8m-32 0h8m-50 0h8m6 0h8m39 0h8m-112 1h8m-1 0h8m-42 0h8m79 0h8m-20 0h8m34 0h8m-19 0h8m-8 0h8m-46 0h8m2 0h8m31 0h8m-86 0h8m-28 0h8m59 0h8m1 0h8m-64 0h8m99 0h8m-188 1h8m-7 0h8m109 0h8m-119 0h8m-24 0h8m40 0h8m118 0h8m-99 0h8m49 0h8m-6 0h8m42 0h8m-187 0h8m100 0h8m56 0h8m-153 0h8m63 1h8m-33 0h8m-93 0h8m6 0h8m36 0h8m161 0h8m-174 0h8m14 0h8m27 0h8m-44 0h8m49 0h8m-162 0h8m168 0h8m-162 0h8m157 0h8m-78 0h8m-67 0h8m78 0h8m-43 0h8m-91 0h8m64 0h8m2 0h8m-153 1h8m122 0h8m-9 0h8m2 0h8m-30 0h8m-55 0h8m114 0h8m-77 0h8m36 0h8m-120 0h8m107 0h8m-25 0h8m80 0h8m-58 0h8m-62 0h8m46 0h8m16 0h8m-117 0h8m19 0h8m-15 0h8m-56 0h8m99 0h8m-62 0h8m89 0h8m-68 1h8m-71 0h8m-28 0h8m90 0h8m2 0h8m-107 0h8m-17 0h8m121 0h8m-51 0h8m19 0h8m-31 0h8m-88 0h8m55 0h8m-130 0h8m110 0h8m-123 0h8m-17 0h8m43 0h8m64 0h8m11 0h8m-35 0h8m-51 0h8m82 0h8m-10 0h8m-57 1h8m-68 0h8m72 0h8m-50 0h8m-110 0h8m183 0h8m-110 0h8m-55 0h8m-24 0h8m58 0h8m31 0h8m-56 0h8m46 0h8m-60 0h8m-38 0h8m140 0h8m-187 0h8m29 0h8m103 0h8m-80 0h8m99 0h8m-113 0h8m-49 0h8m-45 0h8m75 0h8m40 0h8m-88 0h8m-66 0h8m138 0h8m-114 1h8m-91 0h8m185 0h8m-35 0h8m47 0h8m-123 0h8m-26 0h8m65 0h8m-65 0h8m36 0h8m-129 0h8m264 0h8m-115 0h8m-9 0h8m14 0h8m-63 0h8m36 0h8m37 0h8m26 0h8m-236 0h8m35 0h8m104 0h8m-102 0h8m34 0h8m-154 0h8m97 1h8m-39 0h8m49 0h8m-41 0h8m-91 0h8m102 0h8m127 0h8m-127 0h8m-12 0h8m-12 0h8m25 0h8m-17 0h8m-48 0h8m-5 0h8m-30 0h8m161 0h8m-152 0h8m-20 0h8m-17 0h8m-68 0h8m41 0h8m100 0h8m-42 0h8m19 0h8m-125 0h8m28 1h8m-3 0h8m-69 0h8m58 0h8m-8 0h8m-103 0h8m76 0h8m85 0h8m-55 0h8m-50 0h8m44 0h8m-91 0h8m68 0h8m-121 0h8m89 0h8m-75 0h8m86 1h8m47 0h8m-76 0h8m-77 0h8m-23 0h8m99 0h8m-39 0h8m23 0h8m-222 0h8m232 0h8m-46 0h8m-108 0h8m13 0h8m-133 0h8m95 0h8m88 0h8m-105 0h8m79 0h8m-119 1h8m89 0h8m68 0h8m-6 0h8m48 0h8m-222 0h8m88 0h8m-124 0h8m136 0h8m82 0h8m-297 0h8m43 0h8m13 0h8m40 0h8m62 0h8m-22 0h8m-10 0h8m16 0h8m-61 0h8m-44 0h8m57 0h8m-44 1h8m19 0h8m49 0h8m-83 0h8m-6 0h8m-29 0h8m-11 0h8m10 0h8m-90 0h8m107 0h8m-54 0h8m48 0h8m-62 1h8m56 0h8m-131 0h8m117 0h8m-12 0h8m1 0h8m-90 0h8m-18 0h8m-47 0h8m46 0h8m-40 0h8m-45 0h8m108 0h8m-84 0h8m50 0h8m16 0h8m91 0h8m-63 0h8m-131 0h8m74 0h8m16 0h8m-55 0h8m12 0h8m-18 0h8m-12 0h8m-29 1h8m51 0h8m-91 0h8m-69 0h8m72 0h8m-10 0h8m-24 0h8m61 0h8m-18 0h8m-117 0h8m55 0h8m19 0h8m-28 0h8m-21 0h8m95 0h8m-32 0h8m-81 0h8m-38 0h8m78 0h8m-98 0h8m67 1h8m-14 0h8m20 0h8m-138 0h8m118 0h8m-106 0h8m98 0h8m-99 0h8m0 0h8m36 0h8m34 0h8m0 0h8m-88 0h8m15 0h8m-76 0h8m112 0h8m2 0h8m-160 1h8m43 0h8m63 0h8m17 0h8m-161 0h8m106 0h8m-58 0h8m31 0h8m-49 0h8m-34 0h8m102 0h8m-21 0h8m-155 0h8m102 0h8m-18 1h8m33 0h8m-15 0h8m-2 0h8m-49 0h8m59 0h8m-129 0h8m-44 0h8m71 0h8m15 0h8m79 0h8m-181 0h8m47 0h8m-156 0h8m153 0h8m-143 0h8m223 0h8m-11 1h8m-105 0h8m-37 0h8m139 0h8m-63 0h8m0 0h8m-115 0h8m36 0h8m-65 0h8m120 0h8m-218 0h8m67 0h8m122 0h8m-12 0h8m-45 0h8m-101 0h8m45 0h8m-33 0h8m29 0h8m-110 0h8m96 1h8m3 0h8m-18 0h8m34 0h8m-165 0h8m144 0h8m-139 0h8m164 0h8m-191 0h8m84 0h8m46 0h8m-49 0h8m36 0h8m6 0h8m73 0h8m-209 0h8m55 0h8m25 0h8m16 0h8m-106 0h8m-2 0h8m49 0h8m-8 1h8m38 0h8m-56 0h8m-17 0h8m-19 0h8m-85 0h8m141 0h8m-84 0h8m39 0h8m5 0h8m-16 0h8m-145 0h8m98 0h8m29 0h8m23 0h8m-67 0h8m-86 0h8m125 1h8m-57 0h8m43 0h8m-117 0h8m-33 0h8m142 0h8m-83 0h8m-96 0h8m66 0h8m-21 0h8m-86 0h8m115 0h8m26 0h8m-127 0h8m-69 0h8m91 1h8m66 0h8m-117 0h8m70 0h8m-53 0h8m57 0h8m-66 0h8m66 0h8m-126 0h8m12 0h8m-103 0h8m-29 0h8m175 0h8m-39 0h8m-31 0h8m34 0h8m-74 0h8m17 1h8m54 0h8m-78 0h8m24 0h8m-17 0h8m-33 0h8m56 0h8m38 0h8m-102 0h8m-86 0h8m79 1h8m-82 0h8m82 0h8m-115 0h8m28 0h8m79 0h8m-112 0h8m56 0h8m-31 0h8m-128 0h8m124 0h8m28 0h8m-49 0h8m67 0h8m-41 0h8m28 0h8m-27 0h8m-123 1h8m135 0h8m-122 0h8m71 0h8m-69 0h8m-88 0h8m86 0h8m88 0h8m-195 0h8m214 0h8m-273 0h8m44 0h8m174 0h8m-127 0h8m-37 0h8m71 0h8m24 0h8m-79 0h8m57 0h8m7 1h8m-59 0h8m-4 0h8m-17 0h8m33 0h8m39 0h8m-35 0h8m3 0h8m-123 0h8m-35 0h8m62 0h8m-65 0h8m3 0h8m86 0h8m-40 0h8m-98 0h8m50 1h8m78 0h8m-99 0h8m-24 0h8m169 0h8m-130 0h8m-51 0h8m109 0h8m-208 0h8m151 0h8m33 0h8m-33 0h8m-115 0h8m-1 0h8m58 0h8m-2 0h8m-37 0h8m-64 0h8m-46 0h8m-3 0h8m133 1h8m-60 0h8m-23 0h8m16 0h8m52 0h8m-129 0h8m1 0h8m15 0h8m4 0h8m-7 0h8m23 0h8m42 0h8m-90 0h8m-41 0h8m-31 0h8m71 0h8m32 0h8m-42 0h8m39 0h8m-62 0h8m-89 0h8m-26 0h8m71 0h8m-4 0h8m-5 1h8m-15 0h8m-35 0h8m-39 0h8m-59 0h8m93 0h8m-44 0h8m-11 0h8m90 0h8m-24 0h8m-105 0h8m160 0h8m-50 0h8m-31 1h8m-104 0h8m-1 0h8m100 0h8m-101 0h8m77 0h8m-92 0h8m29 0h8m-16 0h8m-39 0h8m101 0h8m-147 0h8m-19 1h8m92 0h8m5 0h8m-122 0h8m158 0h8m-55 0h8m-44 1h8m-92 0h8m40 0h8m26 0h8m-74 0h8m120 0h8m-73 0h8m-26 0h8m63 0h8m-137 0h8m-29 0h8m158 0h8m10 0h8m-135 0h8m-78 0h8m59 0h8m18 0h8m40 0h8m5 0h8m-105 0h8m-39 0h8m114 1h8m-104 0h8m134 0h8m1 0h8m-123 0h8m-43 0h8m83 0h8m73 0h8m-113 0h8m56 0h8m-69 0h8m-42 0h8m25 0h8m-114 1h8m149 0h8m-95 0h8m-48 0h8m76 0h8m-38 0h8m-61 0h8m45 0h8m45 0h8m-102 1h8m15 0h8m57 0h8m-62 0h8m-100 0h8m-37 0h8m135 0h8m-41 0h8m-26 0h8m126 0h8m-72 0h8m-88 0h8m56 1h8m-31 0h8m43 0h8m-60 0h8m3 0h8m22 0h8m-6 0h8m-166 0h8m-37 0h8m146 0h8m-48 0h8m27 0h8m14 0h8m-56 1h8m10 0h8m0 0h8m-5 0h8m123 0h8m-85 0h8m-30 0h8m-45 0h8m66 0h8m-4 0h8m-74 0h8m-74 0h8m51 0h8m-87 1h8m77 0h8m-5 0h8m-80 0h8m144 0h8m-146 0h8m-28 0h8m-8 0h8m63 0h8m-67 0h8m3 0h8m-58 0h8m42 0h8m-6 0h8m-78 0h8m216 0h8m-97 1h8m7 0h8m-101 0h8m29 0h8m2 0h8m-17 0h8m70 0h8m-211 0h8m191 0h8m-10 1h8m27 0h8m-212 0h8m57 0h8m-6 0h8m-9 0h8m17 0h8m-62 0h8m83 0h8m-85 0h8m23 0h8m10 0h8m-60 0h8m53 0h8m77 0h8m-152 1h8m25 0h8m51 0h8m6 0h8m-44 0h8m48 0h8m-159 0h8m180 0h8m14 0h8m-160 0h8m62 0h8m-50 1h8m-66 0h8m-56 0h8m148 0h8m-77 0h8m-38 0h8m22 0h8m100 0h8m-114 0h8m108 0h8m-88 0h8m-85 0h8m8 0h8m-43 0h8m33 0h8m106 0h8m-109 0h8m18 0h8m-13 0h8m49 1h8m-36 0h8m-11 0h8m-4 0h8m-162 0h8m-16 0h8m181 0h8m-126 0h8m53 0h8m60 0h8m-39 1h8m-143 0h8m111 0h8m-153 0h8m124 0h8m12 0h8m-110 0h8m118 0h8m-116 0h8m56 0h8m-54 0h8m-19 1h8m-17 0h8m135 0h8m-86 0h8m1 0h8m-53 0h8m75 0h8m-93 0h8m103 0h8m-62 0h8m-130 0h8m75 0h8m32 0h8m-103 0h8m-28 1h8m115 0h8m-114 0h8m100 0h8m-23 0h8m3 0h8m-4 0h8m-33 1h8m-129 0h8m6 0h8m70 0h8m-74 0h8m2 0h8m-68 0h8m2 1h8m105 0h8m-3 0h8m-47 0h8m93 0h8m-115 0h8m30 1h8m105 0h8m-125 0h8m-30 0h8m40 0h8m-35 0h8m-75 0h8m110 0h8m-86 0h8m135 1h8m-112 0h8m-51 0h8m103 0h8m-61 0h8m98 0h8m-215 0h8m157 0h8m-115 0h8m87 0h8m-104 1h8m77 0h8m-70 0h8m-40 0h8m-2 0h8m72 0h8m-69 0h8m5 0h8m5 0h8m-13 0h8m-25 0h8m-2 0h8m108 1h8m-136 0h8m-33 0h8m-35 0h8m116 0h8m-42 0h8m-146 0h8m72 0h8m120 1h8m-159 0h8m197 0h8m-44 0h8m-135 0h8m-45 0h8m31 0h8m-13 0h8m95 1h8m-44 0h8m-42 0h8m-68 0h8m88 0h8m31 0h8m-144 0h8m-9 0h8m38 1h8m-28 0h8m-32 0h8m49 0h8m-38 0h8m-42 0h8m106 0h8m-52 0h8m-64 1h8m50 0h8m62 0h8m-108 0h8m-81 0h8m1 0h8m133 0h8m-178 0h8m153 1h8m36 0h8m-165 0h8m-17 0h8m101 1h8m80 0h8m-94 0h8m-40 0h8m-30 0h8m-37 0h8m-54 0h8m43 1h8m67 0h8m-70 0h8m44 1h8m15 0h8m-94 0h8m-27 1h8m-16 0h8m122 0h8m-76 1h8m-72 0h8m156 1h8m-84 0h8m-82 0h8m58 0h8m125 1h8m-87 0h8m-165 0h8m18 0h8m5 0h8m40 1h8m-44 0h8m61 0h8m16 0h8m-103 0h8m-22 0h8m33 1h8m60 0h8m-99 1h8m-10 0h8m74 0h8m-48 0h8m-10 0h8m30 1h8m-67 0h8m-1 0h8m-7 0h8m-14 0h8m26 0h8m-49 0h8m35 0h8m-21 1h8m-24 0h8m-26 0h8m-22 0h8m88 1h8m-108 1h8m113 0h8m-65 0h8m-145 1h8m119 0h8m-125 1h8m48 0h8m39 1h8m-10 1h8m22 1h8m-66 0h8m-32 0h8m-1 0h8m-24 0h8m64 2h8m-116 0h8m134 0h8m-51 0h8m-51 1h8m121 0h8m-50 1h8m-155 0h8m77 0h8m54 1h8m20 0h8m-89 1h8m-62 0h8m-23 0h8m74 1h8m5 0h8m-16 0h8m22 1h8m-32 0h8m-14 0h8m4 0h8m-58 0h8m29 1h8m49 0h8m8 0h8m-39 0h8m-174 0h8m127 1h8m-25 1h8m-20 1h8m38 0h8m-47 2h8m42 0h8m-137 0h8m30 1h8m97 0h8m-21 1h8m35 1h8m-75 1h8m-150 1h8m160 0h8m-35 1h8m21 0h8m51 3h8m-231 2h8m127 1h8m-7 0h8m-23 1h8m-1 0h8m-15 1h8m-36 5h8m-71 2h8m68 1h8m-56 0h8m61 2h8m-81 10h8m-5 5h8m-37 0h8m52 5h8" stroke="#7a1488" stroke-width="8" fill="none" opacity="0.9"/>
</g>
<ellipse cx="290" cy="184.8" rx="9.5" ry="4.6" fill="#700c84" filter="url(#b1)" transform="rotate(-14 290 184.8)"/>
<text x="239.20" y="214.10" font-size="3.5" text-anchor="middle" fill="#333">10<tspan font-size="0.7em" dy="-0.5em">0</tspan><tspan dy="0.350em">&#8203;</tspan></text>
<line x1="240.00" y1="207.50" x2="240.00" y2="208.70" stroke="#333" stroke-width="0.5"/>
<text x="261.95" y="214.10" font-size="3.5" text-anchor="middle" fill="#333">10<tspan font-size="0.7em" dy="-0.5em">1</tspan><tspan dy="0.350em">&#8203;</tspan></text>
<line x1="262.75" y1="207.50" x2="262.75" y2="208.70" stroke="#333" stroke-width="0.5"/>
<text x="284.70" y="214.10" font-size="3.5" text-anchor="middle" fill="#333">10<tspan font-size="0.7em" dy="-0.5em">2</tspan><tspan dy="0.350em">&#8203;</tspan></text>
<line x1="285.50" y1="207.50" x2="285.50" y2="208.70" stroke="#333" stroke-width="0.5"/>
<text x="307.45" y="214.10" font-size="3.5" text-anchor="middle" fill="#333">10<tspan font-size="0.7em" dy="-0.5em">3</tspan><tspan dy="0.350em">&#8203;</tspan></text>
<line x1="308.25" y1="207.50" x2="308.25" y2="208.70" stroke="#333" stroke-width="0.5"/>
<text x="330.20" y="214.10" font-size="3.5" text-anchor="middle" fill="#333">10<tspan font-size="0.7em" dy="-0.5em">4</tspan><tspan dy="0.350em">&#8203;</tspan></text>
<line x1="331.00" y1="207.50" x2="331.00" y2="208.70" stroke="#333" stroke-width="0.5"/>
<text x="285.50" y="217.50" font-size="3.3" font-weight="bold" text-anchor="middle" fill="#222">FL4-H</text>
<text transform="translate(134.20,54.90) rotate(-90)" font-size="10" text-anchor="middle" fill="#000" stroke="#000" stroke-width="0.2">BrdU</text>
<line x1="137.90" y1="42.00" x2="137.90" y2="71.80" stroke="#000" stroke-width="0.9"/>
<path d="M137.9 39L135.70000000000002 43.5H140.1Z" fill="#000"/>
<text transform="translate(134.20,171.50) rotate(-90)" font-size="10" text-anchor="middle" fill="#000" stroke="#000" stroke-width="0.2">BrdU</text>
<line x1="137.90" y1="157.50" x2="137.90" y2="187.50" stroke="#000" stroke-width="0.9"/>
<path d="M137.9 154.5L135.70000000000002 159.0H140.1Z" fill="#000"/>
<line x1="154.50" y1="109.00" x2="325.50" y2="109.00" stroke="#000" stroke-width="0.9"/>
<path d="M328.5 109L324.0 106.8V111.2Z" fill="#000"/>
<line x1="154.50" y1="219.20" x2="325.50" y2="219.20" stroke="#000" stroke-width="0.9"/>
<path d="M328.5 219.2L324.0 217.0V221.39999999999998Z" fill="#000"/>
<text x="241.80" y="117.90" font-size="9.4" font-weight="bold" text-anchor="middle" fill="#000">CD4</text>
<text x="244.40" y="232.60" font-size="9.6" font-weight="bold" text-anchor="middle" fill="#000">CD19</text>
<line x1="384.00" y1="20.85" x2="384.00" y2="89.65" stroke="#000" stroke-width="0.9"/>
<line x1="383.60" y1="89.25" x2="487.50" y2="89.25" stroke="#000" stroke-width="1.0"/>
<line x1="381.60" y1="89.25" x2="384.00" y2="89.25" stroke="#000" stroke-width="0.8"/>
<text transform="translate(381.10,89.25) rotate(-90)" font-size="6.3" text-anchor="middle" fill="#000">0</text>
<line x1="381.60" y1="75.65" x2="384.00" y2="75.65" stroke="#000" stroke-width="0.8"/>
<text transform="translate(381.10,75.65) rotate(-90)" font-size="6.3" text-anchor="middle" fill="#000">5</text>
<line x1="381.60" y1="62.05" x2="384.00" y2="62.05" stroke="#000" stroke-width="0.8"/>
<text transform="translate(381.10,62.05) rotate(-90)" font-size="6.3" text-anchor="middle" fill="#000">10</text>
<line x1="381.60" y1="48.45" x2="384.00" y2="48.45" stroke="#000" stroke-width="0.8"/>
<text transform="translate(381.10,48.45) rotate(-90)" font-size="6.3" text-anchor="middle" fill="#000">15</text>
<line x1="381.60" y1="34.85" x2="384.00" y2="34.85" stroke="#000" stroke-width="0.8"/>
<text transform="translate(381.10,34.85) rotate(-90)" font-size="6.3" text-anchor="middle" fill="#000">20</text>
<line x1="381.60" y1="21.25" x2="384.00" y2="21.25" stroke="#000" stroke-width="0.8"/>
<text transform="translate(381.10,21.25) rotate(-90)" font-size="6.3" text-anchor="middle" fill="#000">25</text>
<line x1="397.75" y1="40.50" x2="397.75" y2="35.00" stroke="#000" stroke-width="1.1"/>
<line x1="393.35" y1="35.00" x2="402.15" y2="35.00" stroke="#000" stroke-width="1.1"/>
<rect x="389.20" y="40.50" width="17.10" height="48.75" fill="#fff" stroke="#000" stroke-width="1.1"/>
<line x1="423.35" y1="45.50" x2="423.35" y2="42.00" stroke="#000" stroke-width="1.1"/>
<line x1="418.95" y1="42.00" x2="427.75" y2="42.00" stroke="#000" stroke-width="1.1"/>
<rect x="414.70" y="45.50" width="17.30" height="43.75" fill="#a8a8a8" stroke="#000" stroke-width="1.1"/>
<line x1="448.85" y1="45.00" x2="448.85" y2="38.00" stroke="#000" stroke-width="1.1"/>
<line x1="444.45" y1="38.00" x2="453.25" y2="38.00" stroke="#000" stroke-width="1.1"/>
<rect x="440.20" y="45.00" width="17.30" height="44.25" fill="#5a5a5a" stroke="#000" stroke-width="1.1"/>
<line x1="474.35" y1="60.50" x2="474.35" y2="59.00" stroke="#000" stroke-width="1.1"/>
<line x1="469.95" y1="59.00" x2="478.75" y2="59.00" stroke="#000" stroke-width="1.1"/>
<rect x="465.70" y="60.50" width="17.30" height="28.75" fill="#000" stroke="#000" stroke-width="1.1"/>
<text transform="translate(398.95,95.65) rotate(-45)" font-size="7.6" text-anchor="end" fill="#000">Control</text>
<text transform="translate(424.55,95.65) rotate(-45)" font-size="7.6" text-anchor="end" fill="#000">WT CD8+</text>
<text transform="translate(450.05,95.65) rotate(-45)" font-size="7.6" text-anchor="end" fill="#000">Naive β3<tspan font-size="0.68em" dy="-0.62em">-/-</tspan><tspan dy="0.422em">&#8203;</tspan> CD8+</text>
<text transform="translate(475.55,95.65) rotate(-45)" font-size="7.6" text-anchor="end" fill="#000">Imm β3-/- CD8+</text>
<text transform="translate(373.50,54.00) rotate(-90)" font-size="7.8" text-anchor="middle" fill="#000" stroke="#000" stroke-width="0.15">CD4<tspan font-size="0.68em" dy="-0.62em">+</tspan><tspan dy="0.422em">&#8203;</tspan>BrdU%</text>
<text x="474.30" y="58.00" font-size="6.5" text-anchor="middle" fill="#000">*</text>
<line x1="384.40" y1="147.10" x2="384.40" y2="215.50" stroke="#000" stroke-width="0.9"/>
<line x1="384.00" y1="215.10" x2="487.50" y2="215.10" stroke="#000" stroke-width="1.0"/>
<line x1="382.00" y1="215.10" x2="384.40" y2="215.10" stroke="#000" stroke-width="0.8"/>
<text transform="translate(381.50,215.10) rotate(-90)" font-size="6.3" text-anchor="middle" fill="#000">0</text>
<line x1="382.00" y1="198.20" x2="384.40" y2="198.20" stroke="#000" stroke-width="0.8"/>
<text transform="translate(381.50,198.20) rotate(-90)" font-size="6.3" text-anchor="middle" fill="#000">5</text>
<line x1="382.00" y1="181.30" x2="384.40" y2="181.30" stroke="#000" stroke-width="0.8"/>
<text transform="translate(381.50,181.30) rotate(-90)" font-size="6.3" text-anchor="middle" fill="#000">10</text>
<line x1="382.00" y1="164.40" x2="384.40" y2="164.40" stroke="#000" stroke-width="0.8"/>
<text transform="translate(381.50,164.40) rotate(-90)" font-size="6.3" text-anchor="middle" fill="#000">15</text>
<line x1="382.00" y1="147.50" x2="384.40" y2="147.50" stroke="#000" stroke-width="0.8"/>
<text transform="translate(381.50,147.50) rotate(-90)" font-size="6.3" text-anchor="middle" fill="#000">20</text>
<line x1="397.75" y1="158.60" x2="397.75" y2="155.80" stroke="#000" stroke-width="1.1"/>
<line x1="393.35" y1="155.80" x2="402.15" y2="155.80" stroke="#000" stroke-width="1.1"/>
<rect x="389.20" y="158.60" width="17.10" height="56.50" fill="#fff" stroke="#000" stroke-width="1.1"/>
<line x1="423.35" y1="163.80" x2="423.35" y2="161.40" stroke="#000" stroke-width="1.1"/>
<line x1="418.95" y1="161.40" x2="427.75" y2="161.40" stroke="#000" stroke-width="1.1"/>
<rect x="414.70" y="163.80" width="17.30" height="51.30" fill="#a8a8a8" stroke="#000" stroke-width="1.1"/>
<line x1="448.85" y1="163.50" x2="448.85" y2="160.80" stroke="#000" stroke-width="1.1"/>
<line x1="444.45" y1="160.80" x2="453.25" y2="160.80" stroke="#000" stroke-width="1.1"/>
<rect x="440.20" y="163.50" width="17.30" height="51.60" fill="#5a5a5a" stroke="#000" stroke-width="1.1"/>
<line x1="474.35" y1="176.00" x2="474.35" y2="174.00" stroke="#000" stroke-width="1.1"/>
<line x1="469.95" y1="174.00" x2="478.75" y2="174.00" stroke="#000" stroke-width="1.1"/>
<rect x="465.70" y="176.00" width="17.30" height="39.10" fill="#000" stroke="#000" stroke-width="1.1"/>
<text transform="translate(398.95,221.50) rotate(-45)" font-size="7.6" text-anchor="end" fill="#000">Control</text>
<text transform="translate(424.55,221.50) rotate(-45)" font-size="7.6" text-anchor="end" fill="#000">WT CD8+</text>
<text transform="translate(450.05,221.50) rotate(-45)" font-size="7.6" text-anchor="end" fill="#000">Naive β3<tspan font-size="0.68em" dy="-0.62em">-/-</tspan><tspan dy="0.422em">&#8203;</tspan> CD8+</text>
<text transform="translate(475.55,221.50) rotate(-45)" font-size="7.6" text-anchor="end" fill="#000">Imm β3<tspan font-size="0.68em" dy="-0.62em">-/-</tspan><tspan dy="0.422em">&#8203;</tspan> CD8+</text>
<text transform="translate(373.50,181.00) rotate(-90)" font-size="7.8" text-anchor="middle" fill="#000" stroke="#000" stroke-width="0.15">CD19<tspan font-size="0.68em" dy="-0.62em">+</tspan><tspan dy="0.422em">&#8203;</tspan>BrdU%</text>
<text x="474.30" y="173.00" font-size="6.5" text-anchor="middle" fill="#000">*</text>
<line x1="76.20" y1="264.50" x2="76.20" y2="370.70" stroke="#000" stroke-width="1.1"/>
<line x1="75.70" y1="370.20" x2="235.00" y2="370.20" stroke="#000" stroke-width="1.1"/>
<line x1="73.20" y1="370.20" x2="76.20" y2="370.20" stroke="#000" stroke-width="1.0"/>
<text x="72.20" y="373.10" font-size="8.3" font-weight="bold" text-anchor="end" fill="#000">0</text>
<line x1="73.20" y1="343.90" x2="76.20" y2="343.90" stroke="#000" stroke-width="1.0"/>
<text x="72.20" y="346.80" font-size="8.3" font-weight="bold" text-anchor="end" fill="#000">5</text>
<line x1="73.20" y1="317.60" x2="76.20" y2="317.60" stroke="#000" stroke-width="1.0"/>
<text x="72.20" y="320.50" font-size="8.3" font-weight="bold" text-anchor="end" fill="#000">10</text>
<line x1="73.20" y1="291.30" x2="76.20" y2="291.30" stroke="#000" stroke-width="1.0"/>
<text x="72.20" y="294.20" font-size="8.3" font-weight="bold" text-anchor="end" fill="#000">15</text>
<line x1="73.20" y1="265.00" x2="76.20" y2="265.00" stroke="#000" stroke-width="1.0"/>
<text x="72.20" y="267.90" font-size="8.3" font-weight="bold" text-anchor="end" fill="#000">20</text>
<line x1="103.00" y1="293.75" x2="103.00" y2="288.75" stroke="#000" stroke-width="1.4"/>
<line x1="94.50" y1="288.75" x2="111.50" y2="288.75" stroke="#000" stroke-width="1.4"/>
<rect x="85.00" y="293.75" width="36.00" height="76.45" fill="#fff" stroke="#000" stroke-width="1.4"/>
<line x1="155.65" y1="301.75" x2="155.65" y2="298.75" stroke="#000" stroke-width="1.4"/>
<line x1="147.15" y1="298.75" x2="164.15" y2="298.75" stroke="#000" stroke-width="1.4"/>
<rect x="137.50" y="301.75" width="36.30" height="68.45" fill="#000" stroke="#000" stroke-width="1.4"/>
<line x1="208.75" y1="315.00" x2="208.75" y2="310.00" stroke="#000" stroke-width="1.4"/>
<line x1="200.25" y1="310.00" x2="217.25" y2="310.00" stroke="#000" stroke-width="1.4"/>
<rect x="190.50" y="315.00" width="36.50" height="55.20" fill="#808080" stroke="#808080" stroke-width="1.4"/>
<line x1="103.00" y1="370.20" x2="103.00" y2="373.20" stroke="#000" stroke-width="1.0"/>
<line x1="155.65" y1="370.20" x2="155.65" y2="373.20" stroke="#000" stroke-width="1.0"/>
<line x1="208.75" y1="370.20" x2="208.75" y2="373.20" stroke="#000" stroke-width="1.0"/>
<text x="208.70" y="306.50" font-size="9" font-weight="bold" text-anchor="middle" fill="#000">*</text>
<text transform="translate(58.90,316.10) rotate(-90)" font-size="10.1" font-weight="bold" text-anchor="middle" fill="#000">Platelet associated IgG (%)</text>
<text transform="translate(104.80,381.30) rotate(-45)" font-size="7.6" font-weight="bold" text-anchor="end" fill="#000">Control</text>
<text transform="translate(157.60,379.30) rotate(-45)" font-size="7.6" font-weight="bold" text-anchor="end" fill="#000">Naive <tspan font-weight="normal">β</tspan>3<tspan font-size="0.68em" dy="-0.62em">-/-</tspan><tspan dy="0.422em">&#8203;</tspan> CD8 <tspan font-size="0.68em" dy="-0.62em">+</tspan><tspan dy="0.422em">&#8203;</tspan></text>
<text transform="translate(211.30,378.60) rotate(-45)" font-size="7.6" font-weight="bold" text-anchor="end" fill="#000">Imm <tspan font-weight="normal">β</tspan>3<tspan font-size="0.68em" dy="-0.62em">-/-</tspan><tspan dy="0.422em">&#8203;</tspan>CD8 <tspan font-size="0.68em" dy="-0.62em">+</tspan><tspan dy="0.422em">&#8203;</tspan></text>
<line x1="270.00" y1="271.00" x2="270.00" y2="350.40" stroke="#000" stroke-width="0.9"/>
<line x1="270.00" y1="355.20" x2="270.00" y2="370.60" stroke="#000" stroke-width="0.9"/>
<line x1="269.60" y1="370.20" x2="421.00" y2="370.20" stroke="#000" stroke-width="0.9"/>
<line x1="267.80" y1="271.30" x2="270.00" y2="271.30" stroke="#000" stroke-width="0.8"/>
<text x="266.80" y="273.10" font-size="5.0" font-weight="bold" text-anchor="end" fill="#000">250</text>
<line x1="267.80" y1="297.50" x2="270.00" y2="297.50" stroke="#000" stroke-width="0.8"/>
<text x="266.80" y="299.30" font-size="5.0" font-weight="bold" text-anchor="end" fill="#000">225</text>
<line x1="267.80" y1="323.80" x2="270.00" y2="323.80" stroke="#000" stroke-width="0.8"/>
<text x="266.80" y="325.60" font-size="5.0" font-weight="bold" text-anchor="end" fill="#000">200</text>
<line x1="267.80" y1="350.00" x2="270.00" y2="350.00" stroke="#000" stroke-width="0.8"/>
<text x="266.80" y="351.80" font-size="5.0" font-weight="bold" text-anchor="end" fill="#000">175</text>
<line x1="267.80" y1="355.40" x2="270.00" y2="355.40" stroke="#000" stroke-width="0.8"/>
<text x="266.80" y="357.20" font-size="5.0" font-weight="bold" text-anchor="end" fill="#000">25</text>
<line x1="267.80" y1="370.20" x2="270.00" y2="370.20" stroke="#000" stroke-width="0.8"/>
<text x="266.80" y="372.00" font-size="5.0" font-weight="bold" text-anchor="end" fill="#000">0</text>
<line x1="289.20" y1="330.00" x2="289.20" y2="321.20" stroke="#000" stroke-width="1.0"/>
<line x1="282.95" y1="321.20" x2="295.45" y2="321.20" stroke="#000" stroke-width="1.0"/>
<rect x="276.40" y="330.00" width="25.60" height="40.20" fill="#fff" stroke="#000" stroke-width="1.0"/>
<line x1="327.10" y1="317.60" x2="327.10" y2="309.60" stroke="#000" stroke-width="1.0"/>
<line x1="320.85" y1="309.60" x2="333.35" y2="309.60" stroke="#000" stroke-width="1.0"/>
<rect x="314.20" y="317.60" width="25.80" height="52.60" fill="#a8a8a8" stroke="#000" stroke-width="1.0"/>
<line x1="364.70" y1="308.50" x2="364.70" y2="300.80" stroke="#000" stroke-width="1.0"/>
<line x1="358.45" y1="300.80" x2="370.95" y2="300.80" stroke="#000" stroke-width="1.0"/>
<rect x="351.80" y="308.50" width="25.80" height="61.70" fill="#5a5a5a" stroke="#000" stroke-width="1.0"/>
<line x1="402.70" y1="295.00" x2="402.70" y2="289.20" stroke="#000" stroke-width="1.0"/>
<line x1="396.45" y1="289.20" x2="408.95" y2="289.20" stroke="#000" stroke-width="1.0"/>
<rect x="389.80" y="295.00" width="25.80" height="75.20" fill="#000" stroke="#000" stroke-width="1.0"/>
<rect x="271.4" y="350.9" width="150" height="4.0" fill="#fff"/>
<line x1="289.20" y1="370.20" x2="289.20" y2="372.40" stroke="#000" stroke-width="0.8"/>
<text x="289.20" y="377.90" font-size="6.7" font-weight="bold" text-anchor="middle" fill="#000">2x10<tspan font-size="0.68em" dy="-0.6em">5</tspan><tspan dy="0.408em">&#8203;</tspan></text>
<line x1="327.10" y1="370.20" x2="327.10" y2="372.40" stroke="#000" stroke-width="0.8"/>
<text x="327.10" y="377.90" font-size="6.7" font-weight="bold" text-anchor="middle" fill="#000">4x10<tspan font-size="0.68em" dy="-0.6em">5</tspan><tspan dy="0.408em">&#8203;</tspan></text>
<line x1="364.70" y1="370.20" x2="364.70" y2="372.40" stroke="#000" stroke-width="0.8"/>
<text x="364.70" y="377.90" font-size="6.7" font-weight="bold" text-anchor="middle" fill="#000">6x10<tspan font-size="0.68em" dy="-0.6em">5</tspan><tspan dy="0.408em">&#8203;</tspan></text>
<line x1="402.70" y1="370.20" x2="402.70" y2="372.40" stroke="#000" stroke-width="0.8"/>
<text x="402.70" y="377.90" font-size="6.7" font-weight="bold" text-anchor="middle" fill="#000">1x10<tspan font-size="0.68em" dy="-0.6em">6</tspan><tspan dy="0.408em">&#8203;</tspan></text>
<text x="402.80" y="286.80" font-size="7" font-weight="bold" text-anchor="middle" fill="#000">*</text>
<text transform="translate(254.10,320.30) rotate(-90)" font-size="7.0" font-weight="bold" text-anchor="middle" fill="#000">IL-10 (pg/mL)</text>
<text x="350.00" y="388.80" font-size="7.4" font-weight="bold" text-anchor="middle" fill="#000">Immunized β3<tspan font-size="0.68em" dy="-0.62em">-/-</tspan><tspan dy="0.422em">&#8203;</tspan> CD8<tspan font-size="0.68em" dy="-0.62em">+</tspan><tspan dy="0.422em">&#8203;</tspan> T cells</text>
<line x1="27.20" y1="470.35" x2="27.20" y2="574.60" stroke="#000" stroke-width="1.1"/>
<line x1="26.70" y1="574.10" x2="185.50" y2="574.10" stroke="#000" stroke-width="1.1"/>
<line x1="24.20" y1="574.10" x2="27.20" y2="574.10" stroke="#000" stroke-width="1.0"/>
<text x="22.60" y="576.90" font-size="7.9" font-weight="bold" text-anchor="end" fill="#000">0</text>
<line x1="24.20" y1="553.45" x2="27.20" y2="553.45" stroke="#000" stroke-width="1.0"/>
<text x="22.60" y="556.25" font-size="7.9" font-weight="bold" text-anchor="end" fill="#000">5</text>
<line x1="24.20" y1="532.80" x2="27.20" y2="532.80" stroke="#000" stroke-width="1.0"/>
<text x="22.60" y="535.60" font-size="7.9" font-weight="bold" text-anchor="end" fill="#000">10</text>
<line x1="24.20" y1="512.15" x2="27.20" y2="512.15" stroke="#000" stroke-width="1.0"/>
<text x="22.60" y="514.95" font-size="7.9" font-weight="bold" text-anchor="end" fill="#000">15</text>
<line x1="24.20" y1="491.50" x2="27.20" y2="491.50" stroke="#000" stroke-width="1.0"/>
<text x="22.60" y="494.30" font-size="7.9" font-weight="bold" text-anchor="end" fill="#000">20</text>
<line x1="24.20" y1="470.85" x2="27.20" y2="470.85" stroke="#000" stroke-width="1.0"/>
<text x="22.60" y="473.65" font-size="7.9" font-weight="bold" text-anchor="end" fill="#000">25</text>
<line x1="38.30" y1="495.30" x2="38.30" y2="489.30" stroke="#000" stroke-width="1.1"/>
<line x1="35.55" y1="489.30" x2="41.05" y2="489.30" stroke="#000" stroke-width="1.1"/>
<rect x="33.00" y="495.30" width="10.60" height="78.80" fill="#fff" stroke="#000" stroke-width="1.1"/>
<line x1="48.70" y1="486.60" x2="48.70" y2="479.50" stroke="#000" stroke-width="1.1"/>
<line x1="45.95" y1="479.50" x2="51.45" y2="479.50" stroke="#000" stroke-width="1.1"/>
<rect x="43.60" y="486.60" width="10.20" height="87.50" fill="#d8d8d8" stroke="#000" stroke-width="1.1"/>
<line x1="69.60" y1="494.10" x2="69.60" y2="484.90" stroke="#000" stroke-width="1.1"/>
<line x1="66.85" y1="484.90" x2="72.35" y2="484.90" stroke="#000" stroke-width="1.1"/>
<rect x="64.30" y="494.10" width="10.60" height="80.00" fill="#6e6e6e" stroke="#333" stroke-width="1.1"/>
<line x1="80.20" y1="511.00" x2="80.20" y2="500.60" stroke="#000" stroke-width="1.1"/>
<line x1="77.45" y1="500.60" x2="82.95" y2="500.60" stroke="#000" stroke-width="1.1"/>
<rect x="74.90" y="511.00" width="10.60" height="63.10" fill="#000" stroke="#000" stroke-width="1.1"/>
<line x1="100.95" y1="508.60" x2="100.95" y2="504.80" stroke="#000" stroke-width="1.1"/>
<line x1="98.20" y1="504.80" x2="103.70" y2="504.80" stroke="#000" stroke-width="1.1"/>
<rect x="95.60" y="508.60" width="10.70" height="65.50" fill="#6e6e6e" stroke="#333" stroke-width="1.1"/>
<line x1="111.65" y1="524.00" x2="111.65" y2="520.30" stroke="#000" stroke-width="1.1"/>
<line x1="108.90" y1="520.30" x2="114.40" y2="520.30" stroke="#000" stroke-width="1.1"/>
<rect x="106.30" y="524.00" width="10.70" height="50.10" fill="#000" stroke="#000" stroke-width="1.1"/>
<line x1="132.40" y1="504.30" x2="132.40" y2="500.60" stroke="#000" stroke-width="1.1"/>
<line x1="129.65" y1="500.60" x2="135.15" y2="500.60" stroke="#000" stroke-width="1.1"/>
<rect x="127.00" y="504.30" width="10.80" height="69.80" fill="#6e6e6e" stroke="#333" stroke-width="1.1"/>
<line x1="143.20" y1="524.30" x2="143.20" y2="515.50" stroke="#000" stroke-width="1.1"/>
<line x1="140.45" y1="515.50" x2="145.95" y2="515.50" stroke="#000" stroke-width="1.1"/>
<rect x="137.80" y="524.30" width="10.80" height="49.80" fill="#000" stroke="#000" stroke-width="1.1"/>
<line x1="163.95" y1="504.80" x2="163.95" y2="496.80" stroke="#000" stroke-width="1.1"/>
<line x1="161.20" y1="496.80" x2="166.70" y2="496.80" stroke="#000" stroke-width="1.1"/>
<rect x="158.60" y="504.80" width="10.70" height="69.30" fill="#6e6e6e" stroke="#333" stroke-width="1.1"/>
<line x1="174.60" y1="516.80" x2="174.60" y2="510.30" stroke="#000" stroke-width="1.1"/>
<line x1="171.85" y1="510.30" x2="177.35" y2="510.30" stroke="#000" stroke-width="1.1"/>
<rect x="169.30" y="516.80" width="10.60" height="57.30" fill="#000" stroke="#000" stroke-width="1.1"/>
<text transform="translate(10.60,523.10) rotate(-90)" font-size="9.3" font-weight="bold" text-anchor="middle" fill="#000">CD4<tspan font-size="0.68em" dy="-0.62em">+</tspan><tspan dy="0.422em">&#8203;</tspan>BrdU<tspan font-size="0.68em" dy="-0.62em">+</tspan><tspan dy="0.422em">&#8203;</tspan>%</text>
<line x1="43.60" y1="574.10" x2="43.60" y2="577.10" stroke="#000" stroke-width="1.0"/>
<text transform="translate(43.90,583.70) rotate(-45)" font-size="7.8" font-weight="bold" text-anchor="end" fill="#000">Control</text>
<line x1="74.90" y1="574.10" x2="74.90" y2="577.10" stroke="#000" stroke-width="1.0"/>
<text transform="translate(75.40,583.70) rotate(-45)" font-size="7.8" font-weight="bold" text-anchor="end" fill="#000">CD8+</text>
<line x1="106.30" y1="574.10" x2="106.30" y2="577.10" stroke="#000" stroke-width="1.0"/>
<text transform="translate(107.90,583.70) rotate(-45)" font-size="7.8" font-weight="bold" text-anchor="end" fill="#000">CD8+CD103+</text>
<line x1="137.80" y1="574.10" x2="137.80" y2="577.10" stroke="#000" stroke-width="1.0"/>
<text transform="translate(139.90,583.70) rotate(-45)" font-size="7.8" font-weight="bold" text-anchor="end" fill="#000">CD8+CD122+</text>
<line x1="169.30" y1="574.10" x2="169.30" y2="577.10" stroke="#000" stroke-width="1.0"/>
<text transform="translate(171.40,583.70) rotate(-45)" font-size="7.8" font-weight="bold" text-anchor="end" fill="#000">CD8+CD25+</text>
<text x="37.40" y="486.00" font-size="8.2" text-anchor="middle" fill="#222">PBS</text>
<text x="49.20" y="476.40" font-size="8.2" text-anchor="middle" fill="#222">PLT</text>
<text x="80.20" y="501.40" font-size="9" font-weight="bold" text-anchor="middle" fill="#000">*</text>
<text x="101.00" y="506.20" font-size="9" font-weight="bold" text-anchor="middle" fill="#000">*</text>
<text x="112.40" y="521.40" font-size="9" font-weight="bold" text-anchor="middle" fill="#000" letter-spacing="1.2">**</text>
<text x="143.20" y="516.90" font-size="9" font-weight="bold" text-anchor="middle" fill="#000">*</text>
<text x="174.60" y="511.40" font-size="9" font-weight="bold" text-anchor="middle" fill="#000">*</text>
<text x="108.00" y="491.50" font-size="9" font-weight="bold" text-anchor="middle" fill="#000">*</text>
<path d="M101 496V490.9H114.8V496" fill="none" stroke="#000" stroke-width="1.4"/>
<rect x="44.00" y="442.80" width="11.00" height="4.90" fill="#6e6e6e" stroke="#000" stroke-width="0.9"/>
<rect x="44.00" y="451.30" width="11.00" height="4.90" fill="#000" stroke="#000" stroke-width="0.9"/>
<text x="61.20" y="447.80" font-size="8.8" fill="#000">WT BALB/c</text>
<text x="61.20" y="456.90" font-size="8.8" fill="#000">Imm β3 -/-</text>
<line x1="213.20" y1="463.60" x2="213.20" y2="574.60" stroke="#000" stroke-width="1.1"/>
<line x1="212.70" y1="574.10" x2="380.50" y2="574.10" stroke="#000" stroke-width="1.1"/>
<line x1="210.20" y1="574.10" x2="213.20" y2="574.10" stroke="#000" stroke-width="1.0"/>
<text x="208.60" y="576.90" font-size="7.9" font-weight="bold" text-anchor="end" fill="#000">0</text>
<line x1="210.20" y1="552.10" x2="213.20" y2="552.10" stroke="#000" stroke-width="1.0"/>
<text x="208.60" y="554.90" font-size="7.9" font-weight="bold" text-anchor="end" fill="#000">5</text>
<line x1="210.20" y1="530.10" x2="213.20" y2="530.10" stroke="#000" stroke-width="1.0"/>
<text x="208.60" y="532.90" font-size="7.9" font-weight="bold" text-anchor="end" fill="#000">10</text>
<line x1="210.20" y1="508.10" x2="213.20" y2="508.10" stroke="#000" stroke-width="1.0"/>
<text x="208.60" y="510.90" font-size="7.9" font-weight="bold" text-anchor="end" fill="#000">15</text>
<line x1="210.20" y1="486.10" x2="213.20" y2="486.10" stroke="#000" stroke-width="1.0"/>
<text x="208.60" y="488.90" font-size="7.9" font-weight="bold" text-anchor="end" fill="#000">20</text>
<line x1="210.20" y1="464.10" x2="213.20" y2="464.10" stroke="#000" stroke-width="1.0"/>
<text x="208.60" y="466.90" font-size="7.9" font-weight="bold" text-anchor="end" fill="#000">25</text>
<line x1="224.10" y1="486.90" x2="224.10" y2="479.90" stroke="#000" stroke-width="1.1"/>
<line x1="221.35" y1="479.90" x2="226.85" y2="479.90" stroke="#000" stroke-width="1.1"/>
<rect x="218.70" y="486.90" width="10.80" height="87.20" fill="#fff" stroke="#000" stroke-width="1.1"/>
<line x1="235.05" y1="476.60" x2="235.05" y2="472.40" stroke="#000" stroke-width="1.1"/>
<line x1="232.30" y1="472.40" x2="237.80" y2="472.40" stroke="#000" stroke-width="1.1"/>
<rect x="229.50" y="476.60" width="11.10" height="97.50" fill="#d8d8d8" stroke="#000" stroke-width="1.1"/>
<line x1="257.90" y1="495.30" x2="257.90" y2="489.90" stroke="#000" stroke-width="1.1"/>
<line x1="255.15" y1="489.90" x2="260.65" y2="489.90" stroke="#000" stroke-width="1.1"/>
<rect x="252.30" y="495.30" width="11.20" height="78.80" fill="#6e6e6e" stroke="#333" stroke-width="1.1"/>
<line x1="269.15" y1="524.80" x2="269.15" y2="514.80" stroke="#000" stroke-width="1.1"/>
<line x1="266.40" y1="514.80" x2="271.90" y2="514.80" stroke="#000" stroke-width="1.1"/>
<rect x="263.50" y="524.80" width="11.30" height="49.30" fill="#000" stroke="#000" stroke-width="1.1"/>
<line x1="291.10" y1="494.10" x2="291.10" y2="489.90" stroke="#000" stroke-width="1.1"/>
<line x1="288.35" y1="489.90" x2="293.85" y2="489.90" stroke="#000" stroke-width="1.1"/>
<rect x="285.50" y="494.10" width="11.20" height="80.00" fill="#6e6e6e" stroke="#333" stroke-width="1.1"/>
<line x1="302.30" y1="511.00" x2="302.30" y2="507.80" stroke="#000" stroke-width="1.1"/>
<line x1="299.55" y1="507.80" x2="305.05" y2="507.80" stroke="#000" stroke-width="1.1"/>
<rect x="296.70" y="511.00" width="11.20" height="63.10" fill="#000" stroke="#000" stroke-width="1.1"/>
<line x1="324.25" y1="499.30" x2="324.25" y2="491.60" stroke="#000" stroke-width="1.1"/>
<line x1="321.50" y1="491.60" x2="327.00" y2="491.60" stroke="#000" stroke-width="1.1"/>
<rect x="318.60" y="499.30" width="11.30" height="74.80" fill="#6e6e6e" stroke="#333" stroke-width="1.1"/>
<line x1="335.45" y1="512.30" x2="335.45" y2="506.60" stroke="#000" stroke-width="1.1"/>
<line x1="332.70" y1="506.60" x2="338.20" y2="506.60" stroke="#000" stroke-width="1.1"/>
<rect x="329.90" y="512.30" width="11.10" height="61.80" fill="#000" stroke="#000" stroke-width="1.1"/>
<line x1="357.90" y1="503.00" x2="357.90" y2="495.30" stroke="#000" stroke-width="1.1"/>
<line x1="355.15" y1="495.30" x2="360.65" y2="495.30" stroke="#000" stroke-width="1.1"/>
<rect x="352.30" y="503.00" width="11.20" height="71.10" fill="#6e6e6e" stroke="#333" stroke-width="1.1"/>
<line x1="369.10" y1="516.00" x2="369.10" y2="506.00" stroke="#000" stroke-width="1.1"/>
<line x1="366.35" y1="506.00" x2="371.85" y2="506.00" stroke="#000" stroke-width="1.1"/>
<rect x="363.50" y="516.00" width="11.20" height="58.10" fill="#000" stroke="#000" stroke-width="1.1"/>
<text transform="translate(194.00,518.30) rotate(-90)" font-size="10.4" font-weight="bold" text-anchor="middle" fill="#000">CD19<tspan font-size="0.68em" dy="-0.62em">+</tspan><tspan dy="0.422em">&#8203;</tspan>BrdU<tspan font-size="0.68em" dy="-0.62em">+</tspan><tspan dy="0.422em">&#8203;</tspan>%</text>
<line x1="229.60" y1="574.10" x2="229.60" y2="577.10" stroke="#000" stroke-width="1.0"/>
<text transform="translate(230.40,583.70) rotate(-45)" font-size="8.1" font-weight="bold" text-anchor="end" fill="#000">Control</text>
<line x1="263.50" y1="574.10" x2="263.50" y2="577.10" stroke="#000" stroke-width="1.0"/>
<text transform="translate(263.90,583.70) rotate(-45)" font-size="8.1" font-weight="bold" text-anchor="end" fill="#000">CD8+</text>
<line x1="296.70" y1="574.10" x2="296.70" y2="577.10" stroke="#000" stroke-width="1.0"/>
<text transform="translate(298.40,583.70) rotate(-45)" font-size="8.1" font-weight="bold" text-anchor="end" fill="#000">CD8+CD103+</text>
<line x1="329.90" y1="574.10" x2="329.90" y2="577.10" stroke="#000" stroke-width="1.0"/>
<text transform="translate(330.90,583.70) rotate(-45)" font-size="8.1" font-weight="bold" text-anchor="end" fill="#000">CD8+CD122+</text>
<line x1="363.50" y1="574.10" x2="363.50" y2="577.10" stroke="#000" stroke-width="1.0"/>
<text transform="translate(362.90,583.70) rotate(-45)" font-size="8.1" font-weight="bold" text-anchor="end" fill="#000">CD8+CD25+</text>
<text x="222.80" y="476.60" font-size="8.2" text-anchor="middle" fill="#222">PBS</text>
<text x="236.20" y="469.00" font-size="8.2" text-anchor="middle" fill="#222">PLT</text>
<text x="269.50" y="515.90" font-size="9" font-weight="bold" text-anchor="middle" fill="#000">*</text>
<text x="302.90" y="508.90" font-size="9" font-weight="bold" text-anchor="middle" fill="#000" letter-spacing="1.2">**</text>
<text x="336.10" y="507.40" font-size="9" font-weight="bold" text-anchor="middle" fill="#000" letter-spacing="1.2">**</text>
<text x="357.90" y="495.40" font-size="9" font-weight="bold" text-anchor="middle" fill="#000">*</text>
<text x="369.00" y="506.70" font-size="9" font-weight="bold" text-anchor="middle" fill="#000">*</text>
<text x="297.50" y="477.90" font-size="9" font-weight="bold" text-anchor="middle" fill="#000">*</text>
<path d="M290.6 483.5V477.7H304.8V483.5" fill="none" stroke="#000" stroke-width="1.4"/>
<line x1="419.60" y1="470.90" x2="419.60" y2="573.60" stroke="#000" stroke-width="0.9"/>
<line x1="419.20" y1="573.20" x2="518.00" y2="573.20" stroke="#000" stroke-width="0.9"/>
<line x1="417.00" y1="573.20" x2="419.60" y2="573.20" stroke="#000" stroke-width="0.8"/>
<text x="416.20" y="575.70" font-size="7.1" text-anchor="end" fill="#000">0</text>
<line x1="417.00" y1="547.80" x2="419.60" y2="547.80" stroke="#000" stroke-width="0.8"/>
<text x="416.20" y="550.30" font-size="7.1" text-anchor="end" fill="#000">5</text>
<line x1="417.00" y1="522.40" x2="419.60" y2="522.40" stroke="#000" stroke-width="0.8"/>
<text x="416.20" y="524.90" font-size="7.1" text-anchor="end" fill="#000">10</text>
<line x1="417.00" y1="497.00" x2="419.60" y2="497.00" stroke="#000" stroke-width="0.8"/>
<text x="416.20" y="499.50" font-size="7.1" text-anchor="end" fill="#000">15</text>
<line x1="417.00" y1="471.60" x2="419.60" y2="471.60" stroke="#000" stroke-width="0.8"/>
<text x="416.20" y="474.10" font-size="7.1" text-anchor="end" fill="#000">20</text>
<line x1="437.25" y1="495.30" x2="437.25" y2="489.40" stroke="#000" stroke-width="1.2"/>
<line x1="432.00" y1="489.40" x2="442.50" y2="489.40" stroke="#000" stroke-width="1.2"/>
<rect x="426.20" y="495.30" width="22.10" height="77.90" fill="#fff" stroke="#000" stroke-width="1.2"/>
<line x1="469.60" y1="499.30" x2="469.60" y2="492.70" stroke="#000" stroke-width="1.2"/>
<line x1="464.35" y1="492.70" x2="474.85" y2="492.70" stroke="#000" stroke-width="1.2"/>
<rect x="458.50" y="499.30" width="22.20" height="73.90" fill="#000" stroke="#000" stroke-width="1.2"/>
<line x1="502.10" y1="516.50" x2="502.10" y2="504.90" stroke="#000" stroke-width="1.2"/>
<line x1="496.85" y1="504.90" x2="507.35" y2="504.90" stroke="#000" stroke-width="1.2"/>
<rect x="491.20" y="516.50" width="21.80" height="56.70" fill="#808080" stroke="#000" stroke-width="1.2"/>
<line x1="437.25" y1="573.20" x2="437.25" y2="575.70" stroke="#000" stroke-width="0.8"/>
<line x1="469.60" y1="573.20" x2="469.60" y2="575.70" stroke="#000" stroke-width="0.8"/>
<line x1="502.10" y1="573.20" x2="502.10" y2="575.70" stroke="#000" stroke-width="0.8"/>
<text x="502.20" y="503.40" font-size="6.5" font-weight="bold" text-anchor="middle" fill="#000">*</text>
<text transform="translate(402.80,520.30) rotate(-90)" font-size="7.83" font-weight="bold" text-anchor="middle" fill="#000">Platelet associated IgG (%)</text>
<text transform="translate(437.40,583.60) rotate(-45)" font-size="7.8" font-weight="bold" text-anchor="end" fill="#000">Control</text>
<text transform="translate(471.20,583.00) rotate(-45)" font-size="7.8" font-weight="bold" text-anchor="end" fill="#000">Naive <tspan font-weight="normal">β</tspan>3<tspan font-size="0.68em" dy="-0.62em">-/-</tspan><tspan dy="0.422em">&#8203;</tspan>&#160; CD8+CD25+</text>
<text transform="translate(503.00,583.00) rotate(-45)" font-size="7.8" font-weight="bold" text-anchor="end" fill="#000">Imm <tspan font-weight="normal">β</tspan>3<tspan font-size="0.68em" dy="-0.62em">-/-</tspan><tspan dy="0.422em">&#8203;</tspan> CD8+CD25+</text>
</svg></body></html>
